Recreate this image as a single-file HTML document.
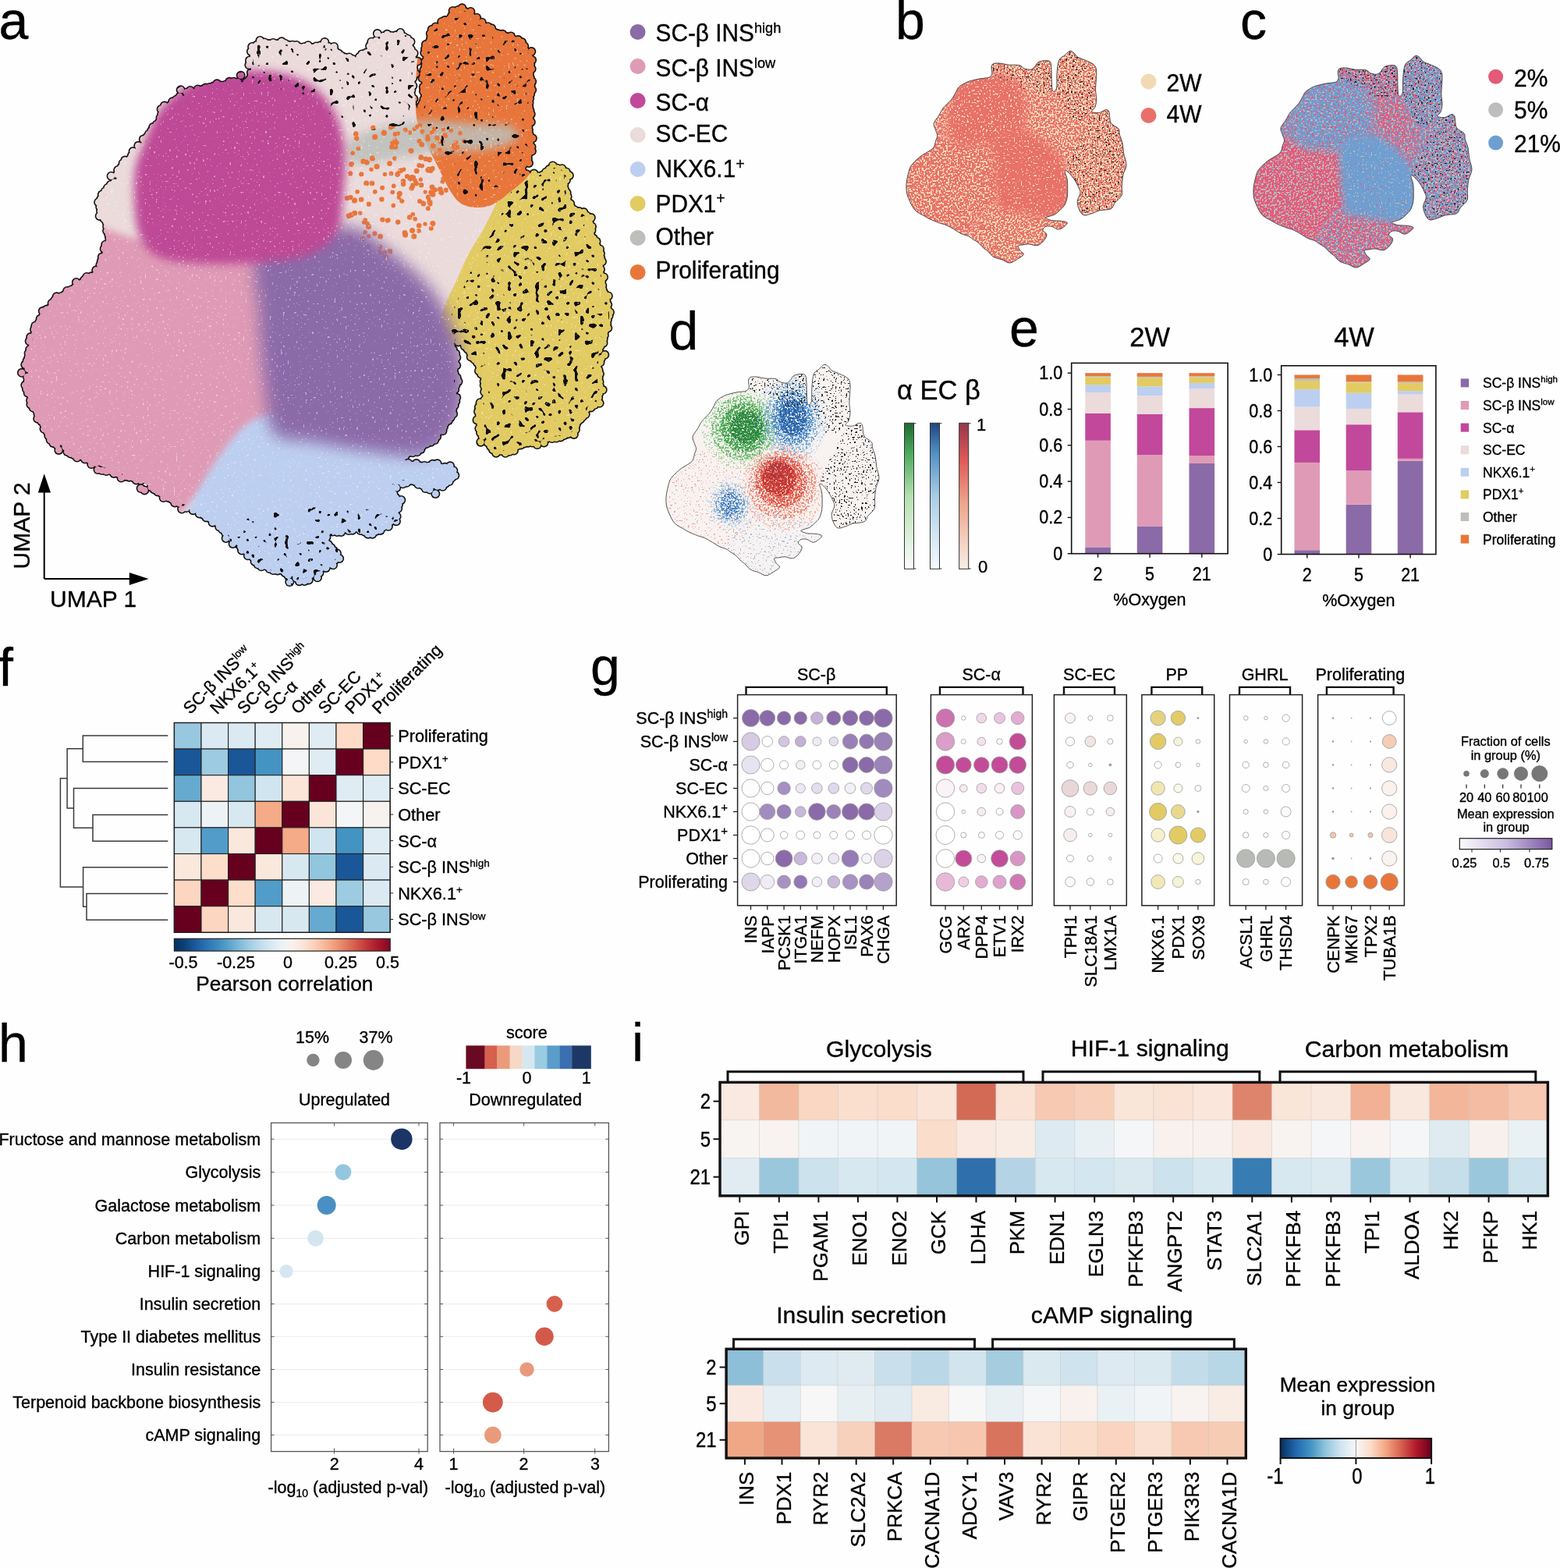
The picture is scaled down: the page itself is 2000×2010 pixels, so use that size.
<!DOCTYPE html>
<html><head><meta charset="utf-8"><title>Figure</title>
<style>html,body{margin:0;padding:0;background:#fff;}svg{display:block;}
text{font-family:"Liberation Sans", Arial, Helvetica, sans-serif;stroke:#000;stroke-width:0.35px;}</style></head>
<body><svg width="2000" height="2010" viewBox="0 0 2000 2010" font-family='"Liberation Sans", Arial, Helvetica, sans-serif'>
<rect width="2000" height="2010" fill="#fefefe"/>
<defs><filter id="spkDark" x="-5%" y="-5%" width="110%" height="110%" color-interpolation-filters="sRGB"><feTurbulence type="fractalNoise" baseFrequency="0.55" numOctaves="1" seed="7" result="n"/><feColorMatrix in="n" type="matrix" values="0 0 0 0 0.102 0 0 0 0 0.102 0 0 0 0 0.102 30 0 0 0 -18.00" result="c"/><feComposite in="c" in2="SourceGraphic" operator="in"/></filter>
<filter id="spkWhite" x="-5%" y="-5%" width="110%" height="110%" color-interpolation-filters="sRGB"><feTurbulence type="fractalNoise" baseFrequency="0.6" numOctaves="1" seed="11" result="n"/><feColorMatrix in="n" type="matrix" values="0 0 0 0 1.000 0 0 0 0 1.000 0 0 0 0 1.000 30 0 0 0 -18.60" result="c"/><feComposite in="c" in2="SourceGraphic" operator="in"/></filter>
<filter id="sqDark" x="-5%" y="-5%" width="110%" height="110%" color-interpolation-filters="sRGB"><feTurbulence type="fractalNoise" baseFrequency="0.14" numOctaves="1" seed="4" result="n"/><feColorMatrix in="n" type="matrix" values="0 0 0 0 0.05 0 0 0 0 0.05 0 0 0 0 0.05 -30 0 0 0 11.25" result="c"/><feComposite in="c" in2="SourceGraphic" operator="in"/></filter>
<filter id="sqDark2" x="-5%" y="-5%" width="110%" height="110%" color-interpolation-filters="sRGB"><feTurbulence type="fractalNoise" baseFrequency="0.14" numOctaves="1" seed="4" result="n"/><feColorMatrix in="n" type="matrix" values="0 0 0 0 0.05 0 0 0 0 0.05 0 0 0 0 0.05 -30 0 0 0 10.20" result="c"/><feComposite in="c" in2="SourceGraphic" operator="in"/></filter>
<filter id="spW" x="-5%" y="-5%" width="110%" height="110%" color-interpolation-filters="sRGB"><feTurbulence type="fractalNoise" baseFrequency="0.35" numOctaves="1" seed="9" result="n"/><feColorMatrix in="n" type="matrix" values="0 0 0 0 1 0 0 0 0 1 0 0 0 0 1 30 0 0 0 -20.4" result="c"/><feComposite in="c" in2="SourceGraphic" operator="in"/></filter>
<filter id="bl6" x="-20%" y="-20%" width="140%" height="140%"><feGaussianBlur stdDeviation="6"/></filter>
<filter id="bl10" x="-20%" y="-20%" width="140%" height="140%"><feGaussianBlur stdDeviation="10"/></filter>
<filter id="bl4" x="-20%" y="-20%" width="140%" height="140%"><feGaussianBlur stdDeviation="4"/></filter></defs>
<defs><mask id="maskA" maskUnits="userSpaceOnUse" x="0" y="0" width="820" height="780"><g fill="#fff"><path d="M326.0,91.0C327.3,85.3 323.3,75.7 324.0,70.0C324.7,64.3 325.3,59.5 330.0,57.0C334.7,54.5 345.7,54.8 352.0,55.0C358.3,55.2 362.3,57.0 368.0,58.0C373.7,59.0 379.5,60.5 386.0,61.0C392.5,61.5 401.0,60.7 407.0,61.0C413.0,61.3 417.3,61.0 422.0,63.0C426.7,65.0 429.3,70.7 435.0,73.0C440.7,75.3 450.2,77.8 456.0,77.0C461.8,76.2 465.7,72.2 470.0,68.0C474.3,63.8 476.5,55.7 482.0,52.0C487.5,48.3 496.3,46.5 503.0,46.0C509.7,45.5 518.0,45.0 522.0,49.0C526.0,53.0 526.0,59.8 527.0,70.0C528.0,80.2 527.5,97.5 528.0,110.0C528.5,122.5 528.7,138.0 530.0,145.0C531.3,152.0 533.5,153.2 536.0,152.0C538.5,150.8 543.3,148.3 545.0,138.0C546.7,127.7 544.7,105.5 546.0,90.0C547.3,74.5 548.7,55.3 553.0,45.0C557.3,34.7 566.0,33.3 572.0,28.0C578.0,22.7 583.8,14.5 589.0,13.0C594.2,11.5 598.7,15.7 603.0,19.0C607.3,22.3 609.2,29.0 615.0,33.0C620.8,37.0 629.8,39.3 638.0,43.0C646.2,46.7 657.5,50.8 664.0,55.0C670.5,59.2 674.3,62.2 677.0,68.0C679.7,73.8 680.0,77.2 680.0,90.0C680.0,102.8 677.0,130.0 677.0,145.0C677.0,160.0 680.3,169.8 680.0,180.0C679.7,190.2 677.7,199.0 675.0,206.0C672.3,213.0 661.5,218.8 664.0,222.0C666.5,225.2 682.2,226.2 690.0,225.0C697.8,223.8 705.7,215.7 711.0,215.0C716.3,214.3 719.7,216.5 722.0,221.0C724.3,225.5 723.7,235.2 725.0,242.0C726.3,248.8 725.0,255.5 730.0,262.0C735.0,268.5 750.3,274.7 755.0,281.0C759.7,287.3 755.8,291.8 758.0,300.0C760.2,308.2 765.7,319.2 768.0,330.0C770.3,340.8 769.8,352.5 772.0,365.0C774.2,377.5 781.3,392.5 781.0,405.0C780.7,417.5 772.5,427.7 770.0,440.0C767.5,452.3 766.8,467.3 766.0,479.0C765.2,490.7 769.0,500.5 765.0,510.0C761.0,519.5 748.0,528.3 742.0,536.0C736.0,543.7 737.7,551.7 729.0,556.0C720.3,560.3 700.8,559.3 690.0,562.0C679.2,564.7 672.7,569.3 664.0,572.0C655.3,574.7 644.8,579.7 638.0,578.0C631.2,576.3 626.8,569.8 623.0,562.0C619.2,554.2 614.7,541.0 615.0,531.0C615.3,521.0 624.2,509.8 625.0,502.0C625.8,494.2 623.0,491.3 620.0,484.0C617.0,476.7 612.0,466.0 607.0,458.0C602.0,450.0 595.2,441.7 590.0,436.0C584.8,430.3 578.7,424.7 576.0,424.0C573.3,423.3 573.2,426.8 574.0,432.0C574.8,437.2 579.7,446.3 581.0,455.0C582.3,463.7 582.0,474.0 582.0,484.0C582.0,494.0 582.5,505.5 581.0,515.0C579.5,524.5 576.5,534.0 573.0,541.0C569.5,548.0 565.7,551.3 560.0,557.0C554.3,562.7 546.3,570.7 539.0,575.0C531.7,579.3 521.2,580.8 516.0,583.0C510.8,585.2 505.8,585.8 508.0,588.0C510.2,590.2 520.3,594.3 529.0,596.0C537.7,597.7 551.3,596.7 560.0,598.0C568.7,599.3 579.7,600.5 581.0,604.0C582.3,607.5 573.2,615.2 568.0,619.0C562.8,622.8 556.5,627.3 550.0,627.0C543.5,626.7 536.0,618.7 529.0,617.0C522.0,615.3 513.2,614.8 508.0,617.0C502.8,619.2 497.5,625.7 498.0,630.0C498.5,634.3 509.8,637.8 511.0,643.0C512.2,648.2 509.0,655.0 505.0,661.0C501.0,667.0 492.5,675.5 487.0,679.0C481.5,682.5 478.0,682.3 472.0,682.0C466.0,681.7 458.0,677.3 451.0,677.0C444.0,676.7 436.2,679.0 430.0,680.0C423.8,681.0 415.3,679.7 414.0,683.0C412.7,686.3 418.8,695.0 422.0,700.0C425.2,705.0 434.7,708.2 433.0,713.0C431.3,717.8 419.8,724.2 412.0,729.0C404.2,733.8 394.7,741.7 386.0,742.0C377.3,742.3 369.2,734.5 360.0,731.0C350.8,727.5 339.3,726.2 331.0,721.0C322.7,715.8 315.2,704.7 310.0,700.0C304.8,695.3 305.2,697.7 300.0,693.0C294.8,688.3 285.7,677.5 279.0,672.0C272.3,666.5 265.5,663.7 260.0,660.0C254.5,656.3 252.5,653.2 246.0,650.0C239.5,646.8 229.0,644.8 221.0,641.0C213.0,637.2 206.3,631.8 198.0,627.0C189.7,622.2 179.7,615.8 171.0,612.0C162.3,608.2 155.3,607.5 146.0,604.0C136.7,600.5 123.7,595.2 115.0,591.0C106.3,586.8 101.7,583.5 94.0,579.0C86.3,574.5 75.7,570.0 69.0,564.0C62.3,558.0 58.2,550.2 54.0,543.0C49.8,535.8 46.8,528.2 44.0,521.0C41.2,513.8 38.3,508.3 37.0,500.0C35.7,491.7 35.5,480.0 36.0,471.0C36.5,462.0 38.0,455.2 40.0,446.0C42.0,436.8 45.0,423.7 48.0,416.0C51.0,408.3 53.8,405.2 58.0,400.0C62.2,394.8 67.7,389.8 73.0,385.0C78.3,380.2 83.5,375.5 90.0,371.0C96.5,366.5 105.5,362.5 112.0,358.0C118.5,353.5 125.2,349.8 129.0,344.0C132.8,338.2 133.0,329.7 135.0,323.0C137.0,316.3 141.0,310.3 141.0,304.0C141.0,297.7 137.0,292.0 135.0,285.0C133.0,278.0 127.2,270.3 129.0,262.0C130.8,253.7 140.8,243.7 146.0,235.0C151.2,226.3 155.8,216.2 160.0,210.0C164.2,203.8 165.8,203.5 171.0,198.0C176.2,192.5 185.5,184.3 191.0,177.0C196.5,169.7 200.2,160.7 204.0,154.0C207.8,147.3 208.2,142.5 214.0,137.0C219.8,131.5 231.3,124.8 239.0,121.0C246.7,117.2 252.0,116.2 260.0,114.0C268.0,111.8 277.7,109.7 287.0,108.0C296.3,106.3 309.5,106.8 316.0,104.0C322.5,101.2 324.7,96.7 326.0,91.0Z"/><circle cx="326.0" cy="87.4" r="4.4"/><circle cx="319.4" cy="83.3" r="4.4"/><circle cx="320.0" cy="77.5" r="4.4"/><circle cx="325.2" cy="71.7" r="4.4"/><circle cx="321.9" cy="66.0" r="4.4"/><circle cx="323.2" cy="60.0" r="4.4"/><circle cx="329.2" cy="57.8" r="4.4"/><circle cx="333.4" cy="52.0" r="4.4"/><circle cx="339.2" cy="54.4" r="4.4"/><circle cx="344.9" cy="56.1" r="4.4"/><circle cx="350.2" cy="54.9" r="4.4"/><circle cx="355.2" cy="56.1" r="4.4"/><circle cx="361.0" cy="53.3" r="4.4"/><circle cx="365.3" cy="55.7" r="4.4"/><circle cx="370.0" cy="57.8" r="4.4"/><circle cx="375.0" cy="57.7" r="4.4"/><circle cx="380.1" cy="58.0" r="4.4"/><circle cx="384.9" cy="60.7" r="4.4"/><circle cx="389.9" cy="60.2" r="4.4"/><circle cx="395.0" cy="58.2" r="4.4"/><circle cx="400.3" cy="61.1" r="4.4"/><circle cx="405.3" cy="59.5" r="4.4"/><circle cx="410.5" cy="58.6" r="4.4"/><circle cx="416.3" cy="53.9" r="4.4"/><circle cx="421.0" cy="59.8" r="4.4"/><circle cx="428.1" cy="59.9" r="4.4"/><circle cx="430.0" cy="66.0" r="4.4"/><circle cx="433.9" cy="68.6" r="4.4"/><circle cx="437.5" cy="71.5" r="4.4"/><circle cx="442.1" cy="73.6" r="4.4"/><circle cx="447.6" cy="73.4" r="4.4"/><circle cx="452.3" cy="76.0" r="4.4"/><circle cx="457.4" cy="77.9" r="4.4"/><circle cx="460.8" cy="73.1" r="4.4"/><circle cx="464.0" cy="69.5" r="4.4"/><circle cx="469.6" cy="67.6" r="4.4"/><circle cx="474.1" cy="65.0" r="4.4"/><circle cx="474.1" cy="59.0" r="4.4"/><circle cx="476.3" cy="53.7" r="4.4"/><circle cx="482.1" cy="52.1" r="4.4"/><circle cx="483.8" cy="43.1" r="4.4"/><circle cx="491.1" cy="46.5" r="4.4"/><circle cx="496.4" cy="43.8" r="4.4"/><circle cx="502.0" cy="46.0" r="4.4"/><circle cx="507.4" cy="45.3" r="4.4"/><circle cx="513.3" cy="42.0" r="4.4"/><circle cx="517.9" cy="47.2" r="4.4"/><circle cx="522.4" cy="49.7" r="4.4"/><circle cx="526.5" cy="53.5" r="4.4"/><circle cx="524.4" cy="58.9" r="4.4"/><circle cx="526.9" cy="63.2" r="4.4"/><circle cx="530.6" cy="68.2" r="4.4"/><circle cx="528.6" cy="74.1" r="4.4"/><circle cx="535.3" cy="78.6" r="4.4"/><circle cx="530.4" cy="83.8" r="4.4"/><circle cx="530.6" cy="89.1" r="4.4"/><circle cx="533.0" cy="94.5" r="4.4"/><circle cx="529.5" cy="99.9" r="4.4"/><circle cx="527.2" cy="105.1" r="4.4"/><circle cx="529.4" cy="109.9" r="4.4"/><circle cx="527.3" cy="115.5" r="4.4"/><circle cx="527.0" cy="121.2" r="4.4"/><circle cx="530.5" cy="126.7" r="4.4"/><circle cx="528.7" cy="132.2" r="4.4"/><circle cx="529.6" cy="137.1" r="4.4"/><circle cx="532.7" cy="141.9" r="4.4"/><circle cx="531.5" cy="146.8" r="4.4"/><circle cx="534.0" cy="150.0" r="4.4"/><circle cx="538.3" cy="150.8" r="4.4"/><circle cx="537.1" cy="144.7" r="4.4"/><circle cx="542.4" cy="142.6" r="4.4"/><circle cx="539.5" cy="136.6" r="4.4"/><circle cx="541.6" cy="132.6" r="4.4"/><circle cx="543.4" cy="127.3" r="4.4"/><circle cx="545.2" cy="122.4" r="4.4"/><circle cx="542.9" cy="117.1" r="4.4"/><circle cx="542.8" cy="111.5" r="4.4"/><circle cx="545.8" cy="105.9" r="4.4"/><circle cx="541.6" cy="100.3" r="4.4"/><circle cx="542.8" cy="94.9" r="4.4"/><circle cx="543.4" cy="89.8" r="4.4"/><circle cx="545.1" cy="84.6" r="4.4"/><circle cx="545.2" cy="79.1" r="4.4"/><circle cx="547.5" cy="73.7" r="4.4"/><circle cx="544.3" cy="67.8" r="4.4"/><circle cx="545.1" cy="62.4" r="4.4"/><circle cx="545.9" cy="57.1" r="4.4"/><circle cx="550.8" cy="53.1" r="4.4"/><circle cx="552.3" cy="48.1" r="4.4"/><circle cx="551.8" cy="42.9" r="4.4"/><circle cx="553.7" cy="37.8" r="4.4"/><circle cx="558.6" cy="34.4" r="4.4"/><circle cx="564.5" cy="34.2" r="4.4"/><circle cx="566.2" cy="27.9" r="4.4"/><circle cx="570.2" cy="26.1" r="4.4"/><circle cx="576.4" cy="24.4" r="4.4"/><circle cx="579.0" cy="20.5" r="4.4"/><circle cx="580.6" cy="13.9" r="4.4"/><circle cx="587.3" cy="12.9" r="4.4"/><circle cx="592.4" cy="10.3" r="4.4"/><circle cx="596.4" cy="15.1" r="4.4"/><circle cx="603.4" cy="14.9" r="4.4"/><circle cx="604.5" cy="21.4" r="4.4"/><circle cx="611.1" cy="22.7" r="4.4"/><circle cx="611.3" cy="28.9" r="4.4"/><circle cx="617.8" cy="28.7" r="4.4"/><circle cx="620.6" cy="33.8" r="4.4"/><circle cx="625.5" cy="34.2" r="4.4"/><circle cx="630.2" cy="36.3" r="4.4"/><circle cx="633.9" cy="41.6" r="4.4"/><circle cx="638.9" cy="43.3" r="4.4"/><circle cx="644.3" cy="43.8" r="4.4"/><circle cx="648.9" cy="46.8" r="4.4"/><circle cx="655.0" cy="46.5" r="4.4"/><circle cx="658.8" cy="51.0" r="4.4"/><circle cx="664.3" cy="51.1" r="4.4"/><circle cx="669.1" cy="54.1" r="4.4"/><circle cx="672.2" cy="59.2" r="4.4"/><circle cx="673.3" cy="64.5" r="4.4"/><circle cx="681.3" cy="66.1" r="4.4"/><circle cx="678.2" cy="72.6" r="4.4"/><circle cx="682.1" cy="77.0" r="4.4"/><circle cx="680.2" cy="82.6" r="4.4"/><circle cx="681.6" cy="88.3" r="4.4"/><circle cx="679.0" cy="93.8" r="4.4"/><circle cx="679.6" cy="99.2" r="4.4"/><circle cx="682.1" cy="104.4" r="4.4"/><circle cx="680.6" cy="109.6" r="4.4"/><circle cx="682.1" cy="115.3" r="4.4"/><circle cx="680.1" cy="120.7" r="4.4"/><circle cx="679.1" cy="126.3" r="4.4"/><circle cx="678.5" cy="131.7" r="4.4"/><circle cx="678.3" cy="136.8" r="4.4"/><circle cx="679.4" cy="141.6" r="4.4"/><circle cx="680.7" cy="146.2" r="4.4"/><circle cx="678.8" cy="151.0" r="4.4"/><circle cx="680.8" cy="156.4" r="4.4"/><circle cx="677.5" cy="162.0" r="4.4"/><circle cx="677.9" cy="166.8" r="4.4"/><circle cx="678.6" cy="172.2" r="4.4"/><circle cx="682.8" cy="177.3" r="4.4"/><circle cx="679.2" cy="182.3" r="4.4"/><circle cx="681.5" cy="188.2" r="4.4"/><circle cx="681.9" cy="193.8" r="4.4"/><circle cx="677.2" cy="198.0" r="4.4"/><circle cx="676.8" cy="202.9" r="4.4"/><circle cx="678.0" cy="209.0" r="4.4"/><circle cx="671.1" cy="210.8" r="4.4"/><circle cx="668.9" cy="215.9" r="4.4"/><circle cx="664.0" cy="218.8" r="4.4"/><circle cx="668.1" cy="216.9" r="4.4"/><circle cx="670.3" cy="220.1" r="4.4"/><circle cx="675.2" cy="223.2" r="4.4"/><circle cx="679.9" cy="226.6" r="4.4"/><circle cx="684.6" cy="222.6" r="4.4"/><circle cx="690.2" cy="225.9" r="4.4"/><circle cx="695.6" cy="224.6" r="4.4"/><circle cx="700.0" cy="220.7" r="4.4"/><circle cx="704.2" cy="217.1" r="4.4"/><circle cx="708.7" cy="212.4" r="4.4"/><circle cx="714.5" cy="215.7" r="4.4"/><circle cx="720.5" cy="216.2" r="4.4"/><circle cx="725.8" cy="220.4" r="4.4"/><circle cx="729.9" cy="225.0" r="4.4"/><circle cx="725.9" cy="231.0" r="4.4"/><circle cx="723.3" cy="236.8" r="4.4"/><circle cx="723.9" cy="242.2" r="4.4"/><circle cx="726.6" cy="247.0" r="4.4"/><circle cx="727.6" cy="251.9" r="4.4"/><circle cx="727.3" cy="257.1" r="4.4"/><circle cx="731.1" cy="261.1" r="4.4"/><circle cx="732.6" cy="265.8" r="4.4"/><circle cx="736.7" cy="269.2" r="4.4"/><circle cx="742.3" cy="271.1" r="4.4"/><circle cx="748.4" cy="272.1" r="4.4"/><circle cx="752.0" cy="276.4" r="4.4"/><circle cx="757.8" cy="279.1" r="4.4"/><circle cx="755.8" cy="286.0" r="4.4"/><circle cx="758.9" cy="290.4" r="4.4"/><circle cx="758.4" cy="295.2" r="4.4"/><circle cx="757.3" cy="301.1" r="4.4"/><circle cx="760.7" cy="305.6" r="4.4"/><circle cx="764.5" cy="309.5" r="4.4"/><circle cx="764.7" cy="315.0" r="4.4"/><circle cx="769.0" cy="319.4" r="4.4"/><circle cx="769.9" cy="325.0" r="4.4"/><circle cx="770.2" cy="330.6" r="4.4"/><circle cx="771.9" cy="335.3" r="4.4"/><circle cx="768.4" cy="340.6" r="4.4"/><circle cx="769.9" cy="345.4" r="4.4"/><circle cx="769.3" cy="350.5" r="4.4"/><circle cx="774.0" cy="355.2" r="4.4"/><circle cx="771.4" cy="360.7" r="4.4"/><circle cx="772.3" cy="365.9" r="4.4"/><circle cx="772.6" cy="370.8" r="4.4"/><circle cx="774.5" cy="375.5" r="4.4"/><circle cx="779.8" cy="379.4" r="4.4"/><circle cx="777.4" cy="385.5" r="4.4"/><circle cx="779.2" cy="390.5" r="4.4"/><circle cx="778.6" cy="395.8" r="4.4"/><circle cx="781.9" cy="400.2" r="4.4"/><circle cx="780.6" cy="405.0" r="4.4"/><circle cx="779.0" cy="409.8" r="4.4"/><circle cx="778.2" cy="414.7" r="4.4"/><circle cx="779.3" cy="420.5" r="4.4"/><circle cx="775.3" cy="424.4" r="4.4"/><circle cx="774.8" cy="429.7" r="4.4"/><circle cx="773.7" cy="434.7" r="4.4"/><circle cx="773.5" cy="439.7" r="4.4"/><circle cx="769.6" cy="443.9" r="4.4"/><circle cx="767.9" cy="448.8" r="4.4"/><circle cx="775.3" cy="454.8" r="4.4"/><circle cx="770.8" cy="459.5" r="4.4"/><circle cx="769.5" cy="464.6" r="4.4"/><circle cx="765.9" cy="469.4" r="4.4"/><circle cx="767.6" cy="474.4" r="4.4"/><circle cx="768.9" cy="479.2" r="4.4"/><circle cx="767.6" cy="484.4" r="4.4"/><circle cx="768.5" cy="489.6" r="4.4"/><circle cx="768.9" cy="494.7" r="4.4"/><circle cx="772.7" cy="499.8" r="4.4"/><circle cx="768.1" cy="504.7" r="4.4"/><circle cx="767.2" cy="509.8" r="4.4"/><circle cx="768.6" cy="516.8" r="4.4"/><circle cx="762.2" cy="519.1" r="4.4"/><circle cx="757.6" cy="522.4" r="4.4"/><circle cx="751.9" cy="524.4" r="4.4"/><circle cx="750.7" cy="531.1" r="4.4"/><circle cx="746.9" cy="534.3" r="4.4"/><circle cx="744.1" cy="537.5" r="4.4"/><circle cx="740.6" cy="540.5" r="4.4"/><circle cx="738.5" cy="545.3" r="4.4"/><circle cx="737.9" cy="550.8" r="4.4"/><circle cx="735.8" cy="556.9" r="4.4"/><circle cx="728.3" cy="556.2" r="4.4"/><circle cx="723.4" cy="558.0" r="4.4"/><circle cx="718.7" cy="560.4" r="4.4"/><circle cx="713.3" cy="561.6" r="4.4"/><circle cx="707.7" cy="562.1" r="4.4"/><circle cx="702.0" cy="561.7" r="4.4"/><circle cx="697.4" cy="567.5" r="4.4"/><circle cx="691.6" cy="561.2" r="4.4"/><circle cx="688.8" cy="570.1" r="4.4"/><circle cx="682.5" cy="567.6" r="4.4"/><circle cx="677.0" cy="567.7" r="4.4"/><circle cx="672.0" cy="568.5" r="4.4"/><circle cx="667.6" cy="570.4" r="4.4"/><circle cx="662.8" cy="571.6" r="4.4"/><circle cx="659.0" cy="577.6" r="4.4"/><circle cx="653.4" cy="578.8" r="4.4"/><circle cx="648.0" cy="580.8" r="4.4"/><circle cx="642.3" cy="578.1" r="4.4"/><circle cx="636.0" cy="580.7" r="4.4"/><circle cx="632.0" cy="576.4" r="4.4"/><circle cx="628.9" cy="572.0" r="4.4"/><circle cx="625.5" cy="567.5" r="4.4"/><circle cx="616.3" cy="566.7" r="4.4"/><circle cx="618.3" cy="559.2" r="4.4"/><circle cx="616.0" cy="554.6" r="4.4"/><circle cx="614.4" cy="549.3" r="4.4"/><circle cx="615.8" cy="543.3" r="4.4"/><circle cx="611.5" cy="538.4" r="4.4"/><circle cx="614.5" cy="532.9" r="4.4"/><circle cx="613.0" cy="527.5" r="4.4"/><circle cx="613.9" cy="521.8" r="4.4"/><circle cx="615.6" cy="516.2" r="4.4"/><circle cx="621.3" cy="512.7" r="4.4"/><circle cx="623.7" cy="508.1" r="4.4"/><circle cx="621.2" cy="502.3" r="4.4"/><circle cx="622.1" cy="497.8" r="4.4"/><circle cx="620.7" cy="494.1" r="4.4"/><circle cx="620.6" cy="489.0" r="4.4"/><circle cx="620.8" cy="482.8" r="4.4"/><circle cx="617.0" cy="479.5" r="4.4"/><circle cx="614.0" cy="475.4" r="4.4"/><circle cx="614.6" cy="469.3" r="4.4"/><circle cx="611.8" cy="464.7" r="4.4"/><circle cx="608.2" cy="460.8" r="4.4"/><circle cx="603.7" cy="457.6" r="4.4"/><circle cx="602.9" cy="451.7" r="4.4"/><circle cx="599.4" cy="447.5" r="4.4"/><circle cx="595.7" cy="443.7" r="4.4"/><circle cx="593.5" cy="439.0" r="4.4"/><circle cx="587.4" cy="438.4" r="4.4"/><circle cx="586.7" cy="432.1" r="4.4"/><circle cx="580.3" cy="431.9" r="4.4"/><circle cx="579.4" cy="425.0" r="4.4"/><circle cx="573.6" cy="423.6" r="4.4"/><circle cx="572.6" cy="428.6" r="4.4"/><circle cx="574.4" cy="434.1" r="4.4"/><circle cx="579.1" cy="437.2" r="4.4"/><circle cx="578.4" cy="442.9" r="4.4"/><circle cx="580.8" cy="448.1" r="4.4"/><circle cx="584.2" cy="453.3" r="4.4"/><circle cx="585.3" cy="458.3" r="4.4"/><circle cx="583.1" cy="463.4" r="4.4"/><circle cx="585.2" cy="468.4" r="4.4"/><circle cx="582.0" cy="473.6" r="4.4"/><circle cx="582.7" cy="478.8" r="4.4"/><circle cx="585.7" cy="484.0" r="4.4"/><circle cx="587.5" cy="488.9" r="4.4"/><circle cx="584.5" cy="494.0" r="4.4"/><circle cx="583.2" cy="499.2" r="4.4"/><circle cx="580.5" cy="504.2" r="4.4"/><circle cx="585.2" cy="509.6" r="4.4"/><circle cx="584.3" cy="514.6" r="4.4"/><circle cx="582.7" cy="519.7" r="4.4"/><circle cx="580.4" cy="524.8" r="4.4"/><circle cx="581.1" cy="530.6" r="4.4"/><circle cx="577.9" cy="534.9" r="4.4"/><circle cx="575.1" cy="539.0" r="4.4"/><circle cx="570.8" cy="542.3" r="4.4"/><circle cx="569.0" cy="547.1" r="4.4"/><circle cx="567.5" cy="552.3" r="4.4"/><circle cx="561.9" cy="554.0" r="4.4"/><circle cx="560.1" cy="559.7" r="4.4"/><circle cx="557.4" cy="564.1" r="4.4"/><circle cx="552.5" cy="566.7" r="4.4"/><circle cx="547.1" cy="568.8" r="4.4"/><circle cx="542.3" cy="571.1" r="4.4"/><circle cx="539.5" cy="575.9" r="4.4"/><circle cx="534.8" cy="579.3" r="4.4"/><circle cx="529.1" cy="580.3" r="4.4"/><circle cx="523.6" cy="580.5" r="4.4"/><circle cx="519.7" cy="584.2" r="4.4"/><circle cx="513.8" cy="582.4" r="4.4"/><circle cx="509.9" cy="587.6" r="4.4"/><circle cx="509.9" cy="589.4" r="4.4"/><circle cx="515.4" cy="588.0" r="4.4"/><circle cx="517.8" cy="594.2" r="4.4"/><circle cx="523.2" cy="593.7" r="4.4"/><circle cx="527.7" cy="596.2" r="4.4"/><circle cx="533.8" cy="594.1" r="4.4"/><circle cx="538.6" cy="597.3" r="4.4"/><circle cx="544.0" cy="596.9" r="4.4"/><circle cx="549.3" cy="597.5" r="4.4"/><circle cx="554.7" cy="594.8" r="4.4"/><circle cx="560.6" cy="594.3" r="4.4"/><circle cx="565.1" cy="599.2" r="4.4"/><circle cx="570.4" cy="598.8" r="4.4"/><circle cx="577.1" cy="597.3" r="4.4"/><circle cx="581.3" cy="603.2" r="4.4"/><circle cx="583.3" cy="609.6" r="4.4"/><circle cx="579.1" cy="612.6" r="4.4"/><circle cx="575.9" cy="617.1" r="4.4"/><circle cx="571.3" cy="619.7" r="4.4"/><circle cx="567.5" cy="623.8" r="4.4"/><circle cx="560.7" cy="623.4" r="4.4"/><circle cx="558.3" cy="633.0" r="4.4"/><circle cx="551.0" cy="627.6" r="4.4"/><circle cx="545.5" cy="626.1" r="4.4"/><circle cx="541.9" cy="622.1" r="4.4"/><circle cx="536.2" cy="620.8" r="4.4"/><circle cx="532.1" cy="617.2" r="4.4"/><circle cx="527.0" cy="616.2" r="4.4"/><circle cx="521.3" cy="618.8" r="4.4"/><circle cx="516.4" cy="620.3" r="4.4"/><circle cx="511.4" cy="616.6" r="4.4"/><circle cx="506.8" cy="617.1" r="4.4"/><circle cx="508.2" cy="625.2" r="4.4"/><circle cx="502.7" cy="625.2" r="4.4"/><circle cx="499.0" cy="628.4" r="4.4"/><circle cx="502.1" cy="630.1" r="4.4"/><circle cx="504.7" cy="633.3" r="4.4"/><circle cx="507.5" cy="638.0" r="4.4"/><circle cx="514.3" cy="641.0" r="4.4"/><circle cx="511.1" cy="646.7" r="4.4"/><circle cx="510.2" cy="651.8" r="4.4"/><circle cx="506.8" cy="655.2" r="4.4"/><circle cx="508.6" cy="661.9" r="4.4"/><circle cx="507.9" cy="668.2" r="4.4"/><circle cx="500.1" cy="668.9" r="4.4"/><circle cx="497.9" cy="674.8" r="4.4"/><circle cx="491.3" cy="675.6" r="4.4"/><circle cx="487.6" cy="680.0" r="4.4"/><circle cx="481.9" cy="680.9" r="4.4"/><circle cx="477.4" cy="684.7" r="4.4"/><circle cx="471.8" cy="684.7" r="4.4"/><circle cx="467.3" cy="681.5" r="4.4"/><circle cx="462.2" cy="680.1" r="4.4"/><circle cx="457.4" cy="677.0" r="4.4"/><circle cx="451.8" cy="679.7" r="4.4"/><circle cx="447.2" cy="680.1" r="4.4"/><circle cx="441.8" cy="678.0" r="4.4"/><circle cx="437.3" cy="682.0" r="4.4"/><circle cx="432.2" cy="682.0" r="4.4"/><circle cx="426.4" cy="681.6" r="4.4"/><circle cx="421.4" cy="681.5" r="4.4"/><circle cx="416.5" cy="682.0" r="4.4"/><circle cx="416.1" cy="684.6" r="4.4"/><circle cx="418.5" cy="688.3" r="4.4"/><circle cx="417.5" cy="694.6" r="4.4"/><circle cx="420.9" cy="698.1" r="4.4"/><circle cx="424.5" cy="702.1" r="4.4"/><circle cx="427.7" cy="705.8" r="4.4"/><circle cx="431.9" cy="709.2" r="4.4"/><circle cx="435.2" cy="716.0" r="4.4"/><circle cx="429.2" cy="718.0" r="4.4"/><circle cx="427.0" cy="724.3" r="4.4"/><circle cx="420.8" cy="723.4" r="4.4"/><circle cx="417.9" cy="727.9" r="4.4"/><circle cx="411.5" cy="728.2" r="4.4"/><circle cx="409.5" cy="734.2" r="4.4"/><circle cx="407.0" cy="740.3" r="4.4"/><circle cx="398.4" cy="736.7" r="4.4"/><circle cx="395.8" cy="743.4" r="4.4"/><circle cx="390.4" cy="745.0" r="4.4"/><circle cx="383.8" cy="745.2" r="4.4"/><circle cx="379.6" cy="740.8" r="4.4"/><circle cx="371.3" cy="746.1" r="4.4"/><circle cx="369.5" cy="738.0" r="4.4"/><circle cx="365.5" cy="734.2" r="4.4"/><circle cx="361.1" cy="731.0" r="4.4"/><circle cx="355.7" cy="731.4" r="4.4"/><circle cx="350.5" cy="731.1" r="4.4"/><circle cx="345.6" cy="729.1" r="4.4"/><circle cx="341.1" cy="725.6" r="4.4"/><circle cx="335.2" cy="726.3" r="4.4"/><circle cx="330.6" cy="723.6" r="4.4"/><circle cx="326.6" cy="719.7" r="4.4"/><circle cx="324.2" cy="714.1" r="4.4"/><circle cx="317.9" cy="712.3" r="4.4"/><circle cx="316.1" cy="706.7" r="4.4"/><circle cx="310.1" cy="705.5" r="4.4"/><circle cx="308.9" cy="701.2" r="4.4"/><circle cx="304.7" cy="697.2" r="4.4"/><circle cx="298.6" cy="697.0" r="4.4"/><circle cx="297.3" cy="689.8" r="4.4"/><circle cx="289.7" cy="690.0" r="4.4"/><circle cx="289.1" cy="683.0" r="4.4"/><circle cx="285.2" cy="678.8" r="4.4"/><circle cx="281.2" cy="675.3" r="4.4"/><circle cx="279.0" cy="670.1" r="4.4"/><circle cx="272.5" cy="669.7" r="4.4"/><circle cx="269.6" cy="664.4" r="4.4"/><circle cx="264.5" cy="663.4" r="4.4"/><circle cx="261.1" cy="659.9" r="4.4"/><circle cx="255.7" cy="658.5" r="4.4"/><circle cx="253.6" cy="653.8" r="4.4"/><circle cx="247.6" cy="654.2" r="4.4"/><circle cx="244.6" cy="648.9" r="4.4"/><circle cx="238.8" cy="651.1" r="4.4"/><circle cx="233.1" cy="652.6" r="4.4"/><circle cx="229.7" cy="645.0" r="4.4"/><circle cx="224.1" cy="644.4" r="4.4"/><circle cx="220.4" cy="640.0" r="4.4"/><circle cx="215.8" cy="637.9" r="4.4"/><circle cx="209.6" cy="638.1" r="4.4"/><circle cx="207.3" cy="632.3" r="4.4"/><circle cx="202.3" cy="630.4" r="4.4"/><circle cx="197.7" cy="627.5" r="4.4"/><circle cx="193.8" cy="624.4" r="4.4"/><circle cx="185.3" cy="628.4" r="4.4"/><circle cx="180.6" cy="626.1" r="4.4"/><circle cx="180.4" cy="615.8" r="4.4"/><circle cx="174.7" cy="615.5" r="4.4"/><circle cx="170.9" cy="612.2" r="4.4"/><circle cx="165.6" cy="611.7" r="4.4"/><circle cx="160.9" cy="610.7" r="4.4"/><circle cx="155.5" cy="612.6" r="4.4"/><circle cx="151.8" cy="607.2" r="4.4"/><circle cx="146.1" cy="606.9" r="4.4"/><circle cx="142.1" cy="603.6" r="4.4"/><circle cx="136.4" cy="604.1" r="4.4"/><circle cx="131.0" cy="603.1" r="4.4"/><circle cx="125.5" cy="602.1" r="4.4"/><circle cx="123.3" cy="593.6" r="4.4"/><circle cx="117.2" cy="595.1" r="4.4"/><circle cx="114.5" cy="589.4" r="4.4"/><circle cx="108.9" cy="588.5" r="4.4"/><circle cx="105.3" cy="585.0" r="4.4"/><circle cx="98.8" cy="586.6" r="4.4"/><circle cx="95.2" cy="583.2" r="4.4"/><circle cx="90.5" cy="581.5" r="4.4"/><circle cx="86.3" cy="579.0" r="4.4"/><circle cx="83.7" cy="572.8" r="4.4"/><circle cx="75.3" cy="576.9" r="4.4"/><circle cx="73.0" cy="570.3" r="4.4"/><circle cx="68.2" cy="567.9" r="4.4"/><circle cx="64.5" cy="563.8" r="4.4"/><circle cx="62.3" cy="558.5" r="4.4"/><circle cx="60.6" cy="553.3" r="4.4"/><circle cx="56.5" cy="549.8" r="4.4"/><circle cx="56.1" cy="544.1" r="4.4"/><circle cx="53.0" cy="540.0" r="4.4"/><circle cx="48.2" cy="536.7" r="4.4"/><circle cx="48.6" cy="530.8" r="4.4"/><circle cx="47.0" cy="526.1" r="4.4"/><circle cx="42.5" cy="522.6" r="4.4"/><circle cx="39.4" cy="518.5" r="4.4"/><circle cx="39.1" cy="513.3" r="4.4"/><circle cx="39.9" cy="507.9" r="4.4"/><circle cx="35.7" cy="503.7" r="4.4"/><circle cx="33.9" cy="498.6" r="4.4"/><circle cx="32.3" cy="493.8" r="4.4"/><circle cx="35.4" cy="488.4" r="4.4"/><circle cx="34.8" cy="483.1" r="4.4"/><circle cx="27.9" cy="477.8" r="4.4"/><circle cx="36.0" cy="472.9" r="4.4"/><circle cx="32.3" cy="467.5" r="4.4"/><circle cx="34.6" cy="462.6" r="4.4"/><circle cx="36.4" cy="457.9" r="4.4"/><circle cx="36.6" cy="452.9" r="4.4"/><circle cx="38.2" cy="447.9" r="4.4"/><circle cx="41.4" cy="443.4" r="4.4"/><circle cx="37.7" cy="437.3" r="4.4"/><circle cx="39.2" cy="432.1" r="4.4"/><circle cx="44.6" cy="427.9" r="4.4"/><circle cx="44.0" cy="422.4" r="4.4"/><circle cx="45.3" cy="417.7" r="4.4"/><circle cx="49.7" cy="413.9" r="4.4"/><circle cx="51.6" cy="408.8" r="4.4"/><circle cx="55.0" cy="405.3" r="4.4"/><circle cx="54.8" cy="398.8" r="4.4"/><circle cx="60.0" cy="396.6" r="4.4"/><circle cx="65.0" cy="394.5" r="4.4"/><circle cx="66.6" cy="388.7" r="4.4"/><circle cx="70.1" cy="384.9" r="4.4"/><circle cx="72.7" cy="380.3" r="4.4"/><circle cx="78.9" cy="379.9" r="4.4"/><circle cx="83.4" cy="377.6" r="4.4"/><circle cx="86.1" cy="372.9" r="4.4"/><circle cx="91.4" cy="371.4" r="4.4"/><circle cx="95.8" cy="369.1" r="4.4"/><circle cx="97.8" cy="362.0" r="4.4"/><circle cx="104.4" cy="363.1" r="4.4"/><circle cx="108.0" cy="359.0" r="4.4"/><circle cx="111.2" cy="354.9" r="4.4"/><circle cx="117.2" cy="354.3" r="4.4"/><circle cx="122.2" cy="352.5" r="4.4"/><circle cx="123.3" cy="346.3" r="4.4"/><circle cx="129.7" cy="345.6" r="4.4"/><circle cx="128.4" cy="339.5" r="4.4"/><circle cx="129.8" cy="334.8" r="4.4"/><circle cx="130.8" cy="329.6" r="4.4"/><circle cx="135.7" cy="325.3" r="4.4"/><circle cx="133.6" cy="318.9" r="4.4"/><circle cx="135.2" cy="313.7" r="4.4"/><circle cx="140.0" cy="309.9" r="4.4"/><circle cx="140.1" cy="305.0" r="4.4"/><circle cx="139.2" cy="300.4" r="4.4"/><circle cx="137.1" cy="296.0" r="4.4"/><circle cx="137.2" cy="290.2" r="4.4"/><circle cx="136.4" cy="284.6" r="4.4"/><circle cx="133.5" cy="280.3" r="4.4"/><circle cx="127.7" cy="276.9" r="4.4"/><circle cx="129.1" cy="270.5" r="4.4"/><circle cx="128.3" cy="265.2" r="4.4"/><circle cx="126.2" cy="259.2" r="4.4"/><circle cx="129.3" cy="255.0" r="4.4"/><circle cx="130.8" cy="249.5" r="4.4"/><circle cx="134.7" cy="245.4" r="4.4"/><circle cx="138.0" cy="240.9" r="4.4"/><circle cx="141.7" cy="237.0" r="4.4"/><circle cx="146.4" cy="234.0" r="4.4"/><circle cx="142.6" cy="225.7" r="4.4"/><circle cx="150.3" cy="223.6" r="4.4"/><circle cx="151.2" cy="218.0" r="4.4"/><circle cx="155.5" cy="214.6" r="4.4"/><circle cx="157.6" cy="209.4" r="4.4"/><circle cx="160.3" cy="205.6" r="4.4"/><circle cx="166.5" cy="204.0" r="4.4"/><circle cx="168.9" cy="199.5" r="4.4"/><circle cx="170.6" cy="194.1" r="4.4"/><circle cx="176.9" cy="193.7" r="4.4"/><circle cx="177.3" cy="186.8" r="4.4"/><circle cx="184.2" cy="186.1" r="4.4"/><circle cx="183.8" cy="178.6" r="4.4"/><circle cx="188.1" cy="176.0" r="4.4"/><circle cx="190.8" cy="171.9" r="4.4"/><circle cx="194.0" cy="167.8" r="4.4"/><circle cx="196.2" cy="163.1" r="4.4"/><circle cx="200.7" cy="159.7" r="4.4"/><circle cx="204.3" cy="156.2" r="4.4"/><circle cx="205.5" cy="150.9" r="4.4"/><circle cx="207.2" cy="146.2" r="4.4"/><circle cx="206.6" cy="140.0" r="4.4"/><circle cx="210.9" cy="135.6" r="4.4"/><circle cx="218.3" cy="135.1" r="4.4"/><circle cx="221.2" cy="130.3" r="4.4"/><circle cx="226.1" cy="127.7" r="4.4"/><circle cx="230.3" cy="124.0" r="4.4"/><circle cx="231.7" cy="115.2" r="4.4"/><circle cx="239.1" cy="118.5" r="4.4"/><circle cx="243.9" cy="115.9" r="4.4"/><circle cx="249.8" cy="118.3" r="4.4"/><circle cx="253.6" cy="114.4" r="4.4"/><circle cx="259.1" cy="114.8" r="4.4"/><circle cx="263.6" cy="112.6" r="4.4"/><circle cx="268.5" cy="111.9" r="4.4"/><circle cx="273.5" cy="110.6" r="4.4"/><circle cx="278.2" cy="107.3" r="4.4"/><circle cx="284.0" cy="109.5" r="4.4"/><circle cx="289.1" cy="108.7" r="4.4"/><circle cx="294.1" cy="104.8" r="4.4"/><circle cx="299.7" cy="104.7" r="4.4"/><circle cx="305.2" cy="105.5" r="4.4"/><circle cx="308.7" cy="96.7" r="4.4"/><circle cx="315.8" cy="105.5" r="4.4"/><circle cx="319.3" cy="102.3" r="4.4"/><circle cx="321.9" cy="97.9" r="4.4"/><circle cx="321.9" cy="93.0" r="4.4"/></g></mask></defs>
<g fill="#111"><path d="M326.0,91.0C327.3,85.3 323.3,75.7 324.0,70.0C324.7,64.3 325.3,59.5 330.0,57.0C334.7,54.5 345.7,54.8 352.0,55.0C358.3,55.2 362.3,57.0 368.0,58.0C373.7,59.0 379.5,60.5 386.0,61.0C392.5,61.5 401.0,60.7 407.0,61.0C413.0,61.3 417.3,61.0 422.0,63.0C426.7,65.0 429.3,70.7 435.0,73.0C440.7,75.3 450.2,77.8 456.0,77.0C461.8,76.2 465.7,72.2 470.0,68.0C474.3,63.8 476.5,55.7 482.0,52.0C487.5,48.3 496.3,46.5 503.0,46.0C509.7,45.5 518.0,45.0 522.0,49.0C526.0,53.0 526.0,59.8 527.0,70.0C528.0,80.2 527.5,97.5 528.0,110.0C528.5,122.5 528.7,138.0 530.0,145.0C531.3,152.0 533.5,153.2 536.0,152.0C538.5,150.8 543.3,148.3 545.0,138.0C546.7,127.7 544.7,105.5 546.0,90.0C547.3,74.5 548.7,55.3 553.0,45.0C557.3,34.7 566.0,33.3 572.0,28.0C578.0,22.7 583.8,14.5 589.0,13.0C594.2,11.5 598.7,15.7 603.0,19.0C607.3,22.3 609.2,29.0 615.0,33.0C620.8,37.0 629.8,39.3 638.0,43.0C646.2,46.7 657.5,50.8 664.0,55.0C670.5,59.2 674.3,62.2 677.0,68.0C679.7,73.8 680.0,77.2 680.0,90.0C680.0,102.8 677.0,130.0 677.0,145.0C677.0,160.0 680.3,169.8 680.0,180.0C679.7,190.2 677.7,199.0 675.0,206.0C672.3,213.0 661.5,218.8 664.0,222.0C666.5,225.2 682.2,226.2 690.0,225.0C697.8,223.8 705.7,215.7 711.0,215.0C716.3,214.3 719.7,216.5 722.0,221.0C724.3,225.5 723.7,235.2 725.0,242.0C726.3,248.8 725.0,255.5 730.0,262.0C735.0,268.5 750.3,274.7 755.0,281.0C759.7,287.3 755.8,291.8 758.0,300.0C760.2,308.2 765.7,319.2 768.0,330.0C770.3,340.8 769.8,352.5 772.0,365.0C774.2,377.5 781.3,392.5 781.0,405.0C780.7,417.5 772.5,427.7 770.0,440.0C767.5,452.3 766.8,467.3 766.0,479.0C765.2,490.7 769.0,500.5 765.0,510.0C761.0,519.5 748.0,528.3 742.0,536.0C736.0,543.7 737.7,551.7 729.0,556.0C720.3,560.3 700.8,559.3 690.0,562.0C679.2,564.7 672.7,569.3 664.0,572.0C655.3,574.7 644.8,579.7 638.0,578.0C631.2,576.3 626.8,569.8 623.0,562.0C619.2,554.2 614.7,541.0 615.0,531.0C615.3,521.0 624.2,509.8 625.0,502.0C625.8,494.2 623.0,491.3 620.0,484.0C617.0,476.7 612.0,466.0 607.0,458.0C602.0,450.0 595.2,441.7 590.0,436.0C584.8,430.3 578.7,424.7 576.0,424.0C573.3,423.3 573.2,426.8 574.0,432.0C574.8,437.2 579.7,446.3 581.0,455.0C582.3,463.7 582.0,474.0 582.0,484.0C582.0,494.0 582.5,505.5 581.0,515.0C579.5,524.5 576.5,534.0 573.0,541.0C569.5,548.0 565.7,551.3 560.0,557.0C554.3,562.7 546.3,570.7 539.0,575.0C531.7,579.3 521.2,580.8 516.0,583.0C510.8,585.2 505.8,585.8 508.0,588.0C510.2,590.2 520.3,594.3 529.0,596.0C537.7,597.7 551.3,596.7 560.0,598.0C568.7,599.3 579.7,600.5 581.0,604.0C582.3,607.5 573.2,615.2 568.0,619.0C562.8,622.8 556.5,627.3 550.0,627.0C543.5,626.7 536.0,618.7 529.0,617.0C522.0,615.3 513.2,614.8 508.0,617.0C502.8,619.2 497.5,625.7 498.0,630.0C498.5,634.3 509.8,637.8 511.0,643.0C512.2,648.2 509.0,655.0 505.0,661.0C501.0,667.0 492.5,675.5 487.0,679.0C481.5,682.5 478.0,682.3 472.0,682.0C466.0,681.7 458.0,677.3 451.0,677.0C444.0,676.7 436.2,679.0 430.0,680.0C423.8,681.0 415.3,679.7 414.0,683.0C412.7,686.3 418.8,695.0 422.0,700.0C425.2,705.0 434.7,708.2 433.0,713.0C431.3,717.8 419.8,724.2 412.0,729.0C404.2,733.8 394.7,741.7 386.0,742.0C377.3,742.3 369.2,734.5 360.0,731.0C350.8,727.5 339.3,726.2 331.0,721.0C322.7,715.8 315.2,704.7 310.0,700.0C304.8,695.3 305.2,697.7 300.0,693.0C294.8,688.3 285.7,677.5 279.0,672.0C272.3,666.5 265.5,663.7 260.0,660.0C254.5,656.3 252.5,653.2 246.0,650.0C239.5,646.8 229.0,644.8 221.0,641.0C213.0,637.2 206.3,631.8 198.0,627.0C189.7,622.2 179.7,615.8 171.0,612.0C162.3,608.2 155.3,607.5 146.0,604.0C136.7,600.5 123.7,595.2 115.0,591.0C106.3,586.8 101.7,583.5 94.0,579.0C86.3,574.5 75.7,570.0 69.0,564.0C62.3,558.0 58.2,550.2 54.0,543.0C49.8,535.8 46.8,528.2 44.0,521.0C41.2,513.8 38.3,508.3 37.0,500.0C35.7,491.7 35.5,480.0 36.0,471.0C36.5,462.0 38.0,455.2 40.0,446.0C42.0,436.8 45.0,423.7 48.0,416.0C51.0,408.3 53.8,405.2 58.0,400.0C62.2,394.8 67.7,389.8 73.0,385.0C78.3,380.2 83.5,375.5 90.0,371.0C96.5,366.5 105.5,362.5 112.0,358.0C118.5,353.5 125.2,349.8 129.0,344.0C132.8,338.2 133.0,329.7 135.0,323.0C137.0,316.3 141.0,310.3 141.0,304.0C141.0,297.7 137.0,292.0 135.0,285.0C133.0,278.0 127.2,270.3 129.0,262.0C130.8,253.7 140.8,243.7 146.0,235.0C151.2,226.3 155.8,216.2 160.0,210.0C164.2,203.8 165.8,203.5 171.0,198.0C176.2,192.5 185.5,184.3 191.0,177.0C196.5,169.7 200.2,160.7 204.0,154.0C207.8,147.3 208.2,142.5 214.0,137.0C219.8,131.5 231.3,124.8 239.0,121.0C246.7,117.2 252.0,116.2 260.0,114.0C268.0,111.8 277.7,109.7 287.0,108.0C296.3,106.3 309.5,106.8 316.0,104.0C322.5,101.2 324.7,96.7 326.0,91.0Z"/><circle cx="326.0" cy="87.4" r="6"/><circle cx="319.4" cy="83.3" r="6"/><circle cx="320.0" cy="77.5" r="6"/><circle cx="325.2" cy="71.7" r="6"/><circle cx="321.9" cy="66.0" r="6"/><circle cx="323.2" cy="60.0" r="6"/><circle cx="329.2" cy="57.8" r="6"/><circle cx="333.4" cy="52.0" r="6"/><circle cx="339.2" cy="54.4" r="6"/><circle cx="344.9" cy="56.1" r="6"/><circle cx="350.2" cy="54.9" r="6"/><circle cx="355.2" cy="56.1" r="6"/><circle cx="361.0" cy="53.3" r="6"/><circle cx="365.3" cy="55.7" r="6"/><circle cx="370.0" cy="57.8" r="6"/><circle cx="375.0" cy="57.7" r="6"/><circle cx="380.1" cy="58.0" r="6"/><circle cx="384.9" cy="60.7" r="6"/><circle cx="389.9" cy="60.2" r="6"/><circle cx="395.0" cy="58.2" r="6"/><circle cx="400.3" cy="61.1" r="6"/><circle cx="405.3" cy="59.5" r="6"/><circle cx="410.5" cy="58.6" r="6"/><circle cx="416.3" cy="53.9" r="6"/><circle cx="421.0" cy="59.8" r="6"/><circle cx="428.1" cy="59.9" r="6"/><circle cx="430.0" cy="66.0" r="6"/><circle cx="433.9" cy="68.6" r="6"/><circle cx="437.5" cy="71.5" r="6"/><circle cx="442.1" cy="73.6" r="6"/><circle cx="447.6" cy="73.4" r="6"/><circle cx="452.3" cy="76.0" r="6"/><circle cx="457.4" cy="77.9" r="6"/><circle cx="460.8" cy="73.1" r="6"/><circle cx="464.0" cy="69.5" r="6"/><circle cx="469.6" cy="67.6" r="6"/><circle cx="474.1" cy="65.0" r="6"/><circle cx="474.1" cy="59.0" r="6"/><circle cx="476.3" cy="53.7" r="6"/><circle cx="482.1" cy="52.1" r="6"/><circle cx="483.8" cy="43.1" r="6"/><circle cx="491.1" cy="46.5" r="6"/><circle cx="496.4" cy="43.8" r="6"/><circle cx="502.0" cy="46.0" r="6"/><circle cx="507.4" cy="45.3" r="6"/><circle cx="513.3" cy="42.0" r="6"/><circle cx="517.9" cy="47.2" r="6"/><circle cx="522.4" cy="49.7" r="6"/><circle cx="526.5" cy="53.5" r="6"/><circle cx="524.4" cy="58.9" r="6"/><circle cx="526.9" cy="63.2" r="6"/><circle cx="530.6" cy="68.2" r="6"/><circle cx="528.6" cy="74.1" r="6"/><circle cx="535.3" cy="78.6" r="6"/><circle cx="530.4" cy="83.8" r="6"/><circle cx="530.6" cy="89.1" r="6"/><circle cx="533.0" cy="94.5" r="6"/><circle cx="529.5" cy="99.9" r="6"/><circle cx="527.2" cy="105.1" r="6"/><circle cx="529.4" cy="109.9" r="6"/><circle cx="527.3" cy="115.5" r="6"/><circle cx="527.0" cy="121.2" r="6"/><circle cx="530.5" cy="126.7" r="6"/><circle cx="528.7" cy="132.2" r="6"/><circle cx="529.6" cy="137.1" r="6"/><circle cx="532.7" cy="141.9" r="6"/><circle cx="531.5" cy="146.8" r="6"/><circle cx="534.0" cy="150.0" r="6"/><circle cx="538.3" cy="150.8" r="6"/><circle cx="537.1" cy="144.7" r="6"/><circle cx="542.4" cy="142.6" r="6"/><circle cx="539.5" cy="136.6" r="6"/><circle cx="541.6" cy="132.6" r="6"/><circle cx="543.4" cy="127.3" r="6"/><circle cx="545.2" cy="122.4" r="6"/><circle cx="542.9" cy="117.1" r="6"/><circle cx="542.8" cy="111.5" r="6"/><circle cx="545.8" cy="105.9" r="6"/><circle cx="541.6" cy="100.3" r="6"/><circle cx="542.8" cy="94.9" r="6"/><circle cx="543.4" cy="89.8" r="6"/><circle cx="545.1" cy="84.6" r="6"/><circle cx="545.2" cy="79.1" r="6"/><circle cx="547.5" cy="73.7" r="6"/><circle cx="544.3" cy="67.8" r="6"/><circle cx="545.1" cy="62.4" r="6"/><circle cx="545.9" cy="57.1" r="6"/><circle cx="550.8" cy="53.1" r="6"/><circle cx="552.3" cy="48.1" r="6"/><circle cx="551.8" cy="42.9" r="6"/><circle cx="553.7" cy="37.8" r="6"/><circle cx="558.6" cy="34.4" r="6"/><circle cx="564.5" cy="34.2" r="6"/><circle cx="566.2" cy="27.9" r="6"/><circle cx="570.2" cy="26.1" r="6"/><circle cx="576.4" cy="24.4" r="6"/><circle cx="579.0" cy="20.5" r="6"/><circle cx="580.6" cy="13.9" r="6"/><circle cx="587.3" cy="12.9" r="6"/><circle cx="592.4" cy="10.3" r="6"/><circle cx="596.4" cy="15.1" r="6"/><circle cx="603.4" cy="14.9" r="6"/><circle cx="604.5" cy="21.4" r="6"/><circle cx="611.1" cy="22.7" r="6"/><circle cx="611.3" cy="28.9" r="6"/><circle cx="617.8" cy="28.7" r="6"/><circle cx="620.6" cy="33.8" r="6"/><circle cx="625.5" cy="34.2" r="6"/><circle cx="630.2" cy="36.3" r="6"/><circle cx="633.9" cy="41.6" r="6"/><circle cx="638.9" cy="43.3" r="6"/><circle cx="644.3" cy="43.8" r="6"/><circle cx="648.9" cy="46.8" r="6"/><circle cx="655.0" cy="46.5" r="6"/><circle cx="658.8" cy="51.0" r="6"/><circle cx="664.3" cy="51.1" r="6"/><circle cx="669.1" cy="54.1" r="6"/><circle cx="672.2" cy="59.2" r="6"/><circle cx="673.3" cy="64.5" r="6"/><circle cx="681.3" cy="66.1" r="6"/><circle cx="678.2" cy="72.6" r="6"/><circle cx="682.1" cy="77.0" r="6"/><circle cx="680.2" cy="82.6" r="6"/><circle cx="681.6" cy="88.3" r="6"/><circle cx="679.0" cy="93.8" r="6"/><circle cx="679.6" cy="99.2" r="6"/><circle cx="682.1" cy="104.4" r="6"/><circle cx="680.6" cy="109.6" r="6"/><circle cx="682.1" cy="115.3" r="6"/><circle cx="680.1" cy="120.7" r="6"/><circle cx="679.1" cy="126.3" r="6"/><circle cx="678.5" cy="131.7" r="6"/><circle cx="678.3" cy="136.8" r="6"/><circle cx="679.4" cy="141.6" r="6"/><circle cx="680.7" cy="146.2" r="6"/><circle cx="678.8" cy="151.0" r="6"/><circle cx="680.8" cy="156.4" r="6"/><circle cx="677.5" cy="162.0" r="6"/><circle cx="677.9" cy="166.8" r="6"/><circle cx="678.6" cy="172.2" r="6"/><circle cx="682.8" cy="177.3" r="6"/><circle cx="679.2" cy="182.3" r="6"/><circle cx="681.5" cy="188.2" r="6"/><circle cx="681.9" cy="193.8" r="6"/><circle cx="677.2" cy="198.0" r="6"/><circle cx="676.8" cy="202.9" r="6"/><circle cx="678.0" cy="209.0" r="6"/><circle cx="671.1" cy="210.8" r="6"/><circle cx="668.9" cy="215.9" r="6"/><circle cx="664.0" cy="218.8" r="6"/><circle cx="668.1" cy="216.9" r="6"/><circle cx="670.3" cy="220.1" r="6"/><circle cx="675.2" cy="223.2" r="6"/><circle cx="679.9" cy="226.6" r="6"/><circle cx="684.6" cy="222.6" r="6"/><circle cx="690.2" cy="225.9" r="6"/><circle cx="695.6" cy="224.6" r="6"/><circle cx="700.0" cy="220.7" r="6"/><circle cx="704.2" cy="217.1" r="6"/><circle cx="708.7" cy="212.4" r="6"/><circle cx="714.5" cy="215.7" r="6"/><circle cx="720.5" cy="216.2" r="6"/><circle cx="725.8" cy="220.4" r="6"/><circle cx="729.9" cy="225.0" r="6"/><circle cx="725.9" cy="231.0" r="6"/><circle cx="723.3" cy="236.8" r="6"/><circle cx="723.9" cy="242.2" r="6"/><circle cx="726.6" cy="247.0" r="6"/><circle cx="727.6" cy="251.9" r="6"/><circle cx="727.3" cy="257.1" r="6"/><circle cx="731.1" cy="261.1" r="6"/><circle cx="732.6" cy="265.8" r="6"/><circle cx="736.7" cy="269.2" r="6"/><circle cx="742.3" cy="271.1" r="6"/><circle cx="748.4" cy="272.1" r="6"/><circle cx="752.0" cy="276.4" r="6"/><circle cx="757.8" cy="279.1" r="6"/><circle cx="755.8" cy="286.0" r="6"/><circle cx="758.9" cy="290.4" r="6"/><circle cx="758.4" cy="295.2" r="6"/><circle cx="757.3" cy="301.1" r="6"/><circle cx="760.7" cy="305.6" r="6"/><circle cx="764.5" cy="309.5" r="6"/><circle cx="764.7" cy="315.0" r="6"/><circle cx="769.0" cy="319.4" r="6"/><circle cx="769.9" cy="325.0" r="6"/><circle cx="770.2" cy="330.6" r="6"/><circle cx="771.9" cy="335.3" r="6"/><circle cx="768.4" cy="340.6" r="6"/><circle cx="769.9" cy="345.4" r="6"/><circle cx="769.3" cy="350.5" r="6"/><circle cx="774.0" cy="355.2" r="6"/><circle cx="771.4" cy="360.7" r="6"/><circle cx="772.3" cy="365.9" r="6"/><circle cx="772.6" cy="370.8" r="6"/><circle cx="774.5" cy="375.5" r="6"/><circle cx="779.8" cy="379.4" r="6"/><circle cx="777.4" cy="385.5" r="6"/><circle cx="779.2" cy="390.5" r="6"/><circle cx="778.6" cy="395.8" r="6"/><circle cx="781.9" cy="400.2" r="6"/><circle cx="780.6" cy="405.0" r="6"/><circle cx="779.0" cy="409.8" r="6"/><circle cx="778.2" cy="414.7" r="6"/><circle cx="779.3" cy="420.5" r="6"/><circle cx="775.3" cy="424.4" r="6"/><circle cx="774.8" cy="429.7" r="6"/><circle cx="773.7" cy="434.7" r="6"/><circle cx="773.5" cy="439.7" r="6"/><circle cx="769.6" cy="443.9" r="6"/><circle cx="767.9" cy="448.8" r="6"/><circle cx="775.3" cy="454.8" r="6"/><circle cx="770.8" cy="459.5" r="6"/><circle cx="769.5" cy="464.6" r="6"/><circle cx="765.9" cy="469.4" r="6"/><circle cx="767.6" cy="474.4" r="6"/><circle cx="768.9" cy="479.2" r="6"/><circle cx="767.6" cy="484.4" r="6"/><circle cx="768.5" cy="489.6" r="6"/><circle cx="768.9" cy="494.7" r="6"/><circle cx="772.7" cy="499.8" r="6"/><circle cx="768.1" cy="504.7" r="6"/><circle cx="767.2" cy="509.8" r="6"/><circle cx="768.6" cy="516.8" r="6"/><circle cx="762.2" cy="519.1" r="6"/><circle cx="757.6" cy="522.4" r="6"/><circle cx="751.9" cy="524.4" r="6"/><circle cx="750.7" cy="531.1" r="6"/><circle cx="746.9" cy="534.3" r="6"/><circle cx="744.1" cy="537.5" r="6"/><circle cx="740.6" cy="540.5" r="6"/><circle cx="738.5" cy="545.3" r="6"/><circle cx="737.9" cy="550.8" r="6"/><circle cx="735.8" cy="556.9" r="6"/><circle cx="728.3" cy="556.2" r="6"/><circle cx="723.4" cy="558.0" r="6"/><circle cx="718.7" cy="560.4" r="6"/><circle cx="713.3" cy="561.6" r="6"/><circle cx="707.7" cy="562.1" r="6"/><circle cx="702.0" cy="561.7" r="6"/><circle cx="697.4" cy="567.5" r="6"/><circle cx="691.6" cy="561.2" r="6"/><circle cx="688.8" cy="570.1" r="6"/><circle cx="682.5" cy="567.6" r="6"/><circle cx="677.0" cy="567.7" r="6"/><circle cx="672.0" cy="568.5" r="6"/><circle cx="667.6" cy="570.4" r="6"/><circle cx="662.8" cy="571.6" r="6"/><circle cx="659.0" cy="577.6" r="6"/><circle cx="653.4" cy="578.8" r="6"/><circle cx="648.0" cy="580.8" r="6"/><circle cx="642.3" cy="578.1" r="6"/><circle cx="636.0" cy="580.7" r="6"/><circle cx="632.0" cy="576.4" r="6"/><circle cx="628.9" cy="572.0" r="6"/><circle cx="625.5" cy="567.5" r="6"/><circle cx="616.3" cy="566.7" r="6"/><circle cx="618.3" cy="559.2" r="6"/><circle cx="616.0" cy="554.6" r="6"/><circle cx="614.4" cy="549.3" r="6"/><circle cx="615.8" cy="543.3" r="6"/><circle cx="611.5" cy="538.4" r="6"/><circle cx="614.5" cy="532.9" r="6"/><circle cx="613.0" cy="527.5" r="6"/><circle cx="613.9" cy="521.8" r="6"/><circle cx="615.6" cy="516.2" r="6"/><circle cx="621.3" cy="512.7" r="6"/><circle cx="623.7" cy="508.1" r="6"/><circle cx="621.2" cy="502.3" r="6"/><circle cx="622.1" cy="497.8" r="6"/><circle cx="620.7" cy="494.1" r="6"/><circle cx="620.6" cy="489.0" r="6"/><circle cx="620.8" cy="482.8" r="6"/><circle cx="617.0" cy="479.5" r="6"/><circle cx="614.0" cy="475.4" r="6"/><circle cx="614.6" cy="469.3" r="6"/><circle cx="611.8" cy="464.7" r="6"/><circle cx="608.2" cy="460.8" r="6"/><circle cx="603.7" cy="457.6" r="6"/><circle cx="602.9" cy="451.7" r="6"/><circle cx="599.4" cy="447.5" r="6"/><circle cx="595.7" cy="443.7" r="6"/><circle cx="593.5" cy="439.0" r="6"/><circle cx="587.4" cy="438.4" r="6"/><circle cx="586.7" cy="432.1" r="6"/><circle cx="580.3" cy="431.9" r="6"/><circle cx="579.4" cy="425.0" r="6"/><circle cx="573.6" cy="423.6" r="6"/><circle cx="572.6" cy="428.6" r="6"/><circle cx="574.4" cy="434.1" r="6"/><circle cx="579.1" cy="437.2" r="6"/><circle cx="578.4" cy="442.9" r="6"/><circle cx="580.8" cy="448.1" r="6"/><circle cx="584.2" cy="453.3" r="6"/><circle cx="585.3" cy="458.3" r="6"/><circle cx="583.1" cy="463.4" r="6"/><circle cx="585.2" cy="468.4" r="6"/><circle cx="582.0" cy="473.6" r="6"/><circle cx="582.7" cy="478.8" r="6"/><circle cx="585.7" cy="484.0" r="6"/><circle cx="587.5" cy="488.9" r="6"/><circle cx="584.5" cy="494.0" r="6"/><circle cx="583.2" cy="499.2" r="6"/><circle cx="580.5" cy="504.2" r="6"/><circle cx="585.2" cy="509.6" r="6"/><circle cx="584.3" cy="514.6" r="6"/><circle cx="582.7" cy="519.7" r="6"/><circle cx="580.4" cy="524.8" r="6"/><circle cx="581.1" cy="530.6" r="6"/><circle cx="577.9" cy="534.9" r="6"/><circle cx="575.1" cy="539.0" r="6"/><circle cx="570.8" cy="542.3" r="6"/><circle cx="569.0" cy="547.1" r="6"/><circle cx="567.5" cy="552.3" r="6"/><circle cx="561.9" cy="554.0" r="6"/><circle cx="560.1" cy="559.7" r="6"/><circle cx="557.4" cy="564.1" r="6"/><circle cx="552.5" cy="566.7" r="6"/><circle cx="547.1" cy="568.8" r="6"/><circle cx="542.3" cy="571.1" r="6"/><circle cx="539.5" cy="575.9" r="6"/><circle cx="534.8" cy="579.3" r="6"/><circle cx="529.1" cy="580.3" r="6"/><circle cx="523.6" cy="580.5" r="6"/><circle cx="519.7" cy="584.2" r="6"/><circle cx="513.8" cy="582.4" r="6"/><circle cx="509.9" cy="587.6" r="6"/><circle cx="509.9" cy="589.4" r="6"/><circle cx="515.4" cy="588.0" r="6"/><circle cx="517.8" cy="594.2" r="6"/><circle cx="523.2" cy="593.7" r="6"/><circle cx="527.7" cy="596.2" r="6"/><circle cx="533.8" cy="594.1" r="6"/><circle cx="538.6" cy="597.3" r="6"/><circle cx="544.0" cy="596.9" r="6"/><circle cx="549.3" cy="597.5" r="6"/><circle cx="554.7" cy="594.8" r="6"/><circle cx="560.6" cy="594.3" r="6"/><circle cx="565.1" cy="599.2" r="6"/><circle cx="570.4" cy="598.8" r="6"/><circle cx="577.1" cy="597.3" r="6"/><circle cx="581.3" cy="603.2" r="6"/><circle cx="583.3" cy="609.6" r="6"/><circle cx="579.1" cy="612.6" r="6"/><circle cx="575.9" cy="617.1" r="6"/><circle cx="571.3" cy="619.7" r="6"/><circle cx="567.5" cy="623.8" r="6"/><circle cx="560.7" cy="623.4" r="6"/><circle cx="558.3" cy="633.0" r="6"/><circle cx="551.0" cy="627.6" r="6"/><circle cx="545.5" cy="626.1" r="6"/><circle cx="541.9" cy="622.1" r="6"/><circle cx="536.2" cy="620.8" r="6"/><circle cx="532.1" cy="617.2" r="6"/><circle cx="527.0" cy="616.2" r="6"/><circle cx="521.3" cy="618.8" r="6"/><circle cx="516.4" cy="620.3" r="6"/><circle cx="511.4" cy="616.6" r="6"/><circle cx="506.8" cy="617.1" r="6"/><circle cx="508.2" cy="625.2" r="6"/><circle cx="502.7" cy="625.2" r="6"/><circle cx="499.0" cy="628.4" r="6"/><circle cx="502.1" cy="630.1" r="6"/><circle cx="504.7" cy="633.3" r="6"/><circle cx="507.5" cy="638.0" r="6"/><circle cx="514.3" cy="641.0" r="6"/><circle cx="511.1" cy="646.7" r="6"/><circle cx="510.2" cy="651.8" r="6"/><circle cx="506.8" cy="655.2" r="6"/><circle cx="508.6" cy="661.9" r="6"/><circle cx="507.9" cy="668.2" r="6"/><circle cx="500.1" cy="668.9" r="6"/><circle cx="497.9" cy="674.8" r="6"/><circle cx="491.3" cy="675.6" r="6"/><circle cx="487.6" cy="680.0" r="6"/><circle cx="481.9" cy="680.9" r="6"/><circle cx="477.4" cy="684.7" r="6"/><circle cx="471.8" cy="684.7" r="6"/><circle cx="467.3" cy="681.5" r="6"/><circle cx="462.2" cy="680.1" r="6"/><circle cx="457.4" cy="677.0" r="6"/><circle cx="451.8" cy="679.7" r="6"/><circle cx="447.2" cy="680.1" r="6"/><circle cx="441.8" cy="678.0" r="6"/><circle cx="437.3" cy="682.0" r="6"/><circle cx="432.2" cy="682.0" r="6"/><circle cx="426.4" cy="681.6" r="6"/><circle cx="421.4" cy="681.5" r="6"/><circle cx="416.5" cy="682.0" r="6"/><circle cx="416.1" cy="684.6" r="6"/><circle cx="418.5" cy="688.3" r="6"/><circle cx="417.5" cy="694.6" r="6"/><circle cx="420.9" cy="698.1" r="6"/><circle cx="424.5" cy="702.1" r="6"/><circle cx="427.7" cy="705.8" r="6"/><circle cx="431.9" cy="709.2" r="6"/><circle cx="435.2" cy="716.0" r="6"/><circle cx="429.2" cy="718.0" r="6"/><circle cx="427.0" cy="724.3" r="6"/><circle cx="420.8" cy="723.4" r="6"/><circle cx="417.9" cy="727.9" r="6"/><circle cx="411.5" cy="728.2" r="6"/><circle cx="409.5" cy="734.2" r="6"/><circle cx="407.0" cy="740.3" r="6"/><circle cx="398.4" cy="736.7" r="6"/><circle cx="395.8" cy="743.4" r="6"/><circle cx="390.4" cy="745.0" r="6"/><circle cx="383.8" cy="745.2" r="6"/><circle cx="379.6" cy="740.8" r="6"/><circle cx="371.3" cy="746.1" r="6"/><circle cx="369.5" cy="738.0" r="6"/><circle cx="365.5" cy="734.2" r="6"/><circle cx="361.1" cy="731.0" r="6"/><circle cx="355.7" cy="731.4" r="6"/><circle cx="350.5" cy="731.1" r="6"/><circle cx="345.6" cy="729.1" r="6"/><circle cx="341.1" cy="725.6" r="6"/><circle cx="335.2" cy="726.3" r="6"/><circle cx="330.6" cy="723.6" r="6"/><circle cx="326.6" cy="719.7" r="6"/><circle cx="324.2" cy="714.1" r="6"/><circle cx="317.9" cy="712.3" r="6"/><circle cx="316.1" cy="706.7" r="6"/><circle cx="310.1" cy="705.5" r="6"/><circle cx="308.9" cy="701.2" r="6"/><circle cx="304.7" cy="697.2" r="6"/><circle cx="298.6" cy="697.0" r="6"/><circle cx="297.3" cy="689.8" r="6"/><circle cx="289.7" cy="690.0" r="6"/><circle cx="289.1" cy="683.0" r="6"/><circle cx="285.2" cy="678.8" r="6"/><circle cx="281.2" cy="675.3" r="6"/><circle cx="279.0" cy="670.1" r="6"/><circle cx="272.5" cy="669.7" r="6"/><circle cx="269.6" cy="664.4" r="6"/><circle cx="264.5" cy="663.4" r="6"/><circle cx="261.1" cy="659.9" r="6"/><circle cx="255.7" cy="658.5" r="6"/><circle cx="253.6" cy="653.8" r="6"/><circle cx="247.6" cy="654.2" r="6"/><circle cx="244.6" cy="648.9" r="6"/><circle cx="238.8" cy="651.1" r="6"/><circle cx="233.1" cy="652.6" r="6"/><circle cx="229.7" cy="645.0" r="6"/><circle cx="224.1" cy="644.4" r="6"/><circle cx="220.4" cy="640.0" r="6"/><circle cx="215.8" cy="637.9" r="6"/><circle cx="209.6" cy="638.1" r="6"/><circle cx="207.3" cy="632.3" r="6"/><circle cx="202.3" cy="630.4" r="6"/><circle cx="197.7" cy="627.5" r="6"/><circle cx="193.8" cy="624.4" r="6"/><circle cx="185.3" cy="628.4" r="6"/><circle cx="180.6" cy="626.1" r="6"/><circle cx="180.4" cy="615.8" r="6"/><circle cx="174.7" cy="615.5" r="6"/><circle cx="170.9" cy="612.2" r="6"/><circle cx="165.6" cy="611.7" r="6"/><circle cx="160.9" cy="610.7" r="6"/><circle cx="155.5" cy="612.6" r="6"/><circle cx="151.8" cy="607.2" r="6"/><circle cx="146.1" cy="606.9" r="6"/><circle cx="142.1" cy="603.6" r="6"/><circle cx="136.4" cy="604.1" r="6"/><circle cx="131.0" cy="603.1" r="6"/><circle cx="125.5" cy="602.1" r="6"/><circle cx="123.3" cy="593.6" r="6"/><circle cx="117.2" cy="595.1" r="6"/><circle cx="114.5" cy="589.4" r="6"/><circle cx="108.9" cy="588.5" r="6"/><circle cx="105.3" cy="585.0" r="6"/><circle cx="98.8" cy="586.6" r="6"/><circle cx="95.2" cy="583.2" r="6"/><circle cx="90.5" cy="581.5" r="6"/><circle cx="86.3" cy="579.0" r="6"/><circle cx="83.7" cy="572.8" r="6"/><circle cx="75.3" cy="576.9" r="6"/><circle cx="73.0" cy="570.3" r="6"/><circle cx="68.2" cy="567.9" r="6"/><circle cx="64.5" cy="563.8" r="6"/><circle cx="62.3" cy="558.5" r="6"/><circle cx="60.6" cy="553.3" r="6"/><circle cx="56.5" cy="549.8" r="6"/><circle cx="56.1" cy="544.1" r="6"/><circle cx="53.0" cy="540.0" r="6"/><circle cx="48.2" cy="536.7" r="6"/><circle cx="48.6" cy="530.8" r="6"/><circle cx="47.0" cy="526.1" r="6"/><circle cx="42.5" cy="522.6" r="6"/><circle cx="39.4" cy="518.5" r="6"/><circle cx="39.1" cy="513.3" r="6"/><circle cx="39.9" cy="507.9" r="6"/><circle cx="35.7" cy="503.7" r="6"/><circle cx="33.9" cy="498.6" r="6"/><circle cx="32.3" cy="493.8" r="6"/><circle cx="35.4" cy="488.4" r="6"/><circle cx="34.8" cy="483.1" r="6"/><circle cx="27.9" cy="477.8" r="6"/><circle cx="36.0" cy="472.9" r="6"/><circle cx="32.3" cy="467.5" r="6"/><circle cx="34.6" cy="462.6" r="6"/><circle cx="36.4" cy="457.9" r="6"/><circle cx="36.6" cy="452.9" r="6"/><circle cx="38.2" cy="447.9" r="6"/><circle cx="41.4" cy="443.4" r="6"/><circle cx="37.7" cy="437.3" r="6"/><circle cx="39.2" cy="432.1" r="6"/><circle cx="44.6" cy="427.9" r="6"/><circle cx="44.0" cy="422.4" r="6"/><circle cx="45.3" cy="417.7" r="6"/><circle cx="49.7" cy="413.9" r="6"/><circle cx="51.6" cy="408.8" r="6"/><circle cx="55.0" cy="405.3" r="6"/><circle cx="54.8" cy="398.8" r="6"/><circle cx="60.0" cy="396.6" r="6"/><circle cx="65.0" cy="394.5" r="6"/><circle cx="66.6" cy="388.7" r="6"/><circle cx="70.1" cy="384.9" r="6"/><circle cx="72.7" cy="380.3" r="6"/><circle cx="78.9" cy="379.9" r="6"/><circle cx="83.4" cy="377.6" r="6"/><circle cx="86.1" cy="372.9" r="6"/><circle cx="91.4" cy="371.4" r="6"/><circle cx="95.8" cy="369.1" r="6"/><circle cx="97.8" cy="362.0" r="6"/><circle cx="104.4" cy="363.1" r="6"/><circle cx="108.0" cy="359.0" r="6"/><circle cx="111.2" cy="354.9" r="6"/><circle cx="117.2" cy="354.3" r="6"/><circle cx="122.2" cy="352.5" r="6"/><circle cx="123.3" cy="346.3" r="6"/><circle cx="129.7" cy="345.6" r="6"/><circle cx="128.4" cy="339.5" r="6"/><circle cx="129.8" cy="334.8" r="6"/><circle cx="130.8" cy="329.6" r="6"/><circle cx="135.7" cy="325.3" r="6"/><circle cx="133.6" cy="318.9" r="6"/><circle cx="135.2" cy="313.7" r="6"/><circle cx="140.0" cy="309.9" r="6"/><circle cx="140.1" cy="305.0" r="6"/><circle cx="139.2" cy="300.4" r="6"/><circle cx="137.1" cy="296.0" r="6"/><circle cx="137.2" cy="290.2" r="6"/><circle cx="136.4" cy="284.6" r="6"/><circle cx="133.5" cy="280.3" r="6"/><circle cx="127.7" cy="276.9" r="6"/><circle cx="129.1" cy="270.5" r="6"/><circle cx="128.3" cy="265.2" r="6"/><circle cx="126.2" cy="259.2" r="6"/><circle cx="129.3" cy="255.0" r="6"/><circle cx="130.8" cy="249.5" r="6"/><circle cx="134.7" cy="245.4" r="6"/><circle cx="138.0" cy="240.9" r="6"/><circle cx="141.7" cy="237.0" r="6"/><circle cx="146.4" cy="234.0" r="6"/><circle cx="142.6" cy="225.7" r="6"/><circle cx="150.3" cy="223.6" r="6"/><circle cx="151.2" cy="218.0" r="6"/><circle cx="155.5" cy="214.6" r="6"/><circle cx="157.6" cy="209.4" r="6"/><circle cx="160.3" cy="205.6" r="6"/><circle cx="166.5" cy="204.0" r="6"/><circle cx="168.9" cy="199.5" r="6"/><circle cx="170.6" cy="194.1" r="6"/><circle cx="176.9" cy="193.7" r="6"/><circle cx="177.3" cy="186.8" r="6"/><circle cx="184.2" cy="186.1" r="6"/><circle cx="183.8" cy="178.6" r="6"/><circle cx="188.1" cy="176.0" r="6"/><circle cx="190.8" cy="171.9" r="6"/><circle cx="194.0" cy="167.8" r="6"/><circle cx="196.2" cy="163.1" r="6"/><circle cx="200.7" cy="159.7" r="6"/><circle cx="204.3" cy="156.2" r="6"/><circle cx="205.5" cy="150.9" r="6"/><circle cx="207.2" cy="146.2" r="6"/><circle cx="206.6" cy="140.0" r="6"/><circle cx="210.9" cy="135.6" r="6"/><circle cx="218.3" cy="135.1" r="6"/><circle cx="221.2" cy="130.3" r="6"/><circle cx="226.1" cy="127.7" r="6"/><circle cx="230.3" cy="124.0" r="6"/><circle cx="231.7" cy="115.2" r="6"/><circle cx="239.1" cy="118.5" r="6"/><circle cx="243.9" cy="115.9" r="6"/><circle cx="249.8" cy="118.3" r="6"/><circle cx="253.6" cy="114.4" r="6"/><circle cx="259.1" cy="114.8" r="6"/><circle cx="263.6" cy="112.6" r="6"/><circle cx="268.5" cy="111.9" r="6"/><circle cx="273.5" cy="110.6" r="6"/><circle cx="278.2" cy="107.3" r="6"/><circle cx="284.0" cy="109.5" r="6"/><circle cx="289.1" cy="108.7" r="6"/><circle cx="294.1" cy="104.8" r="6"/><circle cx="299.7" cy="104.7" r="6"/><circle cx="305.2" cy="105.5" r="6"/><circle cx="308.7" cy="96.7" r="6"/><circle cx="315.8" cy="105.5" r="6"/><circle cx="319.3" cy="102.3" r="6"/><circle cx="321.9" cy="97.9" r="6"/><circle cx="321.9" cy="93.0" r="6"/></g>
<g mask="url(#maskA)">
<path d="M326.0,91.0C327.3,85.3 323.3,75.7 324.0,70.0C324.7,64.3 325.3,59.5 330.0,57.0C334.7,54.5 345.7,54.8 352.0,55.0C358.3,55.2 362.3,57.0 368.0,58.0C373.7,59.0 379.5,60.5 386.0,61.0C392.5,61.5 401.0,60.7 407.0,61.0C413.0,61.3 417.3,61.0 422.0,63.0C426.7,65.0 429.3,70.7 435.0,73.0C440.7,75.3 450.2,77.8 456.0,77.0C461.8,76.2 465.7,72.2 470.0,68.0C474.3,63.8 476.5,55.7 482.0,52.0C487.5,48.3 496.3,46.5 503.0,46.0C509.7,45.5 518.0,45.0 522.0,49.0C526.0,53.0 526.0,59.8 527.0,70.0C528.0,80.2 527.5,97.5 528.0,110.0C528.5,122.5 528.7,138.0 530.0,145.0C531.3,152.0 533.5,153.2 536.0,152.0C538.5,150.8 543.3,148.3 545.0,138.0C546.7,127.7 544.7,105.5 546.0,90.0C547.3,74.5 548.7,55.3 553.0,45.0C557.3,34.7 566.0,33.3 572.0,28.0C578.0,22.7 583.8,14.5 589.0,13.0C594.2,11.5 598.7,15.7 603.0,19.0C607.3,22.3 609.2,29.0 615.0,33.0C620.8,37.0 629.8,39.3 638.0,43.0C646.2,46.7 657.5,50.8 664.0,55.0C670.5,59.2 674.3,62.2 677.0,68.0C679.7,73.8 680.0,77.2 680.0,90.0C680.0,102.8 677.0,130.0 677.0,145.0C677.0,160.0 680.3,169.8 680.0,180.0C679.7,190.2 677.7,199.0 675.0,206.0C672.3,213.0 661.5,218.8 664.0,222.0C666.5,225.2 682.2,226.2 690.0,225.0C697.8,223.8 705.7,215.7 711.0,215.0C716.3,214.3 719.7,216.5 722.0,221.0C724.3,225.5 723.7,235.2 725.0,242.0C726.3,248.8 725.0,255.5 730.0,262.0C735.0,268.5 750.3,274.7 755.0,281.0C759.7,287.3 755.8,291.8 758.0,300.0C760.2,308.2 765.7,319.2 768.0,330.0C770.3,340.8 769.8,352.5 772.0,365.0C774.2,377.5 781.3,392.5 781.0,405.0C780.7,417.5 772.5,427.7 770.0,440.0C767.5,452.3 766.8,467.3 766.0,479.0C765.2,490.7 769.0,500.5 765.0,510.0C761.0,519.5 748.0,528.3 742.0,536.0C736.0,543.7 737.7,551.7 729.0,556.0C720.3,560.3 700.8,559.3 690.0,562.0C679.2,564.7 672.7,569.3 664.0,572.0C655.3,574.7 644.8,579.7 638.0,578.0C631.2,576.3 626.8,569.8 623.0,562.0C619.2,554.2 614.7,541.0 615.0,531.0C615.3,521.0 624.2,509.8 625.0,502.0C625.8,494.2 623.0,491.3 620.0,484.0C617.0,476.7 612.0,466.0 607.0,458.0C602.0,450.0 595.2,441.7 590.0,436.0C584.8,430.3 578.7,424.7 576.0,424.0C573.3,423.3 573.2,426.8 574.0,432.0C574.8,437.2 579.7,446.3 581.0,455.0C582.3,463.7 582.0,474.0 582.0,484.0C582.0,494.0 582.5,505.5 581.0,515.0C579.5,524.5 576.5,534.0 573.0,541.0C569.5,548.0 565.7,551.3 560.0,557.0C554.3,562.7 546.3,570.7 539.0,575.0C531.7,579.3 521.2,580.8 516.0,583.0C510.8,585.2 505.8,585.8 508.0,588.0C510.2,590.2 520.3,594.3 529.0,596.0C537.7,597.7 551.3,596.7 560.0,598.0C568.7,599.3 579.7,600.5 581.0,604.0C582.3,607.5 573.2,615.2 568.0,619.0C562.8,622.8 556.5,627.3 550.0,627.0C543.5,626.7 536.0,618.7 529.0,617.0C522.0,615.3 513.2,614.8 508.0,617.0C502.8,619.2 497.5,625.7 498.0,630.0C498.5,634.3 509.8,637.8 511.0,643.0C512.2,648.2 509.0,655.0 505.0,661.0C501.0,667.0 492.5,675.5 487.0,679.0C481.5,682.5 478.0,682.3 472.0,682.0C466.0,681.7 458.0,677.3 451.0,677.0C444.0,676.7 436.2,679.0 430.0,680.0C423.8,681.0 415.3,679.7 414.0,683.0C412.7,686.3 418.8,695.0 422.0,700.0C425.2,705.0 434.7,708.2 433.0,713.0C431.3,717.8 419.8,724.2 412.0,729.0C404.2,733.8 394.7,741.7 386.0,742.0C377.3,742.3 369.2,734.5 360.0,731.0C350.8,727.5 339.3,726.2 331.0,721.0C322.7,715.8 315.2,704.7 310.0,700.0C304.8,695.3 305.2,697.7 300.0,693.0C294.8,688.3 285.7,677.5 279.0,672.0C272.3,666.5 265.5,663.7 260.0,660.0C254.5,656.3 252.5,653.2 246.0,650.0C239.5,646.8 229.0,644.8 221.0,641.0C213.0,637.2 206.3,631.8 198.0,627.0C189.7,622.2 179.7,615.8 171.0,612.0C162.3,608.2 155.3,607.5 146.0,604.0C136.7,600.5 123.7,595.2 115.0,591.0C106.3,586.8 101.7,583.5 94.0,579.0C86.3,574.5 75.7,570.0 69.0,564.0C62.3,558.0 58.2,550.2 54.0,543.0C49.8,535.8 46.8,528.2 44.0,521.0C41.2,513.8 38.3,508.3 37.0,500.0C35.7,491.7 35.5,480.0 36.0,471.0C36.5,462.0 38.0,455.2 40.0,446.0C42.0,436.8 45.0,423.7 48.0,416.0C51.0,408.3 53.8,405.2 58.0,400.0C62.2,394.8 67.7,389.8 73.0,385.0C78.3,380.2 83.5,375.5 90.0,371.0C96.5,366.5 105.5,362.5 112.0,358.0C118.5,353.5 125.2,349.8 129.0,344.0C132.8,338.2 133.0,329.7 135.0,323.0C137.0,316.3 141.0,310.3 141.0,304.0C141.0,297.7 137.0,292.0 135.0,285.0C133.0,278.0 127.2,270.3 129.0,262.0C130.8,253.7 140.8,243.7 146.0,235.0C151.2,226.3 155.8,216.2 160.0,210.0C164.2,203.8 165.8,203.5 171.0,198.0C176.2,192.5 185.5,184.3 191.0,177.0C196.5,169.7 200.2,160.7 204.0,154.0C207.8,147.3 208.2,142.5 214.0,137.0C219.8,131.5 231.3,124.8 239.0,121.0C246.7,117.2 252.0,116.2 260.0,114.0C268.0,111.8 277.7,109.7 287.0,108.0C296.3,106.3 309.5,106.8 316.0,104.0C322.5,101.2 324.7,96.7 326.0,91.0Z" fill="#ebdbdb" stroke="#ebdbdb" stroke-width="24"/>
<path d="M576.0,420.0C577.3,426.8 584.8,429.7 590.0,436.0C595.2,442.3 602.0,450.0 607.0,458.0C612.0,466.0 617.0,476.7 620.0,484.0C623.0,491.3 625.8,494.2 625.0,502.0C624.2,509.8 615.3,521.0 615.0,531.0C614.7,541.0 619.2,554.2 623.0,562.0C626.8,569.8 631.2,576.3 638.0,578.0C644.8,579.7 655.3,574.7 664.0,572.0C672.7,569.3 679.2,564.7 690.0,562.0C700.8,559.3 720.3,560.3 729.0,556.0C737.7,551.7 736.0,543.7 742.0,536.0C748.0,528.3 761.0,519.5 765.0,510.0C769.0,500.5 765.2,490.7 766.0,479.0C766.8,467.3 767.5,452.3 770.0,440.0C772.5,427.7 780.7,417.5 781.0,405.0C781.3,392.5 774.2,377.5 772.0,365.0C769.8,352.5 770.3,340.8 768.0,330.0C765.7,319.2 760.2,308.2 758.0,300.0C755.8,291.8 759.7,287.3 755.0,281.0C750.3,274.7 735.0,268.5 730.0,262.0C725.0,255.5 726.3,248.8 725.0,242.0C723.7,235.2 724.3,225.5 722.0,221.0C719.7,216.5 716.3,214.3 711.0,215.0C705.7,215.7 697.8,223.8 690.0,225.0C682.2,226.2 669.3,219.5 664.0,222.0C658.7,224.5 661.2,232.0 658.0,240.0C654.8,248.0 649.7,260.0 645.0,270.0C640.3,280.0 635.5,290.0 630.0,300.0C624.5,310.0 617.7,319.2 612.0,330.0C606.3,340.8 601.0,354.2 596.0,365.0C591.0,375.8 585.3,385.8 582.0,395.0C578.7,404.2 574.7,413.2 576.0,420.0Z" fill="#e2cb63" stroke="#e2cb63" stroke-width="24"/>
<path d="M546.0,150.0C543.7,134.3 544.8,107.5 546.0,90.0C547.2,72.5 548.7,55.3 553.0,45.0C557.3,34.7 566.0,33.3 572.0,28.0C578.0,22.7 583.8,14.5 589.0,13.0C594.2,11.5 598.7,15.7 603.0,19.0C607.3,22.3 609.2,29.0 615.0,33.0C620.8,37.0 629.8,39.3 638.0,43.0C646.2,46.7 657.5,50.8 664.0,55.0C670.5,59.2 674.3,62.2 677.0,68.0C679.7,73.8 680.0,77.2 680.0,90.0C680.0,102.8 677.0,130.0 677.0,145.0C677.0,160.0 680.3,169.8 680.0,180.0C679.7,190.2 677.7,199.0 675.0,206.0C672.3,213.0 668.8,216.8 664.0,222.0C659.2,227.2 652.5,232.0 646.0,237.0C639.5,242.0 632.7,249.5 625.0,252.0C617.3,254.5 606.5,254.7 600.0,252.0C593.5,249.3 590.5,243.0 586.0,236.0C581.5,229.0 577.3,218.7 573.0,210.0C568.7,201.3 564.5,194.0 560.0,184.0C555.5,174.0 548.3,165.7 546.0,150.0Z" fill="#e8763b" stroke="#e8763b" stroke-width="24"/>
<path d="M445.0,185.0C449.2,177.5 464.2,170.0 480.0,165.0C495.8,160.0 520.0,156.2 540.0,155.0C560.0,153.8 580.8,156.8 600.0,158.0C619.2,159.2 645.0,158.3 655.0,162.0C665.0,165.7 665.8,175.0 660.0,180.0C654.2,185.0 636.7,189.5 620.0,192.0C603.3,194.5 580.0,192.8 560.0,195.0C540.0,197.2 517.5,202.5 500.0,205.0C482.5,207.5 464.2,213.3 455.0,210.0C445.8,206.7 440.8,192.5 445.0,185.0Z" fill="#bcbfba" filter="url(#bl6)" opacity="0.85"/>
<circle cx="449.5" cy="253.1" r="3.2" fill="#e8763b"/>
<circle cx="584.6" cy="182.6" r="2.8" fill="#e8763b"/>
<circle cx="529.3" cy="274.8" r="2.8" fill="#e8763b"/>
<circle cx="563.7" cy="191.9" r="2.7" fill="#e8763b"/>
<circle cx="540.7" cy="185.3" r="3.5" fill="#e8763b"/>
<circle cx="477.5" cy="203.1" r="3.5" fill="#e8763b"/>
<circle cx="528.6" cy="295.6" r="3.5" fill="#e8763b"/>
<circle cx="583.5" cy="219.8" r="2.8" fill="#e8763b"/>
<circle cx="538.5" cy="160.7" r="2.9" fill="#e8763b"/>
<circle cx="493.0" cy="323.7" r="2.9" fill="#e8763b"/>
<circle cx="519.6" cy="300.9" r="3.6" fill="#e8763b"/>
<circle cx="448.5" cy="310.0" r="2.6" fill="#e8763b"/>
<circle cx="567.1" cy="233.2" r="2.6" fill="#e8763b"/>
<circle cx="452.2" cy="196.2" r="2.8" fill="#e8763b"/>
<circle cx="591.0" cy="228.9" r="3.1" fill="#e8763b"/>
<circle cx="565.2" cy="181.6" r="3.4" fill="#e8763b"/>
<circle cx="578.3" cy="167.3" r="2.7" fill="#e8763b"/>
<circle cx="497.8" cy="282.2" r="2.9" fill="#e8763b"/>
<circle cx="493.4" cy="223.4" r="2.7" fill="#e8763b"/>
<circle cx="468.1" cy="297.8" r="2.8" fill="#e8763b"/>
<circle cx="527.7" cy="241.2" r="3.2" fill="#e8763b"/>
<circle cx="510.4" cy="171.1" r="2.6" fill="#e8763b"/>
<circle cx="465.2" cy="306.3" r="3.2" fill="#e8763b"/>
<circle cx="567.1" cy="181.3" r="2.7" fill="#e8763b"/>
<circle cx="575.9" cy="219.0" r="3.6" fill="#e8763b"/>
<circle cx="515.3" cy="257.6" r="3.1" fill="#e8763b"/>
<circle cx="490.1" cy="240.8" r="3.0" fill="#e8763b"/>
<circle cx="542.2" cy="259.9" r="2.7" fill="#e8763b"/>
<circle cx="487.2" cy="316.4" r="3.0" fill="#e8763b"/>
<circle cx="552.7" cy="292.8" r="3.0" fill="#e8763b"/>
<circle cx="554.2" cy="216.2" r="3.4" fill="#e8763b"/>
<circle cx="552.1" cy="218.8" r="3.2" fill="#e8763b"/>
<circle cx="535.0" cy="162.3" r="2.9" fill="#e8763b"/>
<circle cx="549.1" cy="252.6" r="3.2" fill="#e8763b"/>
<circle cx="568.6" cy="229.6" r="3.3" fill="#e8763b"/>
<circle cx="573.4" cy="230.0" r="3.5" fill="#e8763b"/>
<circle cx="527.0" cy="193.2" r="3.5" fill="#e8763b"/>
<circle cx="519.0" cy="298.3" r="3.3" fill="#e8763b"/>
<circle cx="471.6" cy="316.1" r="3.3" fill="#e8763b"/>
<circle cx="510.2" cy="284.7" r="3.2" fill="#e8763b"/>
<circle cx="556.7" cy="165.5" r="3.0" fill="#e8763b"/>
<circle cx="545.8" cy="203.8" r="3.2" fill="#e8763b"/>
<circle cx="517.1" cy="236.1" r="3.2" fill="#e8763b"/>
<circle cx="508.6" cy="183.0" r="3.0" fill="#e8763b"/>
<circle cx="529.5" cy="227.9" r="3.6" fill="#e8763b"/>
<circle cx="571.9" cy="243.8" r="3.2" fill="#e8763b"/>
<circle cx="502.3" cy="188.4" r="3.2" fill="#e8763b"/>
<circle cx="539.3" cy="230.2" r="2.6" fill="#e8763b"/>
<circle cx="461.7" cy="273.2" r="2.7" fill="#e8763b"/>
<circle cx="503.3" cy="246.3" r="2.9" fill="#e8763b"/>
<circle cx="595.7" cy="236.0" r="3.5" fill="#e8763b"/>
<circle cx="537.4" cy="212.0" r="3.1" fill="#e8763b"/>
<circle cx="509.4" cy="223.8" r="3.1" fill="#e8763b"/>
<circle cx="489.4" cy="255.4" r="3.2" fill="#e8763b"/>
<circle cx="513.7" cy="218.6" r="3.4" fill="#e8763b"/>
<circle cx="483.1" cy="213.5" r="3.6" fill="#e8763b"/>
<circle cx="490.4" cy="281.6" r="3.2" fill="#e8763b"/>
<circle cx="527.7" cy="227.2" r="3.1" fill="#e8763b"/>
<circle cx="517.0" cy="232.2" r="3.2" fill="#e8763b"/>
<circle cx="450.6" cy="210.5" r="3.5" fill="#e8763b"/>
<circle cx="447.3" cy="315.7" r="3.2" fill="#e8763b"/>
<circle cx="554.8" cy="286.4" r="3.5" fill="#e8763b"/>
<circle cx="504.7" cy="238.4" r="2.8" fill="#e8763b"/>
<circle cx="490.9" cy="326.0" r="3.4" fill="#e8763b"/>
<circle cx="552.7" cy="246.6" r="3.4" fill="#e8763b"/>
<circle cx="586.2" cy="188.5" r="3.1" fill="#e8763b"/>
<circle cx="522.1" cy="226.1" r="3.2" fill="#e8763b"/>
<circle cx="570.8" cy="173.7" r="3.4" fill="#e8763b"/>
<circle cx="449.0" cy="304.5" r="3.6" fill="#e8763b"/>
<circle cx="553.7" cy="169.8" r="2.8" fill="#e8763b"/>
<circle cx="555.4" cy="186.9" r="3.5" fill="#e8763b"/>
<circle cx="468.2" cy="282.1" r="2.8" fill="#e8763b"/>
<circle cx="541.5" cy="168.7" r="3.0" fill="#e8763b"/>
<circle cx="456.2" cy="171.5" r="3.3" fill="#e8763b"/>
<circle cx="581.2" cy="186.9" r="2.9" fill="#e8763b"/>
<circle cx="538.0" cy="257.9" r="3.0" fill="#e8763b"/>
<circle cx="542.9" cy="261.2" r="3.2" fill="#e8763b"/>
<circle cx="541.2" cy="212.6" r="2.9" fill="#e8763b"/>
<circle cx="465.7" cy="206.9" r="3.3" fill="#e8763b"/>
<circle cx="472.8" cy="302.7" r="2.7" fill="#e8763b"/>
<circle cx="548.5" cy="178.2" r="3.2" fill="#e8763b"/>
<circle cx="482.0" cy="335.4" r="2.9" fill="#e8763b"/>
<circle cx="568.5" cy="165.9" r="2.7" fill="#e8763b"/>
<circle cx="550.6" cy="204.6" r="3.6" fill="#e8763b"/>
<circle cx="466.7" cy="285.0" r="2.8" fill="#e8763b"/>
<circle cx="496.7" cy="282.8" r="3.0" fill="#e8763b"/>
<circle cx="466.1" cy="326.2" r="3.4" fill="#e8763b"/>
<circle cx="525.2" cy="278.5" r="3.3" fill="#e8763b"/>
<circle cx="506.3" cy="179.4" r="2.8" fill="#e8763b"/>
<circle cx="451.1" cy="337.9" r="3.4" fill="#e8763b"/>
<circle cx="445.1" cy="254.0" r="3.2" fill="#e8763b"/>
<circle cx="511.4" cy="253.1" r="2.8" fill="#e8763b"/>
<circle cx="469.7" cy="234.9" r="3.5" fill="#e8763b"/>
<circle cx="519.7" cy="166.4" r="3.0" fill="#e8763b"/>
<circle cx="549.4" cy="254.3" r="2.7" fill="#e8763b"/>
<circle cx="548.6" cy="218.2" r="3.3" fill="#e8763b"/>
<circle cx="480.7" cy="175.6" r="3.6" fill="#e8763b"/>
<circle cx="501.5" cy="222.4" r="2.9" fill="#e8763b"/>
<circle cx="470.3" cy="208.1" r="3.5" fill="#e8763b"/>
<circle cx="545.1" cy="246.1" r="2.6" fill="#e8763b"/>
<circle cx="454.4" cy="315.9" r="2.6" fill="#e8763b"/>
<circle cx="525.4" cy="230.0" r="2.7" fill="#e8763b"/>
<circle cx="590.0" cy="170.8" r="2.7" fill="#e8763b"/>
<circle cx="506.6" cy="172.0" r="3.0" fill="#e8763b"/>
<circle cx="492.4" cy="170.3" r="3.6" fill="#e8763b"/>
<circle cx="472.8" cy="261.7" r="3.1" fill="#e8763b"/>
<circle cx="478.2" cy="163.5" r="3.1" fill="#e8763b"/>
<circle cx="533.6" cy="235.3" r="3.3" fill="#e8763b"/>
<circle cx="586.5" cy="221.5" r="3.4" fill="#e8763b"/>
<circle cx="458.6" cy="314.5" r="2.9" fill="#e8763b"/>
<circle cx="458.1" cy="245.7" r="2.8" fill="#e8763b"/>
<circle cx="476.0" cy="217.2" r="2.7" fill="#e8763b"/>
<circle cx="510.2" cy="222.8" r="3.2" fill="#e8763b"/>
<circle cx="486.5" cy="322.4" r="2.7" fill="#e8763b"/>
<circle cx="549.8" cy="217.1" r="3.4" fill="#e8763b"/>
<circle cx="531.4" cy="165.5" r="2.7" fill="#e8763b"/>
<circle cx="480.8" cy="245.8" r="2.9" fill="#e8763b"/>
<circle cx="446.9" cy="276.9" r="3.3" fill="#e8763b"/>
<circle cx="555.0" cy="249.2" r="3.4" fill="#e8763b"/>
<circle cx="463.3" cy="223.4" r="3.1" fill="#e8763b"/>
<circle cx="512.3" cy="248.3" r="3.5" fill="#e8763b"/>
<circle cx="537.4" cy="180.7" r="3.0" fill="#e8763b"/>
<circle cx="450.1" cy="275.4" r="3.5" fill="#e8763b"/>
<circle cx="505.9" cy="203.1" r="2.8" fill="#e8763b"/>
<circle cx="532.2" cy="231.4" r="2.8" fill="#e8763b"/>
<circle cx="499.5" cy="209.6" r="3.4" fill="#e8763b"/>
<circle cx="507.1" cy="188.6" r="3.1" fill="#e8763b"/>
<circle cx="503.3" cy="162.0" r="3.2" fill="#e8763b"/>
<circle cx="449.2" cy="222.4" r="3.1" fill="#e8763b"/>
<circle cx="554.0" cy="239.8" r="3.4" fill="#e8763b"/>
<circle cx="548.9" cy="267.3" r="3.0" fill="#e8763b"/>
<circle cx="537.0" cy="295.9" r="2.9" fill="#e8763b"/>
<circle cx="457.1" cy="177.5" r="3.2" fill="#e8763b"/>
<circle cx="487.6" cy="303.2" r="3.4" fill="#e8763b"/>
<circle cx="539.7" cy="201.7" r="3.5" fill="#e8763b"/>
<circle cx="529.3" cy="238.7" r="3.0" fill="#e8763b"/>
<circle cx="472.6" cy="290.6" r="3.5" fill="#e8763b"/>
<circle cx="540.1" cy="237.3" r="3.3" fill="#e8763b"/>
<circle cx="530.8" cy="303.1" r="3.5" fill="#e8763b"/>
<circle cx="471.0" cy="286.6" r="2.8" fill="#e8763b"/>
<circle cx="454.7" cy="273.2" r="3.5" fill="#e8763b"/>
<circle cx="557.8" cy="243.4" r="3.1" fill="#e8763b"/>
<circle cx="585.2" cy="220.5" r="3.2" fill="#e8763b"/>
<circle cx="594.8" cy="197.4" r="2.7" fill="#e8763b"/>
<circle cx="532.2" cy="280.7" r="2.8" fill="#e8763b"/>
<circle cx="537.2" cy="289.3" r="3.3" fill="#e8763b"/>
<circle cx="454.5" cy="256.9" r="3.6" fill="#e8763b"/>
<circle cx="494.4" cy="330.1" r="3.5" fill="#e8763b"/>
<circle cx="480.5" cy="299.4" r="3.1" fill="#e8763b"/>
<circle cx="459.4" cy="190.4" r="2.7" fill="#e8763b"/>
<circle cx="594.6" cy="180.7" r="2.7" fill="#e8763b"/>
<circle cx="477.0" cy="234.9" r="3.3" fill="#e8763b"/>
<circle cx="560.2" cy="176.8" r="3.1" fill="#e8763b"/>
<circle cx="503.2" cy="183.5" r="3.0" fill="#e8763b"/>
<circle cx="551.0" cy="259.1" r="3.5" fill="#e8763b"/>
<circle cx="456.2" cy="312.0" r="2.9" fill="#e8763b"/>
<circle cx="463.1" cy="255.8" r="3.3" fill="#e8763b"/>
<circle cx="587.4" cy="236.4" r="3.1" fill="#e8763b"/>
<circle cx="534.2" cy="219.2" r="3.4" fill="#e8763b"/>
<circle cx="525.5" cy="170.1" r="2.8" fill="#e8763b"/>
<circle cx="548.3" cy="174.7" r="2.7" fill="#e8763b"/>
<circle cx="528.9" cy="237.3" r="2.7" fill="#e8763b"/>
<circle cx="500.1" cy="322.2" r="3.4" fill="#e8763b"/>
<circle cx="501.0" cy="163.3" r="3.1" fill="#e8763b"/>
<circle cx="504.3" cy="263.4" r="2.8" fill="#e8763b"/>
<circle cx="596.0" cy="248.5" r="2.7" fill="#e8763b"/>
<circle cx="551.5" cy="261.6" r="3.0" fill="#e8763b"/>
<circle cx="565.7" cy="246.9" r="3.5" fill="#e8763b"/>
<circle cx="545.0" cy="287.2" r="2.6" fill="#e8763b"/>
<circle cx="564.3" cy="242.7" r="3.4" fill="#e8763b"/>
<circle cx="586.9" cy="235.7" r="3.4" fill="#e8763b"/>
<circle cx="583.2" cy="189.6" r="3.0" fill="#e8763b"/>
<circle cx="517.8" cy="217.3" r="2.7" fill="#e8763b"/>
<path d="M20.0,300.0C53.3,235.0 143.3,309.7 200.0,310.0C256.7,310.3 329.2,283.7 360.0,302.0C390.8,320.3 380.8,383.7 385.0,420.0C389.2,456.3 390.8,495.0 385.0,520.0C379.2,545.0 373.3,549.2 350.0,570.0C326.7,590.8 270.0,623.3 245.0,645.0C220.0,666.7 240.8,690.8 200.0,700.0C159.2,709.2 30.0,766.7 0.0,700.0C-30.0,633.3 -13.3,365.0 20.0,300.0Z" fill="#df9bb5" filter="url(#bl4)"/>
<path d="M245.0,645.0C256.7,621.7 282.5,579.2 300.0,560.0C317.5,540.8 325.0,535.0 350.0,530.0C375.0,525.0 415.0,525.0 450.0,530.0C485.0,535.0 535.0,546.7 560.0,560.0C585.0,573.3 600.0,586.7 600.0,610.0C600.0,633.3 593.3,675.0 560.0,700.0C526.7,725.0 455.0,760.0 400.0,760.0C345.0,760.0 255.8,719.2 230.0,700.0C204.2,680.8 233.3,668.3 245.0,645.0Z" fill="#bdcff0" filter="url(#bl4)"/>
<path d="M335.0,318.0C353.0,299.7 412.5,289.3 440.0,290.0C467.5,290.7 480.0,307.0 500.0,322.0C520.0,337.0 544.7,357.0 560.0,380.0C575.3,403.0 587.3,433.3 592.0,460.0C596.7,486.7 595.8,519.7 588.0,540.0C580.2,560.3 564.7,575.7 545.0,582.0C525.3,588.3 494.2,580.7 470.0,578.0C445.8,575.3 419.7,569.7 400.0,566.0C380.3,562.3 362.0,567.0 352.0,556.0C342.0,545.0 343.3,526.0 340.0,500.0C336.7,474.0 332.8,430.3 332.0,400.0C331.2,369.7 317.0,336.3 335.0,318.0Z" fill="#8b6aa8" filter="url(#bl10)"/>
<path d="M172.0,232.0C172.7,213.7 175.7,206.2 182.0,190.0C188.3,173.8 197.0,150.0 210.0,135.0C223.0,120.0 240.0,107.5 260.0,100.0C280.0,92.5 308.0,89.2 330.0,90.0C352.0,90.8 375.7,96.3 392.0,105.0C408.3,113.7 419.7,127.5 428.0,142.0C436.3,156.5 440.0,174.0 442.0,192.0C444.0,210.0 441.7,232.3 440.0,250.0C438.3,267.7 439.0,285.3 432.0,298.0C425.0,310.7 413.3,319.7 398.0,326.0C382.7,332.3 362.7,334.0 340.0,336.0C317.3,338.0 284.5,339.0 262.0,338.0C239.5,337.0 219.0,336.3 205.0,330.0C191.0,323.7 183.5,316.3 178.0,300.0C172.5,283.7 171.3,250.3 172.0,232.0Z" fill="#be4a96" filter="url(#bl6)"/>
<path d="M576.0,420.0C577.3,426.8 584.8,429.7 590.0,436.0C595.2,442.3 602.0,450.0 607.0,458.0C612.0,466.0 617.0,476.7 620.0,484.0C623.0,491.3 625.8,494.2 625.0,502.0C624.2,509.8 615.3,521.0 615.0,531.0C614.7,541.0 619.2,554.2 623.0,562.0C626.8,569.8 631.2,576.3 638.0,578.0C644.8,579.7 655.3,574.7 664.0,572.0C672.7,569.3 679.2,564.7 690.0,562.0C700.8,559.3 720.3,560.3 729.0,556.0C737.7,551.7 736.0,543.7 742.0,536.0C748.0,528.3 761.0,519.5 765.0,510.0C769.0,500.5 765.2,490.7 766.0,479.0C766.8,467.3 767.5,452.3 770.0,440.0C772.5,427.7 780.7,417.5 781.0,405.0C781.3,392.5 774.2,377.5 772.0,365.0C769.8,352.5 770.3,340.8 768.0,330.0C765.7,319.2 760.2,308.2 758.0,300.0C755.8,291.8 759.7,287.3 755.0,281.0C750.3,274.7 735.0,268.5 730.0,262.0C725.0,255.5 726.3,248.8 725.0,242.0C723.7,235.2 724.3,225.5 722.0,221.0C719.7,216.5 716.3,214.3 711.0,215.0C705.7,215.7 697.8,223.8 690.0,225.0C682.2,226.2 669.3,219.5 664.0,222.0C658.7,224.5 661.2,232.0 658.0,240.0C654.8,248.0 649.7,260.0 645.0,270.0C640.3,280.0 635.5,290.0 630.0,300.0C624.5,310.0 617.7,319.2 612.0,330.0C606.3,340.8 601.0,354.2 596.0,365.0C591.0,375.8 585.3,385.8 582.0,395.0C578.7,404.2 574.7,413.2 576.0,420.0Z" fill="#000" filter="url(#sqDark)"/>
<path d="M546.0,150.0C543.7,134.3 544.8,107.5 546.0,90.0C547.2,72.5 548.7,55.3 553.0,45.0C557.3,34.7 566.0,33.3 572.0,28.0C578.0,22.7 583.8,14.5 589.0,13.0C594.2,11.5 598.7,15.7 603.0,19.0C607.3,22.3 609.2,29.0 615.0,33.0C620.8,37.0 629.8,39.3 638.0,43.0C646.2,46.7 657.5,50.8 664.0,55.0C670.5,59.2 674.3,62.2 677.0,68.0C679.7,73.8 680.0,77.2 680.0,90.0C680.0,102.8 677.0,130.0 677.0,145.0C677.0,160.0 680.3,169.8 680.0,180.0C679.7,190.2 677.7,199.0 675.0,206.0C672.3,213.0 668.8,216.8 664.0,222.0C659.2,227.2 652.5,232.0 646.0,237.0C639.5,242.0 632.7,249.5 625.0,252.0C617.3,254.5 606.5,254.7 600.0,252.0C593.5,249.3 590.5,243.0 586.0,236.0C581.5,229.0 577.3,218.7 573.0,210.0C568.7,201.3 564.5,194.0 560.0,184.0C555.5,174.0 548.3,165.7 546.0,150.0Z" fill="#000" filter="url(#sqDark2)"/>
<path d="M320.0,100.0C317.3,91.7 318.7,67.5 324.0,60.0C329.3,52.5 341.7,54.8 352.0,55.0C362.3,55.2 374.3,59.7 386.0,61.0C397.7,62.3 410.3,60.3 422.0,63.0C433.7,65.7 446.0,78.8 456.0,77.0C466.0,75.2 474.2,57.2 482.0,52.0C489.8,46.8 496.3,46.5 503.0,46.0C509.7,45.5 517.5,33.3 522.0,49.0C526.5,64.7 533.7,120.7 530.0,140.0C526.3,159.3 515.0,161.7 500.0,165.0C485.0,168.3 456.7,166.7 440.0,160.0C423.3,153.3 416.7,133.3 400.0,125.0C383.3,116.7 353.3,114.2 340.0,110.0C326.7,105.8 322.7,108.3 320.0,100.0Z" fill="#000" filter="url(#sqDark2)"/>
<ellipse cx="420" cy="705" rx="150" ry="55" fill="#000" filter="url(#sqDark2)"/>
<path d="M326.0,91.0C327.3,85.3 323.3,75.7 324.0,70.0C324.7,64.3 325.3,59.5 330.0,57.0C334.7,54.5 345.7,54.8 352.0,55.0C358.3,55.2 362.3,57.0 368.0,58.0C373.7,59.0 379.5,60.5 386.0,61.0C392.5,61.5 401.0,60.7 407.0,61.0C413.0,61.3 417.3,61.0 422.0,63.0C426.7,65.0 429.3,70.7 435.0,73.0C440.7,75.3 450.2,77.8 456.0,77.0C461.8,76.2 465.7,72.2 470.0,68.0C474.3,63.8 476.5,55.7 482.0,52.0C487.5,48.3 496.3,46.5 503.0,46.0C509.7,45.5 518.0,45.0 522.0,49.0C526.0,53.0 526.0,59.8 527.0,70.0C528.0,80.2 527.5,97.5 528.0,110.0C528.5,122.5 528.7,138.0 530.0,145.0C531.3,152.0 533.5,153.2 536.0,152.0C538.5,150.8 543.3,148.3 545.0,138.0C546.7,127.7 544.7,105.5 546.0,90.0C547.3,74.5 548.7,55.3 553.0,45.0C557.3,34.7 566.0,33.3 572.0,28.0C578.0,22.7 583.8,14.5 589.0,13.0C594.2,11.5 598.7,15.7 603.0,19.0C607.3,22.3 609.2,29.0 615.0,33.0C620.8,37.0 629.8,39.3 638.0,43.0C646.2,46.7 657.5,50.8 664.0,55.0C670.5,59.2 674.3,62.2 677.0,68.0C679.7,73.8 680.0,77.2 680.0,90.0C680.0,102.8 677.0,130.0 677.0,145.0C677.0,160.0 680.3,169.8 680.0,180.0C679.7,190.2 677.7,199.0 675.0,206.0C672.3,213.0 661.5,218.8 664.0,222.0C666.5,225.2 682.2,226.2 690.0,225.0C697.8,223.8 705.7,215.7 711.0,215.0C716.3,214.3 719.7,216.5 722.0,221.0C724.3,225.5 723.7,235.2 725.0,242.0C726.3,248.8 725.0,255.5 730.0,262.0C735.0,268.5 750.3,274.7 755.0,281.0C759.7,287.3 755.8,291.8 758.0,300.0C760.2,308.2 765.7,319.2 768.0,330.0C770.3,340.8 769.8,352.5 772.0,365.0C774.2,377.5 781.3,392.5 781.0,405.0C780.7,417.5 772.5,427.7 770.0,440.0C767.5,452.3 766.8,467.3 766.0,479.0C765.2,490.7 769.0,500.5 765.0,510.0C761.0,519.5 748.0,528.3 742.0,536.0C736.0,543.7 737.7,551.7 729.0,556.0C720.3,560.3 700.8,559.3 690.0,562.0C679.2,564.7 672.7,569.3 664.0,572.0C655.3,574.7 644.8,579.7 638.0,578.0C631.2,576.3 626.8,569.8 623.0,562.0C619.2,554.2 614.7,541.0 615.0,531.0C615.3,521.0 624.2,509.8 625.0,502.0C625.8,494.2 623.0,491.3 620.0,484.0C617.0,476.7 612.0,466.0 607.0,458.0C602.0,450.0 595.2,441.7 590.0,436.0C584.8,430.3 578.7,424.7 576.0,424.0C573.3,423.3 573.2,426.8 574.0,432.0C574.8,437.2 579.7,446.3 581.0,455.0C582.3,463.7 582.0,474.0 582.0,484.0C582.0,494.0 582.5,505.5 581.0,515.0C579.5,524.5 576.5,534.0 573.0,541.0C569.5,548.0 565.7,551.3 560.0,557.0C554.3,562.7 546.3,570.7 539.0,575.0C531.7,579.3 521.2,580.8 516.0,583.0C510.8,585.2 505.8,585.8 508.0,588.0C510.2,590.2 520.3,594.3 529.0,596.0C537.7,597.7 551.3,596.7 560.0,598.0C568.7,599.3 579.7,600.5 581.0,604.0C582.3,607.5 573.2,615.2 568.0,619.0C562.8,622.8 556.5,627.3 550.0,627.0C543.5,626.7 536.0,618.7 529.0,617.0C522.0,615.3 513.2,614.8 508.0,617.0C502.8,619.2 497.5,625.7 498.0,630.0C498.5,634.3 509.8,637.8 511.0,643.0C512.2,648.2 509.0,655.0 505.0,661.0C501.0,667.0 492.5,675.5 487.0,679.0C481.5,682.5 478.0,682.3 472.0,682.0C466.0,681.7 458.0,677.3 451.0,677.0C444.0,676.7 436.2,679.0 430.0,680.0C423.8,681.0 415.3,679.7 414.0,683.0C412.7,686.3 418.8,695.0 422.0,700.0C425.2,705.0 434.7,708.2 433.0,713.0C431.3,717.8 419.8,724.2 412.0,729.0C404.2,733.8 394.7,741.7 386.0,742.0C377.3,742.3 369.2,734.5 360.0,731.0C350.8,727.5 339.3,726.2 331.0,721.0C322.7,715.8 315.2,704.7 310.0,700.0C304.8,695.3 305.2,697.7 300.0,693.0C294.8,688.3 285.7,677.5 279.0,672.0C272.3,666.5 265.5,663.7 260.0,660.0C254.5,656.3 252.5,653.2 246.0,650.0C239.5,646.8 229.0,644.8 221.0,641.0C213.0,637.2 206.3,631.8 198.0,627.0C189.7,622.2 179.7,615.8 171.0,612.0C162.3,608.2 155.3,607.5 146.0,604.0C136.7,600.5 123.7,595.2 115.0,591.0C106.3,586.8 101.7,583.5 94.0,579.0C86.3,574.5 75.7,570.0 69.0,564.0C62.3,558.0 58.2,550.2 54.0,543.0C49.8,535.8 46.8,528.2 44.0,521.0C41.2,513.8 38.3,508.3 37.0,500.0C35.7,491.7 35.5,480.0 36.0,471.0C36.5,462.0 38.0,455.2 40.0,446.0C42.0,436.8 45.0,423.7 48.0,416.0C51.0,408.3 53.8,405.2 58.0,400.0C62.2,394.8 67.7,389.8 73.0,385.0C78.3,380.2 83.5,375.5 90.0,371.0C96.5,366.5 105.5,362.5 112.0,358.0C118.5,353.5 125.2,349.8 129.0,344.0C132.8,338.2 133.0,329.7 135.0,323.0C137.0,316.3 141.0,310.3 141.0,304.0C141.0,297.7 137.0,292.0 135.0,285.0C133.0,278.0 127.2,270.3 129.0,262.0C130.8,253.7 140.8,243.7 146.0,235.0C151.2,226.3 155.8,216.2 160.0,210.0C164.2,203.8 165.8,203.5 171.0,198.0C176.2,192.5 185.5,184.3 191.0,177.0C196.5,169.7 200.2,160.7 204.0,154.0C207.8,147.3 208.2,142.5 214.0,137.0C219.8,131.5 231.3,124.8 239.0,121.0C246.7,117.2 252.0,116.2 260.0,114.0C268.0,111.8 277.7,109.7 287.0,108.0C296.3,106.3 309.5,106.8 316.0,104.0C322.5,101.2 324.7,96.7 326.0,91.0Z" fill="#fff" filter="url(#spW)" opacity="0.45"/>
</g>
<circle cx="817.6" cy="41.0" r="10" fill="#8b6aa8"/>
<text transform="translate(840.5,53.0) scale(1,1.03)" font-size="29.8">SC-β INS<tspan font-size="18.2" dy="-10.3">high</tspan></text>
<circle cx="817.6" cy="85.0" r="10" fill="#df9bb5"/>
<text transform="translate(840.5,97.9) scale(1,1.03)" font-size="29.8">SC-β INS<tspan font-size="18.2" dy="-10.3">low</tspan></text>
<circle cx="817.6" cy="129.0" r="10" fill="#c1489b"/>
<text transform="translate(840.5,142.4) scale(1,1.03)" font-size="29.8">SC-α</text>
<circle cx="817.6" cy="173.0" r="10" fill="#ebdbdb"/>
<text transform="translate(840.5,182.0) scale(1,1.03)" font-size="29.8">SC-EC</text>
<circle cx="817.6" cy="217.0" r="10" fill="#bdcff0"/>
<text transform="translate(840.5,227.3) scale(1,1.03)" font-size="29.8">NKX6.1<tspan font-size="19.5" dy="-10.3">+</tspan></text>
<circle cx="817.6" cy="261.0" r="10" fill="#e2cb63"/>
<text transform="translate(840.5,271.5) scale(1,1.03)" font-size="29.8">PDX1<tspan font-size="19.5" dy="-10.3">+</tspan></text>
<circle cx="817.6" cy="305.0" r="10" fill="#bcbfba"/>
<text transform="translate(840.5,314.0) scale(1,1.03)" font-size="29.8">Other</text>
<circle cx="817.6" cy="349.0" r="10" fill="#e8763b"/>
<text transform="translate(840.5,356.8) scale(1,1.03)" font-size="29.8">Proliferating</text>
<path d="M56.7,742 V628 M56.7,742 H168" stroke="#000" stroke-width="2" fill="none"/>
<path d="M48.8,631.4 L56.7,607.3 L65,631.4 Z M165.8,734 L190.6,742 L165.8,750 Z" fill="#000"/>
<text transform="translate(38.0,729.5) rotate(-90)" font-size="30">UMAP 2</text>
<text transform="translate(64.0,777.7)" font-size="30">UMAP 1</text>
<text transform="translate(-1.5,50.0)" font-size="68">a</text>
<defs><filter id="sp0" x="-5%" y="-5%" width="110%" height="110%" color-interpolation-filters="sRGB"><feTurbulence type="fractalNoise" baseFrequency="0.45" numOctaves="1" seed="57" result="n"/><feColorMatrix in="n" type="matrix" values="0 0 0 0 0.965 0 0 0 0 0.875 0 0 0 0 0.722 30 0 0 0 -15.30" result="c"/><feComposite in="c" in2="SourceGraphic" operator="in"/></filter><filter id="sp1" x="-5%" y="-5%" width="110%" height="110%" color-interpolation-filters="sRGB"><feTurbulence type="fractalNoise" baseFrequency="0.45" numOctaves="1" seed="92" result="n"/><feColorMatrix in="n" type="matrix" values="0 0 0 0 0.965 0 0 0 0 0.875 0 0 0 0 0.722 30 0 0 0 -14.70" result="c"/><feComposite in="c" in2="SourceGraphic" operator="in"/></filter><filter id="sp2" x="-5%" y="-5%" width="110%" height="110%" color-interpolation-filters="sRGB"><feTurbulence type="fractalNoise" baseFrequency="0.45" numOctaves="1" seed="99" result="n"/><feColorMatrix in="n" type="matrix" values="0 0 0 0 0.965 0 0 0 0 0.875 0 0 0 0 0.722 30 0 0 0 -14.70" result="c"/><feComposite in="c" in2="SourceGraphic" operator="in"/></filter><filter id="sp3" x="-5%" y="-5%" width="110%" height="110%" color-interpolation-filters="sRGB"><feTurbulence type="fractalNoise" baseFrequency="0.45" numOctaves="1" seed="106" result="n"/><feColorMatrix in="n" type="matrix" values="0 0 0 0 0.965 0 0 0 0 0.875 0 0 0 0 0.722 30 0 0 0 -14.70" result="c"/><feComposite in="c" in2="SourceGraphic" operator="in"/></filter><filter id="sp4" x="-5%" y="-5%" width="110%" height="110%" color-interpolation-filters="sRGB"><feTurbulence type="fractalNoise" baseFrequency="0.45" numOctaves="1" seed="64" result="n"/><feColorMatrix in="n" type="matrix" values="0 0 0 0 0.965 0 0 0 0 0.875 0 0 0 0 0.722 30 0 0 0 -16.11" result="c"/><feComposite in="c" in2="SourceGraphic" operator="in"/></filter><filter id="sp5" x="-5%" y="-5%" width="110%" height="110%" color-interpolation-filters="sRGB"><feTurbulence type="fractalNoise" baseFrequency="0.45" numOctaves="1" seed="71" result="n"/><feColorMatrix in="n" type="matrix" values="0 0 0 0 0.965 0 0 0 0 0.875 0 0 0 0 0.722 30 0 0 0 -15.63" result="c"/><feComposite in="c" in2="SourceGraphic" operator="in"/></filter><filter id="sp6" x="-5%" y="-5%" width="110%" height="110%" color-interpolation-filters="sRGB"><feTurbulence type="fractalNoise" baseFrequency="0.45" numOctaves="1" seed="78" result="n"/><feColorMatrix in="n" type="matrix" values="0 0 0 0 0.965 0 0 0 0 0.875 0 0 0 0 0.722 30 0 0 0 -18.39" result="c"/><feComposite in="c" in2="SourceGraphic" operator="in"/></filter><filter id="sp7" x="-5%" y="-5%" width="110%" height="110%" color-interpolation-filters="sRGB"><feTurbulence type="fractalNoise" baseFrequency="0.45" numOctaves="1" seed="85" result="n"/><feColorMatrix in="n" type="matrix" values="0 0 0 0 0.965 0 0 0 0 0.875 0 0 0 0 0.722 30 0 0 0 -19.17" result="c"/><feComposite in="c" in2="SourceGraphic" operator="in"/></filter><filter id="sp8" x="-5%" y="-5%" width="110%" height="110%" color-interpolation-filters="sRGB"><feTurbulence type="fractalNoise" baseFrequency="0.45" numOctaves="1" seed="11" result="n"/><feColorMatrix in="n" type="matrix" values="0 0 0 0 0.118 0 0 0 0 0.118 0 0 0 0 0.118 30 0 0 0 -19.35" result="c"/><feComposite in="c" in2="SourceGraphic" operator="in"/></filter><filter id="sp9" x="-5%" y="-5%" width="110%" height="110%" color-interpolation-filters="sRGB"><feTurbulence type="fractalNoise" baseFrequency="0.45" numOctaves="1" seed="12" result="n"/><feColorMatrix in="n" type="matrix" values="0 0 0 0 0.118 0 0 0 0 0.118 0 0 0 0 0.118 30 0 0 0 -19.35" result="c"/><feComposite in="c" in2="SourceGraphic" operator="in"/></filter><filter id="sp10" x="-5%" y="-5%" width="110%" height="110%" color-interpolation-filters="sRGB"><feTurbulence type="fractalNoise" baseFrequency="0.45" numOctaves="1" seed="13" result="n"/><feColorMatrix in="n" type="matrix" values="0 0 0 0 0.118 0 0 0 0 0.118 0 0 0 0 0.118 30 0 0 0 -19.35" result="c"/><feComposite in="c" in2="SourceGraphic" operator="in"/></filter><filter id="sp11" x="-5%" y="-5%" width="110%" height="110%" color-interpolation-filters="sRGB"><feTurbulence type="fractalNoise" baseFrequency="0.45" numOctaves="1" seed="127" result="n"/><feColorMatrix in="n" type="matrix" values="0 0 0 0 0.894 0 0 0 0 0.353 0 0 0 0 0.475 30 0 0 0 -15.69" result="c"/><feComposite in="c" in2="SourceGraphic" operator="in"/></filter><filter id="sp12" x="-5%" y="-5%" width="110%" height="110%" color-interpolation-filters="sRGB"><feTurbulence type="fractalNoise" baseFrequency="0.45" numOctaves="1" seed="128" result="n"/><feColorMatrix in="n" type="matrix" values="0 0 0 0 0.741 0 0 0 0 0.741 0 0 0 0 0.741 30 0 0 0 -17.16" result="c"/><feComposite in="c" in2="SourceGraphic" operator="in"/></filter><filter id="sp13" x="-5%" y="-5%" width="110%" height="110%" color-interpolation-filters="sRGB"><feTurbulence type="fractalNoise" baseFrequency="0.45" numOctaves="1" seed="134" result="n"/><feColorMatrix in="n" type="matrix" values="0 0 0 0 0.431 0 0 0 0 0.624 0 0 0 0 0.824 30 0 0 0 -15.69" result="c"/><feComposite in="c" in2="SourceGraphic" operator="in"/></filter><filter id="sp14" x="-5%" y="-5%" width="110%" height="110%" color-interpolation-filters="sRGB"><feTurbulence type="fractalNoise" baseFrequency="0.45" numOctaves="1" seed="135" result="n"/><feColorMatrix in="n" type="matrix" values="0 0 0 0 0.741 0 0 0 0 0.741 0 0 0 0 0.741 30 0 0 0 -17.16" result="c"/><feComposite in="c" in2="SourceGraphic" operator="in"/></filter><filter id="sp15" x="-5%" y="-5%" width="110%" height="110%" color-interpolation-filters="sRGB"><feTurbulence type="fractalNoise" baseFrequency="0.45" numOctaves="1" seed="169" result="n"/><feColorMatrix in="n" type="matrix" values="0 0 0 0 0.894 0 0 0 0 0.353 0 0 0 0 0.475 30 0 0 0 -15.63" result="c"/><feComposite in="c" in2="SourceGraphic" operator="in"/></filter><filter id="sp16" x="-5%" y="-5%" width="110%" height="110%" color-interpolation-filters="sRGB"><feTurbulence type="fractalNoise" baseFrequency="0.45" numOctaves="1" seed="170" result="n"/><feColorMatrix in="n" type="matrix" values="0 0 0 0 0.741 0 0 0 0 0.741 0 0 0 0 0.741 30 0 0 0 -16.59" result="c"/><feComposite in="c" in2="SourceGraphic" operator="in"/></filter><filter id="sp17" x="-5%" y="-5%" width="110%" height="110%" color-interpolation-filters="sRGB"><feTurbulence type="fractalNoise" baseFrequency="0.45" numOctaves="1" seed="176" result="n"/><feColorMatrix in="n" type="matrix" values="0 0 0 0 0.894 0 0 0 0 0.353 0 0 0 0 0.475 30 0 0 0 -16.11" result="c"/><feComposite in="c" in2="SourceGraphic" operator="in"/></filter><filter id="sp18" x="-5%" y="-5%" width="110%" height="110%" color-interpolation-filters="sRGB"><feTurbulence type="fractalNoise" baseFrequency="0.45" numOctaves="1" seed="177" result="n"/><feColorMatrix in="n" type="matrix" values="0 0 0 0 0.741 0 0 0 0 0.741 0 0 0 0 0.741 30 0 0 0 -17.16" result="c"/><feComposite in="c" in2="SourceGraphic" operator="in"/></filter><filter id="sp19" x="-5%" y="-5%" width="110%" height="110%" color-interpolation-filters="sRGB"><feTurbulence type="fractalNoise" baseFrequency="0.45" numOctaves="1" seed="183" result="n"/><feColorMatrix in="n" type="matrix" values="0 0 0 0 0.431 0 0 0 0 0.624 0 0 0 0 0.824 30 0 0 0 -15.30" result="c"/><feComposite in="c" in2="SourceGraphic" operator="in"/></filter><filter id="sp20" x="-5%" y="-5%" width="110%" height="110%" color-interpolation-filters="sRGB"><feTurbulence type="fractalNoise" baseFrequency="0.45" numOctaves="1" seed="184" result="n"/><feColorMatrix in="n" type="matrix" values="0 0 0 0 0.741 0 0 0 0 0.741 0 0 0 0 0.741 30 0 0 0 -17.16" result="c"/><feComposite in="c" in2="SourceGraphic" operator="in"/></filter><filter id="sp21" x="-5%" y="-5%" width="110%" height="110%" color-interpolation-filters="sRGB"><feTurbulence type="fractalNoise" baseFrequency="0.45" numOctaves="1" seed="141" result="n"/><feColorMatrix in="n" type="matrix" values="0 0 0 0 0.741 0 0 0 0 0.741 0 0 0 0 0.741 30 0 0 0 -16.11" result="c"/><feComposite in="c" in2="SourceGraphic" operator="in"/></filter><filter id="sp22" x="-5%" y="-5%" width="110%" height="110%" color-interpolation-filters="sRGB"><feTurbulence type="fractalNoise" baseFrequency="0.45" numOctaves="1" seed="142" result="n"/><feColorMatrix in="n" type="matrix" values="0 0 0 0 0.431 0 0 0 0 0.624 0 0 0 0 0.824 30 0 0 0 -20.61" result="c"/><feComposite in="c" in2="SourceGraphic" operator="in"/></filter><filter id="sp23" x="-5%" y="-5%" width="110%" height="110%" color-interpolation-filters="sRGB"><feTurbulence type="fractalNoise" baseFrequency="0.45" numOctaves="1" seed="148" result="n"/><feColorMatrix in="n" type="matrix" values="0 0 0 0 0.741 0 0 0 0 0.741 0 0 0 0 0.741 30 0 0 0 -15.93" result="c"/><feComposite in="c" in2="SourceGraphic" operator="in"/></filter><filter id="sp24" x="-5%" y="-5%" width="110%" height="110%" color-interpolation-filters="sRGB"><feTurbulence type="fractalNoise" baseFrequency="0.45" numOctaves="1" seed="149" result="n"/><feColorMatrix in="n" type="matrix" values="0 0 0 0 0.431 0 0 0 0 0.624 0 0 0 0 0.824 30 0 0 0 -16.89" result="c"/><feComposite in="c" in2="SourceGraphic" operator="in"/></filter><filter id="sp25" x="-5%" y="-5%" width="110%" height="110%" color-interpolation-filters="sRGB"><feTurbulence type="fractalNoise" baseFrequency="0.45" numOctaves="1" seed="155" result="n"/><feColorMatrix in="n" type="matrix" values="0 0 0 0 0.894 0 0 0 0 0.353 0 0 0 0 0.475 30 0 0 0 -17.43" result="c"/><feComposite in="c" in2="SourceGraphic" operator="in"/></filter><filter id="sp26" x="-5%" y="-5%" width="110%" height="110%" color-interpolation-filters="sRGB"><feTurbulence type="fractalNoise" baseFrequency="0.45" numOctaves="1" seed="156" result="n"/><feColorMatrix in="n" type="matrix" values="0 0 0 0 0.741 0 0 0 0 0.741 0 0 0 0 0.741 30 0 0 0 -18.39" result="c"/><feComposite in="c" in2="SourceGraphic" operator="in"/></filter><filter id="sp27" x="-5%" y="-5%" width="110%" height="110%" color-interpolation-filters="sRGB"><feTurbulence type="fractalNoise" baseFrequency="0.45" numOctaves="1" seed="162" result="n"/><feColorMatrix in="n" type="matrix" values="0 0 0 0 0.741 0 0 0 0 0.741 0 0 0 0 0.741 30 0 0 0 -19.65" result="c"/><feComposite in="c" in2="SourceGraphic" operator="in"/></filter><filter id="sp28" x="-5%" y="-5%" width="110%" height="110%" color-interpolation-filters="sRGB"><feTurbulence type="fractalNoise" baseFrequency="0.45" numOctaves="1" seed="163" result="n"/><feColorMatrix in="n" type="matrix" values="0 0 0 0 0.894 0 0 0 0 0.353 0 0 0 0 0.475 30 0 0 0 -21.06" result="c"/><feComposite in="c" in2="SourceGraphic" operator="in"/></filter><filter id="sp29" x="-5%" y="-5%" width="110%" height="110%" color-interpolation-filters="sRGB"><feTurbulence type="fractalNoise" baseFrequency="0.45" numOctaves="1" seed="21" result="n"/><feColorMatrix in="n" type="matrix" values="0 0 0 0 0.118 0 0 0 0 0.118 0 0 0 0 0.118 30 0 0 0 -19.35" result="c"/><feComposite in="c" in2="SourceGraphic" operator="in"/></filter><filter id="sp30" x="-5%" y="-5%" width="110%" height="110%" color-interpolation-filters="sRGB"><feTurbulence type="fractalNoise" baseFrequency="0.45" numOctaves="1" seed="22" result="n"/><feColorMatrix in="n" type="matrix" values="0 0 0 0 0.118 0 0 0 0 0.118 0 0 0 0 0.118 30 0 0 0 -19.35" result="c"/><feComposite in="c" in2="SourceGraphic" operator="in"/></filter><filter id="sp31" x="-5%" y="-5%" width="110%" height="110%" color-interpolation-filters="sRGB"><feTurbulence type="fractalNoise" baseFrequency="0.45" numOctaves="1" seed="23" result="n"/><feColorMatrix in="n" type="matrix" values="0 0 0 0 0.118 0 0 0 0 0.118 0 0 0 0 0.118 30 0 0 0 -19.35" result="c"/><feComposite in="c" in2="SourceGraphic" operator="in"/></filter><filter id="sp32" x="-5%" y="-5%" width="110%" height="110%" color-interpolation-filters="sRGB"><feTurbulence type="fractalNoise" baseFrequency="0.45" numOctaves="1" seed="71" result="n"/><feColorMatrix in="n" type="matrix" values="0 0 0 0 0.906 0 0 0 0 0.643 0 0 0 0 0.604 30 0 0 0 -19.65" result="c"/><feComposite in="c" in2="SourceGraphic" operator="in"/></filter><filter id="sp33" x="-5%" y="-5%" width="110%" height="110%" color-interpolation-filters="sRGB"><feTurbulence type="fractalNoise" baseFrequency="0.45" numOctaves="1" seed="72" result="n"/><feColorMatrix in="n" type="matrix" values="0 0 0 0 0.612 0 0 0 0 0.761 0 0 0 0 0.886 30 0 0 0 -19.17" result="c"/><feComposite in="c" in2="SourceGraphic" operator="in"/></filter><filter id="sp34" x="-5%" y="-5%" width="110%" height="110%" color-interpolation-filters="sRGB"><feTurbulence type="fractalNoise" baseFrequency="0.45" numOctaves="1" seed="80" result="n"/><feColorMatrix in="n" type="matrix" values="0 0 0 0 0.651 0 0 0 0 0.851 0 0 0 0 0.635 30 0 0 0 -17.43" result="c"/><feComposite in="c" in2="SourceGraphic" operator="in"/></filter><filter id="sp35" x="-5%" y="-5%" width="110%" height="110%" color-interpolation-filters="sRGB"><feTurbulence type="fractalNoise" baseFrequency="0.45" numOctaves="1" seed="81" result="n"/><feColorMatrix in="n" type="matrix" values="0 0 0 0 0.427 0 0 0 0 0.733 0 0 0 0 0.439 30 0 0 0 -15.69" result="c"/><feComposite in="c" in2="SourceGraphic" operator="in"/></filter><filter id="sp36" x="-5%" y="-5%" width="110%" height="110%" color-interpolation-filters="sRGB"><feTurbulence type="fractalNoise" baseFrequency="0.45" numOctaves="1" seed="82" result="n"/><feColorMatrix in="n" type="matrix" values="0 0 0 0 0.263 0 0 0 0 0.627 0 0 0 0 0.310 30 0 0 0 -14.55" result="c"/><feComposite in="c" in2="SourceGraphic" operator="in"/></filter><filter id="sp37" x="-5%" y="-5%" width="110%" height="110%" color-interpolation-filters="sRGB"><feTurbulence type="fractalNoise" baseFrequency="0.45" numOctaves="1" seed="83" result="n"/><feColorMatrix in="n" type="matrix" values="0 0 0 0 0.173 0 0 0 0 0.522 0 0 0 0 0.251 30 0 0 0 -13.77" result="c"/><feComposite in="c" in2="SourceGraphic" operator="in"/></filter><filter id="sp38" x="-5%" y="-5%" width="110%" height="110%" color-interpolation-filters="sRGB"><feTurbulence type="fractalNoise" baseFrequency="0.45" numOctaves="1" seed="90" result="n"/><feColorMatrix in="n" type="matrix" values="0 0 0 0 0.698 0 0 0 0 0.824 0 0 0 0 0.918 30 0 0 0 -17.43" result="c"/><feComposite in="c" in2="SourceGraphic" operator="in"/></filter><filter id="sp39" x="-5%" y="-5%" width="110%" height="110%" color-interpolation-filters="sRGB"><feTurbulence type="fractalNoise" baseFrequency="0.45" numOctaves="1" seed="91" result="n"/><feColorMatrix in="n" type="matrix" values="0 0 0 0 0.471 0 0 0 0 0.667 0 0 0 0 0.847 30 0 0 0 -15.93" result="c"/><feComposite in="c" in2="SourceGraphic" operator="in"/></filter><filter id="sp40" x="-5%" y="-5%" width="110%" height="110%" color-interpolation-filters="sRGB"><feTurbulence type="fractalNoise" baseFrequency="0.45" numOctaves="1" seed="92" result="n"/><feColorMatrix in="n" type="matrix" values="0 0 0 0 0.290 0 0 0 0 0.525 0 0 0 0 0.769 30 0 0 0 -14.94" result="c"/><feComposite in="c" in2="SourceGraphic" operator="in"/></filter><filter id="sp41" x="-5%" y="-5%" width="110%" height="110%" color-interpolation-filters="sRGB"><feTurbulence type="fractalNoise" baseFrequency="0.45" numOctaves="1" seed="93" result="n"/><feColorMatrix in="n" type="matrix" values="0 0 0 0 0.165 0 0 0 0 0.384 0 0 0 0 0.659 30 0 0 0 -14.16" result="c"/><feComposite in="c" in2="SourceGraphic" operator="in"/></filter><filter id="sp42" x="-5%" y="-5%" width="110%" height="110%" color-interpolation-filters="sRGB"><feTurbulence type="fractalNoise" baseFrequency="0.45" numOctaves="1" seed="100" result="n"/><feColorMatrix in="n" type="matrix" values="0 0 0 0 0.769 0 0 0 0 0.863 0 0 0 0 0.937 30 0 0 0 -18.39" result="c"/><feComposite in="c" in2="SourceGraphic" operator="in"/></filter><filter id="sp43" x="-5%" y="-5%" width="110%" height="110%" color-interpolation-filters="sRGB"><feTurbulence type="fractalNoise" baseFrequency="0.45" numOctaves="1" seed="101" result="n"/><feColorMatrix in="n" type="matrix" values="0 0 0 0 0.576 0 0 0 0 0.741 0 0 0 0 0.886 30 0 0 0 -17.16" result="c"/><feComposite in="c" in2="SourceGraphic" operator="in"/></filter><filter id="sp44" x="-5%" y="-5%" width="110%" height="110%" color-interpolation-filters="sRGB"><feTurbulence type="fractalNoise" baseFrequency="0.45" numOctaves="1" seed="102" result="n"/><feColorMatrix in="n" type="matrix" values="0 0 0 0 0.373 0 0 0 0 0.584 0 0 0 0 0.800 30 0 0 0 -16.11" result="c"/><feComposite in="c" in2="SourceGraphic" operator="in"/></filter><filter id="sp45" x="-5%" y="-5%" width="110%" height="110%" color-interpolation-filters="sRGB"><feTurbulence type="fractalNoise" baseFrequency="0.45" numOctaves="1" seed="103" result="n"/><feColorMatrix in="n" type="matrix" values="0 0 0 0 0.247 0 0 0 0 0.482 0 0 0 0 0.741 30 0 0 0 -15.69" result="c"/><feComposite in="c" in2="SourceGraphic" operator="in"/></filter><filter id="sp46" x="-5%" y="-5%" width="110%" height="110%" color-interpolation-filters="sRGB"><feTurbulence type="fractalNoise" baseFrequency="0.45" numOctaves="1" seed="110" result="n"/><feColorMatrix in="n" type="matrix" values="0 0 0 0 0.957 0 0 0 0 0.722 0 0 0 0 0.659 30 0 0 0 -17.43" result="c"/><feComposite in="c" in2="SourceGraphic" operator="in"/></filter><filter id="sp47" x="-5%" y="-5%" width="110%" height="110%" color-interpolation-filters="sRGB"><feTurbulence type="fractalNoise" baseFrequency="0.45" numOctaves="1" seed="111" result="n"/><feColorMatrix in="n" type="matrix" values="0 0 0 0 0.925 0 0 0 0 0.541 0 0 0 0 0.471 30 0 0 0 -15.69" result="c"/><feComposite in="c" in2="SourceGraphic" operator="in"/></filter><filter id="sp48" x="-5%" y="-5%" width="110%" height="110%" color-interpolation-filters="sRGB"><feTurbulence type="fractalNoise" baseFrequency="0.45" numOctaves="1" seed="112" result="n"/><feColorMatrix in="n" type="matrix" values="0 0 0 0 0.878 0 0 0 0 0.353 0 0 0 0 0.298 30 0 0 0 -14.40" result="c"/><feComposite in="c" in2="SourceGraphic" operator="in"/></filter><filter id="sp49" x="-5%" y="-5%" width="110%" height="110%" color-interpolation-filters="sRGB"><feTurbulence type="fractalNoise" baseFrequency="0.45" numOctaves="1" seed="113" result="n"/><feColorMatrix in="n" type="matrix" values="0 0 0 0 0.780 0 0 0 0 0.227 0 0 0 0 0.212 30 0 0 0 -13.38" result="c"/><feComposite in="c" in2="SourceGraphic" operator="in"/></filter><filter id="sp50" x="-5%" y="-5%" width="110%" height="110%" color-interpolation-filters="sRGB"><feTurbulence type="fractalNoise" baseFrequency="0.45" numOctaves="1" seed="31" result="n"/><feColorMatrix in="n" type="matrix" values="0 0 0 0 0.118 0 0 0 0 0.118 0 0 0 0 0.118 30 0 0 0 -18.78" result="c"/><feComposite in="c" in2="SourceGraphic" operator="in"/></filter><filter id="sp51" x="-5%" y="-5%" width="110%" height="110%" color-interpolation-filters="sRGB"><feTurbulence type="fractalNoise" baseFrequency="0.45" numOctaves="1" seed="32" result="n"/><feColorMatrix in="n" type="matrix" values="0 0 0 0 0.118 0 0 0 0 0.118 0 0 0 0 0.118 30 0 0 0 -18.78" result="c"/><feComposite in="c" in2="SourceGraphic" operator="in"/></filter><filter id="sp52" x="-5%" y="-5%" width="110%" height="110%" color-interpolation-filters="sRGB"><feTurbulence type="fractalNoise" baseFrequency="0.45" numOctaves="1" seed="33" result="n"/><feColorMatrix in="n" type="matrix" values="0 0 0 0 0.118 0 0 0 0 0.118 0 0 0 0 0.118 30 0 0 0 -18.78" result="c"/><feComposite in="c" in2="SourceGraphic" operator="in"/></filter></defs>
<defs><clipPath id="clipB"><path d="M1271.8,94.4C1272.3,92.3 1270.8,88.7 1271.0,86.6C1271.3,84.5 1271.5,82.7 1273.3,81.8C1275.0,80.8 1279.2,81.0 1281.6,81.0C1284.0,81.1 1285.5,81.8 1287.7,82.1C1289.8,82.5 1292.0,83.1 1294.5,83.3C1296.9,83.4 1300.2,83.1 1302.4,83.3C1304.7,83.4 1306.3,83.3 1308.1,84.0C1309.9,84.7 1310.9,86.9 1313.0,87.7C1315.2,88.6 1318.8,89.5 1321.0,89.2C1323.2,88.9 1324.6,87.4 1326.3,85.9C1327.9,84.3 1328.7,81.3 1330.8,79.9C1332.9,78.5 1336.2,77.9 1338.8,77.7C1341.3,77.5 1344.4,77.3 1346.0,78.8C1347.5,80.3 1347.5,82.8 1347.8,86.6C1348.2,90.4 1348.0,96.9 1348.2,101.5C1348.4,106.2 1348.5,111.9 1349.0,114.6C1349.5,117.2 1350.3,117.6 1351.2,117.2C1352.2,116.7 1354.0,115.8 1354.7,111.9C1355.3,108.1 1354.5,99.8 1355.0,94.1C1355.5,88.3 1356.0,81.1 1357.7,77.3C1359.3,73.4 1362.6,72.9 1364.9,71.0C1367.1,69.0 1369.4,65.9 1371.3,65.4C1373.3,64.8 1375.0,66.4 1376.6,67.6C1378.2,68.9 1378.9,71.3 1381.2,72.8C1383.4,74.3 1386.8,75.2 1389.9,76.6C1392.9,77.9 1397.2,79.5 1399.7,81.0C1402.2,82.6 1403.6,83.7 1404.6,85.9C1405.6,88.0 1405.8,89.3 1405.8,94.1C1405.8,98.8 1404.6,109.0 1404.6,114.6C1404.6,120.1 1405.9,123.8 1405.8,127.6C1405.6,131.4 1404.9,134.7 1403.9,137.3C1402.9,139.9 1398.8,142.1 1399.7,143.2C1400.6,144.4 1406.6,144.8 1409.5,144.4C1412.5,143.9 1415.5,140.9 1417.5,140.6C1419.5,140.4 1420.8,141.2 1421.7,142.9C1422.5,144.6 1422.3,148.2 1422.8,150.7C1423.3,153.2 1422.8,155.7 1424.7,158.2C1426.6,160.6 1432.4,162.9 1434.1,165.2C1435.9,167.6 1434.5,169.3 1435.3,172.3C1436.1,175.4 1438.2,179.5 1439.1,183.5C1439.9,187.5 1439.8,191.9 1440.6,196.5C1441.4,201.2 1444.1,206.8 1444.0,211.4C1443.9,216.1 1440.8,219.9 1439.8,224.5C1438.9,229.1 1438.6,234.7 1438.3,239.0C1438.0,243.4 1439.4,247.0 1437.9,250.6C1436.4,254.1 1431.5,257.4 1429.2,260.2C1427.0,263.1 1427.6,266.1 1424.3,267.7C1421.0,269.3 1413.6,268.9 1409.5,269.9C1405.4,270.9 1403.0,272.7 1399.7,273.7C1396.4,274.6 1392.4,276.5 1389.9,275.9C1387.3,275.3 1385.6,272.8 1384.2,269.9C1382.7,267.0 1381.0,262.1 1381.2,258.4C1381.3,254.7 1384.6,250.5 1384.9,247.6C1385.3,244.7 1384.2,243.6 1383.0,240.9C1381.9,238.1 1380.0,234.2 1378.1,231.2C1376.2,228.2 1373.6,225.1 1371.7,223.0C1369.7,220.9 1367.4,218.8 1366.4,218.5C1365.4,218.3 1365.3,219.6 1365.6,221.5C1365.9,223.4 1367.8,226.8 1368.3,230.1C1368.8,233.3 1368.7,237.1 1368.7,240.9C1368.7,244.6 1368.9,248.9 1368.3,252.4C1367.7,256.0 1366.6,259.5 1365.3,262.1C1363.9,264.7 1362.5,266.0 1360.3,268.1C1358.2,270.2 1355.2,273.2 1352.4,274.8C1349.6,276.4 1345.6,276.9 1343.7,277.8C1341.7,278.6 1339.8,278.8 1340.7,279.6C1341.5,280.4 1345.3,282.0 1348.6,282.6C1351.9,283.2 1357.1,282.8 1360.3,283.3C1363.6,283.8 1367.8,284.3 1368.3,285.6C1368.8,286.9 1365.3,289.7 1363.4,291.2C1361.4,292.6 1359.0,294.3 1356.5,294.1C1354.1,294.0 1351.2,291.0 1348.6,290.4C1346.0,289.8 1342.6,289.6 1340.7,290.4C1338.7,291.2 1336.7,293.7 1336.9,295.3C1337.1,296.9 1341.3,298.2 1341.8,300.1C1342.2,302.0 1341.0,304.6 1339.5,306.8C1338.0,309.1 1334.8,312.2 1332.7,313.5C1330.6,314.8 1329.3,314.8 1327.0,314.6C1324.8,314.5 1321.7,312.9 1319.1,312.8C1316.4,312.7 1313.5,313.5 1311.1,313.9C1308.8,314.3 1305.6,313.8 1305.1,315.0C1304.6,316.3 1306.9,319.5 1308.1,321.3C1309.3,323.2 1312.9,324.4 1312.3,326.2C1311.6,328.0 1307.3,330.4 1304.3,332.2C1301.4,334.0 1297.8,336.9 1294.5,337.0C1291.2,337.1 1288.1,334.2 1284.6,332.9C1281.2,331.6 1276.8,331.1 1273.7,329.2C1270.5,327.2 1267.7,323.1 1265.7,321.3C1263.8,319.6 1263.9,320.5 1261.9,318.7C1260.0,317.0 1256.5,313.0 1254.0,310.9C1251.5,308.9 1248.9,307.8 1246.8,306.4C1244.7,305.1 1243.9,303.9 1241.5,302.7C1239.0,301.5 1235.1,300.8 1232.0,299.4C1229.0,297.9 1226.5,295.9 1223.3,294.1C1220.2,292.3 1216.4,290.0 1213.1,288.6C1209.8,287.1 1207.2,286.9 1203.6,285.6C1200.1,284.3 1195.2,282.3 1191.9,280.7C1188.6,279.2 1186.9,277.9 1184.0,276.3C1181.1,274.6 1177.0,272.9 1174.5,270.7C1172.0,268.4 1170.4,265.5 1168.8,262.9C1167.2,260.2 1166.1,257.3 1165.0,254.7C1164.0,252.0 1162.9,249.9 1162.4,246.8C1161.9,243.7 1161.8,239.4 1162.0,236.0C1162.2,232.7 1162.8,230.1 1163.5,226.7C1164.3,223.3 1165.4,218.4 1166.5,215.5C1167.7,212.7 1168.7,211.5 1170.3,209.6C1171.9,207.6 1174.0,205.8 1176.0,204.0C1178.0,202.2 1180.0,200.4 1182.4,198.8C1184.9,197.1 1188.3,195.6 1190.8,193.9C1193.2,192.2 1195.7,190.9 1197.2,188.7C1198.7,186.5 1198.7,183.4 1199.5,180.9C1200.2,178.4 1201.7,176.2 1201.7,173.8C1201.7,171.4 1200.2,169.3 1199.5,166.7C1198.7,164.1 1196.5,161.3 1197.2,158.2C1197.9,155.0 1201.7,151.3 1203.6,148.1C1205.6,144.9 1207.4,141.1 1208.9,138.8C1210.5,136.5 1211.1,136.4 1213.1,134.3C1215.1,132.3 1218.6,129.2 1220.7,126.5C1222.7,123.7 1224.1,120.4 1225.6,117.9C1227.0,115.4 1227.2,113.6 1229.4,111.6C1231.6,109.5 1235.9,107.0 1238.8,105.6C1241.7,104.2 1243.8,103.8 1246.8,103.0C1249.8,102.2 1253.5,101.4 1257.0,100.8C1260.5,100.1 1265.5,100.3 1268.0,99.3C1270.4,98.2 1271.3,96.5 1271.8,94.4Z"/></clipPath></defs>
<g clip-path="url(#clipB)">
<path d="M1271.8,94.4C1272.3,92.3 1270.8,88.7 1271.0,86.6C1271.3,84.5 1271.5,82.7 1273.3,81.8C1275.0,80.8 1279.2,81.0 1281.6,81.0C1284.0,81.1 1285.5,81.8 1287.7,82.1C1289.8,82.5 1292.0,83.1 1294.5,83.3C1296.9,83.4 1300.2,83.1 1302.4,83.3C1304.7,83.4 1306.3,83.3 1308.1,84.0C1309.9,84.7 1310.9,86.9 1313.0,87.7C1315.2,88.6 1318.8,89.5 1321.0,89.2C1323.2,88.9 1324.6,87.4 1326.3,85.9C1327.9,84.3 1328.7,81.3 1330.8,79.9C1332.9,78.5 1336.2,77.9 1338.8,77.7C1341.3,77.5 1344.4,77.3 1346.0,78.8C1347.5,80.3 1347.5,82.8 1347.8,86.6C1348.2,90.4 1348.0,96.9 1348.2,101.5C1348.4,106.2 1348.5,111.9 1349.0,114.6C1349.5,117.2 1350.3,117.6 1351.2,117.2C1352.2,116.7 1354.0,115.8 1354.7,111.9C1355.3,108.1 1354.5,99.8 1355.0,94.1C1355.5,88.3 1356.0,81.1 1357.7,77.3C1359.3,73.4 1362.6,72.9 1364.9,71.0C1367.1,69.0 1369.4,65.9 1371.3,65.4C1373.3,64.8 1375.0,66.4 1376.6,67.6C1378.2,68.9 1378.9,71.3 1381.2,72.8C1383.4,74.3 1386.8,75.2 1389.9,76.6C1392.9,77.9 1397.2,79.5 1399.7,81.0C1402.2,82.6 1403.6,83.7 1404.6,85.9C1405.6,88.0 1405.8,89.3 1405.8,94.1C1405.8,98.8 1404.6,109.0 1404.6,114.6C1404.6,120.1 1405.9,123.8 1405.8,127.6C1405.6,131.4 1404.9,134.7 1403.9,137.3C1402.9,139.9 1398.8,142.1 1399.7,143.2C1400.6,144.4 1406.6,144.8 1409.5,144.4C1412.5,143.9 1415.5,140.9 1417.5,140.6C1419.5,140.4 1420.8,141.2 1421.7,142.9C1422.5,144.6 1422.3,148.2 1422.8,150.7C1423.3,153.2 1422.8,155.7 1424.7,158.2C1426.6,160.6 1432.4,162.9 1434.1,165.2C1435.9,167.6 1434.5,169.3 1435.3,172.3C1436.1,175.4 1438.2,179.5 1439.1,183.5C1439.9,187.5 1439.8,191.9 1440.6,196.5C1441.4,201.2 1444.1,206.8 1444.0,211.4C1443.9,216.1 1440.8,219.9 1439.8,224.5C1438.9,229.1 1438.6,234.7 1438.3,239.0C1438.0,243.4 1439.4,247.0 1437.9,250.6C1436.4,254.1 1431.5,257.4 1429.2,260.2C1427.0,263.1 1427.6,266.1 1424.3,267.7C1421.0,269.3 1413.6,268.9 1409.5,269.9C1405.4,270.9 1403.0,272.7 1399.7,273.7C1396.4,274.6 1392.4,276.5 1389.9,275.9C1387.3,275.3 1385.6,272.8 1384.2,269.9C1382.7,267.0 1381.0,262.1 1381.2,258.4C1381.3,254.7 1384.6,250.5 1384.9,247.6C1385.3,244.7 1384.2,243.6 1383.0,240.9C1381.9,238.1 1380.0,234.2 1378.1,231.2C1376.2,228.2 1373.6,225.1 1371.7,223.0C1369.7,220.9 1367.4,218.8 1366.4,218.5C1365.4,218.3 1365.3,219.6 1365.6,221.5C1365.9,223.4 1367.8,226.8 1368.3,230.1C1368.8,233.3 1368.7,237.1 1368.7,240.9C1368.7,244.6 1368.9,248.9 1368.3,252.4C1367.7,256.0 1366.6,259.5 1365.3,262.1C1363.9,264.7 1362.5,266.0 1360.3,268.1C1358.2,270.2 1355.2,273.2 1352.4,274.8C1349.6,276.4 1345.6,276.9 1343.7,277.8C1341.7,278.6 1339.8,278.8 1340.7,279.6C1341.5,280.4 1345.3,282.0 1348.6,282.6C1351.9,283.2 1357.1,282.8 1360.3,283.3C1363.6,283.8 1367.8,284.3 1368.3,285.6C1368.8,286.9 1365.3,289.7 1363.4,291.2C1361.4,292.6 1359.0,294.3 1356.5,294.1C1354.1,294.0 1351.2,291.0 1348.6,290.4C1346.0,289.8 1342.6,289.6 1340.7,290.4C1338.7,291.2 1336.7,293.7 1336.9,295.3C1337.1,296.9 1341.3,298.2 1341.8,300.1C1342.2,302.0 1341.0,304.6 1339.5,306.8C1338.0,309.1 1334.8,312.2 1332.7,313.5C1330.6,314.8 1329.3,314.8 1327.0,314.6C1324.8,314.5 1321.7,312.9 1319.1,312.8C1316.4,312.7 1313.5,313.5 1311.1,313.9C1308.8,314.3 1305.6,313.8 1305.1,315.0C1304.6,316.3 1306.9,319.5 1308.1,321.3C1309.3,323.2 1312.9,324.4 1312.3,326.2C1311.6,328.0 1307.3,330.4 1304.3,332.2C1301.4,334.0 1297.8,336.9 1294.5,337.0C1291.2,337.1 1288.1,334.2 1284.6,332.9C1281.2,331.6 1276.8,331.1 1273.7,329.2C1270.5,327.2 1267.7,323.1 1265.7,321.3C1263.8,319.6 1263.9,320.5 1261.9,318.7C1260.0,317.0 1256.5,313.0 1254.0,310.9C1251.5,308.9 1248.9,307.8 1246.8,306.4C1244.7,305.1 1243.9,303.9 1241.5,302.7C1239.0,301.5 1235.1,300.8 1232.0,299.4C1229.0,297.9 1226.5,295.9 1223.3,294.1C1220.2,292.3 1216.4,290.0 1213.1,288.6C1209.8,287.1 1207.2,286.9 1203.6,285.6C1200.1,284.3 1195.2,282.3 1191.9,280.7C1188.6,279.2 1186.9,277.9 1184.0,276.3C1181.1,274.6 1177.0,272.9 1174.5,270.7C1172.0,268.4 1170.4,265.5 1168.8,262.9C1167.2,260.2 1166.1,257.3 1165.0,254.7C1164.0,252.0 1162.9,249.9 1162.4,246.8C1161.9,243.7 1161.8,239.4 1162.0,236.0C1162.2,232.7 1162.8,230.1 1163.5,226.7C1164.3,223.3 1165.4,218.4 1166.5,215.5C1167.7,212.7 1168.7,211.5 1170.3,209.6C1171.9,207.6 1174.0,205.8 1176.0,204.0C1178.0,202.2 1180.0,200.4 1182.4,198.8C1184.9,197.1 1188.3,195.6 1190.8,193.9C1193.2,192.2 1195.7,190.9 1197.2,188.7C1198.7,186.5 1198.7,183.4 1199.5,180.9C1200.2,178.4 1201.7,176.2 1201.7,173.8C1201.7,171.4 1200.2,169.3 1199.5,166.7C1198.7,164.1 1196.5,161.3 1197.2,158.2C1197.9,155.0 1201.7,151.3 1203.6,148.1C1205.6,144.9 1207.4,141.1 1208.9,138.8C1210.5,136.5 1211.1,136.4 1213.1,134.3C1215.1,132.3 1218.6,129.2 1220.7,126.5C1222.7,123.7 1224.1,120.4 1225.6,117.9C1227.0,115.4 1227.2,113.6 1229.4,111.6C1231.6,109.5 1235.9,107.0 1238.8,105.6C1241.7,104.2 1243.8,103.8 1246.8,103.0C1249.8,102.2 1253.5,101.4 1257.0,100.8C1260.5,100.1 1265.5,100.3 1268.0,99.3C1270.4,98.2 1271.3,96.5 1271.8,94.4Z" fill="#e8716b"/>
<path d="M1271.8,94.4C1272.3,92.3 1270.8,88.7 1271.0,86.6C1271.3,84.5 1271.5,82.7 1273.3,81.8C1275.0,80.8 1279.2,81.0 1281.6,81.0C1284.0,81.1 1285.5,81.8 1287.7,82.1C1289.8,82.5 1292.0,83.1 1294.5,83.3C1296.9,83.4 1300.2,83.1 1302.4,83.3C1304.7,83.4 1306.3,83.3 1308.1,84.0C1309.9,84.7 1310.9,86.9 1313.0,87.7C1315.2,88.6 1318.8,89.5 1321.0,89.2C1323.2,88.9 1324.6,87.4 1326.3,85.9C1327.9,84.3 1328.7,81.3 1330.8,79.9C1332.9,78.5 1336.2,77.9 1338.8,77.7C1341.3,77.5 1344.4,77.3 1346.0,78.8C1347.5,80.3 1347.5,82.8 1347.8,86.6C1348.2,90.4 1348.0,96.9 1348.2,101.5C1348.4,106.2 1348.5,111.9 1349.0,114.6C1349.5,117.2 1350.3,117.6 1351.2,117.2C1352.2,116.7 1354.0,115.8 1354.7,111.9C1355.3,108.1 1354.5,99.8 1355.0,94.1C1355.5,88.3 1356.0,81.1 1357.7,77.3C1359.3,73.4 1362.6,72.9 1364.9,71.0C1367.1,69.0 1369.4,65.9 1371.3,65.4C1373.3,64.8 1375.0,66.4 1376.6,67.6C1378.2,68.9 1378.9,71.3 1381.2,72.8C1383.4,74.3 1386.8,75.2 1389.9,76.6C1392.9,77.9 1397.2,79.5 1399.7,81.0C1402.2,82.6 1403.6,83.7 1404.6,85.9C1405.6,88.0 1405.8,89.3 1405.8,94.1C1405.8,98.8 1404.6,109.0 1404.6,114.6C1404.6,120.1 1405.9,123.8 1405.8,127.6C1405.6,131.4 1404.9,134.7 1403.9,137.3C1402.9,139.9 1398.8,142.1 1399.7,143.2C1400.6,144.4 1406.6,144.8 1409.5,144.4C1412.5,143.9 1415.5,140.9 1417.5,140.6C1419.5,140.4 1420.8,141.2 1421.7,142.9C1422.5,144.6 1422.3,148.2 1422.8,150.7C1423.3,153.2 1422.8,155.7 1424.7,158.2C1426.6,160.6 1432.4,162.9 1434.1,165.2C1435.9,167.6 1434.5,169.3 1435.3,172.3C1436.1,175.4 1438.2,179.5 1439.1,183.5C1439.9,187.5 1439.8,191.9 1440.6,196.5C1441.4,201.2 1444.1,206.8 1444.0,211.4C1443.9,216.1 1440.8,219.9 1439.8,224.5C1438.9,229.1 1438.6,234.7 1438.3,239.0C1438.0,243.4 1439.4,247.0 1437.9,250.6C1436.4,254.1 1431.5,257.4 1429.2,260.2C1427.0,263.1 1427.6,266.1 1424.3,267.7C1421.0,269.3 1413.6,268.9 1409.5,269.9C1405.4,270.9 1403.0,272.7 1399.7,273.7C1396.4,274.6 1392.4,276.5 1389.9,275.9C1387.3,275.3 1385.6,272.8 1384.2,269.9C1382.7,267.0 1381.0,262.1 1381.2,258.4C1381.3,254.7 1384.6,250.5 1384.9,247.6C1385.3,244.7 1384.2,243.6 1383.0,240.9C1381.9,238.1 1380.0,234.2 1378.1,231.2C1376.2,228.2 1373.6,225.1 1371.7,223.0C1369.7,220.9 1367.4,218.8 1366.4,218.5C1365.4,218.3 1365.3,219.6 1365.6,221.5C1365.9,223.4 1367.8,226.8 1368.3,230.1C1368.8,233.3 1368.7,237.1 1368.7,240.9C1368.7,244.6 1368.9,248.9 1368.3,252.4C1367.7,256.0 1366.6,259.5 1365.3,262.1C1363.9,264.7 1362.5,266.0 1360.3,268.1C1358.2,270.2 1355.2,273.2 1352.4,274.8C1349.6,276.4 1345.6,276.9 1343.7,277.8C1341.7,278.6 1339.8,278.8 1340.7,279.6C1341.5,280.4 1345.3,282.0 1348.6,282.6C1351.9,283.2 1357.1,282.8 1360.3,283.3C1363.6,283.8 1367.8,284.3 1368.3,285.6C1368.8,286.9 1365.3,289.7 1363.4,291.2C1361.4,292.6 1359.0,294.3 1356.5,294.1C1354.1,294.0 1351.2,291.0 1348.6,290.4C1346.0,289.8 1342.6,289.6 1340.7,290.4C1338.7,291.2 1336.7,293.7 1336.9,295.3C1337.1,296.9 1341.3,298.2 1341.8,300.1C1342.2,302.0 1341.0,304.6 1339.5,306.8C1338.0,309.1 1334.8,312.2 1332.7,313.5C1330.6,314.8 1329.3,314.8 1327.0,314.6C1324.8,314.5 1321.7,312.9 1319.1,312.8C1316.4,312.7 1313.5,313.5 1311.1,313.9C1308.8,314.3 1305.6,313.8 1305.1,315.0C1304.6,316.3 1306.9,319.5 1308.1,321.3C1309.3,323.2 1312.9,324.4 1312.3,326.2C1311.6,328.0 1307.3,330.4 1304.3,332.2C1301.4,334.0 1297.8,336.9 1294.5,337.0C1291.2,337.1 1288.1,334.2 1284.6,332.9C1281.2,331.6 1276.8,331.1 1273.7,329.2C1270.5,327.2 1267.7,323.1 1265.7,321.3C1263.8,319.6 1263.9,320.5 1261.9,318.7C1260.0,317.0 1256.5,313.0 1254.0,310.9C1251.5,308.9 1248.9,307.8 1246.8,306.4C1244.7,305.1 1243.9,303.9 1241.5,302.7C1239.0,301.5 1235.1,300.8 1232.0,299.4C1229.0,297.9 1226.5,295.9 1223.3,294.1C1220.2,292.3 1216.4,290.0 1213.1,288.6C1209.8,287.1 1207.2,286.9 1203.6,285.6C1200.1,284.3 1195.2,282.3 1191.9,280.7C1188.6,279.2 1186.9,277.9 1184.0,276.3C1181.1,274.6 1177.0,272.9 1174.5,270.7C1172.0,268.4 1170.4,265.5 1168.8,262.9C1167.2,260.2 1166.1,257.3 1165.0,254.7C1164.0,252.0 1162.9,249.9 1162.4,246.8C1161.9,243.7 1161.8,239.4 1162.0,236.0C1162.2,232.7 1162.8,230.1 1163.5,226.7C1164.3,223.3 1165.4,218.4 1166.5,215.5C1167.7,212.7 1168.7,211.5 1170.3,209.6C1171.9,207.6 1174.0,205.8 1176.0,204.0C1178.0,202.2 1180.0,200.4 1182.4,198.8C1184.9,197.1 1188.3,195.6 1190.8,193.9C1193.2,192.2 1195.7,190.9 1197.2,188.7C1198.7,186.5 1198.7,183.4 1199.5,180.9C1200.2,178.4 1201.7,176.2 1201.7,173.8C1201.7,171.4 1200.2,169.3 1199.5,166.7C1198.7,164.1 1196.5,161.3 1197.2,158.2C1197.9,155.0 1201.7,151.3 1203.6,148.1C1205.6,144.9 1207.4,141.1 1208.9,138.8C1210.5,136.5 1211.1,136.4 1213.1,134.3C1215.1,132.3 1218.6,129.2 1220.7,126.5C1222.7,123.7 1224.1,120.4 1225.6,117.9C1227.0,115.4 1227.2,113.6 1229.4,111.6C1231.6,109.5 1235.9,107.0 1238.8,105.6C1241.7,104.2 1243.8,103.8 1246.8,103.0C1249.8,102.2 1253.5,101.4 1257.0,100.8C1260.5,100.1 1265.5,100.3 1268.0,99.3C1270.4,98.2 1271.3,96.5 1271.8,94.4Z" fill="#fff" filter="url(#sp0)"/>
<path d="M1366.4,217.0C1366.9,219.6 1369.7,220.6 1371.7,223.0C1373.6,225.3 1376.2,228.2 1378.1,231.2C1380.0,234.2 1381.9,238.1 1383.0,240.9C1384.2,243.6 1385.3,244.7 1384.9,247.6C1384.6,250.5 1381.3,254.7 1381.2,258.4C1381.0,262.1 1382.7,267.0 1384.2,269.9C1385.6,272.8 1387.3,275.3 1389.9,275.9C1392.4,276.5 1396.4,274.6 1399.7,273.7C1403.0,272.7 1405.4,270.9 1409.5,269.9C1413.6,268.9 1421.0,269.3 1424.3,267.7C1427.6,266.1 1427.0,263.1 1429.2,260.2C1431.5,257.4 1436.4,254.1 1437.9,250.6C1439.4,247.0 1438.0,243.4 1438.3,239.0C1438.6,234.7 1438.9,229.1 1439.8,224.5C1440.8,219.9 1443.9,216.1 1444.0,211.4C1444.1,206.8 1441.4,201.2 1440.6,196.5C1439.8,191.9 1439.9,187.5 1439.1,183.5C1438.2,179.5 1436.1,175.4 1435.3,172.3C1434.5,169.3 1435.9,167.6 1434.1,165.2C1432.4,162.9 1426.6,160.6 1424.7,158.2C1422.8,155.7 1423.3,153.2 1422.8,150.7C1422.3,148.2 1422.5,144.6 1421.7,142.9C1420.8,141.2 1419.5,140.4 1417.5,140.6C1415.5,140.9 1412.5,143.9 1409.5,144.4C1406.6,144.8 1401.7,142.3 1399.7,143.2C1397.7,144.2 1398.6,147.0 1397.4,150.0C1396.2,152.9 1394.3,157.4 1392.5,161.1C1390.7,164.9 1388.9,168.6 1386.8,172.3C1384.7,176.0 1382.2,179.5 1380.0,183.5C1377.9,187.5 1375.9,192.5 1374.0,196.5C1372.1,200.6 1369.9,204.3 1368.7,207.7C1367.4,211.1 1365.9,214.5 1366.4,217.0Z" fill="#e8716b"/>
<path d="M1366.4,217.0C1366.9,219.6 1369.7,220.6 1371.7,223.0C1373.6,225.3 1376.2,228.2 1378.1,231.2C1380.0,234.2 1381.9,238.1 1383.0,240.9C1384.2,243.6 1385.3,244.7 1384.9,247.6C1384.6,250.5 1381.3,254.7 1381.2,258.4C1381.0,262.1 1382.7,267.0 1384.2,269.9C1385.6,272.8 1387.3,275.3 1389.9,275.9C1392.4,276.5 1396.4,274.6 1399.7,273.7C1403.0,272.7 1405.4,270.9 1409.5,269.9C1413.6,268.9 1421.0,269.3 1424.3,267.7C1427.6,266.1 1427.0,263.1 1429.2,260.2C1431.5,257.4 1436.4,254.1 1437.9,250.6C1439.4,247.0 1438.0,243.4 1438.3,239.0C1438.6,234.7 1438.9,229.1 1439.8,224.5C1440.8,219.9 1443.9,216.1 1444.0,211.4C1444.1,206.8 1441.4,201.2 1440.6,196.5C1439.8,191.9 1439.9,187.5 1439.1,183.5C1438.2,179.5 1436.1,175.4 1435.3,172.3C1434.5,169.3 1435.9,167.6 1434.1,165.2C1432.4,162.9 1426.6,160.6 1424.7,158.2C1422.8,155.7 1423.3,153.2 1422.8,150.7C1422.3,148.2 1422.5,144.6 1421.7,142.9C1420.8,141.2 1419.5,140.4 1417.5,140.6C1415.5,140.9 1412.5,143.9 1409.5,144.4C1406.6,144.8 1401.7,142.3 1399.7,143.2C1397.7,144.2 1398.6,147.0 1397.4,150.0C1396.2,152.9 1394.3,157.4 1392.5,161.1C1390.7,164.9 1388.9,168.6 1386.8,172.3C1384.7,176.0 1382.2,179.5 1380.0,183.5C1377.9,187.5 1375.9,192.5 1374.0,196.5C1372.1,200.6 1369.9,204.3 1368.7,207.7C1367.4,211.1 1365.9,214.5 1366.4,217.0Z" fill="#fff" filter="url(#sp1)"/>
<path d="M1355.0,116.4C1354.2,110.6 1354.6,100.6 1355.0,94.1C1355.5,87.5 1356.0,81.1 1357.7,77.3C1359.3,73.4 1362.6,72.9 1364.9,71.0C1367.1,69.0 1369.4,65.9 1371.3,65.4C1373.3,64.8 1375.0,66.4 1376.6,67.6C1378.2,68.9 1378.9,71.3 1381.2,72.8C1383.4,74.3 1386.8,75.2 1389.9,76.6C1392.9,77.9 1397.2,79.5 1399.7,81.0C1402.2,82.6 1403.6,83.7 1404.6,85.9C1405.6,88.0 1405.8,89.3 1405.8,94.1C1405.8,98.8 1404.6,109.0 1404.6,114.6C1404.6,120.1 1405.9,123.8 1405.8,127.6C1405.6,131.4 1404.9,134.7 1403.9,137.3C1402.9,139.9 1401.5,141.3 1399.7,143.2C1397.9,145.2 1395.3,147.0 1392.9,148.8C1390.4,150.7 1387.8,153.5 1384.9,154.4C1382.0,155.4 1377.9,155.4 1375.5,154.4C1373.0,153.4 1371.9,151.1 1370.2,148.5C1368.5,145.9 1366.9,142.0 1365.3,138.8C1363.6,135.5 1362.0,132.8 1360.3,129.1C1358.6,125.4 1355.9,122.3 1355.0,116.4Z" fill="#e8716b"/>
<path d="M1355.0,116.4C1354.2,110.6 1354.6,100.6 1355.0,94.1C1355.5,87.5 1356.0,81.1 1357.7,77.3C1359.3,73.4 1362.6,72.9 1364.9,71.0C1367.1,69.0 1369.4,65.9 1371.3,65.4C1373.3,64.8 1375.0,66.4 1376.6,67.6C1378.2,68.9 1378.9,71.3 1381.2,72.8C1383.4,74.3 1386.8,75.2 1389.9,76.6C1392.9,77.9 1397.2,79.5 1399.7,81.0C1402.2,82.6 1403.6,83.7 1404.6,85.9C1405.6,88.0 1405.8,89.3 1405.8,94.1C1405.8,98.8 1404.6,109.0 1404.6,114.6C1404.6,120.1 1405.9,123.8 1405.8,127.6C1405.6,131.4 1404.9,134.7 1403.9,137.3C1402.9,139.9 1401.5,141.3 1399.7,143.2C1397.9,145.2 1395.3,147.0 1392.9,148.8C1390.4,150.7 1387.8,153.5 1384.9,154.4C1382.0,155.4 1377.9,155.4 1375.5,154.4C1373.0,153.4 1371.9,151.1 1370.2,148.5C1368.5,145.9 1366.9,142.0 1365.3,138.8C1363.6,135.5 1362.0,132.8 1360.3,129.1C1358.6,125.4 1355.9,122.3 1355.0,116.4Z" fill="#fff" filter="url(#sp2)"/>
<path d="M1269.5,97.8C1268.5,94.8 1269.0,85.7 1271.0,82.9C1273.0,80.1 1277.7,81.0 1281.6,81.0C1285.5,81.1 1290.1,82.8 1294.5,83.3C1298.9,83.8 1303.7,83.0 1308.1,84.0C1312.5,85.0 1317.2,89.9 1321.0,89.2C1324.8,88.5 1327.8,81.8 1330.8,79.9C1333.8,78.0 1336.2,77.9 1338.8,77.7C1341.3,77.5 1344.2,72.9 1346.0,78.8C1347.7,84.6 1350.4,105.8 1349.0,112.7C1347.6,119.6 1343.3,119.5 1337.6,120.1C1331.9,120.8 1321.2,118.9 1314.9,116.4C1308.6,113.9 1306.1,107.8 1299.8,105.2C1293.5,102.6 1282.1,102.0 1277.1,100.8C1272.0,99.5 1270.5,100.8 1269.5,97.8Z" fill="#e8716b"/>
<path d="M1269.5,97.8C1268.5,94.8 1269.0,85.7 1271.0,82.9C1273.0,80.1 1277.7,81.0 1281.6,81.0C1285.5,81.1 1290.1,82.8 1294.5,83.3C1298.9,83.8 1303.7,83.0 1308.1,84.0C1312.5,85.0 1317.2,89.9 1321.0,89.2C1324.8,88.5 1327.8,81.8 1330.8,79.9C1333.8,78.0 1336.2,77.9 1338.8,77.7C1341.3,77.5 1344.2,72.9 1346.0,78.8C1347.7,84.6 1350.4,105.8 1349.0,112.7C1347.6,119.6 1343.3,119.5 1337.6,120.1C1331.9,120.8 1321.2,118.9 1314.9,116.4C1308.6,113.9 1306.1,107.8 1299.8,105.2C1293.5,102.6 1282.1,102.0 1277.1,100.8C1272.0,99.5 1270.5,100.8 1269.5,97.8Z" fill="#fff" filter="url(#sp3)"/>
<path d="M1155.9,172.3C1168.6,148.1 1202.6,175.9 1224.1,176.0C1245.5,176.2 1273.0,166.2 1284.6,173.1C1296.3,179.9 1292.5,203.5 1294.1,217.0C1295.7,230.6 1296.3,245.0 1294.1,254.3C1291.9,263.6 1289.7,265.1 1280.8,272.9C1272.0,280.7 1250.6,292.8 1241.1,300.9C1231.6,308.9 1239.5,317.9 1224.1,321.3C1208.6,324.8 1159.7,346.2 1148.4,321.3C1137.0,296.5 1143.3,196.5 1155.9,172.3Z" fill="#e8716b" filter="url(#bl4)"/>
<path d="M1155.9,172.3C1168.6,148.1 1202.6,175.9 1224.1,176.0C1245.5,176.2 1273.0,166.2 1284.6,173.1C1296.3,179.9 1292.5,203.5 1294.1,217.0C1295.7,230.6 1296.3,245.0 1294.1,254.3C1291.9,263.6 1289.7,265.1 1280.8,272.9C1272.0,280.7 1250.6,292.8 1241.1,300.9C1231.6,308.9 1239.5,317.9 1224.1,321.3C1208.6,324.8 1159.7,346.2 1148.4,321.3C1137.0,296.5 1143.3,196.5 1155.9,172.3Z" fill="#fff" filter="url(#sp4)"/>
<path d="M1241.1,300.9C1245.5,292.2 1255.3,276.3 1261.9,269.2C1268.5,262.0 1271.4,259.9 1280.8,258.0C1290.3,256.1 1305.5,256.1 1318.7,258.0C1331.9,259.9 1350.9,264.2 1360.3,269.2C1369.8,274.2 1375.5,279.1 1375.5,287.8C1375.5,296.5 1373.0,312.0 1360.3,321.3C1347.7,330.7 1320.6,343.7 1299.8,343.7C1279.0,343.7 1245.2,328.5 1235.4,321.3C1225.7,314.2 1236.7,309.5 1241.1,300.9Z" fill="#e8716b" filter="url(#bl4)"/>
<path d="M1241.1,300.9C1245.5,292.2 1255.3,276.3 1261.9,269.2C1268.5,262.0 1271.4,259.9 1280.8,258.0C1290.3,256.1 1305.5,256.1 1318.7,258.0C1331.9,259.9 1350.9,264.2 1360.3,269.2C1369.8,274.2 1375.5,279.1 1375.5,287.8C1375.5,296.5 1373.0,312.0 1360.3,321.3C1347.7,330.7 1320.6,343.7 1299.8,343.7C1279.0,343.7 1245.2,328.5 1235.4,321.3C1225.7,314.2 1236.7,309.5 1241.1,300.9Z" fill="#fff" filter="url(#sp5)"/>
<path d="M1213.5,147.0C1213.7,140.1 1214.9,137.3 1217.3,131.3C1219.7,125.3 1222.9,116.4 1227.9,110.8C1232.8,105.2 1239.2,100.6 1246.8,97.8C1254.4,95.0 1265.0,93.8 1273.3,94.1C1281.6,94.4 1290.6,96.4 1296.7,99.7C1302.9,102.9 1307.2,108.0 1310.4,113.4C1313.5,118.8 1314.9,125.4 1315.7,132.1C1316.4,138.8 1315.5,147.1 1314.9,153.7C1314.3,160.3 1314.5,166.8 1311.9,171.6C1309.2,176.3 1304.8,179.6 1299.0,182.0C1293.2,184.4 1285.6,185.0 1277.1,185.7C1268.5,186.5 1256.1,186.8 1247.5,186.5C1239.0,186.1 1231.3,185.8 1226.0,183.5C1220.7,181.1 1217.8,178.4 1215.7,172.3C1213.7,166.2 1213.2,153.8 1213.5,147.0Z" fill="#e8716b" filter="url(#bl4)"/>
<path d="M1213.5,147.0C1213.7,140.1 1214.9,137.3 1217.3,131.3C1219.7,125.3 1222.9,116.4 1227.9,110.8C1232.8,105.2 1239.2,100.6 1246.8,97.8C1254.4,95.0 1265.0,93.8 1273.3,94.1C1281.6,94.4 1290.6,96.4 1296.7,99.7C1302.9,102.9 1307.2,108.0 1310.4,113.4C1313.5,118.8 1314.9,125.4 1315.7,132.1C1316.4,138.8 1315.5,147.1 1314.9,153.7C1314.3,160.3 1314.5,166.8 1311.9,171.6C1309.2,176.3 1304.8,179.6 1299.0,182.0C1293.2,184.4 1285.6,185.0 1277.1,185.7C1268.5,186.5 1256.1,186.8 1247.5,186.5C1239.0,186.1 1231.3,185.8 1226.0,183.5C1220.7,181.1 1217.8,178.4 1215.7,172.3C1213.7,166.2 1213.2,153.8 1213.5,147.0Z" fill="#fff" filter="url(#sp6)"/>
<path d="M1275.2,179.0C1282.0,172.2 1304.5,168.3 1314.9,168.6C1325.3,168.8 1330.1,174.9 1337.6,180.5C1345.2,186.1 1354.5,193.5 1360.3,202.1C1366.1,210.7 1370.7,222.0 1372.4,231.9C1374.2,241.9 1373.9,254.2 1370.9,261.7C1368.0,269.3 1362.1,275.0 1354.7,277.4C1347.2,279.7 1335.4,276.9 1326.3,275.9C1317.1,274.9 1307.2,272.8 1299.8,271.4C1292.3,270.1 1285.4,271.8 1281.6,267.7C1277.8,263.6 1278.3,256.5 1277.1,246.8C1275.8,237.1 1274.4,220.9 1274.0,209.6C1273.7,198.3 1268.4,185.8 1275.2,179.0Z" fill="#e8716b" filter="url(#bl4)"/>
<path d="M1275.2,179.0C1282.0,172.2 1304.5,168.3 1314.9,168.6C1325.3,168.8 1330.1,174.9 1337.6,180.5C1345.2,186.1 1354.5,193.5 1360.3,202.1C1366.1,210.7 1370.7,222.0 1372.4,231.9C1374.2,241.9 1373.9,254.2 1370.9,261.7C1368.0,269.3 1362.1,275.0 1354.7,277.4C1347.2,279.7 1335.4,276.9 1326.3,275.9C1317.1,274.9 1307.2,272.8 1299.8,271.4C1292.3,270.1 1285.4,271.8 1281.6,267.7C1277.8,263.6 1278.3,256.5 1277.1,246.8C1275.8,237.1 1274.4,220.9 1274.0,209.6C1273.7,198.3 1268.4,185.8 1275.2,179.0Z" fill="#fff" filter="url(#sp7)"/>
<path d="M1366.4,217.0C1366.9,219.6 1369.7,220.6 1371.7,223.0C1373.6,225.3 1376.2,228.2 1378.1,231.2C1380.0,234.2 1381.9,238.1 1383.0,240.9C1384.2,243.6 1385.3,244.7 1384.9,247.6C1384.6,250.5 1381.3,254.7 1381.2,258.4C1381.0,262.1 1382.7,267.0 1384.2,269.9C1385.6,272.8 1387.3,275.3 1389.9,275.9C1392.4,276.5 1396.4,274.6 1399.7,273.7C1403.0,272.7 1405.4,270.9 1409.5,269.9C1413.6,268.9 1421.0,269.3 1424.3,267.7C1427.6,266.1 1427.0,263.1 1429.2,260.2C1431.5,257.4 1436.4,254.1 1437.9,250.6C1439.4,247.0 1438.0,243.4 1438.3,239.0C1438.6,234.7 1438.9,229.1 1439.8,224.5C1440.8,219.9 1443.9,216.1 1444.0,211.4C1444.1,206.8 1441.4,201.2 1440.6,196.5C1439.8,191.9 1439.9,187.5 1439.1,183.5C1438.2,179.5 1436.1,175.4 1435.3,172.3C1434.5,169.3 1435.9,167.6 1434.1,165.2C1432.4,162.9 1426.6,160.6 1424.7,158.2C1422.8,155.7 1423.3,153.2 1422.8,150.7C1422.3,148.2 1422.5,144.6 1421.7,142.9C1420.8,141.2 1419.5,140.4 1417.5,140.6C1415.5,140.9 1412.5,143.9 1409.5,144.4C1406.6,144.8 1401.7,142.3 1399.7,143.2C1397.7,144.2 1398.6,147.0 1397.4,150.0C1396.2,152.9 1394.3,157.4 1392.5,161.1C1390.7,164.9 1388.9,168.6 1386.8,172.3C1384.7,176.0 1382.2,179.5 1380.0,183.5C1377.9,187.5 1375.9,192.5 1374.0,196.5C1372.1,200.6 1369.9,204.3 1368.7,207.7C1367.4,211.1 1365.9,214.5 1366.4,217.0Z" fill="#fff" filter="url(#sp8)"/>
<path d="M1355.0,116.4C1354.2,110.6 1354.6,100.6 1355.0,94.1C1355.5,87.5 1356.0,81.1 1357.7,77.3C1359.3,73.4 1362.6,72.9 1364.9,71.0C1367.1,69.0 1369.4,65.9 1371.3,65.4C1373.3,64.8 1375.0,66.4 1376.6,67.6C1378.2,68.9 1378.9,71.3 1381.2,72.8C1383.4,74.3 1386.8,75.2 1389.9,76.6C1392.9,77.9 1397.2,79.5 1399.7,81.0C1402.2,82.6 1403.6,83.7 1404.6,85.9C1405.6,88.0 1405.8,89.3 1405.8,94.1C1405.8,98.8 1404.6,109.0 1404.6,114.6C1404.6,120.1 1405.9,123.8 1405.8,127.6C1405.6,131.4 1404.9,134.7 1403.9,137.3C1402.9,139.9 1401.5,141.3 1399.7,143.2C1397.9,145.2 1395.3,147.0 1392.9,148.8C1390.4,150.7 1387.8,153.5 1384.9,154.4C1382.0,155.4 1377.9,155.4 1375.5,154.4C1373.0,153.4 1371.9,151.1 1370.2,148.5C1368.5,145.9 1366.9,142.0 1365.3,138.8C1363.6,135.5 1362.0,132.8 1360.3,129.1C1358.6,125.4 1355.9,122.3 1355.0,116.4Z" fill="#fff" filter="url(#sp9)"/>
<path d="M1269.5,97.8C1268.5,94.8 1269.0,85.7 1271.0,82.9C1273.0,80.1 1277.7,81.0 1281.6,81.0C1285.5,81.1 1290.1,82.8 1294.5,83.3C1298.9,83.8 1303.7,83.0 1308.1,84.0C1312.5,85.0 1317.2,89.9 1321.0,89.2C1324.8,88.5 1327.8,81.8 1330.8,79.9C1333.8,78.0 1336.2,77.9 1338.8,77.7C1341.3,77.5 1344.2,72.9 1346.0,78.8C1347.7,84.6 1350.4,105.8 1349.0,112.7C1347.6,119.6 1343.3,119.5 1337.6,120.1C1331.9,120.8 1321.2,118.9 1314.9,116.4C1308.6,113.9 1306.1,107.8 1299.8,105.2C1293.5,102.6 1282.1,102.0 1277.1,100.8C1272.0,99.5 1270.5,100.8 1269.5,97.8Z" fill="#fff" filter="url(#sp10)"/>
</g>
<path d="M1271.8,94.4C1272.3,92.3 1270.8,88.7 1271.0,86.6C1271.3,84.5 1271.5,82.7 1273.3,81.8C1275.0,80.8 1279.2,81.0 1281.6,81.0C1284.0,81.1 1285.5,81.8 1287.7,82.1C1289.8,82.5 1292.0,83.1 1294.5,83.3C1296.9,83.4 1300.2,83.1 1302.4,83.3C1304.7,83.4 1306.3,83.3 1308.1,84.0C1309.9,84.7 1310.9,86.9 1313.0,87.7C1315.2,88.6 1318.8,89.5 1321.0,89.2C1323.2,88.9 1324.6,87.4 1326.3,85.9C1327.9,84.3 1328.7,81.3 1330.8,79.9C1332.9,78.5 1336.2,77.9 1338.8,77.7C1341.3,77.5 1344.4,77.3 1346.0,78.8C1347.5,80.3 1347.5,82.8 1347.8,86.6C1348.2,90.4 1348.0,96.9 1348.2,101.5C1348.4,106.2 1348.5,111.9 1349.0,114.6C1349.5,117.2 1350.3,117.6 1351.2,117.2C1352.2,116.7 1354.0,115.8 1354.7,111.9C1355.3,108.1 1354.5,99.8 1355.0,94.1C1355.5,88.3 1356.0,81.1 1357.7,77.3C1359.3,73.4 1362.6,72.9 1364.9,71.0C1367.1,69.0 1369.4,65.9 1371.3,65.4C1373.3,64.8 1375.0,66.4 1376.6,67.6C1378.2,68.9 1378.9,71.3 1381.2,72.8C1383.4,74.3 1386.8,75.2 1389.9,76.6C1392.9,77.9 1397.2,79.5 1399.7,81.0C1402.2,82.6 1403.6,83.7 1404.6,85.9C1405.6,88.0 1405.8,89.3 1405.8,94.1C1405.8,98.8 1404.6,109.0 1404.6,114.6C1404.6,120.1 1405.9,123.8 1405.8,127.6C1405.6,131.4 1404.9,134.7 1403.9,137.3C1402.9,139.9 1398.8,142.1 1399.7,143.2C1400.6,144.4 1406.6,144.8 1409.5,144.4C1412.5,143.9 1415.5,140.9 1417.5,140.6C1419.5,140.4 1420.8,141.2 1421.7,142.9C1422.5,144.6 1422.3,148.2 1422.8,150.7C1423.3,153.2 1422.8,155.7 1424.7,158.2C1426.6,160.6 1432.4,162.9 1434.1,165.2C1435.9,167.6 1434.5,169.3 1435.3,172.3C1436.1,175.4 1438.2,179.5 1439.1,183.5C1439.9,187.5 1439.8,191.9 1440.6,196.5C1441.4,201.2 1444.1,206.8 1444.0,211.4C1443.9,216.1 1440.8,219.9 1439.8,224.5C1438.9,229.1 1438.6,234.7 1438.3,239.0C1438.0,243.4 1439.4,247.0 1437.9,250.6C1436.4,254.1 1431.5,257.4 1429.2,260.2C1427.0,263.1 1427.6,266.1 1424.3,267.7C1421.0,269.3 1413.6,268.9 1409.5,269.9C1405.4,270.9 1403.0,272.7 1399.7,273.7C1396.4,274.6 1392.4,276.5 1389.9,275.9C1387.3,275.3 1385.6,272.8 1384.2,269.9C1382.7,267.0 1381.0,262.1 1381.2,258.4C1381.3,254.7 1384.6,250.5 1384.9,247.6C1385.3,244.7 1384.2,243.6 1383.0,240.9C1381.9,238.1 1380.0,234.2 1378.1,231.2C1376.2,228.2 1373.6,225.1 1371.7,223.0C1369.7,220.9 1367.4,218.8 1366.4,218.5C1365.4,218.3 1365.3,219.6 1365.6,221.5C1365.9,223.4 1367.8,226.8 1368.3,230.1C1368.8,233.3 1368.7,237.1 1368.7,240.9C1368.7,244.6 1368.9,248.9 1368.3,252.4C1367.7,256.0 1366.6,259.5 1365.3,262.1C1363.9,264.7 1362.5,266.0 1360.3,268.1C1358.2,270.2 1355.2,273.2 1352.4,274.8C1349.6,276.4 1345.6,276.9 1343.7,277.8C1341.7,278.6 1339.8,278.8 1340.7,279.6C1341.5,280.4 1345.3,282.0 1348.6,282.6C1351.9,283.2 1357.1,282.8 1360.3,283.3C1363.6,283.8 1367.8,284.3 1368.3,285.6C1368.8,286.9 1365.3,289.7 1363.4,291.2C1361.4,292.6 1359.0,294.3 1356.5,294.1C1354.1,294.0 1351.2,291.0 1348.6,290.4C1346.0,289.8 1342.6,289.6 1340.7,290.4C1338.7,291.2 1336.7,293.7 1336.9,295.3C1337.1,296.9 1341.3,298.2 1341.8,300.1C1342.2,302.0 1341.0,304.6 1339.5,306.8C1338.0,309.1 1334.8,312.2 1332.7,313.5C1330.6,314.8 1329.3,314.8 1327.0,314.6C1324.8,314.5 1321.7,312.9 1319.1,312.8C1316.4,312.7 1313.5,313.5 1311.1,313.9C1308.8,314.3 1305.6,313.8 1305.1,315.0C1304.6,316.3 1306.9,319.5 1308.1,321.3C1309.3,323.2 1312.9,324.4 1312.3,326.2C1311.6,328.0 1307.3,330.4 1304.3,332.2C1301.4,334.0 1297.8,336.9 1294.5,337.0C1291.2,337.1 1288.1,334.2 1284.6,332.9C1281.2,331.6 1276.8,331.1 1273.7,329.2C1270.5,327.2 1267.7,323.1 1265.7,321.3C1263.8,319.6 1263.9,320.5 1261.9,318.7C1260.0,317.0 1256.5,313.0 1254.0,310.9C1251.5,308.9 1248.9,307.8 1246.8,306.4C1244.7,305.1 1243.9,303.9 1241.5,302.7C1239.0,301.5 1235.1,300.8 1232.0,299.4C1229.0,297.9 1226.5,295.9 1223.3,294.1C1220.2,292.3 1216.4,290.0 1213.1,288.6C1209.8,287.1 1207.2,286.9 1203.6,285.6C1200.1,284.3 1195.2,282.3 1191.9,280.7C1188.6,279.2 1186.9,277.9 1184.0,276.3C1181.1,274.6 1177.0,272.9 1174.5,270.7C1172.0,268.4 1170.4,265.5 1168.8,262.9C1167.2,260.2 1166.1,257.3 1165.0,254.7C1164.0,252.0 1162.9,249.9 1162.4,246.8C1161.9,243.7 1161.8,239.4 1162.0,236.0C1162.2,232.7 1162.8,230.1 1163.5,226.7C1164.3,223.3 1165.4,218.4 1166.5,215.5C1167.7,212.7 1168.7,211.5 1170.3,209.6C1171.9,207.6 1174.0,205.8 1176.0,204.0C1178.0,202.2 1180.0,200.4 1182.4,198.8C1184.9,197.1 1188.3,195.6 1190.8,193.9C1193.2,192.2 1195.7,190.9 1197.2,188.7C1198.7,186.5 1198.7,183.4 1199.5,180.9C1200.2,178.4 1201.7,176.2 1201.7,173.8C1201.7,171.4 1200.2,169.3 1199.5,166.7C1198.7,164.1 1196.5,161.3 1197.2,158.2C1197.9,155.0 1201.7,151.3 1203.6,148.1C1205.6,144.9 1207.4,141.1 1208.9,138.8C1210.5,136.5 1211.1,136.4 1213.1,134.3C1215.1,132.3 1218.6,129.2 1220.7,126.5C1222.7,123.7 1224.1,120.4 1225.6,117.9C1227.0,115.4 1227.2,113.6 1229.4,111.6C1231.6,109.5 1235.9,107.0 1238.8,105.6C1241.7,104.2 1243.8,103.8 1246.8,103.0C1249.8,102.2 1253.5,101.4 1257.0,100.8C1260.5,100.1 1265.5,100.3 1268.0,99.3C1270.4,98.2 1271.3,96.5 1271.8,94.4Z" fill="none" stroke="#4a4a4a" stroke-width="1"/>
<circle cx="1472.5" cy="104.5" r="10" fill="#f3d9b3"/>
<circle cx="1472.5" cy="148" r="10" fill="#e8706b"/>
<text transform="translate(1495.5,117.2) scale(1,1.06)" font-size="30">2W</text>
<text transform="translate(1495.5,156.7) scale(1,1.06)" font-size="30">4W</text>
<text transform="translate(1148.0,50.0)" font-size="68">b</text>
<defs><clipPath id="clipC"><path d="M1716.0,100.4C1716.5,98.3 1715.0,94.7 1715.2,92.6C1715.5,90.5 1715.7,88.7 1717.5,87.8C1719.2,86.8 1723.4,87.0 1725.8,87.0C1728.1,87.1 1729.6,87.8 1731.8,88.1C1733.9,88.5 1736.1,89.1 1738.5,89.3C1741.0,89.4 1744.2,89.1 1746.4,89.3C1748.7,89.4 1750.3,89.3 1752.1,90.0C1753.8,90.7 1754.8,92.9 1756.9,93.7C1759.1,94.6 1762.6,95.5 1764.8,95.2C1767.0,94.9 1768.5,93.4 1770.1,91.9C1771.7,90.3 1772.5,87.3 1774.6,85.9C1776.7,84.5 1780.0,83.9 1782.5,83.7C1785.0,83.5 1788.1,83.3 1789.6,84.8C1791.1,86.3 1791.1,88.8 1791.5,92.6C1791.9,96.4 1791.7,102.9 1791.9,107.5C1792.1,112.2 1792.1,117.9 1792.6,120.6C1793.1,123.2 1794.0,123.6 1794.9,123.2C1795.8,122.7 1797.7,121.8 1798.3,117.9C1798.9,114.1 1798.2,105.8 1798.7,100.1C1799.2,94.3 1799.7,87.1 1801.3,83.3C1802.9,79.4 1806.2,78.9 1808.4,77.0C1810.7,75.0 1812.9,71.9 1814.8,71.4C1816.8,70.8 1818.5,72.4 1820.1,73.6C1821.7,74.9 1822.4,77.3 1824.6,78.8C1826.8,80.3 1830.2,81.2 1833.2,82.6C1836.3,83.9 1840.6,85.5 1843.0,87.0C1845.4,88.6 1846.9,89.7 1847.9,91.9C1848.9,94.0 1849.0,95.3 1849.0,100.1C1849.0,104.8 1847.9,115.0 1847.9,120.6C1847.9,126.1 1849.1,129.8 1849.0,133.6C1848.9,137.4 1848.1,140.7 1847.1,143.3C1846.1,145.9 1842.1,148.1 1843.0,149.2C1843.9,150.4 1849.8,150.8 1852.8,150.4C1855.7,149.9 1858.7,146.9 1860.7,146.6C1862.7,146.4 1863.9,147.2 1864.8,148.9C1865.7,150.6 1865.4,154.2 1865.9,156.7C1866.4,159.2 1865.9,161.7 1867.8,164.2C1869.7,166.6 1875.4,168.9 1877.2,171.2C1879.0,173.6 1877.5,175.3 1878.3,178.3C1879.1,181.4 1881.2,185.5 1882.1,189.5C1883.0,193.5 1882.8,197.9 1883.6,202.5C1884.4,207.2 1887.1,212.8 1887.0,217.4C1886.8,222.1 1883.8,225.9 1882.8,230.5C1881.9,235.1 1881.6,240.7 1881.3,245.0C1881.0,249.4 1882.5,253.0 1881.0,256.6C1879.5,260.1 1874.6,263.4 1872.3,266.2C1870.1,269.1 1870.7,272.1 1867.4,273.7C1864.2,275.3 1856.8,274.9 1852.8,275.9C1848.7,276.9 1846.3,278.7 1843.0,279.7C1839.7,280.6 1835.8,282.5 1833.2,281.9C1830.7,281.3 1829.0,278.8 1827.6,275.9C1826.2,273.0 1824.5,268.1 1824.6,264.4C1824.7,260.7 1828.0,256.5 1828.3,253.6C1828.7,250.7 1827.6,249.6 1826.5,246.9C1825.3,244.1 1823.5,240.2 1821.6,237.2C1819.7,234.2 1817.1,231.1 1815.2,229.0C1813.3,226.9 1810.9,224.8 1809.9,224.5C1808.9,224.3 1808.9,225.6 1809.2,227.5C1809.5,229.4 1811.3,232.8 1811.8,236.1C1812.3,239.3 1812.2,243.1 1812.2,246.9C1812.2,250.6 1812.4,254.9 1811.8,258.4C1811.2,262.0 1810.1,265.5 1808.8,268.1C1807.5,270.7 1806.0,272.0 1803.9,274.1C1801.8,276.2 1798.8,279.2 1796.0,280.8C1793.3,282.4 1789.3,282.9 1787.4,283.8C1785.4,284.6 1783.6,284.8 1784.4,285.6C1785.2,286.4 1789.0,288.0 1792.3,288.6C1795.5,289.2 1800.7,288.8 1803.9,289.3C1807.2,289.8 1811.3,290.3 1811.8,291.6C1812.3,292.9 1808.9,295.7 1806.9,297.2C1805.0,298.6 1802.6,300.3 1800.2,300.1C1797.7,300.0 1794.9,297.0 1792.3,296.4C1789.6,295.8 1786.3,295.6 1784.4,296.4C1782.4,297.2 1780.4,299.7 1780.6,301.3C1780.8,302.9 1785.1,304.2 1785.5,306.1C1785.9,308.0 1784.8,310.6 1783.3,312.8C1781.7,315.1 1778.6,318.2 1776.5,319.5C1774.4,320.8 1773.1,320.8 1770.8,320.6C1768.6,320.5 1765.6,318.9 1763.0,318.8C1760.3,318.7 1757.4,319.5 1755.1,319.9C1752.7,320.3 1749.6,319.8 1749.1,321.0C1748.6,322.3 1750.9,325.5 1752.1,327.3C1753.2,329.2 1756.8,330.4 1756.2,332.2C1755.6,334.0 1751.2,336.4 1748.3,338.2C1745.4,340.0 1741.8,342.9 1738.5,343.0C1735.3,343.1 1732.2,340.2 1728.8,338.9C1725.3,337.6 1721.0,337.1 1717.9,335.2C1714.7,333.2 1711.9,329.1 1710.0,327.3C1708.0,325.6 1708.2,326.5 1706.2,324.7C1704.3,323.0 1700.8,319.0 1698.3,316.9C1695.8,314.9 1693.2,313.8 1691.2,312.4C1689.1,311.1 1688.4,309.9 1685.9,308.7C1683.5,307.5 1679.5,306.8 1676.5,305.4C1673.5,303.9 1671.0,301.9 1667.9,300.1C1664.7,298.3 1661.0,296.0 1657.7,294.6C1654.5,293.1 1651.8,292.9 1648.3,291.6C1644.8,290.3 1639.9,288.3 1636.7,286.7C1633.4,285.2 1631.7,283.9 1628.8,282.3C1625.9,280.6 1621.9,278.9 1619.4,276.7C1616.9,274.4 1615.3,271.5 1613.8,268.9C1612.2,266.2 1611.1,263.3 1610.0,260.7C1608.9,258.0 1607.9,255.9 1607.4,252.8C1606.9,249.7 1606.8,245.4 1607.0,242.0C1607.2,238.7 1607.8,236.1 1608.5,232.7C1609.3,229.3 1610.4,224.4 1611.5,221.5C1612.6,218.7 1613.7,217.5 1615.3,215.6C1616.8,213.6 1618.9,211.8 1620.9,210.0C1622.9,208.2 1624.9,206.4 1627.3,204.8C1629.7,203.1 1633.1,201.6 1635.6,199.9C1638.0,198.2 1640.5,196.9 1641.9,194.7C1643.4,192.5 1643.5,189.4 1644.2,186.9C1645.0,184.4 1646.5,182.2 1646.5,179.8C1646.5,177.4 1645.0,175.3 1644.2,172.7C1643.5,170.1 1641.3,167.3 1641.9,164.2C1642.6,161.0 1646.4,157.3 1648.3,154.1C1650.3,150.9 1652.0,147.1 1653.6,144.8C1655.2,142.5 1655.8,142.4 1657.7,140.3C1659.7,138.3 1663.2,135.2 1665.2,132.5C1667.3,129.7 1668.7,126.4 1670.1,123.9C1671.6,121.4 1671.7,119.6 1673.9,117.6C1676.1,115.5 1680.4,113.0 1683.3,111.6C1686.2,110.2 1688.2,109.8 1691.2,109.0C1694.2,108.2 1697.8,107.4 1701.3,106.8C1704.8,106.1 1709.8,106.3 1712.2,105.3C1714.7,104.2 1715.5,102.5 1716.0,100.4Z"/></clipPath></defs>
<g clip-path="url(#clipC)">
<path d="M1716.0,100.4C1716.5,98.3 1715.0,94.7 1715.2,92.6C1715.5,90.5 1715.7,88.7 1717.5,87.8C1719.2,86.8 1723.4,87.0 1725.8,87.0C1728.1,87.1 1729.6,87.8 1731.8,88.1C1733.9,88.5 1736.1,89.1 1738.5,89.3C1741.0,89.4 1744.2,89.1 1746.4,89.3C1748.7,89.4 1750.3,89.3 1752.1,90.0C1753.8,90.7 1754.8,92.9 1756.9,93.7C1759.1,94.6 1762.6,95.5 1764.8,95.2C1767.0,94.9 1768.5,93.4 1770.1,91.9C1771.7,90.3 1772.5,87.3 1774.6,85.9C1776.7,84.5 1780.0,83.9 1782.5,83.7C1785.0,83.5 1788.1,83.3 1789.6,84.8C1791.1,86.3 1791.1,88.8 1791.5,92.6C1791.9,96.4 1791.7,102.9 1791.9,107.5C1792.1,112.2 1792.1,117.9 1792.6,120.6C1793.1,123.2 1794.0,123.6 1794.9,123.2C1795.8,122.7 1797.7,121.8 1798.3,117.9C1798.9,114.1 1798.2,105.8 1798.7,100.1C1799.2,94.3 1799.7,87.1 1801.3,83.3C1802.9,79.4 1806.2,78.9 1808.4,77.0C1810.7,75.0 1812.9,71.9 1814.8,71.4C1816.8,70.8 1818.5,72.4 1820.1,73.6C1821.7,74.9 1822.4,77.3 1824.6,78.8C1826.8,80.3 1830.2,81.2 1833.2,82.6C1836.3,83.9 1840.6,85.5 1843.0,87.0C1845.4,88.6 1846.9,89.7 1847.9,91.9C1848.9,94.0 1849.0,95.3 1849.0,100.1C1849.0,104.8 1847.9,115.0 1847.9,120.6C1847.9,126.1 1849.1,129.8 1849.0,133.6C1848.9,137.4 1848.1,140.7 1847.1,143.3C1846.1,145.9 1842.1,148.1 1843.0,149.2C1843.9,150.4 1849.8,150.8 1852.8,150.4C1855.7,149.9 1858.7,146.9 1860.7,146.6C1862.7,146.4 1863.9,147.2 1864.8,148.9C1865.7,150.6 1865.4,154.2 1865.9,156.7C1866.4,159.2 1865.9,161.7 1867.8,164.2C1869.7,166.6 1875.4,168.9 1877.2,171.2C1879.0,173.6 1877.5,175.3 1878.3,178.3C1879.1,181.4 1881.2,185.5 1882.1,189.5C1883.0,193.5 1882.8,197.9 1883.6,202.5C1884.4,207.2 1887.1,212.8 1887.0,217.4C1886.8,222.1 1883.8,225.9 1882.8,230.5C1881.9,235.1 1881.6,240.7 1881.3,245.0C1881.0,249.4 1882.5,253.0 1881.0,256.6C1879.5,260.1 1874.6,263.4 1872.3,266.2C1870.1,269.1 1870.7,272.1 1867.4,273.7C1864.2,275.3 1856.8,274.9 1852.8,275.9C1848.7,276.9 1846.3,278.7 1843.0,279.7C1839.7,280.6 1835.8,282.5 1833.2,281.9C1830.7,281.3 1829.0,278.8 1827.6,275.9C1826.2,273.0 1824.5,268.1 1824.6,264.4C1824.7,260.7 1828.0,256.5 1828.3,253.6C1828.7,250.7 1827.6,249.6 1826.5,246.9C1825.3,244.1 1823.5,240.2 1821.6,237.2C1819.7,234.2 1817.1,231.1 1815.2,229.0C1813.3,226.9 1810.9,224.8 1809.9,224.5C1808.9,224.3 1808.9,225.6 1809.2,227.5C1809.5,229.4 1811.3,232.8 1811.8,236.1C1812.3,239.3 1812.2,243.1 1812.2,246.9C1812.2,250.6 1812.4,254.9 1811.8,258.4C1811.2,262.0 1810.1,265.5 1808.8,268.1C1807.5,270.7 1806.0,272.0 1803.9,274.1C1801.8,276.2 1798.8,279.2 1796.0,280.8C1793.3,282.4 1789.3,282.9 1787.4,283.8C1785.4,284.6 1783.6,284.8 1784.4,285.6C1785.2,286.4 1789.0,288.0 1792.3,288.6C1795.5,289.2 1800.7,288.8 1803.9,289.3C1807.2,289.8 1811.3,290.3 1811.8,291.6C1812.3,292.9 1808.9,295.7 1806.9,297.2C1805.0,298.6 1802.6,300.3 1800.2,300.1C1797.7,300.0 1794.9,297.0 1792.3,296.4C1789.6,295.8 1786.3,295.6 1784.4,296.4C1782.4,297.2 1780.4,299.7 1780.6,301.3C1780.8,302.9 1785.1,304.2 1785.5,306.1C1785.9,308.0 1784.8,310.6 1783.3,312.8C1781.7,315.1 1778.6,318.2 1776.5,319.5C1774.4,320.8 1773.1,320.8 1770.8,320.6C1768.6,320.5 1765.6,318.9 1763.0,318.8C1760.3,318.7 1757.4,319.5 1755.1,319.9C1752.7,320.3 1749.6,319.8 1749.1,321.0C1748.6,322.3 1750.9,325.5 1752.1,327.3C1753.2,329.2 1756.8,330.4 1756.2,332.2C1755.6,334.0 1751.2,336.4 1748.3,338.2C1745.4,340.0 1741.8,342.9 1738.5,343.0C1735.3,343.1 1732.2,340.2 1728.8,338.9C1725.3,337.6 1721.0,337.1 1717.9,335.2C1714.7,333.2 1711.9,329.1 1710.0,327.3C1708.0,325.6 1708.2,326.5 1706.2,324.7C1704.3,323.0 1700.8,319.0 1698.3,316.9C1695.8,314.9 1693.2,313.8 1691.2,312.4C1689.1,311.1 1688.4,309.9 1685.9,308.7C1683.5,307.5 1679.5,306.8 1676.5,305.4C1673.5,303.9 1671.0,301.9 1667.9,300.1C1664.7,298.3 1661.0,296.0 1657.7,294.6C1654.5,293.1 1651.8,292.9 1648.3,291.6C1644.8,290.3 1639.9,288.3 1636.7,286.7C1633.4,285.2 1631.7,283.9 1628.8,282.3C1625.9,280.6 1621.9,278.9 1619.4,276.7C1616.9,274.4 1615.3,271.5 1613.8,268.9C1612.2,266.2 1611.1,263.3 1610.0,260.7C1608.9,258.0 1607.9,255.9 1607.4,252.8C1606.9,249.7 1606.8,245.4 1607.0,242.0C1607.2,238.7 1607.8,236.1 1608.5,232.7C1609.3,229.3 1610.4,224.4 1611.5,221.5C1612.6,218.7 1613.7,217.5 1615.3,215.6C1616.8,213.6 1618.9,211.8 1620.9,210.0C1622.9,208.2 1624.9,206.4 1627.3,204.8C1629.7,203.1 1633.1,201.6 1635.6,199.9C1638.0,198.2 1640.5,196.9 1641.9,194.7C1643.4,192.5 1643.5,189.4 1644.2,186.9C1645.0,184.4 1646.5,182.2 1646.5,179.8C1646.5,177.4 1645.0,175.3 1644.2,172.7C1643.5,170.1 1641.3,167.3 1641.9,164.2C1642.6,161.0 1646.4,157.3 1648.3,154.1C1650.3,150.9 1652.0,147.1 1653.6,144.8C1655.2,142.5 1655.8,142.4 1657.7,140.3C1659.7,138.3 1663.2,135.2 1665.2,132.5C1667.3,129.7 1668.7,126.4 1670.1,123.9C1671.6,121.4 1671.7,119.6 1673.9,117.6C1676.1,115.5 1680.4,113.0 1683.3,111.6C1686.2,110.2 1688.2,109.8 1691.2,109.0C1694.2,108.2 1697.8,107.4 1701.3,106.8C1704.8,106.1 1709.8,106.3 1712.2,105.3C1714.7,104.2 1715.5,102.5 1716.0,100.4Z" fill="#6e9fd2"/>
<path d="M1716.0,100.4C1716.5,98.3 1715.0,94.7 1715.2,92.6C1715.5,90.5 1715.7,88.7 1717.5,87.8C1719.2,86.8 1723.4,87.0 1725.8,87.0C1728.1,87.1 1729.6,87.8 1731.8,88.1C1733.9,88.5 1736.1,89.1 1738.5,89.3C1741.0,89.4 1744.2,89.1 1746.4,89.3C1748.7,89.4 1750.3,89.3 1752.1,90.0C1753.8,90.7 1754.8,92.9 1756.9,93.7C1759.1,94.6 1762.6,95.5 1764.8,95.2C1767.0,94.9 1768.5,93.4 1770.1,91.9C1771.7,90.3 1772.5,87.3 1774.6,85.9C1776.7,84.5 1780.0,83.9 1782.5,83.7C1785.0,83.5 1788.1,83.3 1789.6,84.8C1791.1,86.3 1791.1,88.8 1791.5,92.6C1791.9,96.4 1791.7,102.9 1791.9,107.5C1792.1,112.2 1792.1,117.9 1792.6,120.6C1793.1,123.2 1794.0,123.6 1794.9,123.2C1795.8,122.7 1797.7,121.8 1798.3,117.9C1798.9,114.1 1798.2,105.8 1798.7,100.1C1799.2,94.3 1799.7,87.1 1801.3,83.3C1802.9,79.4 1806.2,78.9 1808.4,77.0C1810.7,75.0 1812.9,71.9 1814.8,71.4C1816.8,70.8 1818.5,72.4 1820.1,73.6C1821.7,74.9 1822.4,77.3 1824.6,78.8C1826.8,80.3 1830.2,81.2 1833.2,82.6C1836.3,83.9 1840.6,85.5 1843.0,87.0C1845.4,88.6 1846.9,89.7 1847.9,91.9C1848.9,94.0 1849.0,95.3 1849.0,100.1C1849.0,104.8 1847.9,115.0 1847.9,120.6C1847.9,126.1 1849.1,129.8 1849.0,133.6C1848.9,137.4 1848.1,140.7 1847.1,143.3C1846.1,145.9 1842.1,148.1 1843.0,149.2C1843.9,150.4 1849.8,150.8 1852.8,150.4C1855.7,149.9 1858.7,146.9 1860.7,146.6C1862.7,146.4 1863.9,147.2 1864.8,148.9C1865.7,150.6 1865.4,154.2 1865.9,156.7C1866.4,159.2 1865.9,161.7 1867.8,164.2C1869.7,166.6 1875.4,168.9 1877.2,171.2C1879.0,173.6 1877.5,175.3 1878.3,178.3C1879.1,181.4 1881.2,185.5 1882.1,189.5C1883.0,193.5 1882.8,197.9 1883.6,202.5C1884.4,207.2 1887.1,212.8 1887.0,217.4C1886.8,222.1 1883.8,225.9 1882.8,230.5C1881.9,235.1 1881.6,240.7 1881.3,245.0C1881.0,249.4 1882.5,253.0 1881.0,256.6C1879.5,260.1 1874.6,263.4 1872.3,266.2C1870.1,269.1 1870.7,272.1 1867.4,273.7C1864.2,275.3 1856.8,274.9 1852.8,275.9C1848.7,276.9 1846.3,278.7 1843.0,279.7C1839.7,280.6 1835.8,282.5 1833.2,281.9C1830.7,281.3 1829.0,278.8 1827.6,275.9C1826.2,273.0 1824.5,268.1 1824.6,264.4C1824.7,260.7 1828.0,256.5 1828.3,253.6C1828.7,250.7 1827.6,249.6 1826.5,246.9C1825.3,244.1 1823.5,240.2 1821.6,237.2C1819.7,234.2 1817.1,231.1 1815.2,229.0C1813.3,226.9 1810.9,224.8 1809.9,224.5C1808.9,224.3 1808.9,225.6 1809.2,227.5C1809.5,229.4 1811.3,232.8 1811.8,236.1C1812.3,239.3 1812.2,243.1 1812.2,246.9C1812.2,250.6 1812.4,254.9 1811.8,258.4C1811.2,262.0 1810.1,265.5 1808.8,268.1C1807.5,270.7 1806.0,272.0 1803.9,274.1C1801.8,276.2 1798.8,279.2 1796.0,280.8C1793.3,282.4 1789.3,282.9 1787.4,283.8C1785.4,284.6 1783.6,284.8 1784.4,285.6C1785.2,286.4 1789.0,288.0 1792.3,288.6C1795.5,289.2 1800.7,288.8 1803.9,289.3C1807.2,289.8 1811.3,290.3 1811.8,291.6C1812.3,292.9 1808.9,295.7 1806.9,297.2C1805.0,298.6 1802.6,300.3 1800.2,300.1C1797.7,300.0 1794.9,297.0 1792.3,296.4C1789.6,295.8 1786.3,295.6 1784.4,296.4C1782.4,297.2 1780.4,299.7 1780.6,301.3C1780.8,302.9 1785.1,304.2 1785.5,306.1C1785.9,308.0 1784.8,310.6 1783.3,312.8C1781.7,315.1 1778.6,318.2 1776.5,319.5C1774.4,320.8 1773.1,320.8 1770.8,320.6C1768.6,320.5 1765.6,318.9 1763.0,318.8C1760.3,318.7 1757.4,319.5 1755.1,319.9C1752.7,320.3 1749.6,319.8 1749.1,321.0C1748.6,322.3 1750.9,325.5 1752.1,327.3C1753.2,329.2 1756.8,330.4 1756.2,332.2C1755.6,334.0 1751.2,336.4 1748.3,338.2C1745.4,340.0 1741.8,342.9 1738.5,343.0C1735.3,343.1 1732.2,340.2 1728.8,338.9C1725.3,337.6 1721.0,337.1 1717.9,335.2C1714.7,333.2 1711.9,329.1 1710.0,327.3C1708.0,325.6 1708.2,326.5 1706.2,324.7C1704.3,323.0 1700.8,319.0 1698.3,316.9C1695.8,314.9 1693.2,313.8 1691.2,312.4C1689.1,311.1 1688.4,309.9 1685.9,308.7C1683.5,307.5 1679.5,306.8 1676.5,305.4C1673.5,303.9 1671.0,301.9 1667.9,300.1C1664.7,298.3 1661.0,296.0 1657.7,294.6C1654.5,293.1 1651.8,292.9 1648.3,291.6C1644.8,290.3 1639.9,288.3 1636.7,286.7C1633.4,285.2 1631.7,283.9 1628.8,282.3C1625.9,280.6 1621.9,278.9 1619.4,276.7C1616.9,274.4 1615.3,271.5 1613.8,268.9C1612.2,266.2 1611.1,263.3 1610.0,260.7C1608.9,258.0 1607.9,255.9 1607.4,252.8C1606.9,249.7 1606.8,245.4 1607.0,242.0C1607.2,238.7 1607.8,236.1 1608.5,232.7C1609.3,229.3 1610.4,224.4 1611.5,221.5C1612.6,218.7 1613.7,217.5 1615.3,215.6C1616.8,213.6 1618.9,211.8 1620.9,210.0C1622.9,208.2 1624.9,206.4 1627.3,204.8C1629.7,203.1 1633.1,201.6 1635.6,199.9C1638.0,198.2 1640.5,196.9 1641.9,194.7C1643.4,192.5 1643.5,189.4 1644.2,186.9C1645.0,184.4 1646.5,182.2 1646.5,179.8C1646.5,177.4 1645.0,175.3 1644.2,172.7C1643.5,170.1 1641.3,167.3 1641.9,164.2C1642.6,161.0 1646.4,157.3 1648.3,154.1C1650.3,150.9 1652.0,147.1 1653.6,144.8C1655.2,142.5 1655.8,142.4 1657.7,140.3C1659.7,138.3 1663.2,135.2 1665.2,132.5C1667.3,129.7 1668.7,126.4 1670.1,123.9C1671.6,121.4 1671.7,119.6 1673.9,117.6C1676.1,115.5 1680.4,113.0 1683.3,111.6C1686.2,110.2 1688.2,109.8 1691.2,109.0C1694.2,108.2 1697.8,107.4 1701.3,106.8C1704.8,106.1 1709.8,106.3 1712.2,105.3C1714.7,104.2 1715.5,102.5 1716.0,100.4Z" fill="#fff" filter="url(#sp11)"/>
<path d="M1716.0,100.4C1716.5,98.3 1715.0,94.7 1715.2,92.6C1715.5,90.5 1715.7,88.7 1717.5,87.8C1719.2,86.8 1723.4,87.0 1725.8,87.0C1728.1,87.1 1729.6,87.8 1731.8,88.1C1733.9,88.5 1736.1,89.1 1738.5,89.3C1741.0,89.4 1744.2,89.1 1746.4,89.3C1748.7,89.4 1750.3,89.3 1752.1,90.0C1753.8,90.7 1754.8,92.9 1756.9,93.7C1759.1,94.6 1762.6,95.5 1764.8,95.2C1767.0,94.9 1768.5,93.4 1770.1,91.9C1771.7,90.3 1772.5,87.3 1774.6,85.9C1776.7,84.5 1780.0,83.9 1782.5,83.7C1785.0,83.5 1788.1,83.3 1789.6,84.8C1791.1,86.3 1791.1,88.8 1791.5,92.6C1791.9,96.4 1791.7,102.9 1791.9,107.5C1792.1,112.2 1792.1,117.9 1792.6,120.6C1793.1,123.2 1794.0,123.6 1794.9,123.2C1795.8,122.7 1797.7,121.8 1798.3,117.9C1798.9,114.1 1798.2,105.8 1798.7,100.1C1799.2,94.3 1799.7,87.1 1801.3,83.3C1802.9,79.4 1806.2,78.9 1808.4,77.0C1810.7,75.0 1812.9,71.9 1814.8,71.4C1816.8,70.8 1818.5,72.4 1820.1,73.6C1821.7,74.9 1822.4,77.3 1824.6,78.8C1826.8,80.3 1830.2,81.2 1833.2,82.6C1836.3,83.9 1840.6,85.5 1843.0,87.0C1845.4,88.6 1846.9,89.7 1847.9,91.9C1848.9,94.0 1849.0,95.3 1849.0,100.1C1849.0,104.8 1847.9,115.0 1847.9,120.6C1847.9,126.1 1849.1,129.8 1849.0,133.6C1848.9,137.4 1848.1,140.7 1847.1,143.3C1846.1,145.9 1842.1,148.1 1843.0,149.2C1843.9,150.4 1849.8,150.8 1852.8,150.4C1855.7,149.9 1858.7,146.9 1860.7,146.6C1862.7,146.4 1863.9,147.2 1864.8,148.9C1865.7,150.6 1865.4,154.2 1865.9,156.7C1866.4,159.2 1865.9,161.7 1867.8,164.2C1869.7,166.6 1875.4,168.9 1877.2,171.2C1879.0,173.6 1877.5,175.3 1878.3,178.3C1879.1,181.4 1881.2,185.5 1882.1,189.5C1883.0,193.5 1882.8,197.9 1883.6,202.5C1884.4,207.2 1887.1,212.8 1887.0,217.4C1886.8,222.1 1883.8,225.9 1882.8,230.5C1881.9,235.1 1881.6,240.7 1881.3,245.0C1881.0,249.4 1882.5,253.0 1881.0,256.6C1879.5,260.1 1874.6,263.4 1872.3,266.2C1870.1,269.1 1870.7,272.1 1867.4,273.7C1864.2,275.3 1856.8,274.9 1852.8,275.9C1848.7,276.9 1846.3,278.7 1843.0,279.7C1839.7,280.6 1835.8,282.5 1833.2,281.9C1830.7,281.3 1829.0,278.8 1827.6,275.9C1826.2,273.0 1824.5,268.1 1824.6,264.4C1824.7,260.7 1828.0,256.5 1828.3,253.6C1828.7,250.7 1827.6,249.6 1826.5,246.9C1825.3,244.1 1823.5,240.2 1821.6,237.2C1819.7,234.2 1817.1,231.1 1815.2,229.0C1813.3,226.9 1810.9,224.8 1809.9,224.5C1808.9,224.3 1808.9,225.6 1809.2,227.5C1809.5,229.4 1811.3,232.8 1811.8,236.1C1812.3,239.3 1812.2,243.1 1812.2,246.9C1812.2,250.6 1812.4,254.9 1811.8,258.4C1811.2,262.0 1810.1,265.5 1808.8,268.1C1807.5,270.7 1806.0,272.0 1803.9,274.1C1801.8,276.2 1798.8,279.2 1796.0,280.8C1793.3,282.4 1789.3,282.9 1787.4,283.8C1785.4,284.6 1783.6,284.8 1784.4,285.6C1785.2,286.4 1789.0,288.0 1792.3,288.6C1795.5,289.2 1800.7,288.8 1803.9,289.3C1807.2,289.8 1811.3,290.3 1811.8,291.6C1812.3,292.9 1808.9,295.7 1806.9,297.2C1805.0,298.6 1802.6,300.3 1800.2,300.1C1797.7,300.0 1794.9,297.0 1792.3,296.4C1789.6,295.8 1786.3,295.6 1784.4,296.4C1782.4,297.2 1780.4,299.7 1780.6,301.3C1780.8,302.9 1785.1,304.2 1785.5,306.1C1785.9,308.0 1784.8,310.6 1783.3,312.8C1781.7,315.1 1778.6,318.2 1776.5,319.5C1774.4,320.8 1773.1,320.8 1770.8,320.6C1768.6,320.5 1765.6,318.9 1763.0,318.8C1760.3,318.7 1757.4,319.5 1755.1,319.9C1752.7,320.3 1749.6,319.8 1749.1,321.0C1748.6,322.3 1750.9,325.5 1752.1,327.3C1753.2,329.2 1756.8,330.4 1756.2,332.2C1755.6,334.0 1751.2,336.4 1748.3,338.2C1745.4,340.0 1741.8,342.9 1738.5,343.0C1735.3,343.1 1732.2,340.2 1728.8,338.9C1725.3,337.6 1721.0,337.1 1717.9,335.2C1714.7,333.2 1711.9,329.1 1710.0,327.3C1708.0,325.6 1708.2,326.5 1706.2,324.7C1704.3,323.0 1700.8,319.0 1698.3,316.9C1695.8,314.9 1693.2,313.8 1691.2,312.4C1689.1,311.1 1688.4,309.9 1685.9,308.7C1683.5,307.5 1679.5,306.8 1676.5,305.4C1673.5,303.9 1671.0,301.9 1667.9,300.1C1664.7,298.3 1661.0,296.0 1657.7,294.6C1654.5,293.1 1651.8,292.9 1648.3,291.6C1644.8,290.3 1639.9,288.3 1636.7,286.7C1633.4,285.2 1631.7,283.9 1628.8,282.3C1625.9,280.6 1621.9,278.9 1619.4,276.7C1616.9,274.4 1615.3,271.5 1613.8,268.9C1612.2,266.2 1611.1,263.3 1610.0,260.7C1608.9,258.0 1607.9,255.9 1607.4,252.8C1606.9,249.7 1606.8,245.4 1607.0,242.0C1607.2,238.7 1607.8,236.1 1608.5,232.7C1609.3,229.3 1610.4,224.4 1611.5,221.5C1612.6,218.7 1613.7,217.5 1615.3,215.6C1616.8,213.6 1618.9,211.8 1620.9,210.0C1622.9,208.2 1624.9,206.4 1627.3,204.8C1629.7,203.1 1633.1,201.6 1635.6,199.9C1638.0,198.2 1640.5,196.9 1641.9,194.7C1643.4,192.5 1643.5,189.4 1644.2,186.9C1645.0,184.4 1646.5,182.2 1646.5,179.8C1646.5,177.4 1645.0,175.3 1644.2,172.7C1643.5,170.1 1641.3,167.3 1641.9,164.2C1642.6,161.0 1646.4,157.3 1648.3,154.1C1650.3,150.9 1652.0,147.1 1653.6,144.8C1655.2,142.5 1655.8,142.4 1657.7,140.3C1659.7,138.3 1663.2,135.2 1665.2,132.5C1667.3,129.7 1668.7,126.4 1670.1,123.9C1671.6,121.4 1671.7,119.6 1673.9,117.6C1676.1,115.5 1680.4,113.0 1683.3,111.6C1686.2,110.2 1688.2,109.8 1691.2,109.0C1694.2,108.2 1697.8,107.4 1701.3,106.8C1704.8,106.1 1709.8,106.3 1712.2,105.3C1714.7,104.2 1715.5,102.5 1716.0,100.4Z" fill="#fff" filter="url(#sp12)"/>
<path d="M1755.1,122.4C1758.7,120.4 1774.2,126.1 1781.4,126.1C1788.6,126.1 1794.5,120.9 1798.3,122.4C1802.0,123.9 1801.4,129.7 1803.9,135.1C1806.5,140.4 1811.2,150.2 1813.7,154.5C1816.2,158.7 1819.3,154.6 1819.0,160.4C1818.6,166.3 1813.8,180.8 1811.4,189.5C1809.1,198.2 1804.9,207.0 1804.7,212.6C1804.4,218.2 1810.1,222.5 1809.9,223.0C1809.8,223.5 1807.4,223.0 1803.9,215.6C1800.4,208.1 1796.4,185.6 1788.9,178.3C1781.4,171.0 1765.2,172.5 1758.8,171.6C1752.4,170.7 1750.7,175.0 1750.6,172.7C1750.4,170.4 1756.2,163.6 1757.7,157.8C1759.2,152.0 1760.0,144.0 1759.6,138.1C1759.1,132.2 1751.4,124.4 1755.1,122.4Z" fill="#e45a79" filter="url(#bl4)"/>
<path d="M1755.1,122.4C1758.7,120.4 1774.2,126.1 1781.4,126.1C1788.6,126.1 1794.5,120.9 1798.3,122.4C1802.0,123.9 1801.4,129.7 1803.9,135.1C1806.5,140.4 1811.2,150.2 1813.7,154.5C1816.2,158.7 1819.3,154.6 1819.0,160.4C1818.6,166.3 1813.8,180.8 1811.4,189.5C1809.1,198.2 1804.9,207.0 1804.7,212.6C1804.4,218.2 1810.1,222.5 1809.9,223.0C1809.8,223.5 1807.4,223.0 1803.9,215.6C1800.4,208.1 1796.4,185.6 1788.9,178.3C1781.4,171.0 1765.2,172.5 1758.8,171.6C1752.4,170.7 1750.7,175.0 1750.6,172.7C1750.4,170.4 1756.2,163.6 1757.7,157.8C1759.2,152.0 1760.0,144.0 1759.6,138.1C1759.1,132.2 1751.4,124.4 1755.1,122.4Z" fill="#fff" filter="url(#sp13)"/>
<path d="M1755.1,122.4C1758.7,120.4 1774.2,126.1 1781.4,126.1C1788.6,126.1 1794.5,120.9 1798.3,122.4C1802.0,123.9 1801.4,129.7 1803.9,135.1C1806.5,140.4 1811.2,150.2 1813.7,154.5C1816.2,158.7 1819.3,154.6 1819.0,160.4C1818.6,166.3 1813.8,180.8 1811.4,189.5C1809.1,198.2 1804.9,207.0 1804.7,212.6C1804.4,218.2 1810.1,222.5 1809.9,223.0C1809.8,223.5 1807.4,223.0 1803.9,215.6C1800.4,208.1 1796.4,185.6 1788.9,178.3C1781.4,171.0 1765.2,172.5 1758.8,171.6C1752.4,170.7 1750.7,175.0 1750.6,172.7C1750.4,170.4 1756.2,163.6 1757.7,157.8C1759.2,152.0 1760.0,144.0 1759.6,138.1C1759.1,132.2 1751.4,124.4 1755.1,122.4Z" fill="#fff" filter="url(#sp14)"/>
<path d="M1809.9,223.0C1810.4,225.6 1813.3,226.6 1815.2,229.0C1817.1,231.3 1819.7,234.2 1821.6,237.2C1823.5,240.2 1825.3,244.1 1826.5,246.9C1827.6,249.6 1828.7,250.7 1828.3,253.6C1828.0,256.5 1824.7,260.7 1824.6,264.4C1824.5,268.1 1826.2,273.0 1827.6,275.9C1829.0,278.8 1830.7,281.3 1833.2,281.9C1835.8,282.5 1839.7,280.6 1843.0,279.7C1846.3,278.7 1848.7,276.9 1852.8,275.9C1856.8,274.9 1864.2,275.3 1867.4,273.7C1870.7,272.1 1870.1,269.1 1872.3,266.2C1874.6,263.4 1879.5,260.1 1881.0,256.6C1882.5,253.0 1881.0,249.4 1881.3,245.0C1881.6,240.7 1881.9,235.1 1882.8,230.5C1883.8,225.9 1886.8,222.1 1887.0,217.4C1887.1,212.8 1884.4,207.2 1883.6,202.5C1882.8,197.9 1883.0,193.5 1882.1,189.5C1881.2,185.5 1879.1,181.4 1878.3,178.3C1877.5,175.3 1879.0,173.6 1877.2,171.2C1875.4,168.9 1869.7,166.6 1867.8,164.2C1865.9,161.7 1866.4,159.2 1865.9,156.7C1865.4,154.2 1865.7,150.6 1864.8,148.9C1863.9,147.2 1862.7,146.4 1860.7,146.6C1858.7,146.9 1855.7,149.9 1852.8,150.4C1849.8,150.8 1845.0,148.3 1843.0,149.2C1841.0,150.2 1841.9,153.0 1840.7,156.0C1839.6,158.9 1837.6,163.4 1835.9,167.1C1834.1,170.9 1832.3,174.6 1830.2,178.3C1828.2,182.0 1825.6,185.5 1823.5,189.5C1821.3,193.5 1819.3,198.5 1817.4,202.5C1815.6,206.6 1813.4,210.3 1812.2,213.7C1810.9,217.1 1809.4,220.5 1809.9,223.0Z" fill="#6e9fd2"/>
<path d="M1809.9,223.0C1810.4,225.6 1813.3,226.6 1815.2,229.0C1817.1,231.3 1819.7,234.2 1821.6,237.2C1823.5,240.2 1825.3,244.1 1826.5,246.9C1827.6,249.6 1828.7,250.7 1828.3,253.6C1828.0,256.5 1824.7,260.7 1824.6,264.4C1824.5,268.1 1826.2,273.0 1827.6,275.9C1829.0,278.8 1830.7,281.3 1833.2,281.9C1835.8,282.5 1839.7,280.6 1843.0,279.7C1846.3,278.7 1848.7,276.9 1852.8,275.9C1856.8,274.9 1864.2,275.3 1867.4,273.7C1870.7,272.1 1870.1,269.1 1872.3,266.2C1874.6,263.4 1879.5,260.1 1881.0,256.6C1882.5,253.0 1881.0,249.4 1881.3,245.0C1881.6,240.7 1881.9,235.1 1882.8,230.5C1883.8,225.9 1886.8,222.1 1887.0,217.4C1887.1,212.8 1884.4,207.2 1883.6,202.5C1882.8,197.9 1883.0,193.5 1882.1,189.5C1881.2,185.5 1879.1,181.4 1878.3,178.3C1877.5,175.3 1879.0,173.6 1877.2,171.2C1875.4,168.9 1869.7,166.6 1867.8,164.2C1865.9,161.7 1866.4,159.2 1865.9,156.7C1865.4,154.2 1865.7,150.6 1864.8,148.9C1863.9,147.2 1862.7,146.4 1860.7,146.6C1858.7,146.9 1855.7,149.9 1852.8,150.4C1849.8,150.8 1845.0,148.3 1843.0,149.2C1841.0,150.2 1841.9,153.0 1840.7,156.0C1839.6,158.9 1837.6,163.4 1835.9,167.1C1834.1,170.9 1832.3,174.6 1830.2,178.3C1828.2,182.0 1825.6,185.5 1823.5,189.5C1821.3,193.5 1819.3,198.5 1817.4,202.5C1815.6,206.6 1813.4,210.3 1812.2,213.7C1810.9,217.1 1809.4,220.5 1809.9,223.0Z" fill="#fff" filter="url(#sp15)"/>
<path d="M1809.9,223.0C1810.4,225.6 1813.3,226.6 1815.2,229.0C1817.1,231.3 1819.7,234.2 1821.6,237.2C1823.5,240.2 1825.3,244.1 1826.5,246.9C1827.6,249.6 1828.7,250.7 1828.3,253.6C1828.0,256.5 1824.7,260.7 1824.6,264.4C1824.5,268.1 1826.2,273.0 1827.6,275.9C1829.0,278.8 1830.7,281.3 1833.2,281.9C1835.8,282.5 1839.7,280.6 1843.0,279.7C1846.3,278.7 1848.7,276.9 1852.8,275.9C1856.8,274.9 1864.2,275.3 1867.4,273.7C1870.7,272.1 1870.1,269.1 1872.3,266.2C1874.6,263.4 1879.5,260.1 1881.0,256.6C1882.5,253.0 1881.0,249.4 1881.3,245.0C1881.6,240.7 1881.9,235.1 1882.8,230.5C1883.8,225.9 1886.8,222.1 1887.0,217.4C1887.1,212.8 1884.4,207.2 1883.6,202.5C1882.8,197.9 1883.0,193.5 1882.1,189.5C1881.2,185.5 1879.1,181.4 1878.3,178.3C1877.5,175.3 1879.0,173.6 1877.2,171.2C1875.4,168.9 1869.7,166.6 1867.8,164.2C1865.9,161.7 1866.4,159.2 1865.9,156.7C1865.4,154.2 1865.7,150.6 1864.8,148.9C1863.9,147.2 1862.7,146.4 1860.7,146.6C1858.7,146.9 1855.7,149.9 1852.8,150.4C1849.8,150.8 1845.0,148.3 1843.0,149.2C1841.0,150.2 1841.9,153.0 1840.7,156.0C1839.6,158.9 1837.6,163.4 1835.9,167.1C1834.1,170.9 1832.3,174.6 1830.2,178.3C1828.2,182.0 1825.6,185.5 1823.5,189.5C1821.3,193.5 1819.3,198.5 1817.4,202.5C1815.6,206.6 1813.4,210.3 1812.2,213.7C1810.9,217.1 1809.4,220.5 1809.9,223.0Z" fill="#fff" filter="url(#sp16)"/>
<path d="M1798.7,122.4C1797.8,116.6 1798.2,106.6 1798.7,100.1C1799.1,93.5 1799.7,87.1 1801.3,83.3C1802.9,79.4 1806.2,78.9 1808.4,77.0C1810.7,75.0 1812.9,71.9 1814.8,71.4C1816.8,70.8 1818.5,72.4 1820.1,73.6C1821.7,74.9 1822.4,77.3 1824.6,78.8C1826.8,80.3 1830.2,81.2 1833.2,82.6C1836.3,83.9 1840.6,85.5 1843.0,87.0C1845.4,88.6 1846.9,89.7 1847.9,91.9C1848.9,94.0 1849.0,95.3 1849.0,100.1C1849.0,104.8 1847.9,115.0 1847.9,120.6C1847.9,126.1 1849.1,129.8 1849.0,133.6C1848.9,137.4 1848.1,140.7 1847.1,143.3C1846.1,145.9 1844.8,147.3 1843.0,149.2C1841.2,151.2 1838.7,153.0 1836.2,154.8C1833.8,156.7 1831.2,159.5 1828.3,160.4C1825.5,161.4 1821.4,161.4 1819.0,160.4C1816.5,159.4 1815.4,157.1 1813.7,154.5C1812.0,151.9 1810.4,148.0 1808.8,144.8C1807.2,141.5 1805.6,138.8 1803.9,135.1C1802.2,131.4 1799.5,128.3 1798.7,122.4Z" fill="#6e9fd2"/>
<path d="M1798.7,122.4C1797.8,116.6 1798.2,106.6 1798.7,100.1C1799.1,93.5 1799.7,87.1 1801.3,83.3C1802.9,79.4 1806.2,78.9 1808.4,77.0C1810.7,75.0 1812.9,71.9 1814.8,71.4C1816.8,70.8 1818.5,72.4 1820.1,73.6C1821.7,74.9 1822.4,77.3 1824.6,78.8C1826.8,80.3 1830.2,81.2 1833.2,82.6C1836.3,83.9 1840.6,85.5 1843.0,87.0C1845.4,88.6 1846.9,89.7 1847.9,91.9C1848.9,94.0 1849.0,95.3 1849.0,100.1C1849.0,104.8 1847.9,115.0 1847.9,120.6C1847.9,126.1 1849.1,129.8 1849.0,133.6C1848.9,137.4 1848.1,140.7 1847.1,143.3C1846.1,145.9 1844.8,147.3 1843.0,149.2C1841.2,151.2 1838.7,153.0 1836.2,154.8C1833.8,156.7 1831.2,159.5 1828.3,160.4C1825.5,161.4 1821.4,161.4 1819.0,160.4C1816.5,159.4 1815.4,157.1 1813.7,154.5C1812.0,151.9 1810.4,148.0 1808.8,144.8C1807.2,141.5 1805.6,138.8 1803.9,135.1C1802.2,131.4 1799.5,128.3 1798.7,122.4Z" fill="#fff" filter="url(#sp17)"/>
<path d="M1798.7,122.4C1797.8,116.6 1798.2,106.6 1798.7,100.1C1799.1,93.5 1799.7,87.1 1801.3,83.3C1802.9,79.4 1806.2,78.9 1808.4,77.0C1810.7,75.0 1812.9,71.9 1814.8,71.4C1816.8,70.8 1818.5,72.4 1820.1,73.6C1821.7,74.9 1822.4,77.3 1824.6,78.8C1826.8,80.3 1830.2,81.2 1833.2,82.6C1836.3,83.9 1840.6,85.5 1843.0,87.0C1845.4,88.6 1846.9,89.7 1847.9,91.9C1848.9,94.0 1849.0,95.3 1849.0,100.1C1849.0,104.8 1847.9,115.0 1847.9,120.6C1847.9,126.1 1849.1,129.8 1849.0,133.6C1848.9,137.4 1848.1,140.7 1847.1,143.3C1846.1,145.9 1844.8,147.3 1843.0,149.2C1841.2,151.2 1838.7,153.0 1836.2,154.8C1833.8,156.7 1831.2,159.5 1828.3,160.4C1825.5,161.4 1821.4,161.4 1819.0,160.4C1816.5,159.4 1815.4,157.1 1813.7,154.5C1812.0,151.9 1810.4,148.0 1808.8,144.8C1807.2,141.5 1805.6,138.8 1803.9,135.1C1802.2,131.4 1799.5,128.3 1798.7,122.4Z" fill="#fff" filter="url(#sp18)"/>
<path d="M1713.7,103.8C1712.7,100.8 1713.2,91.7 1715.2,88.9C1717.2,86.1 1721.9,87.0 1725.8,87.0C1729.6,87.1 1734.1,88.8 1738.5,89.3C1742.9,89.8 1747.7,89.0 1752.1,90.0C1756.4,91.0 1761.1,95.9 1764.8,95.2C1768.6,94.5 1771.7,87.8 1774.6,85.9C1777.6,84.0 1780.0,83.9 1782.5,83.7C1785.0,83.5 1787.9,78.9 1789.6,84.8C1791.3,90.6 1794.0,111.8 1792.6,118.7C1791.3,125.6 1787.0,125.5 1781.4,126.1C1775.7,126.8 1765.1,124.9 1758.8,122.4C1752.6,119.9 1750.1,113.8 1743.8,111.2C1737.5,108.6 1726.3,108.0 1721.2,106.8C1716.2,105.5 1714.7,106.8 1713.7,103.8Z" fill="#e45a79"/>
<path d="M1713.7,103.8C1712.7,100.8 1713.2,91.7 1715.2,88.9C1717.2,86.1 1721.9,87.0 1725.8,87.0C1729.6,87.1 1734.1,88.8 1738.5,89.3C1742.9,89.8 1747.7,89.0 1752.1,90.0C1756.4,91.0 1761.1,95.9 1764.8,95.2C1768.6,94.5 1771.7,87.8 1774.6,85.9C1777.6,84.0 1780.0,83.9 1782.5,83.7C1785.0,83.5 1787.9,78.9 1789.6,84.8C1791.3,90.6 1794.0,111.8 1792.6,118.7C1791.3,125.6 1787.0,125.5 1781.4,126.1C1775.7,126.8 1765.1,124.9 1758.8,122.4C1752.6,119.9 1750.1,113.8 1743.8,111.2C1737.5,108.6 1726.3,108.0 1721.2,106.8C1716.2,105.5 1714.7,106.8 1713.7,103.8Z" fill="#fff" filter="url(#sp19)"/>
<path d="M1713.7,103.8C1712.7,100.8 1713.2,91.7 1715.2,88.9C1717.2,86.1 1721.9,87.0 1725.8,87.0C1729.6,87.1 1734.1,88.8 1738.5,89.3C1742.9,89.8 1747.7,89.0 1752.1,90.0C1756.4,91.0 1761.1,95.9 1764.8,95.2C1768.6,94.5 1771.7,87.8 1774.6,85.9C1777.6,84.0 1780.0,83.9 1782.5,83.7C1785.0,83.5 1787.9,78.9 1789.6,84.8C1791.3,90.6 1794.0,111.8 1792.6,118.7C1791.3,125.6 1787.0,125.5 1781.4,126.1C1775.7,126.8 1765.1,124.9 1758.8,122.4C1752.6,119.9 1750.1,113.8 1743.8,111.2C1737.5,108.6 1726.3,108.0 1721.2,106.8C1716.2,105.5 1714.7,106.8 1713.7,103.8Z" fill="#fff" filter="url(#sp20)"/>
<path d="M1601.0,178.3C1613.5,154.1 1647.3,181.9 1668.6,182.0C1689.9,182.2 1717.2,172.2 1728.8,179.1C1740.3,185.9 1736.6,209.5 1738.2,223.0C1739.7,236.6 1740.3,251.0 1738.2,260.3C1736.0,269.6 1733.8,271.1 1725.0,278.9C1716.2,286.7 1694.9,298.8 1685.5,306.9C1676.1,314.9 1684.0,323.9 1668.6,327.3C1653.3,330.8 1604.7,352.2 1593.5,327.3C1582.2,302.5 1588.5,202.5 1601.0,178.3Z" fill="#e45a79" filter="url(#bl4)"/>
<path d="M1601.0,178.3C1613.5,154.1 1647.3,181.9 1668.6,182.0C1689.9,182.2 1717.2,172.2 1728.8,179.1C1740.3,185.9 1736.6,209.5 1738.2,223.0C1739.7,236.6 1740.3,251.0 1738.2,260.3C1736.0,269.6 1733.8,271.1 1725.0,278.9C1716.2,286.7 1694.9,298.8 1685.5,306.9C1676.1,314.9 1684.0,323.9 1668.6,327.3C1653.3,330.8 1604.7,352.2 1593.5,327.3C1582.2,302.5 1588.5,202.5 1601.0,178.3Z" fill="#fff" filter="url(#sp21)"/>
<path d="M1601.0,178.3C1613.5,154.1 1647.3,181.9 1668.6,182.0C1689.9,182.2 1717.2,172.2 1728.8,179.1C1740.3,185.9 1736.6,209.5 1738.2,223.0C1739.7,236.6 1740.3,251.0 1738.2,260.3C1736.0,269.6 1733.8,271.1 1725.0,278.9C1716.2,286.7 1694.9,298.8 1685.5,306.9C1676.1,314.9 1684.0,323.9 1668.6,327.3C1653.3,330.8 1604.7,352.2 1593.5,327.3C1582.2,302.5 1588.5,202.5 1601.0,178.3Z" fill="#fff" filter="url(#sp22)"/>
<path d="M1685.5,306.9C1689.9,298.2 1699.6,282.3 1706.2,275.2C1712.8,268.0 1715.6,265.9 1725.0,264.0C1734.4,262.1 1749.4,262.1 1762.6,264.0C1775.7,265.9 1794.5,270.2 1803.9,275.2C1813.3,280.2 1819.0,285.1 1819.0,293.8C1819.0,302.5 1816.4,318.0 1803.9,327.3C1791.4,336.7 1764.5,349.7 1743.8,349.7C1723.1,349.7 1689.6,334.5 1679.9,327.3C1670.2,320.2 1681.2,315.5 1685.5,306.9Z" fill="#e45a79" filter="url(#bl4)"/>
<path d="M1685.5,306.9C1689.9,298.2 1699.6,282.3 1706.2,275.2C1712.8,268.0 1715.6,265.9 1725.0,264.0C1734.4,262.1 1749.4,262.1 1762.6,264.0C1775.7,265.9 1794.5,270.2 1803.9,275.2C1813.3,280.2 1819.0,285.1 1819.0,293.8C1819.0,302.5 1816.4,318.0 1803.9,327.3C1791.4,336.7 1764.5,349.7 1743.8,349.7C1723.1,349.7 1689.6,334.5 1679.9,327.3C1670.2,320.2 1681.2,315.5 1685.5,306.9Z" fill="#fff" filter="url(#sp23)"/>
<path d="M1685.5,306.9C1689.9,298.2 1699.6,282.3 1706.2,275.2C1712.8,268.0 1715.6,265.9 1725.0,264.0C1734.4,262.1 1749.4,262.1 1762.6,264.0C1775.7,265.9 1794.5,270.2 1803.9,275.2C1813.3,280.2 1819.0,285.1 1819.0,293.8C1819.0,302.5 1816.4,318.0 1803.9,327.3C1791.4,336.7 1764.5,349.7 1743.8,349.7C1723.1,349.7 1689.6,334.5 1679.9,327.3C1670.2,320.2 1681.2,315.5 1685.5,306.9Z" fill="#fff" filter="url(#sp24)"/>
<path d="M1658.1,153.0C1658.4,146.1 1659.5,143.3 1661.9,137.3C1664.2,131.3 1667.5,122.4 1672.4,116.8C1677.3,111.2 1683.7,106.6 1691.2,103.8C1698.7,101.0 1709.2,99.8 1717.5,100.1C1725.8,100.4 1734.6,102.4 1740.8,105.7C1746.9,108.9 1751.2,114.0 1754.3,119.4C1757.4,124.8 1758.8,131.4 1759.6,138.1C1760.3,144.8 1759.4,153.1 1758.8,159.7C1758.2,166.3 1758.4,172.8 1755.8,177.6C1753.2,182.3 1748.8,185.6 1743.0,188.0C1737.3,190.4 1729.8,191.0 1721.2,191.7C1712.7,192.5 1700.4,192.8 1691.9,192.5C1683.5,192.1 1675.8,191.8 1670.5,189.5C1665.2,187.1 1662.4,184.4 1660.4,178.3C1658.3,172.2 1657.9,159.8 1658.1,153.0Z" fill="#6e9fd2" filter="url(#bl4)"/>
<path d="M1658.1,153.0C1658.4,146.1 1659.5,143.3 1661.9,137.3C1664.2,131.3 1667.5,122.4 1672.4,116.8C1677.3,111.2 1683.7,106.6 1691.2,103.8C1698.7,101.0 1709.2,99.8 1717.5,100.1C1725.8,100.4 1734.6,102.4 1740.8,105.7C1746.9,108.9 1751.2,114.0 1754.3,119.4C1757.4,124.8 1758.8,131.4 1759.6,138.1C1760.3,144.8 1759.4,153.1 1758.8,159.7C1758.2,166.3 1758.4,172.8 1755.8,177.6C1753.2,182.3 1748.8,185.6 1743.0,188.0C1737.3,190.4 1729.8,191.0 1721.2,191.7C1712.7,192.5 1700.4,192.8 1691.9,192.5C1683.5,192.1 1675.8,191.8 1670.5,189.5C1665.2,187.1 1662.4,184.4 1660.4,178.3C1658.3,172.2 1657.9,159.8 1658.1,153.0Z" fill="#fff" filter="url(#sp25)"/>
<path d="M1658.1,153.0C1658.4,146.1 1659.5,143.3 1661.9,137.3C1664.2,131.3 1667.5,122.4 1672.4,116.8C1677.3,111.2 1683.7,106.6 1691.2,103.8C1698.7,101.0 1709.2,99.8 1717.5,100.1C1725.8,100.4 1734.6,102.4 1740.8,105.7C1746.9,108.9 1751.2,114.0 1754.3,119.4C1757.4,124.8 1758.8,131.4 1759.6,138.1C1760.3,144.8 1759.4,153.1 1758.8,159.7C1758.2,166.3 1758.4,172.8 1755.8,177.6C1753.2,182.3 1748.8,185.6 1743.0,188.0C1737.3,190.4 1729.8,191.0 1721.2,191.7C1712.7,192.5 1700.4,192.8 1691.9,192.5C1683.5,192.1 1675.8,191.8 1670.5,189.5C1665.2,187.1 1662.4,184.4 1660.4,178.3C1658.3,172.2 1657.9,159.8 1658.1,153.0Z" fill="#fff" filter="url(#sp26)"/>
<path d="M1719.4,185.0C1726.1,178.2 1748.5,174.3 1758.8,174.6C1769.2,174.8 1773.9,180.9 1781.4,186.5C1788.9,192.1 1798.2,199.5 1803.9,208.1C1809.7,216.7 1814.2,228.0 1815.9,237.9C1817.7,247.9 1817.4,260.2 1814.4,267.7C1811.5,275.3 1805.7,281.0 1798.3,283.4C1790.9,285.7 1779.2,282.9 1770.1,281.9C1761.0,280.9 1751.2,278.8 1743.8,277.4C1736.4,276.1 1729.5,277.8 1725.8,273.7C1722.0,269.6 1722.5,262.5 1721.2,252.8C1720.0,243.1 1718.5,226.9 1718.2,215.6C1717.9,204.3 1712.6,191.8 1719.4,185.0Z" fill="#6e9fd2" filter="url(#bl4)"/>
<path d="M1719.4,185.0C1726.1,178.2 1748.5,174.3 1758.8,174.6C1769.2,174.8 1773.9,180.9 1781.4,186.5C1788.9,192.1 1798.2,199.5 1803.9,208.1C1809.7,216.7 1814.2,228.0 1815.9,237.9C1817.7,247.9 1817.4,260.2 1814.4,267.7C1811.5,275.3 1805.7,281.0 1798.3,283.4C1790.9,285.7 1779.2,282.9 1770.1,281.9C1761.0,280.9 1751.2,278.8 1743.8,277.4C1736.4,276.1 1729.5,277.8 1725.8,273.7C1722.0,269.6 1722.5,262.5 1721.2,252.8C1720.0,243.1 1718.5,226.9 1718.2,215.6C1717.9,204.3 1712.6,191.8 1719.4,185.0Z" fill="#fff" filter="url(#sp27)"/>
<path d="M1719.4,185.0C1726.1,178.2 1748.5,174.3 1758.8,174.6C1769.2,174.8 1773.9,180.9 1781.4,186.5C1788.9,192.1 1798.2,199.5 1803.9,208.1C1809.7,216.7 1814.2,228.0 1815.9,237.9C1817.7,247.9 1817.4,260.2 1814.4,267.7C1811.5,275.3 1805.7,281.0 1798.3,283.4C1790.9,285.7 1779.2,282.9 1770.1,281.9C1761.0,280.9 1751.2,278.8 1743.8,277.4C1736.4,276.1 1729.5,277.8 1725.8,273.7C1722.0,269.6 1722.5,262.5 1721.2,252.8C1720.0,243.1 1718.5,226.9 1718.2,215.6C1717.9,204.3 1712.6,191.8 1719.4,185.0Z" fill="#fff" filter="url(#sp28)"/>
<path d="M1809.9,223.0C1810.4,225.6 1813.3,226.6 1815.2,229.0C1817.1,231.3 1819.7,234.2 1821.6,237.2C1823.5,240.2 1825.3,244.1 1826.5,246.9C1827.6,249.6 1828.7,250.7 1828.3,253.6C1828.0,256.5 1824.7,260.7 1824.6,264.4C1824.5,268.1 1826.2,273.0 1827.6,275.9C1829.0,278.8 1830.7,281.3 1833.2,281.9C1835.8,282.5 1839.7,280.6 1843.0,279.7C1846.3,278.7 1848.7,276.9 1852.8,275.9C1856.8,274.9 1864.2,275.3 1867.4,273.7C1870.7,272.1 1870.1,269.1 1872.3,266.2C1874.6,263.4 1879.5,260.1 1881.0,256.6C1882.5,253.0 1881.0,249.4 1881.3,245.0C1881.6,240.7 1881.9,235.1 1882.8,230.5C1883.8,225.9 1886.8,222.1 1887.0,217.4C1887.1,212.8 1884.4,207.2 1883.6,202.5C1882.8,197.9 1883.0,193.5 1882.1,189.5C1881.2,185.5 1879.1,181.4 1878.3,178.3C1877.5,175.3 1879.0,173.6 1877.2,171.2C1875.4,168.9 1869.7,166.6 1867.8,164.2C1865.9,161.7 1866.4,159.2 1865.9,156.7C1865.4,154.2 1865.7,150.6 1864.8,148.9C1863.9,147.2 1862.7,146.4 1860.7,146.6C1858.7,146.9 1855.7,149.9 1852.8,150.4C1849.8,150.8 1845.0,148.3 1843.0,149.2C1841.0,150.2 1841.9,153.0 1840.7,156.0C1839.6,158.9 1837.6,163.4 1835.9,167.1C1834.1,170.9 1832.3,174.6 1830.2,178.3C1828.2,182.0 1825.6,185.5 1823.5,189.5C1821.3,193.5 1819.3,198.5 1817.4,202.5C1815.6,206.6 1813.4,210.3 1812.2,213.7C1810.9,217.1 1809.4,220.5 1809.9,223.0Z" fill="#fff" filter="url(#sp29)"/>
<path d="M1798.7,122.4C1797.8,116.6 1798.2,106.6 1798.7,100.1C1799.1,93.5 1799.7,87.1 1801.3,83.3C1802.9,79.4 1806.2,78.9 1808.4,77.0C1810.7,75.0 1812.9,71.9 1814.8,71.4C1816.8,70.8 1818.5,72.4 1820.1,73.6C1821.7,74.9 1822.4,77.3 1824.6,78.8C1826.8,80.3 1830.2,81.2 1833.2,82.6C1836.3,83.9 1840.6,85.5 1843.0,87.0C1845.4,88.6 1846.9,89.7 1847.9,91.9C1848.9,94.0 1849.0,95.3 1849.0,100.1C1849.0,104.8 1847.9,115.0 1847.9,120.6C1847.9,126.1 1849.1,129.8 1849.0,133.6C1848.9,137.4 1848.1,140.7 1847.1,143.3C1846.1,145.9 1844.8,147.3 1843.0,149.2C1841.2,151.2 1838.7,153.0 1836.2,154.8C1833.8,156.7 1831.2,159.5 1828.3,160.4C1825.5,161.4 1821.4,161.4 1819.0,160.4C1816.5,159.4 1815.4,157.1 1813.7,154.5C1812.0,151.9 1810.4,148.0 1808.8,144.8C1807.2,141.5 1805.6,138.8 1803.9,135.1C1802.2,131.4 1799.5,128.3 1798.7,122.4Z" fill="#fff" filter="url(#sp30)"/>
<path d="M1713.7,103.8C1712.7,100.8 1713.2,91.7 1715.2,88.9C1717.2,86.1 1721.9,87.0 1725.8,87.0C1729.6,87.1 1734.1,88.8 1738.5,89.3C1742.9,89.8 1747.7,89.0 1752.1,90.0C1756.4,91.0 1761.1,95.9 1764.8,95.2C1768.6,94.5 1771.7,87.8 1774.6,85.9C1777.6,84.0 1780.0,83.9 1782.5,83.7C1785.0,83.5 1787.9,78.9 1789.6,84.8C1791.3,90.6 1794.0,111.8 1792.6,118.7C1791.3,125.6 1787.0,125.5 1781.4,126.1C1775.7,126.8 1765.1,124.9 1758.8,122.4C1752.6,119.9 1750.1,113.8 1743.8,111.2C1737.5,108.6 1726.3,108.0 1721.2,106.8C1716.2,105.5 1714.7,106.8 1713.7,103.8Z" fill="#fff" filter="url(#sp31)"/>
</g>
<path d="M1716.0,100.4C1716.5,98.3 1715.0,94.7 1715.2,92.6C1715.5,90.5 1715.7,88.7 1717.5,87.8C1719.2,86.8 1723.4,87.0 1725.8,87.0C1728.1,87.1 1729.6,87.8 1731.8,88.1C1733.9,88.5 1736.1,89.1 1738.5,89.3C1741.0,89.4 1744.2,89.1 1746.4,89.3C1748.7,89.4 1750.3,89.3 1752.1,90.0C1753.8,90.7 1754.8,92.9 1756.9,93.7C1759.1,94.6 1762.6,95.5 1764.8,95.2C1767.0,94.9 1768.5,93.4 1770.1,91.9C1771.7,90.3 1772.5,87.3 1774.6,85.9C1776.7,84.5 1780.0,83.9 1782.5,83.7C1785.0,83.5 1788.1,83.3 1789.6,84.8C1791.1,86.3 1791.1,88.8 1791.5,92.6C1791.9,96.4 1791.7,102.9 1791.9,107.5C1792.1,112.2 1792.1,117.9 1792.6,120.6C1793.1,123.2 1794.0,123.6 1794.9,123.2C1795.8,122.7 1797.7,121.8 1798.3,117.9C1798.9,114.1 1798.2,105.8 1798.7,100.1C1799.2,94.3 1799.7,87.1 1801.3,83.3C1802.9,79.4 1806.2,78.9 1808.4,77.0C1810.7,75.0 1812.9,71.9 1814.8,71.4C1816.8,70.8 1818.5,72.4 1820.1,73.6C1821.7,74.9 1822.4,77.3 1824.6,78.8C1826.8,80.3 1830.2,81.2 1833.2,82.6C1836.3,83.9 1840.6,85.5 1843.0,87.0C1845.4,88.6 1846.9,89.7 1847.9,91.9C1848.9,94.0 1849.0,95.3 1849.0,100.1C1849.0,104.8 1847.9,115.0 1847.9,120.6C1847.9,126.1 1849.1,129.8 1849.0,133.6C1848.9,137.4 1848.1,140.7 1847.1,143.3C1846.1,145.9 1842.1,148.1 1843.0,149.2C1843.9,150.4 1849.8,150.8 1852.8,150.4C1855.7,149.9 1858.7,146.9 1860.7,146.6C1862.7,146.4 1863.9,147.2 1864.8,148.9C1865.7,150.6 1865.4,154.2 1865.9,156.7C1866.4,159.2 1865.9,161.7 1867.8,164.2C1869.7,166.6 1875.4,168.9 1877.2,171.2C1879.0,173.6 1877.5,175.3 1878.3,178.3C1879.1,181.4 1881.2,185.5 1882.1,189.5C1883.0,193.5 1882.8,197.9 1883.6,202.5C1884.4,207.2 1887.1,212.8 1887.0,217.4C1886.8,222.1 1883.8,225.9 1882.8,230.5C1881.9,235.1 1881.6,240.7 1881.3,245.0C1881.0,249.4 1882.5,253.0 1881.0,256.6C1879.5,260.1 1874.6,263.4 1872.3,266.2C1870.1,269.1 1870.7,272.1 1867.4,273.7C1864.2,275.3 1856.8,274.9 1852.8,275.9C1848.7,276.9 1846.3,278.7 1843.0,279.7C1839.7,280.6 1835.8,282.5 1833.2,281.9C1830.7,281.3 1829.0,278.8 1827.6,275.9C1826.2,273.0 1824.5,268.1 1824.6,264.4C1824.7,260.7 1828.0,256.5 1828.3,253.6C1828.7,250.7 1827.6,249.6 1826.5,246.9C1825.3,244.1 1823.5,240.2 1821.6,237.2C1819.7,234.2 1817.1,231.1 1815.2,229.0C1813.3,226.9 1810.9,224.8 1809.9,224.5C1808.9,224.3 1808.9,225.6 1809.2,227.5C1809.5,229.4 1811.3,232.8 1811.8,236.1C1812.3,239.3 1812.2,243.1 1812.2,246.9C1812.2,250.6 1812.4,254.9 1811.8,258.4C1811.2,262.0 1810.1,265.5 1808.8,268.1C1807.5,270.7 1806.0,272.0 1803.9,274.1C1801.8,276.2 1798.8,279.2 1796.0,280.8C1793.3,282.4 1789.3,282.9 1787.4,283.8C1785.4,284.6 1783.6,284.8 1784.4,285.6C1785.2,286.4 1789.0,288.0 1792.3,288.6C1795.5,289.2 1800.7,288.8 1803.9,289.3C1807.2,289.8 1811.3,290.3 1811.8,291.6C1812.3,292.9 1808.9,295.7 1806.9,297.2C1805.0,298.6 1802.6,300.3 1800.2,300.1C1797.7,300.0 1794.9,297.0 1792.3,296.4C1789.6,295.8 1786.3,295.6 1784.4,296.4C1782.4,297.2 1780.4,299.7 1780.6,301.3C1780.8,302.9 1785.1,304.2 1785.5,306.1C1785.9,308.0 1784.8,310.6 1783.3,312.8C1781.7,315.1 1778.6,318.2 1776.5,319.5C1774.4,320.8 1773.1,320.8 1770.8,320.6C1768.6,320.5 1765.6,318.9 1763.0,318.8C1760.3,318.7 1757.4,319.5 1755.1,319.9C1752.7,320.3 1749.6,319.8 1749.1,321.0C1748.6,322.3 1750.9,325.5 1752.1,327.3C1753.2,329.2 1756.8,330.4 1756.2,332.2C1755.6,334.0 1751.2,336.4 1748.3,338.2C1745.4,340.0 1741.8,342.9 1738.5,343.0C1735.3,343.1 1732.2,340.2 1728.8,338.9C1725.3,337.6 1721.0,337.1 1717.9,335.2C1714.7,333.2 1711.9,329.1 1710.0,327.3C1708.0,325.6 1708.2,326.5 1706.2,324.7C1704.3,323.0 1700.8,319.0 1698.3,316.9C1695.8,314.9 1693.2,313.8 1691.2,312.4C1689.1,311.1 1688.4,309.9 1685.9,308.7C1683.5,307.5 1679.5,306.8 1676.5,305.4C1673.5,303.9 1671.0,301.9 1667.9,300.1C1664.7,298.3 1661.0,296.0 1657.7,294.6C1654.5,293.1 1651.8,292.9 1648.3,291.6C1644.8,290.3 1639.9,288.3 1636.7,286.7C1633.4,285.2 1631.7,283.9 1628.8,282.3C1625.9,280.6 1621.9,278.9 1619.4,276.7C1616.9,274.4 1615.3,271.5 1613.8,268.9C1612.2,266.2 1611.1,263.3 1610.0,260.7C1608.9,258.0 1607.9,255.9 1607.4,252.8C1606.9,249.7 1606.8,245.4 1607.0,242.0C1607.2,238.7 1607.8,236.1 1608.5,232.7C1609.3,229.3 1610.4,224.4 1611.5,221.5C1612.6,218.7 1613.7,217.5 1615.3,215.6C1616.8,213.6 1618.9,211.8 1620.9,210.0C1622.9,208.2 1624.9,206.4 1627.3,204.8C1629.7,203.1 1633.1,201.6 1635.6,199.9C1638.0,198.2 1640.5,196.9 1641.9,194.7C1643.4,192.5 1643.5,189.4 1644.2,186.9C1645.0,184.4 1646.5,182.2 1646.5,179.8C1646.5,177.4 1645.0,175.3 1644.2,172.7C1643.5,170.1 1641.3,167.3 1641.9,164.2C1642.6,161.0 1646.4,157.3 1648.3,154.1C1650.3,150.9 1652.0,147.1 1653.6,144.8C1655.2,142.5 1655.8,142.4 1657.7,140.3C1659.7,138.3 1663.2,135.2 1665.2,132.5C1667.3,129.7 1668.7,126.4 1670.1,123.9C1671.6,121.4 1671.7,119.6 1673.9,117.6C1676.1,115.5 1680.4,113.0 1683.3,111.6C1686.2,110.2 1688.2,109.8 1691.2,109.0C1694.2,108.2 1697.8,107.4 1701.3,106.8C1704.8,106.1 1709.8,106.3 1712.2,105.3C1714.7,104.2 1715.5,102.5 1716.0,100.4Z" fill="none" stroke="#4a4a4a" stroke-width="1"/>
<circle cx="1917.6" cy="98.3" r="9.5" fill="#e45a79"/>
<text transform="translate(1941.0,111.3) scale(1,1.07)" font-size="30">2%</text>
<circle cx="1917.6" cy="140.7" r="9.5" fill="#bdbdbd"/>
<text transform="translate(1941.0,151.7) scale(1,1.07)" font-size="30">5%</text>
<circle cx="1917.6" cy="183.1" r="9.5" fill="#6e9fd2"/>
<text transform="translate(1941.0,194.8) scale(1,1.07)" font-size="30">21%</text>
<text transform="translate(1590.0,50.0)" font-size="68">c</text>
<defs>
<clipPath id="clipD"><path d="M960.3,496.3C960.7,494.2 959.3,490.6 959.5,488.5C959.8,486.4 960.0,484.6 961.7,483.7C963.4,482.8 967.5,482.9 969.8,483.0C972.1,483.0 973.6,483.7 975.6,484.1C977.7,484.4 979.9,485.0 982.2,485.2C984.6,485.4 987.7,485.1 989.9,485.2C992.1,485.3 993.7,485.2 995.4,485.9C997.1,486.7 998.1,488.8 1000.2,489.6C1002.3,490.5 1005.8,491.4 1007.9,491.1C1010.0,490.8 1011.4,489.3 1013.0,487.8C1014.6,486.2 1015.4,483.2 1017.4,481.8C1019.4,480.5 1022.7,479.8 1025.1,479.6C1027.6,479.4 1030.6,479.2 1032.1,480.7C1033.5,482.2 1033.5,484.7 1033.9,488.5C1034.3,492.3 1034.1,498.7 1034.3,503.4C1034.5,508.0 1034.5,513.7 1035.0,516.3C1035.5,518.9 1036.3,519.4 1037.2,518.9C1038.1,518.5 1039.9,517.6 1040.5,513.7C1041.1,509.9 1040.4,501.7 1040.9,495.9C1041.4,490.2 1041.8,483.1 1043.4,479.2C1045.0,475.4 1048.2,474.9 1050.4,472.9C1052.6,471.0 1054.7,467.9 1056.6,467.4C1058.5,466.8 1060.2,468.4 1061.7,469.6C1063.3,470.8 1064.0,473.3 1066.1,474.8C1068.3,476.3 1071.6,477.1 1074.6,478.5C1077.6,479.9 1081.7,481.4 1084.1,483.0C1086.5,484.5 1087.9,485.6 1088.9,487.8C1089.8,489.9 1090.0,491.2 1090.0,495.9C1090.0,500.7 1088.9,510.8 1088.9,516.3C1088.9,521.9 1090.1,525.6 1090.0,529.3C1089.8,533.1 1089.1,536.4 1088.1,539.0C1087.2,541.6 1083.2,543.7 1084.1,544.9C1085.0,546.1 1090.8,546.5 1093.6,546.0C1096.5,545.6 1099.4,542.6 1101.3,542.3C1103.3,542.1 1104.5,542.9 1105.4,544.5C1106.2,546.2 1106.0,549.8 1106.4,552.3C1106.9,554.9 1106.4,557.3 1108.3,559.8C1110.1,562.2 1115.7,564.4 1117.4,566.8C1119.2,569.1 1117.7,570.8 1118.5,573.8C1119.3,576.9 1121.3,581.0 1122.2,585.0C1123.1,589.0 1122.9,593.3 1123.7,598.0C1124.5,602.6 1127.1,608.2 1127.0,612.8C1126.8,617.4 1123.9,621.2 1122.9,625.8C1122.0,630.4 1121.8,635.9 1121.5,640.3C1121.2,644.6 1122.6,648.2 1121.1,651.8C1119.6,655.3 1114.9,658.6 1112.7,661.4C1110.5,664.2 1111.1,667.2 1107.9,668.8C1104.7,670.4 1097.6,670.1 1093.6,671.0C1089.7,672.0 1087.3,673.8 1084.1,674.8C1080.9,675.7 1077.1,677.6 1074.6,677.0C1072.1,676.4 1070.5,674.0 1069.1,671.0C1067.7,668.1 1066.0,663.3 1066.1,659.5C1066.3,655.8 1069.5,651.7 1069.8,648.8C1070.1,645.9 1069.1,644.8 1068.0,642.1C1066.9,639.4 1065.0,635.4 1063.2,632.5C1061.4,629.5 1058.9,626.4 1057.0,624.3C1055.1,622.2 1052.8,620.1 1051.9,619.9C1050.9,619.6 1050.8,620.9 1051.1,622.8C1051.4,624.7 1053.2,628.1 1053.7,631.4C1054.2,634.6 1054.1,638.4 1054.1,642.1C1054.1,645.8 1054.2,650.1 1053.7,653.6C1053.1,657.1 1052.0,660.7 1050.8,663.3C1049.5,665.9 1048.1,667.1 1046.0,669.2C1043.9,671.3 1041.0,674.3 1038.3,675.9C1035.6,677.5 1031.8,678.0 1029.9,678.8C1028.0,679.6 1026.1,679.9 1026.9,680.7C1027.7,681.5 1031.5,683.0 1034.6,683.7C1037.8,684.3 1042.8,683.9 1046.0,684.4C1049.2,684.9 1053.2,685.3 1053.7,686.6C1054.2,687.9 1050.8,690.8 1048.9,692.2C1047.0,693.6 1044.7,695.3 1042.3,695.2C1039.9,695.0 1037.2,692.1 1034.6,691.5C1032.1,690.8 1028.8,690.7 1026.9,691.5C1025.0,692.3 1023.1,694.7 1023.3,696.3C1023.5,697.9 1027.6,699.2 1028.0,701.1C1028.5,703.0 1027.3,705.6 1025.8,707.8C1024.4,710.0 1021.3,713.2 1019.2,714.5C1017.2,715.8 1015.9,715.7 1013.8,715.6C1011.6,715.4 1008.6,713.8 1006.1,713.7C1003.5,713.6 1000.6,714.5 998.4,714.8C996.1,715.2 993.0,714.7 992.5,715.9C992.0,717.2 994.3,720.4 995.4,722.2C996.6,724.1 1000.1,725.3 999.5,727.1C998.9,728.9 994.6,731.2 991.8,733.0C988.9,734.8 985.4,737.7 982.2,737.8C979.1,738.0 976.1,735.0 972.7,733.7C969.4,732.5 965.1,732.0 962.1,730.0C959.0,728.1 956.3,724.0 954.4,722.2C952.5,720.5 952.6,721.4 950.7,719.7C948.8,717.9 945.5,713.9 943.0,711.9C940.6,709.8 938.1,708.8 936.1,707.4C934.1,706.0 933.3,704.9 930.9,703.7C928.6,702.5 924.7,701.8 921.8,700.4C918.9,698.9 916.4,697.0 913.4,695.2C910.3,693.4 906.6,691.0 903.5,689.6C900.3,688.2 897.7,687.9 894.3,686.6C890.9,685.3 886.1,683.4 882.9,681.8C879.8,680.3 878.1,679.0 875.3,677.4C872.4,675.7 868.5,674.0 866.1,671.8C863.6,669.6 862.1,666.7 860.6,664.0C859.1,661.3 858.0,658.5 856.9,655.8C855.9,653.2 854.9,651.1 854.4,648.0C853.9,645.0 853.8,640.6 854.0,637.3C854.2,634.0 854.7,631.4 855.5,628.0C856.2,624.6 857.3,619.7 858.4,616.9C859.5,614.0 860.5,612.9 862.1,610.9C863.6,609.0 865.6,607.2 867.6,605.4C869.5,603.6 871.4,601.9 873.8,600.2C876.2,598.5 879.5,597.0 881.8,595.4C884.2,593.7 886.7,592.3 888.1,590.2C889.5,588.0 889.5,584.9 890.3,582.4C891.0,579.9 892.5,577.7 892.5,575.3C892.5,573.0 891.0,570.9 890.3,568.3C889.5,565.7 887.4,562.8 888.1,559.8C888.7,556.7 892.4,552.9 894.3,549.7C896.2,546.5 897.9,542.7 899.4,540.5C901.0,538.2 901.6,538.0 903.5,536.0C905.4,534.0 908.8,530.9 910.8,528.2C912.8,525.5 914.2,522.2 915.6,519.7C917.0,517.2 917.1,515.4 919.2,513.4C921.4,511.3 925.6,508.9 928.4,507.4C931.2,506.0 933.1,505.6 936.1,504.8C939.0,504.0 942.5,503.2 946.0,502.6C949.4,502.0 954.2,502.2 956.6,501.1C959.0,500.1 959.8,498.4 960.3,496.3Z"/></clipPath>
<linearGradient id="cbG" x1="0" y1="1" x2="0" y2="0"><stop offset="0" stop-color="#fbfdfb"/><stop offset="0.5" stop-color="#b4e0b0"/><stop offset="0.8" stop-color="#4aa85a"/><stop offset="1" stop-color="#1f6a30"/></linearGradient>
<linearGradient id="cbB" x1="0" y1="1" x2="0" y2="0"><stop offset="0" stop-color="#f7fbff"/><stop offset="0.5" stop-color="#a8cde6"/><stop offset="0.8" stop-color="#4f8fc6"/><stop offset="1" stop-color="#21457f"/></linearGradient>
<linearGradient id="cbR" x1="0" y1="1" x2="0" y2="0"><stop offset="0" stop-color="#f7efe8"/><stop offset="0.45" stop-color="#eea58c"/><stop offset="0.75" stop-color="#e05858"/><stop offset="1" stop-color="#93384c"/></linearGradient>
</defs>
<g clip-path="url(#clipD)">
<path d="M960.3,496.3C960.7,494.2 959.3,490.6 959.5,488.5C959.8,486.4 960.0,484.6 961.7,483.7C963.4,482.8 967.5,482.9 969.8,483.0C972.1,483.0 973.6,483.7 975.6,484.1C977.7,484.4 979.9,485.0 982.2,485.2C984.6,485.4 987.7,485.1 989.9,485.2C992.1,485.3 993.7,485.2 995.4,485.9C997.1,486.7 998.1,488.8 1000.2,489.6C1002.3,490.5 1005.8,491.4 1007.9,491.1C1010.0,490.8 1011.4,489.3 1013.0,487.8C1014.6,486.2 1015.4,483.2 1017.4,481.8C1019.4,480.5 1022.7,479.8 1025.1,479.6C1027.6,479.4 1030.6,479.2 1032.1,480.7C1033.5,482.2 1033.5,484.7 1033.9,488.5C1034.3,492.3 1034.1,498.7 1034.3,503.4C1034.5,508.0 1034.5,513.7 1035.0,516.3C1035.5,518.9 1036.3,519.4 1037.2,518.9C1038.1,518.5 1039.9,517.6 1040.5,513.7C1041.1,509.9 1040.4,501.7 1040.9,495.9C1041.4,490.2 1041.8,483.1 1043.4,479.2C1045.0,475.4 1048.2,474.9 1050.4,472.9C1052.6,471.0 1054.7,467.9 1056.6,467.4C1058.5,466.8 1060.2,468.4 1061.7,469.6C1063.3,470.8 1064.0,473.3 1066.1,474.8C1068.3,476.3 1071.6,477.1 1074.6,478.5C1077.6,479.9 1081.7,481.4 1084.1,483.0C1086.5,484.5 1087.9,485.6 1088.9,487.8C1089.8,489.9 1090.0,491.2 1090.0,495.9C1090.0,500.7 1088.9,510.8 1088.9,516.3C1088.9,521.9 1090.1,525.6 1090.0,529.3C1089.8,533.1 1089.1,536.4 1088.1,539.0C1087.2,541.6 1083.2,543.7 1084.1,544.9C1085.0,546.1 1090.8,546.5 1093.6,546.0C1096.5,545.6 1099.4,542.6 1101.3,542.3C1103.3,542.1 1104.5,542.9 1105.4,544.5C1106.2,546.2 1106.0,549.8 1106.4,552.3C1106.9,554.9 1106.4,557.3 1108.3,559.8C1110.1,562.2 1115.7,564.4 1117.4,566.8C1119.2,569.1 1117.7,570.8 1118.5,573.8C1119.3,576.9 1121.3,581.0 1122.2,585.0C1123.1,589.0 1122.9,593.3 1123.7,598.0C1124.5,602.6 1127.1,608.2 1127.0,612.8C1126.8,617.4 1123.9,621.2 1122.9,625.8C1122.0,630.4 1121.8,635.9 1121.5,640.3C1121.2,644.6 1122.6,648.2 1121.1,651.8C1119.6,655.3 1114.9,658.6 1112.7,661.4C1110.5,664.2 1111.1,667.2 1107.9,668.8C1104.7,670.4 1097.6,670.1 1093.6,671.0C1089.7,672.0 1087.3,673.8 1084.1,674.8C1080.9,675.7 1077.1,677.6 1074.6,677.0C1072.1,676.4 1070.5,674.0 1069.1,671.0C1067.7,668.1 1066.0,663.3 1066.1,659.5C1066.3,655.8 1069.5,651.7 1069.8,648.8C1070.1,645.9 1069.1,644.8 1068.0,642.1C1066.9,639.4 1065.0,635.4 1063.2,632.5C1061.4,629.5 1058.9,626.4 1057.0,624.3C1055.1,622.2 1052.8,620.1 1051.9,619.9C1050.9,619.6 1050.8,620.9 1051.1,622.8C1051.4,624.7 1053.2,628.1 1053.7,631.4C1054.2,634.6 1054.1,638.4 1054.1,642.1C1054.1,645.8 1054.2,650.1 1053.7,653.6C1053.1,657.1 1052.0,660.7 1050.8,663.3C1049.5,665.9 1048.1,667.1 1046.0,669.2C1043.9,671.3 1041.0,674.3 1038.3,675.9C1035.6,677.5 1031.8,678.0 1029.9,678.8C1028.0,679.6 1026.1,679.9 1026.9,680.7C1027.7,681.5 1031.5,683.0 1034.6,683.7C1037.8,684.3 1042.8,683.9 1046.0,684.4C1049.2,684.9 1053.2,685.3 1053.7,686.6C1054.2,687.9 1050.8,690.8 1048.9,692.2C1047.0,693.6 1044.7,695.3 1042.3,695.2C1039.9,695.0 1037.2,692.1 1034.6,691.5C1032.1,690.8 1028.8,690.7 1026.9,691.5C1025.0,692.3 1023.1,694.7 1023.3,696.3C1023.5,697.9 1027.6,699.2 1028.0,701.1C1028.5,703.0 1027.3,705.6 1025.8,707.8C1024.4,710.0 1021.3,713.2 1019.2,714.5C1017.2,715.8 1015.9,715.7 1013.8,715.6C1011.6,715.4 1008.6,713.8 1006.1,713.7C1003.5,713.6 1000.6,714.5 998.4,714.8C996.1,715.2 993.0,714.7 992.5,715.9C992.0,717.2 994.3,720.4 995.4,722.2C996.6,724.1 1000.1,725.3 999.5,727.1C998.9,728.9 994.6,731.2 991.8,733.0C988.9,734.8 985.4,737.7 982.2,737.8C979.1,738.0 976.1,735.0 972.7,733.7C969.4,732.5 965.1,732.0 962.1,730.0C959.0,728.1 956.3,724.0 954.4,722.2C952.5,720.5 952.6,721.4 950.7,719.7C948.8,717.9 945.5,713.9 943.0,711.9C940.6,709.8 938.1,708.8 936.1,707.4C934.1,706.0 933.3,704.9 930.9,703.7C928.6,702.5 924.7,701.8 921.8,700.4C918.9,698.9 916.4,697.0 913.4,695.2C910.3,693.4 906.6,691.0 903.5,689.6C900.3,688.2 897.7,687.9 894.3,686.6C890.9,685.3 886.1,683.4 882.9,681.8C879.8,680.3 878.1,679.0 875.3,677.4C872.4,675.7 868.5,674.0 866.1,671.8C863.6,669.6 862.1,666.7 860.6,664.0C859.1,661.3 858.0,658.5 856.9,655.8C855.9,653.2 854.9,651.1 854.4,648.0C853.9,645.0 853.8,640.6 854.0,637.3C854.2,634.0 854.7,631.4 855.5,628.0C856.2,624.6 857.3,619.7 858.4,616.9C859.5,614.0 860.5,612.9 862.1,610.9C863.6,609.0 865.6,607.2 867.6,605.4C869.5,603.6 871.4,601.9 873.8,600.2C876.2,598.5 879.5,597.0 881.8,595.4C884.2,593.7 886.7,592.3 888.1,590.2C889.5,588.0 889.5,584.9 890.3,582.4C891.0,579.9 892.5,577.7 892.5,575.3C892.5,573.0 891.0,570.9 890.3,568.3C889.5,565.7 887.4,562.8 888.1,559.8C888.7,556.7 892.4,552.9 894.3,549.7C896.2,546.5 897.9,542.7 899.4,540.5C901.0,538.2 901.6,538.0 903.5,536.0C905.4,534.0 908.8,530.9 910.8,528.2C912.8,525.5 914.2,522.2 915.6,519.7C917.0,517.2 917.1,515.4 919.2,513.4C921.4,511.3 925.6,508.9 928.4,507.4C931.2,506.0 933.1,505.6 936.1,504.8C939.0,504.0 942.5,503.2 946.0,502.6C949.4,502.0 954.2,502.2 956.6,501.1C959.0,500.1 959.8,498.4 960.3,496.3Z" fill="#f8f2f0"/>
<path d="M848.1,573.8C860.4,549.7 893.3,577.4 914.1,577.6C934.9,577.7 961.4,567.8 972.7,574.6C984.0,581.4 980.3,604.9 981.9,618.4C983.4,631.8 984.0,646.2 981.9,655.5C979.7,664.7 977.6,666.3 969.0,674.0C960.5,681.7 939.7,693.8 930.6,701.8C921.4,709.9 929.1,718.8 914.1,722.2C899.1,725.6 851.8,747.0 840.8,722.2C829.8,697.5 835.9,598.0 848.1,573.8Z" fill="#fff" filter="url(#sp32)"/>
<path d="M930.6,701.8C934.9,693.2 944.3,677.4 950.7,670.3C957.1,663.2 959.9,661.0 969.0,659.2C978.2,657.3 992.9,657.3 1005.7,659.2C1018.5,661.0 1036.8,665.4 1046.0,670.3C1055.2,675.3 1060.6,680.2 1060.6,688.9C1060.6,697.5 1058.2,713.0 1046.0,722.2C1033.8,731.5 1007.5,744.5 987.4,744.5C967.2,744.5 934.5,729.4 925.1,722.2C915.6,715.1 926.3,710.5 930.6,701.8Z" fill="#fff" filter="url(#sp33)"/>
<ellipse cx="951.0" cy="549.0" rx="52.0" ry="52.0" fill="#fff" filter="url(#sp34)"/>
<ellipse cx="953.0" cy="548.6" rx="41.6" ry="41.6" fill="#fff" filter="url(#sp35)"/>
<ellipse cx="955.0" cy="548.2" rx="31.2" ry="31.2" fill="#fff" filter="url(#sp36)"/>
<ellipse cx="957.0" cy="547.8" rx="20.8" ry="20.8" fill="#fff" filter="url(#sp37)"/>
<ellipse cx="1016.0" cy="536.0" rx="45.0" ry="58.0" fill="#fff" filter="url(#sp38)"/>
<ellipse cx="1016.0" cy="536.0" rx="36.0" ry="46.4" fill="#fff" filter="url(#sp39)"/>
<ellipse cx="1016.0" cy="536.0" rx="27.0" ry="34.8" fill="#fff" filter="url(#sp40)"/>
<ellipse cx="1016.0" cy="536.0" rx="18.0" ry="23.2" fill="#fff" filter="url(#sp41)"/>
<ellipse cx="936.0" cy="647.0" rx="32.0" ry="36.0" fill="#fff" filter="url(#sp42)"/>
<ellipse cx="936.0" cy="647.0" rx="25.6" ry="28.8" fill="#fff" filter="url(#sp43)"/>
<ellipse cx="936.0" cy="647.0" rx="19.2" ry="21.6" fill="#fff" filter="url(#sp44)"/>
<ellipse cx="936.0" cy="647.0" rx="12.8" ry="14.4" fill="#fff" filter="url(#sp45)"/>
<ellipse cx="1005.0" cy="625.0" rx="55.0" ry="55.0" fill="#fff" filter="url(#sp46)"/>
<ellipse cx="1003.0" cy="621.4" rx="44.0" ry="44.0" fill="#fff" filter="url(#sp47)"/>
<ellipse cx="1001.0" cy="617.8" rx="33.0" ry="33.0" fill="#fff" filter="url(#sp48)"/>
<ellipse cx="999.0" cy="614.2" rx="22.0" ry="22.0" fill="#fff" filter="url(#sp49)"/>
<ellipse cx="995" cy="604" rx="14" ry="14" fill="#9b2232" opacity="0.35" filter="url(#bl6)"/>
<path d="M1051.9,618.4C1052.3,620.9 1055.1,622.0 1057.0,624.3C1058.9,626.7 1061.4,629.5 1063.2,632.5C1065.0,635.4 1066.9,639.4 1068.0,642.1C1069.1,644.8 1070.1,645.9 1069.8,648.8C1069.5,651.7 1066.3,655.8 1066.1,659.5C1066.0,663.3 1067.7,668.1 1069.1,671.0C1070.5,674.0 1072.1,676.4 1074.6,677.0C1077.1,677.6 1080.9,675.7 1084.1,674.8C1087.3,673.8 1089.7,672.0 1093.6,671.0C1097.6,670.1 1104.7,670.4 1107.9,668.8C1111.1,667.2 1110.5,664.2 1112.7,661.4C1114.9,658.6 1119.6,655.3 1121.1,651.8C1122.6,648.2 1121.2,644.6 1121.5,640.3C1121.8,635.9 1122.0,630.4 1122.9,625.8C1123.9,621.2 1126.8,617.4 1127.0,612.8C1127.1,608.2 1124.5,602.6 1123.7,598.0C1122.9,593.3 1123.1,589.0 1122.2,585.0C1121.3,581.0 1119.3,576.9 1118.5,573.8C1117.7,570.8 1119.2,569.1 1117.4,566.8C1115.7,564.4 1110.1,562.2 1108.3,559.8C1106.4,557.3 1106.9,554.9 1106.4,552.3C1106.0,549.8 1106.2,546.2 1105.4,544.5C1104.5,542.9 1103.3,542.1 1101.3,542.3C1099.4,542.6 1096.5,545.6 1093.6,546.0C1090.8,546.5 1086.1,544.0 1084.1,544.9C1082.1,545.8 1083.1,548.6 1081.9,551.6C1080.7,554.6 1078.8,559.0 1077.1,562.7C1075.4,566.4 1073.7,570.1 1071.6,573.8C1069.6,577.6 1067.1,581.0 1065.0,585.0C1063.0,589.0 1061.0,593.9 1059.2,598.0C1057.4,602.0 1055.3,605.7 1054.1,609.1C1052.8,612.5 1051.4,615.8 1051.9,618.4Z" fill="#fff" filter="url(#sp50)"/>
<path d="M1040.9,518.2C1040.0,512.4 1040.4,502.4 1040.9,495.9C1041.3,489.4 1041.8,483.1 1043.4,479.2C1045.0,475.4 1048.2,474.9 1050.4,472.9C1052.6,471.0 1054.7,467.9 1056.6,467.4C1058.5,466.8 1060.2,468.4 1061.7,469.6C1063.3,470.8 1064.0,473.3 1066.1,474.8C1068.3,476.3 1071.6,477.1 1074.6,478.5C1077.6,479.9 1081.7,481.4 1084.1,483.0C1086.5,484.5 1087.9,485.6 1088.9,487.8C1089.8,489.9 1090.0,491.2 1090.0,495.9C1090.0,500.7 1088.9,510.8 1088.9,516.3C1088.9,521.9 1090.1,525.6 1090.0,529.3C1089.8,533.1 1089.1,536.4 1088.1,539.0C1087.2,541.6 1085.9,543.0 1084.1,544.9C1082.3,546.8 1079.9,548.6 1077.5,550.5C1075.1,552.3 1072.6,555.1 1069.8,556.0C1067.0,557.0 1063.0,557.0 1060.6,556.0C1058.3,555.1 1057.2,552.7 1055.5,550.1C1053.9,547.5 1052.3,543.7 1050.8,540.5C1049.2,537.2 1047.6,534.5 1046.0,530.8C1044.3,527.1 1041.7,524.0 1040.9,518.2Z" fill="#fff" filter="url(#sp51)"/>
<path d="M958.1,499.6C957.1,496.7 957.6,487.6 959.5,484.8C961.5,482.0 966.0,482.9 969.8,483.0C973.6,483.0 978.0,484.7 982.2,485.2C986.5,485.7 991.2,484.9 995.4,485.9C999.7,486.9 1004.2,491.8 1007.9,491.1C1011.6,490.4 1014.5,483.8 1017.4,481.8C1020.3,479.9 1022.7,479.8 1025.1,479.6C1027.6,479.4 1030.4,474.9 1032.1,480.7C1033.7,486.5 1036.3,507.6 1035.0,514.5C1033.7,521.4 1029.5,521.3 1024.0,521.9C1018.5,522.5 1008.1,520.7 1002.0,518.2C995.9,515.7 993.5,509.7 987.4,507.1C981.3,504.5 970.3,503.9 965.4,502.6C960.5,501.4 959.0,502.6 958.1,499.6Z" fill="#fff" filter="url(#sp52)"/>
</g>
<path d="M960.3,496.3C960.7,494.2 959.3,490.6 959.5,488.5C959.8,486.4 960.0,484.6 961.7,483.7C963.4,482.8 967.5,482.9 969.8,483.0C972.1,483.0 973.6,483.7 975.6,484.1C977.7,484.4 979.9,485.0 982.2,485.2C984.6,485.4 987.7,485.1 989.9,485.2C992.1,485.3 993.7,485.2 995.4,485.9C997.1,486.7 998.1,488.8 1000.2,489.6C1002.3,490.5 1005.8,491.4 1007.9,491.1C1010.0,490.8 1011.4,489.3 1013.0,487.8C1014.6,486.2 1015.4,483.2 1017.4,481.8C1019.4,480.5 1022.7,479.8 1025.1,479.6C1027.6,479.4 1030.6,479.2 1032.1,480.7C1033.5,482.2 1033.5,484.7 1033.9,488.5C1034.3,492.3 1034.1,498.7 1034.3,503.4C1034.5,508.0 1034.5,513.7 1035.0,516.3C1035.5,518.9 1036.3,519.4 1037.2,518.9C1038.1,518.5 1039.9,517.6 1040.5,513.7C1041.1,509.9 1040.4,501.7 1040.9,495.9C1041.4,490.2 1041.8,483.1 1043.4,479.2C1045.0,475.4 1048.2,474.9 1050.4,472.9C1052.6,471.0 1054.7,467.9 1056.6,467.4C1058.5,466.8 1060.2,468.4 1061.7,469.6C1063.3,470.8 1064.0,473.3 1066.1,474.8C1068.3,476.3 1071.6,477.1 1074.6,478.5C1077.6,479.9 1081.7,481.4 1084.1,483.0C1086.5,484.5 1087.9,485.6 1088.9,487.8C1089.8,489.9 1090.0,491.2 1090.0,495.9C1090.0,500.7 1088.9,510.8 1088.9,516.3C1088.9,521.9 1090.1,525.6 1090.0,529.3C1089.8,533.1 1089.1,536.4 1088.1,539.0C1087.2,541.6 1083.2,543.7 1084.1,544.9C1085.0,546.1 1090.8,546.5 1093.6,546.0C1096.5,545.6 1099.4,542.6 1101.3,542.3C1103.3,542.1 1104.5,542.9 1105.4,544.5C1106.2,546.2 1106.0,549.8 1106.4,552.3C1106.9,554.9 1106.4,557.3 1108.3,559.8C1110.1,562.2 1115.7,564.4 1117.4,566.8C1119.2,569.1 1117.7,570.8 1118.5,573.8C1119.3,576.9 1121.3,581.0 1122.2,585.0C1123.1,589.0 1122.9,593.3 1123.7,598.0C1124.5,602.6 1127.1,608.2 1127.0,612.8C1126.8,617.4 1123.9,621.2 1122.9,625.8C1122.0,630.4 1121.8,635.9 1121.5,640.3C1121.2,644.6 1122.6,648.2 1121.1,651.8C1119.6,655.3 1114.9,658.6 1112.7,661.4C1110.5,664.2 1111.1,667.2 1107.9,668.8C1104.7,670.4 1097.6,670.1 1093.6,671.0C1089.7,672.0 1087.3,673.8 1084.1,674.8C1080.9,675.7 1077.1,677.6 1074.6,677.0C1072.1,676.4 1070.5,674.0 1069.1,671.0C1067.7,668.1 1066.0,663.3 1066.1,659.5C1066.3,655.8 1069.5,651.7 1069.8,648.8C1070.1,645.9 1069.1,644.8 1068.0,642.1C1066.9,639.4 1065.0,635.4 1063.2,632.5C1061.4,629.5 1058.9,626.4 1057.0,624.3C1055.1,622.2 1052.8,620.1 1051.9,619.9C1050.9,619.6 1050.8,620.9 1051.1,622.8C1051.4,624.7 1053.2,628.1 1053.7,631.4C1054.2,634.6 1054.1,638.4 1054.1,642.1C1054.1,645.8 1054.2,650.1 1053.7,653.6C1053.1,657.1 1052.0,660.7 1050.8,663.3C1049.5,665.9 1048.1,667.1 1046.0,669.2C1043.9,671.3 1041.0,674.3 1038.3,675.9C1035.6,677.5 1031.8,678.0 1029.9,678.8C1028.0,679.6 1026.1,679.9 1026.9,680.7C1027.7,681.5 1031.5,683.0 1034.6,683.7C1037.8,684.3 1042.8,683.9 1046.0,684.4C1049.2,684.9 1053.2,685.3 1053.7,686.6C1054.2,687.9 1050.8,690.8 1048.9,692.2C1047.0,693.6 1044.7,695.3 1042.3,695.2C1039.9,695.0 1037.2,692.1 1034.6,691.5C1032.1,690.8 1028.8,690.7 1026.9,691.5C1025.0,692.3 1023.1,694.7 1023.3,696.3C1023.5,697.9 1027.6,699.2 1028.0,701.1C1028.5,703.0 1027.3,705.6 1025.8,707.8C1024.4,710.0 1021.3,713.2 1019.2,714.5C1017.2,715.8 1015.9,715.7 1013.8,715.6C1011.6,715.4 1008.6,713.8 1006.1,713.7C1003.5,713.6 1000.6,714.5 998.4,714.8C996.1,715.2 993.0,714.7 992.5,715.9C992.0,717.2 994.3,720.4 995.4,722.2C996.6,724.1 1000.1,725.3 999.5,727.1C998.9,728.9 994.6,731.2 991.8,733.0C988.9,734.8 985.4,737.7 982.2,737.8C979.1,738.0 976.1,735.0 972.7,733.7C969.4,732.5 965.1,732.0 962.1,730.0C959.0,728.1 956.3,724.0 954.4,722.2C952.5,720.5 952.6,721.4 950.7,719.7C948.8,717.9 945.5,713.9 943.0,711.9C940.6,709.8 938.1,708.8 936.1,707.4C934.1,706.0 933.3,704.9 930.9,703.7C928.6,702.5 924.7,701.8 921.8,700.4C918.9,698.9 916.4,697.0 913.4,695.2C910.3,693.4 906.6,691.0 903.5,689.6C900.3,688.2 897.7,687.9 894.3,686.6C890.9,685.3 886.1,683.4 882.9,681.8C879.8,680.3 878.1,679.0 875.3,677.4C872.4,675.7 868.5,674.0 866.1,671.8C863.6,669.6 862.1,666.7 860.6,664.0C859.1,661.3 858.0,658.5 856.9,655.8C855.9,653.2 854.9,651.1 854.4,648.0C853.9,645.0 853.8,640.6 854.0,637.3C854.2,634.0 854.7,631.4 855.5,628.0C856.2,624.6 857.3,619.7 858.4,616.9C859.5,614.0 860.5,612.9 862.1,610.9C863.6,609.0 865.6,607.2 867.6,605.4C869.5,603.6 871.4,601.9 873.8,600.2C876.2,598.5 879.5,597.0 881.8,595.4C884.2,593.7 886.7,592.3 888.1,590.2C889.5,588.0 889.5,584.9 890.3,582.4C891.0,579.9 892.5,577.7 892.5,575.3C892.5,573.0 891.0,570.9 890.3,568.3C889.5,565.7 887.4,562.8 888.1,559.8C888.7,556.7 892.4,552.9 894.3,549.7C896.2,546.5 897.9,542.7 899.4,540.5C901.0,538.2 901.6,538.0 903.5,536.0C905.4,534.0 908.8,530.9 910.8,528.2C912.8,525.5 914.2,522.2 915.6,519.7C917.0,517.2 917.1,515.4 919.2,513.4C921.4,511.3 925.6,508.9 928.4,507.4C931.2,506.0 933.1,505.6 936.1,504.8C939.0,504.0 942.5,503.2 946.0,502.6C949.4,502.0 954.2,502.2 956.6,501.1C959.0,500.1 959.8,498.4 960.3,496.3Z" fill="none" stroke="#555" stroke-width="1"/>
<text transform="translate(1150.0,511.6)" font-size="34.5">α EC β</text>
<rect x="1159.5" y="542.3" width="12" height="187" fill="url(#cbG)" stroke="#333" stroke-width="1"/>
<path d="M1171.5,542.8 h3 M1171.5,729 h3" stroke="#333" stroke-width="1"/>
<rect x="1192.5" y="542.3" width="12" height="187" fill="url(#cbB)" stroke="#333" stroke-width="1"/>
<path d="M1204.5,542.8 h3 M1204.5,729 h3" stroke="#333" stroke-width="1"/>
<rect x="1229.7" y="542.3" width="12" height="187" fill="url(#cbR)" stroke="#333" stroke-width="1"/>
<path d="M1241.7,542.8 h3 M1241.7,729 h3" stroke="#333" stroke-width="1"/>
<text transform="translate(1252.0,552.0)" font-size="22">1</text>
<text transform="translate(1254.0,734.0)" font-size="22">0</text>
<text transform="translate(857.5,448.0)" font-size="68">d</text>
<rect x="1391.3" y="701.4" width="32.6" height="8.33" fill="#8b6aa8"/>
<rect x="1391.3" y="564.8" width="32.6" height="136.59" fill="#df9bb5"/>
<rect x="1391.3" y="529.8" width="32.6" height="34.96" fill="#c1489b"/>
<rect x="1391.3" y="503.0" width="32.6" height="26.85" fill="#ebdbdb"/>
<rect x="1391.3" y="493.2" width="32.6" height="9.72" fill="#bdcff0"/>
<rect x="1391.3" y="483.5" width="32.6" height="9.72" fill="#e2cb63"/>
<rect x="1391.3" y="482.1" width="32.6" height="1.39" fill="#bcbfba"/>
<rect x="1391.3" y="478.2" width="32.6" height="3.94" fill="#e8763b"/>
<rect x="1457.8" y="674.5" width="32.6" height="35.19" fill="#8b6aa8"/>
<rect x="1457.8" y="583.1" width="32.6" height="91.44" fill="#df9bb5"/>
<rect x="1457.8" y="530.8" width="32.6" height="52.32" fill="#c1489b"/>
<rect x="1457.8" y="507.4" width="32.6" height="23.38" fill="#ebdbdb"/>
<rect x="1457.8" y="495.3" width="32.6" height="12.04" fill="#bdcff0"/>
<rect x="1457.8" y="484.2" width="32.6" height="11.11" fill="#e2cb63"/>
<rect x="1457.8" y="482.8" width="32.6" height="1.39" fill="#bcbfba"/>
<rect x="1457.8" y="478.2" width="32.6" height="4.63" fill="#e8763b"/>
<rect x="1524.5" y="594.0" width="32.6" height="115.75" fill="#8b6aa8"/>
<rect x="1524.5" y="584.2" width="32.6" height="9.72" fill="#df9bb5"/>
<rect x="1524.5" y="523.1" width="32.6" height="61.12" fill="#c1489b"/>
<rect x="1524.5" y="498.1" width="32.6" height="25.00" fill="#ebdbdb"/>
<rect x="1524.5" y="490.9" width="32.6" height="7.18" fill="#bdcff0"/>
<rect x="1524.5" y="483.5" width="32.6" height="7.41" fill="#e2cb63"/>
<rect x="1524.5" y="482.4" width="32.6" height="1.16" fill="#bcbfba"/>
<rect x="1524.5" y="478.2" width="32.6" height="4.17" fill="#e8763b"/>
<rect x="1373.7" y="465.4" width="200.4" height="244.3" fill="none" stroke="#111" stroke-width="1.6"/>
<line x1="1368.7" y1="709.7" x2="1373.7" y2="709.7" stroke="#111" stroke-width="1.4"/>
<text transform="translate(1362.2,717.7) scale(1,1.1)" font-size="21.5" text-anchor="end">0</text>
<line x1="1368.7" y1="663.4" x2="1373.7" y2="663.4" stroke="#111" stroke-width="1.4"/>
<text transform="translate(1362.2,671.4) scale(1,1.1)" font-size="21.5" text-anchor="end">0.2</text>
<line x1="1368.7" y1="617.1" x2="1373.7" y2="617.1" stroke="#111" stroke-width="1.4"/>
<text transform="translate(1362.2,625.1) scale(1,1.1)" font-size="21.5" text-anchor="end">0.4</text>
<line x1="1368.7" y1="570.8" x2="1373.7" y2="570.8" stroke="#111" stroke-width="1.4"/>
<text transform="translate(1362.2,578.8) scale(1,1.1)" font-size="21.5" text-anchor="end">0.6</text>
<line x1="1368.7" y1="524.5" x2="1373.7" y2="524.5" stroke="#111" stroke-width="1.4"/>
<text transform="translate(1362.2,532.5) scale(1,1.1)" font-size="21.5" text-anchor="end">0.8</text>
<line x1="1368.7" y1="478.2" x2="1373.7" y2="478.2" stroke="#111" stroke-width="1.4"/>
<text transform="translate(1362.2,486.2) scale(1,1.1)" font-size="21.5" text-anchor="end">1.0</text>
<line x1="1407.6" y1="709.7" x2="1407.6" y2="714.7" stroke="#111" stroke-width="1.4"/>
<text transform="translate(1407.6,743.7) scale(1,1.1)" font-size="21.5" text-anchor="middle">2</text>
<line x1="1474.1" y1="709.7" x2="1474.1" y2="714.7" stroke="#111" stroke-width="1.4"/>
<text transform="translate(1474.1,743.7) scale(1,1.1)" font-size="21.5" text-anchor="middle">5</text>
<line x1="1540.8" y1="709.7" x2="1540.8" y2="714.7" stroke="#111" stroke-width="1.4"/>
<text transform="translate(1540.8,743.7) scale(1,1.1)" font-size="21.5" text-anchor="middle">21</text>
<text transform="translate(1473.9,775.7)" font-size="21.5" text-anchor="middle">%Oxygen</text>
<text transform="translate(1474.1,443.7)" font-size="34.5" text-anchor="middle">2W</text>
<rect x="1659.5" y="705.2" width="32.6" height="5.29" fill="#8b6aa8"/>
<rect x="1659.5" y="593.0" width="32.6" height="112.24" fill="#df9bb5"/>
<rect x="1659.5" y="551.3" width="32.6" height="41.63" fill="#c1489b"/>
<rect x="1659.5" y="521.7" width="32.6" height="29.67" fill="#ebdbdb"/>
<rect x="1659.5" y="498.9" width="32.6" height="22.77" fill="#bdcff0"/>
<rect x="1659.5" y="488.1" width="32.6" height="10.81" fill="#e2cb63"/>
<rect x="1659.5" y="485.1" width="32.6" height="2.99" fill="#bcbfba"/>
<rect x="1659.5" y="480.5" width="32.6" height="4.60" fill="#e8763b"/>
<rect x="1725.7" y="646.8" width="32.6" height="63.71" fill="#8b6aa8"/>
<rect x="1725.7" y="603.3" width="32.6" height="43.47" fill="#df9bb5"/>
<rect x="1725.7" y="544.2" width="32.6" height="59.11" fill="#c1489b"/>
<rect x="1725.7" y="524.0" width="32.6" height="20.24" fill="#ebdbdb"/>
<rect x="1725.7" y="503.7" width="32.6" height="20.24" fill="#bdcff0"/>
<rect x="1725.7" y="490.2" width="32.6" height="13.57" fill="#e2cb63"/>
<rect x="1725.7" y="489.0" width="32.6" height="1.15" fill="#bcbfba"/>
<rect x="1725.7" y="480.5" width="32.6" height="8.51" fill="#e8763b"/>
<rect x="1791.8" y="590.7" width="32.6" height="119.83" fill="#8b6aa8"/>
<rect x="1791.8" y="587.9" width="32.6" height="2.76" fill="#df9bb5"/>
<rect x="1791.8" y="528.3" width="32.6" height="59.57" fill="#c1489b"/>
<rect x="1791.8" y="505.6" width="32.6" height="22.77" fill="#ebdbdb"/>
<rect x="1791.8" y="501.2" width="32.6" height="4.37" fill="#bdcff0"/>
<rect x="1791.8" y="491.1" width="32.6" height="10.12" fill="#e2cb63"/>
<rect x="1791.8" y="489.5" width="32.6" height="1.61" fill="#bcbfba"/>
<rect x="1791.8" y="480.5" width="32.6" height="8.97" fill="#e8763b"/>
<rect x="1642.7" y="468.8" width="198.2" height="241.7" fill="none" stroke="#111" stroke-width="1.6"/>
<line x1="1637.7" y1="710.5" x2="1642.7" y2="710.5" stroke="#111" stroke-width="1.4"/>
<text transform="translate(1631.2,718.5) scale(1,1.1)" font-size="21.5" text-anchor="end">0</text>
<line x1="1637.7" y1="664.5" x2="1642.7" y2="664.5" stroke="#111" stroke-width="1.4"/>
<text transform="translate(1631.2,672.5) scale(1,1.1)" font-size="21.5" text-anchor="end">0.2</text>
<line x1="1637.7" y1="618.5" x2="1642.7" y2="618.5" stroke="#111" stroke-width="1.4"/>
<text transform="translate(1631.2,626.5) scale(1,1.1)" font-size="21.5" text-anchor="end">0.4</text>
<line x1="1637.7" y1="572.5" x2="1642.7" y2="572.5" stroke="#111" stroke-width="1.4"/>
<text transform="translate(1631.2,580.5) scale(1,1.1)" font-size="21.5" text-anchor="end">0.6</text>
<line x1="1637.7" y1="526.5" x2="1642.7" y2="526.5" stroke="#111" stroke-width="1.4"/>
<text transform="translate(1631.2,534.5) scale(1,1.1)" font-size="21.5" text-anchor="end">0.8</text>
<line x1="1637.7" y1="480.5" x2="1642.7" y2="480.5" stroke="#111" stroke-width="1.4"/>
<text transform="translate(1631.2,488.5) scale(1,1.1)" font-size="21.5" text-anchor="end">1.0</text>
<line x1="1675.8" y1="710.5" x2="1675.8" y2="715.5" stroke="#111" stroke-width="1.4"/>
<text transform="translate(1675.8,744.5) scale(1,1.1)" font-size="21.5" text-anchor="middle">2</text>
<line x1="1742.0" y1="710.5" x2="1742.0" y2="715.5" stroke="#111" stroke-width="1.4"/>
<text transform="translate(1742.0,744.5) scale(1,1.1)" font-size="21.5" text-anchor="middle">5</text>
<line x1="1808.1" y1="710.5" x2="1808.1" y2="715.5" stroke="#111" stroke-width="1.4"/>
<text transform="translate(1808.1,744.5) scale(1,1.1)" font-size="21.5" text-anchor="middle">21</text>
<text transform="translate(1741.8,776.5)" font-size="21.5" text-anchor="middle">%Oxygen</text>
<text transform="translate(1736.0,443.7)" font-size="34.5" text-anchor="middle">4W</text>
<rect x="1872.7" y="485.4" width="10.5" height="11" fill="#8b6aa8"/>
<text transform="translate(1901.0,497.4)" font-size="17.5">SC-β INS<tspan font-size="11.5" dy="-7">high</tspan></text>
<rect x="1872.7" y="514.0" width="10.5" height="11" fill="#df9bb5"/>
<text transform="translate(1901.0,526.0)" font-size="17.5">SC-β INS<tspan font-size="11.5" dy="-7">low</tspan></text>
<rect x="1872.7" y="542.6" width="10.5" height="11" fill="#c1489b"/>
<text transform="translate(1901.0,554.6)" font-size="17.5">SC-α</text>
<rect x="1872.7" y="571.2" width="10.5" height="11" fill="#ebdbdb"/>
<text transform="translate(1901.0,583.2)" font-size="17.5">SC-EC</text>
<rect x="1872.7" y="599.8" width="10.5" height="11" fill="#bdcff0"/>
<text transform="translate(1901.0,611.8)" font-size="17.5">NKX6.1<tspan font-size="11.5" dy="-7">+</tspan></text>
<rect x="1872.7" y="628.4" width="10.5" height="11" fill="#e2cb63"/>
<text transform="translate(1901.0,640.4)" font-size="17.5">PDX1<tspan font-size="11.5" dy="-7">+</tspan></text>
<rect x="1872.7" y="657.0" width="10.5" height="11" fill="#bcbfba"/>
<text transform="translate(1901.0,669.0)" font-size="17.5">Other</text>
<rect x="1872.7" y="685.6" width="10.5" height="11" fill="#e8763b"/>
<text transform="translate(1901.0,697.6)" font-size="17.5">Proliferating</text>
<text transform="translate(1294.0,444.0)" font-size="68">e</text>
<rect x="223.4" y="926.5" width="34.6" height="33.6" fill="#98c8e0" stroke="#222" stroke-width="1.1"/>
<rect x="258.0" y="926.5" width="34.6" height="33.6" fill="#dbeaf2" stroke="#222" stroke-width="1.1"/>
<rect x="292.6" y="926.5" width="34.6" height="33.6" fill="#dbeaf2" stroke="#222" stroke-width="1.1"/>
<rect x="327.2" y="926.5" width="34.6" height="33.6" fill="#dfecf3" stroke="#222" stroke-width="1.1"/>
<rect x="361.8" y="926.5" width="34.6" height="33.6" fill="#f8f2ee" stroke="#222" stroke-width="1.1"/>
<rect x="396.4" y="926.5" width="34.6" height="33.6" fill="#dfecf3" stroke="#222" stroke-width="1.1"/>
<rect x="431.0" y="926.5" width="34.6" height="33.6" fill="#fddbc7" stroke="#222" stroke-width="1.1"/>
<rect x="465.6" y="926.5" width="34.6" height="33.6" fill="#67001f" stroke="#222" stroke-width="1.1"/>
<rect x="223.4" y="960.1" width="34.6" height="33.6" fill="#195798" stroke="#222" stroke-width="1.1"/>
<rect x="258.0" y="960.1" width="34.6" height="33.6" fill="#9dcbe1" stroke="#222" stroke-width="1.1"/>
<rect x="292.6" y="960.1" width="34.6" height="33.6" fill="#195798" stroke="#222" stroke-width="1.1"/>
<rect x="327.2" y="960.1" width="34.6" height="33.6" fill="#4393c3" stroke="#222" stroke-width="1.1"/>
<rect x="361.8" y="960.1" width="34.6" height="33.6" fill="#f4f5f6" stroke="#222" stroke-width="1.1"/>
<rect x="396.4" y="960.1" width="34.6" height="33.6" fill="#dfecf3" stroke="#222" stroke-width="1.1"/>
<rect x="431.0" y="960.1" width="34.6" height="33.6" fill="#67001f" stroke="#222" stroke-width="1.1"/>
<rect x="465.6" y="960.1" width="34.6" height="33.6" fill="#fddbc7" stroke="#222" stroke-width="1.1"/>
<rect x="223.4" y="993.7" width="34.6" height="33.6" fill="#67aacf" stroke="#222" stroke-width="1.1"/>
<rect x="258.0" y="993.7" width="34.6" height="33.6" fill="#faeae1" stroke="#222" stroke-width="1.1"/>
<rect x="292.6" y="993.7" width="34.6" height="33.6" fill="#92c5de" stroke="#222" stroke-width="1.1"/>
<rect x="327.2" y="993.7" width="34.6" height="33.6" fill="#d1e5f0" stroke="#222" stroke-width="1.1"/>
<rect x="361.8" y="993.7" width="34.6" height="33.6" fill="#fbe5d8" stroke="#222" stroke-width="1.1"/>
<rect x="396.4" y="993.7" width="34.6" height="33.6" fill="#67001f" stroke="#222" stroke-width="1.1"/>
<rect x="431.0" y="993.7" width="34.6" height="33.6" fill="#dfecf3" stroke="#222" stroke-width="1.1"/>
<rect x="465.6" y="993.7" width="34.6" height="33.6" fill="#dfecf3" stroke="#222" stroke-width="1.1"/>
<rect x="223.4" y="1027.3" width="34.6" height="33.6" fill="#d8e8f1" stroke="#222" stroke-width="1.1"/>
<rect x="258.0" y="1027.3" width="34.6" height="33.6" fill="#edf2f5" stroke="#222" stroke-width="1.1"/>
<rect x="292.6" y="1027.3" width="34.6" height="33.6" fill="#d8e8f1" stroke="#222" stroke-width="1.1"/>
<rect x="327.2" y="1027.3" width="34.6" height="33.6" fill="#f5aa88" stroke="#222" stroke-width="1.1"/>
<rect x="361.8" y="1027.3" width="34.6" height="33.6" fill="#67001f" stroke="#222" stroke-width="1.1"/>
<rect x="396.4" y="1027.3" width="34.6" height="33.6" fill="#fbe5d8" stroke="#222" stroke-width="1.1"/>
<rect x="431.0" y="1027.3" width="34.6" height="33.6" fill="#f4f5f6" stroke="#222" stroke-width="1.1"/>
<rect x="465.6" y="1027.3" width="34.6" height="33.6" fill="#f8f2ee" stroke="#222" stroke-width="1.1"/>
<rect x="223.4" y="1060.9" width="34.6" height="33.6" fill="#d8e8f1" stroke="#222" stroke-width="1.1"/>
<rect x="258.0" y="1060.9" width="34.6" height="33.6" fill="#519cc8" stroke="#222" stroke-width="1.1"/>
<rect x="292.6" y="1060.9" width="34.6" height="33.6" fill="#fae8dd" stroke="#222" stroke-width="1.1"/>
<rect x="327.2" y="1060.9" width="34.6" height="33.6" fill="#67001f" stroke="#222" stroke-width="1.1"/>
<rect x="361.8" y="1060.9" width="34.6" height="33.6" fill="#f5aa88" stroke="#222" stroke-width="1.1"/>
<rect x="396.4" y="1060.9" width="34.6" height="33.6" fill="#d1e5f0" stroke="#222" stroke-width="1.1"/>
<rect x="431.0" y="1060.9" width="34.6" height="33.6" fill="#4393c3" stroke="#222" stroke-width="1.1"/>
<rect x="465.6" y="1060.9" width="34.6" height="33.6" fill="#dfecf3" stroke="#222" stroke-width="1.1"/>
<rect x="223.4" y="1094.5" width="34.6" height="33.6" fill="#fae8dd" stroke="#222" stroke-width="1.1"/>
<rect x="258.0" y="1094.5" width="34.6" height="33.6" fill="#fcdecb" stroke="#222" stroke-width="1.1"/>
<rect x="292.6" y="1094.5" width="34.6" height="33.6" fill="#67001f" stroke="#222" stroke-width="1.1"/>
<rect x="327.2" y="1094.5" width="34.6" height="33.6" fill="#fae8dd" stroke="#222" stroke-width="1.1"/>
<rect x="361.8" y="1094.5" width="34.6" height="33.6" fill="#d8e8f1" stroke="#222" stroke-width="1.1"/>
<rect x="396.4" y="1094.5" width="34.6" height="33.6" fill="#92c5de" stroke="#222" stroke-width="1.1"/>
<rect x="431.0" y="1094.5" width="34.6" height="33.6" fill="#195798" stroke="#222" stroke-width="1.1"/>
<rect x="465.6" y="1094.5" width="34.6" height="33.6" fill="#dbeaf2" stroke="#222" stroke-width="1.1"/>
<rect x="223.4" y="1128.1" width="34.6" height="33.6" fill="#fcd6c1" stroke="#222" stroke-width="1.1"/>
<rect x="258.0" y="1128.1" width="34.6" height="33.6" fill="#67001f" stroke="#222" stroke-width="1.1"/>
<rect x="292.6" y="1128.1" width="34.6" height="33.6" fill="#fcdecb" stroke="#222" stroke-width="1.1"/>
<rect x="327.2" y="1128.1" width="34.6" height="33.6" fill="#519cc8" stroke="#222" stroke-width="1.1"/>
<rect x="361.8" y="1128.1" width="34.6" height="33.6" fill="#edf2f5" stroke="#222" stroke-width="1.1"/>
<rect x="396.4" y="1128.1" width="34.6" height="33.6" fill="#faeae1" stroke="#222" stroke-width="1.1"/>
<rect x="431.0" y="1128.1" width="34.6" height="33.6" fill="#9dcbe1" stroke="#222" stroke-width="1.1"/>
<rect x="465.6" y="1128.1" width="34.6" height="33.6" fill="#dbeaf2" stroke="#222" stroke-width="1.1"/>
<rect x="223.4" y="1161.7" width="34.6" height="33.6" fill="#67001f" stroke="#222" stroke-width="1.1"/>
<rect x="258.0" y="1161.7" width="34.6" height="33.6" fill="#fcd6c1" stroke="#222" stroke-width="1.1"/>
<rect x="292.6" y="1161.7" width="34.6" height="33.6" fill="#fae8dd" stroke="#222" stroke-width="1.1"/>
<rect x="327.2" y="1161.7" width="34.6" height="33.6" fill="#d8e8f1" stroke="#222" stroke-width="1.1"/>
<rect x="361.8" y="1161.7" width="34.6" height="33.6" fill="#d8e8f1" stroke="#222" stroke-width="1.1"/>
<rect x="396.4" y="1161.7" width="34.6" height="33.6" fill="#67aacf" stroke="#222" stroke-width="1.1"/>
<rect x="431.0" y="1161.7" width="34.6" height="33.6" fill="#195798" stroke="#222" stroke-width="1.1"/>
<rect x="465.6" y="1161.7" width="34.6" height="33.6" fill="#98c8e0" stroke="#222" stroke-width="1.1"/>
<rect x="223.4" y="926.5" width="276.8" height="268.8" fill="none" stroke="#222" stroke-width="1.4"/>
<line x1="500.2" y1="943.3" x2="504.2" y2="943.3" stroke="#222" stroke-width="1"/>
<text transform="translate(510.2,951.1)" font-size="21.7">Proliferating</text>
<line x1="500.2" y1="976.9" x2="504.2" y2="976.9" stroke="#222" stroke-width="1"/>
<text transform="translate(510.2,984.7)" font-size="21.7">PDX1<tspan font-size="13.5" dy="-7.811999999999999">+</tspan></text>
<line x1="500.2" y1="1010.5" x2="504.2" y2="1010.5" stroke="#222" stroke-width="1"/>
<text transform="translate(510.2,1018.3)" font-size="21.7">SC-EC</text>
<line x1="500.2" y1="1044.1" x2="504.2" y2="1044.1" stroke="#222" stroke-width="1"/>
<text transform="translate(510.2,1051.9)" font-size="21.7">Other</text>
<line x1="500.2" y1="1077.7" x2="504.2" y2="1077.7" stroke="#222" stroke-width="1"/>
<text transform="translate(510.2,1085.5)" font-size="21.7">SC-α</text>
<line x1="500.2" y1="1111.3" x2="504.2" y2="1111.3" stroke="#222" stroke-width="1"/>
<text transform="translate(510.2,1119.1)" font-size="21.7">SC-β INS<tspan font-size="13.5" dy="-7.811999999999999">high</tspan></text>
<line x1="500.2" y1="1144.9" x2="504.2" y2="1144.9" stroke="#222" stroke-width="1"/>
<text transform="translate(510.2,1152.7)" font-size="21.7">NKX6.1<tspan font-size="13.5" dy="-7.811999999999999">+</tspan></text>
<line x1="500.2" y1="1178.5" x2="504.2" y2="1178.5" stroke="#222" stroke-width="1"/>
<text transform="translate(510.2,1186.3)" font-size="21.7">SC-β INS<tspan font-size="13.5" dy="-7.811999999999999">low</tspan></text>
<text transform="translate(243.7,916.5) rotate(-45)" font-size="21.7">SC-β INS<tspan font-size="13.5" dy="-7.811999999999999">low</tspan></text>
<text transform="translate(278.3,916.5) rotate(-45)" font-size="21.7">NKX6.1<tspan font-size="13.5" dy="-7.811999999999999">+</tspan></text>
<text transform="translate(312.9,916.5) rotate(-45)" font-size="21.7">SC-β INS<tspan font-size="13.5" dy="-7.811999999999999">high</tspan></text>
<text transform="translate(347.5,916.5) rotate(-45)" font-size="21.7">SC-α</text>
<text transform="translate(382.1,916.5) rotate(-45)" font-size="21.7">Other</text>
<text transform="translate(416.7,916.5) rotate(-45)" font-size="21.7">SC-EC</text>
<text transform="translate(451.3,916.5) rotate(-45)" font-size="21.7">PDX1<tspan font-size="13.5" dy="-7.811999999999999">+</tspan></text>
<text transform="translate(485.9,916.5) rotate(-45)" font-size="21.7">Proliferating</text>
<path d="M215.3,943.0 H106.3 V976.6 H215.3 M215.3,1044.4 H119.0 V1078.3 H215.3 M215.3,1010.4 H94.5 V1061.3 H119.0 M106.3,959.8 H86.1 V1035.9 H94.5 M215.3,1145.4 H111.0 V1179.2 H215.3 M215.3,1111.8 H106.6 V1162.3 H111.0 M86.1,997.8 H77.4 V1137.1 H106.6" fill="none" stroke="#3a3a3a" stroke-width="1.5"/>
<defs><linearGradient id="cbF" x1="0" x2="1" y1="0" y2="0">
<stop offset="0.000" stop-color="#053061"/>
<stop offset="0.050" stop-color="#0e4178"/>
<stop offset="0.100" stop-color="#1b5b9d"/>
<stop offset="0.150" stop-color="#2b73b3"/>
<stop offset="0.200" stop-color="#3c89be"/>
<stop offset="0.250" stop-color="#59a1ca"/>
<stop offset="0.300" stop-color="#7fb9d8"/>
<stop offset="0.350" stop-color="#a2cde3"/>
<stop offset="0.400" stop-color="#c1ddeb"/>
<stop offset="0.450" stop-color="#dae9f2"/>
<stop offset="0.500" stop-color="#edf2f5"/>
<stop offset="0.550" stop-color="#f8f1ed"/>
<stop offset="0.600" stop-color="#fbe3d5"/>
<stop offset="0.650" stop-color="#fbd0b9"/>
<stop offset="0.700" stop-color="#f7b697"/>
<stop offset="0.750" stop-color="#ef9878"/>
<stop offset="0.800" stop-color="#e0775e"/>
<stop offset="0.850" stop-color="#d05447"/>
<stop offset="0.900" stop-color="#be3137"/>
<stop offset="0.950" stop-color="#a71529"/>
<stop offset="1.000" stop-color="#820923"/>
</linearGradient></defs>
<rect x="223.4" y="1203.3" width="276.8" height="15.8" fill="url(#cbF)" stroke="#222" stroke-width="1.2"/>
<text transform="translate(235.0,1240.5)" font-size="21.5" text-anchor="middle">-0.5</text>
<text transform="translate(302.5,1240.5)" font-size="21.5" text-anchor="middle">-0.25</text>
<text transform="translate(369.0,1240.5)" font-size="21.5" text-anchor="middle">0</text>
<text transform="translate(437.0,1240.5)" font-size="21.5" text-anchor="middle">0.25</text>
<text transform="translate(497.0,1240.5)" font-size="21.5" text-anchor="middle">0.5</text>
<text transform="translate(364.8,1269.5)" font-size="26.2" text-anchor="middle">Pearson correlation</text>
<text transform="translate(-2.0,879.0)" font-size="68">f</text>
<circle cx="962.5" cy="920.5" r="11" fill="#8a6aa8" stroke="#9a9a9a" stroke-width="0.8"/>
<circle cx="983.8" cy="920.5" r="9.9" fill="#8a6aa8" stroke="#9a9a9a" stroke-width="0.8"/>
<circle cx="1005.1" cy="920.5" r="8.7" fill="#8a6aa8" stroke="#9a9a9a" stroke-width="0.8"/>
<circle cx="1026.3" cy="920.5" r="8.2" fill="#8a6aa8" stroke="#9a9a9a" stroke-width="0.8"/>
<circle cx="1047.4" cy="920.5" r="7.8" fill="#c4b3d6" stroke="#9a9a9a" stroke-width="0.8"/>
<circle cx="1068.8" cy="920.5" r="9" fill="#8a6aa8" stroke="#9a9a9a" stroke-width="0.8"/>
<circle cx="1090" cy="920.5" r="9.7" fill="#8a6aa8" stroke="#9a9a9a" stroke-width="0.8"/>
<circle cx="1111" cy="920.5" r="9.4" fill="#8a6aa8" stroke="#9a9a9a" stroke-width="0.8"/>
<circle cx="1132.4" cy="920.5" r="11.7" fill="#8a6aa8" stroke="#9a9a9a" stroke-width="0.8"/>
<circle cx="962.5" cy="950.5" r="11.5" fill="#d7cae3" stroke="#9a9a9a" stroke-width="0.8"/>
<circle cx="983.8" cy="950.5" r="6.8" fill="#ffffff" stroke="#9a9a9a" stroke-width="0.8"/>
<circle cx="1005.1" cy="950.5" r="6.8" fill="#d3c5e2" stroke="#9a9a9a" stroke-width="0.8"/>
<circle cx="1026.3" cy="950.5" r="6.8" fill="#c2b0d6" stroke="#9a9a9a" stroke-width="0.8"/>
<circle cx="1047.4" cy="950.5" r="5.5" fill="#efeaf4" stroke="#9a9a9a" stroke-width="0.8"/>
<circle cx="1068.8" cy="950.5" r="5.7" fill="#e6dff0" stroke="#9a9a9a" stroke-width="0.8"/>
<circle cx="1090" cy="950.5" r="9.7" fill="#9a80b8" stroke="#9a9a9a" stroke-width="0.8"/>
<circle cx="1111" cy="950.5" r="9.3" fill="#9277b2" stroke="#9a9a9a" stroke-width="0.8"/>
<circle cx="1132.4" cy="950.5" r="11.7" fill="#9b82b8" stroke="#9a9a9a" stroke-width="0.8"/>
<circle cx="962.5" cy="980.5" r="11.5" fill="#e8e3f0" stroke="#9a9a9a" stroke-width="0.8"/>
<circle cx="983.8" cy="980.5" r="8.2" fill="#ffffff" stroke="#9a9a9a" stroke-width="0.8"/>
<circle cx="1005.1" cy="980.5" r="5.5" fill="#ffffff" stroke="#9a9a9a" stroke-width="0.8"/>
<circle cx="1026.3" cy="980.5" r="5.7" fill="#f2eff6" stroke="#9a9a9a" stroke-width="0.8"/>
<circle cx="1047.4" cy="980.5" r="5.5" fill="#ffffff" stroke="#9a9a9a" stroke-width="0.8"/>
<circle cx="1068.8" cy="980.5" r="5.5" fill="#ffffff" stroke="#9a9a9a" stroke-width="0.8"/>
<circle cx="1090" cy="980.5" r="10" fill="#8a6aa8" stroke="#9a9a9a" stroke-width="0.8"/>
<circle cx="1111" cy="980.5" r="10" fill="#8a6aa8" stroke="#9a9a9a" stroke-width="0.8"/>
<circle cx="1132.4" cy="980.5" r="11.5" fill="#9c83b9" stroke="#9a9a9a" stroke-width="0.8"/>
<circle cx="962.5" cy="1010.5" r="11.5" fill="#fdfcfe" stroke="#9a9a9a" stroke-width="0.8"/>
<circle cx="983.8" cy="1010.5" r="8.2" fill="#ffffff" stroke="#9a9a9a" stroke-width="0.8"/>
<circle cx="1005.1" cy="1010.5" r="8.2" fill="#a68fc3" stroke="#9a9a9a" stroke-width="0.8"/>
<circle cx="1026.3" cy="1010.5" r="6" fill="#ede8f3" stroke="#9a9a9a" stroke-width="0.8"/>
<circle cx="1047.4" cy="1010.5" r="6.8" fill="#e4ddee" stroke="#9a9a9a" stroke-width="0.8"/>
<circle cx="1068.8" cy="1010.5" r="6.8" fill="#e0d8ec" stroke="#9a9a9a" stroke-width="0.8"/>
<circle cx="1090" cy="1010.5" r="6.8" fill="#f2eff6" stroke="#9a9a9a" stroke-width="0.8"/>
<circle cx="1111" cy="1010.5" r="7.5" fill="#e0d8eb" stroke="#9a9a9a" stroke-width="0.8"/>
<circle cx="1132.4" cy="1010.5" r="11.7" fill="#a18abd" stroke="#9a9a9a" stroke-width="0.8"/>
<circle cx="962.5" cy="1040.5" r="11.5" fill="#ffffff" stroke="#9a9a9a" stroke-width="0.8"/>
<circle cx="983.8" cy="1040.5" r="10" fill="#a38bbf" stroke="#9a9a9a" stroke-width="0.8"/>
<circle cx="1005.1" cy="1040.5" r="9" fill="#9880b8" stroke="#9a9a9a" stroke-width="0.8"/>
<circle cx="1026.3" cy="1040.5" r="6.8" fill="#c8b8db" stroke="#9a9a9a" stroke-width="0.8"/>
<circle cx="1047.4" cy="1040.5" r="10.8" fill="#8a6aa8" stroke="#9a9a9a" stroke-width="0.8"/>
<circle cx="1068.8" cy="1040.5" r="9" fill="#9b82b8" stroke="#9a9a9a" stroke-width="0.8"/>
<circle cx="1090" cy="1040.5" r="10.5" fill="#8a6aa8" stroke="#9a9a9a" stroke-width="0.8"/>
<circle cx="1111" cy="1040.5" r="10.5" fill="#8a6aa8" stroke="#9a9a9a" stroke-width="0.8"/>
<circle cx="1132.4" cy="1040.5" r="11.5" fill="#dcd2e7" stroke="#9a9a9a" stroke-width="0.8"/>
<circle cx="962.5" cy="1070.5" r="11.7" fill="#ffffff" stroke="#9a9a9a" stroke-width="0.8"/>
<circle cx="983.8" cy="1070.5" r="8.5" fill="#ffffff" stroke="#9a9a9a" stroke-width="0.8"/>
<circle cx="1005.1" cy="1070.5" r="4.8" fill="#ffffff" stroke="#9a9a9a" stroke-width="0.8"/>
<circle cx="1026.3" cy="1070.5" r="5.5" fill="#ffffff" stroke="#9a9a9a" stroke-width="0.8"/>
<circle cx="1047.4" cy="1070.5" r="4.5" fill="#ffffff" stroke="#9a9a9a" stroke-width="0.8"/>
<circle cx="1068.8" cy="1070.5" r="5" fill="#ffffff" stroke="#9a9a9a" stroke-width="0.8"/>
<circle cx="1090" cy="1070.5" r="5.5" fill="#ffffff" stroke="#9a9a9a" stroke-width="0.8"/>
<circle cx="1111" cy="1070.5" r="5.5" fill="#ffffff" stroke="#9a9a9a" stroke-width="0.8"/>
<circle cx="1132.4" cy="1070.5" r="11.7" fill="#ffffff" stroke="#9a9a9a" stroke-width="0.8"/>
<circle cx="962.5" cy="1100.5" r="11.5" fill="#ffffff" stroke="#9a9a9a" stroke-width="0.8"/>
<circle cx="983.8" cy="1100.5" r="8.2" fill="#ffffff" stroke="#9a9a9a" stroke-width="0.8"/>
<circle cx="1005.1" cy="1100.5" r="10.8" fill="#8a6aa8" stroke="#9a9a9a" stroke-width="0.8"/>
<circle cx="1026.3" cy="1100.5" r="8.2" fill="#c8b8db" stroke="#9a9a9a" stroke-width="0.8"/>
<circle cx="1047.4" cy="1100.5" r="6.8" fill="#f2eff6" stroke="#9a9a9a" stroke-width="0.8"/>
<circle cx="1068.8" cy="1100.5" r="6.8" fill="#ebe6f2" stroke="#9a9a9a" stroke-width="0.8"/>
<circle cx="1090" cy="1100.5" r="10.8" fill="#967bb6" stroke="#9a9a9a" stroke-width="0.8"/>
<circle cx="1111" cy="1100.5" r="6.3" fill="#f6f4f9" stroke="#9a9a9a" stroke-width="0.8"/>
<circle cx="1132.4" cy="1100.5" r="11.7" fill="#dcd2e7" stroke="#9a9a9a" stroke-width="0.8"/>
<circle cx="962.5" cy="1130.5" r="11.5" fill="#ded7ea" stroke="#9a9a9a" stroke-width="0.8"/>
<circle cx="983.8" cy="1130.5" r="9" fill="#efecf4" stroke="#9a9a9a" stroke-width="0.8"/>
<circle cx="1005.1" cy="1130.5" r="8.5" fill="#a891c3" stroke="#9a9a9a" stroke-width="0.8"/>
<circle cx="1026.3" cy="1130.5" r="8.5" fill="#9278b4" stroke="#9a9a9a" stroke-width="0.8"/>
<circle cx="1047.4" cy="1130.5" r="6.3" fill="#f2eff6" stroke="#9a9a9a" stroke-width="0.8"/>
<circle cx="1068.8" cy="1130.5" r="7.8" fill="#c8b8da" stroke="#9a9a9a" stroke-width="0.8"/>
<circle cx="1090" cy="1130.5" r="9.7" fill="#a891c3" stroke="#9a9a9a" stroke-width="0.8"/>
<circle cx="1111" cy="1130.5" r="9.4" fill="#9b82b8" stroke="#9a9a9a" stroke-width="0.8"/>
<circle cx="1132.4" cy="1130.5" r="11.7" fill="#b5a2cc" stroke="#9a9a9a" stroke-width="0.8"/>
<rect x="945.6" y="890.6" width="203.6" height="270.2" fill="none" stroke="#222" stroke-width="1.5"/>
<path d="M956.5,890.6 V880.9 H1136.8 V890.6" fill="none" stroke="#111" stroke-width="2.4"/>
<text transform="translate(1046.7,871.5)" font-size="21.5" text-anchor="middle">SC-β</text>
<path d="M962.5,1160.8 v5.5 M983.8,1160.8 v5.5 M1005.1,1160.8 v5.5 M1026.3,1160.8 v5.5 M1047.4,1160.8 v5.5 M1068.8,1160.8 v5.5 M1090,1160.8 v5.5 M1111,1160.8 v5.5 M1132.4,1160.8 v5.5" stroke="#222" stroke-width="1.3"/>
<text transform="translate(970.2,1173.4) rotate(-90)" font-size="21.5" text-anchor="end">INS</text>
<text transform="translate(991.5,1173.4) rotate(-90)" font-size="21.5" text-anchor="end">IAPP</text>
<text transform="translate(1012.8,1173.4) rotate(-90)" font-size="21.5" text-anchor="end">PCSK1</text>
<text transform="translate(1034.0,1173.4) rotate(-90)" font-size="21.5" text-anchor="end">ITGA1</text>
<text transform="translate(1055.1,1173.4) rotate(-90)" font-size="21.5" text-anchor="end">NEFM</text>
<text transform="translate(1076.5,1173.4) rotate(-90)" font-size="21.5" text-anchor="end">HOPX</text>
<text transform="translate(1097.7,1173.4) rotate(-90)" font-size="21.5" text-anchor="end">ISL1</text>
<text transform="translate(1118.7,1173.4) rotate(-90)" font-size="21.5" text-anchor="end">PAX6</text>
<text transform="translate(1140.1,1173.4) rotate(-90)" font-size="21.5" text-anchor="end">CHGA</text>
<circle cx="1212" cy="920.5" r="11.7" fill="#cc72b0" stroke="#9a9a9a" stroke-width="0.8"/>
<circle cx="1235.3" cy="920.5" r="2.7" fill="#ffffff" stroke="#9a9a9a" stroke-width="0.8"/>
<circle cx="1258.3" cy="920.5" r="6.3" fill="#f0d6ea" stroke="#9a9a9a" stroke-width="0.8"/>
<circle cx="1281.5" cy="920.5" r="7" fill="#eac4de" stroke="#9a9a9a" stroke-width="0.8"/>
<circle cx="1304.7" cy="920.5" r="8.3" fill="#e2acd0" stroke="#9a9a9a" stroke-width="0.8"/>
<circle cx="1212" cy="950.5" r="11.7" fill="#da9ec8" stroke="#9a9a9a" stroke-width="0.8"/>
<circle cx="1235.3" cy="950.5" r="3" fill="#ffffff" stroke="#9a9a9a" stroke-width="0.8"/>
<circle cx="1258.3" cy="950.5" r="5.3" fill="#f4e0ee" stroke="#9a9a9a" stroke-width="0.8"/>
<circle cx="1281.5" cy="950.5" r="3.8" fill="#ffffff" stroke="#9a9a9a" stroke-width="0.8"/>
<circle cx="1304.7" cy="950.5" r="10.5" fill="#c24c98" stroke="#9a9a9a" stroke-width="0.8"/>
<circle cx="1212" cy="980.5" r="11.6" fill="#c24c98" stroke="#9a9a9a" stroke-width="0.8"/>
<circle cx="1235.3" cy="980.5" r="9.8" fill="#c24c98" stroke="#9a9a9a" stroke-width="0.8"/>
<circle cx="1258.3" cy="980.5" r="9.8" fill="#c24c98" stroke="#9a9a9a" stroke-width="0.8"/>
<circle cx="1281.5" cy="980.5" r="10.5" fill="#c24c98" stroke="#9a9a9a" stroke-width="0.8"/>
<circle cx="1304.7" cy="980.5" r="10.8" fill="#c24c98" stroke="#9a9a9a" stroke-width="0.8"/>
<circle cx="1212" cy="1010.5" r="11.7" fill="#fbf2f8" stroke="#9a9a9a" stroke-width="0.8"/>
<circle cx="1235.3" cy="1010.5" r="4.8" fill="#f9e9f3" stroke="#9a9a9a" stroke-width="0.8"/>
<circle cx="1258.3" cy="1010.5" r="6.3" fill="#f2dcec" stroke="#9a9a9a" stroke-width="0.8"/>
<circle cx="1281.5" cy="1010.5" r="6.3" fill="#fbf0f6" stroke="#9a9a9a" stroke-width="0.8"/>
<circle cx="1304.7" cy="1010.5" r="8" fill="#ebc2de" stroke="#9a9a9a" stroke-width="0.8"/>
<circle cx="1212" cy="1040.5" r="11.7" fill="#ffffff" stroke="#9a9a9a" stroke-width="0.8"/>
<circle cx="1235.3" cy="1040.5" r="2.3" fill="#ffffff" stroke="#9a9a9a" stroke-width="0.8"/>
<circle cx="1258.3" cy="1040.5" r="5.3" fill="#f8ecf4" stroke="#9a9a9a" stroke-width="0.8"/>
<circle cx="1281.5" cy="1040.5" r="4.5" fill="#ffffff" stroke="#9a9a9a" stroke-width="0.8"/>
<circle cx="1304.7" cy="1040.5" r="9" fill="#d996c4" stroke="#9a9a9a" stroke-width="0.8"/>
<circle cx="1212" cy="1070.5" r="12" fill="#ffffff" stroke="#9a9a9a" stroke-width="0.8"/>
<circle cx="1235.3" cy="1070.5" r="3.5" fill="#ffffff" stroke="#9a9a9a" stroke-width="0.8"/>
<circle cx="1258.3" cy="1070.5" r="4" fill="#ffffff" stroke="#9a9a9a" stroke-width="0.8"/>
<circle cx="1281.5" cy="1070.5" r="5" fill="#ffffff" stroke="#9a9a9a" stroke-width="0.8"/>
<circle cx="1304.7" cy="1070.5" r="5.6" fill="#ffffff" stroke="#9a9a9a" stroke-width="0.8"/>
<circle cx="1212" cy="1100.5" r="11.7" fill="#ffffff" stroke="#9a9a9a" stroke-width="0.8"/>
<circle cx="1235.3" cy="1100.5" r="10.5" fill="#c24c98" stroke="#9a9a9a" stroke-width="0.8"/>
<circle cx="1258.3" cy="1100.5" r="5.3" fill="#fbf2f8" stroke="#9a9a9a" stroke-width="0.8"/>
<circle cx="1281.5" cy="1100.5" r="10.8" fill="#c24c98" stroke="#9a9a9a" stroke-width="0.8"/>
<circle cx="1304.7" cy="1100.5" r="9.5" fill="#d996c4" stroke="#9a9a9a" stroke-width="0.8"/>
<circle cx="1212" cy="1130.5" r="11.7" fill="#e8b8d8" stroke="#9a9a9a" stroke-width="0.8"/>
<circle cx="1235.3" cy="1130.5" r="6.5" fill="#f0cde5" stroke="#9a9a9a" stroke-width="0.8"/>
<circle cx="1258.3" cy="1130.5" r="7.8" fill="#e3acd1" stroke="#9a9a9a" stroke-width="0.8"/>
<circle cx="1281.5" cy="1130.5" r="8.5" fill="#dea3cc" stroke="#9a9a9a" stroke-width="0.8"/>
<circle cx="1304.7" cy="1130.5" r="10" fill="#cf7ab5" stroke="#9a9a9a" stroke-width="0.8"/>
<rect x="1193.4" y="890.6" width="130.0" height="270.2" fill="none" stroke="#222" stroke-width="1.5"/>
<path d="M1205,890.6 V880.9 H1311.5 V890.6" fill="none" stroke="#111" stroke-width="2.4"/>
<text transform="translate(1258.2,871.5)" font-size="21.5" text-anchor="middle">SC-α</text>
<path d="M1212,1160.8 v5.5 M1235.3,1160.8 v5.5 M1258.3,1160.8 v5.5 M1281.5,1160.8 v5.5 M1304.7,1160.8 v5.5" stroke="#222" stroke-width="1.3"/>
<text transform="translate(1219.7,1173.4) rotate(-90)" font-size="21.5" text-anchor="end">GCG</text>
<text transform="translate(1243.0,1173.4) rotate(-90)" font-size="21.5" text-anchor="end">ARX</text>
<text transform="translate(1266.0,1173.4) rotate(-90)" font-size="21.5" text-anchor="end">DPP4</text>
<text transform="translate(1289.2,1173.4) rotate(-90)" font-size="21.5" text-anchor="end">ETV1</text>
<text transform="translate(1312.4,1173.4) rotate(-90)" font-size="21.5" text-anchor="end">IRX2</text>
<circle cx="1372" cy="920.5" r="6.5" fill="#f8f2f2" stroke="#9a9a9a" stroke-width="0.8"/>
<circle cx="1397.8" cy="920.5" r="3" fill="#ffffff" stroke="#9a9a9a" stroke-width="0.8"/>
<circle cx="1423.4" cy="920.5" r="3.8" fill="#ffffff" stroke="#9a9a9a" stroke-width="0.8"/>
<circle cx="1372" cy="950.5" r="5.6" fill="#fcf9f9" stroke="#9a9a9a" stroke-width="0.8"/>
<circle cx="1397.8" cy="950.5" r="6.8" fill="#f0e4e4" stroke="#9a9a9a" stroke-width="0.8"/>
<circle cx="1423.4" cy="950.5" r="3.5" fill="#ffffff" stroke="#9a9a9a" stroke-width="0.8"/>
<circle cx="1372" cy="980.5" r="4.2" fill="#ffffff" stroke="#9a9a9a" stroke-width="0.8"/>
<circle cx="1397.8" cy="980.5" r="2.3" fill="#ffffff" stroke="#9a9a9a" stroke-width="0.8"/>
<circle cx="1423.4" cy="980.5" r="1.5" fill="#999" stroke="#9a9a9a" stroke-width="0.8"/>
<circle cx="1372" cy="1010.5" r="10.8" fill="#e9d6d7" stroke="#9a9a9a" stroke-width="0.8"/>
<circle cx="1397.8" cy="1010.5" r="8.7" fill="#ead8d9" stroke="#9a9a9a" stroke-width="0.8"/>
<circle cx="1423.4" cy="1010.5" r="8.3" fill="#ead8d9" stroke="#9a9a9a" stroke-width="0.8"/>
<circle cx="1372" cy="1040.5" r="7" fill="#f8f0f0" stroke="#9a9a9a" stroke-width="0.8"/>
<circle cx="1397.8" cy="1040.5" r="4.5" fill="#ffffff" stroke="#9a9a9a" stroke-width="0.8"/>
<circle cx="1423.4" cy="1040.5" r="5.3" fill="#f6eded" stroke="#9a9a9a" stroke-width="0.8"/>
<circle cx="1372" cy="1070.5" r="8.3" fill="#f6eded" stroke="#9a9a9a" stroke-width="0.8"/>
<circle cx="1397.8" cy="1070.5" r="2.3" fill="#ffffff" stroke="#9a9a9a" stroke-width="0.8"/>
<circle cx="1423.4" cy="1070.5" r="2.3" fill="#ffffff" stroke="#9a9a9a" stroke-width="0.8"/>
<circle cx="1372" cy="1100.5" r="4.5" fill="#ffffff" stroke="#9a9a9a" stroke-width="0.8"/>
<circle cx="1397.8" cy="1100.5" r="3.8" fill="#ffffff" stroke="#9a9a9a" stroke-width="0.8"/>
<circle cx="1423.4" cy="1100.5" r="1.8" fill="#ffffff" stroke="#9a9a9a" stroke-width="0.8"/>
<circle cx="1372" cy="1130.5" r="6.3" fill="#fdfafa" stroke="#9a9a9a" stroke-width="0.8"/>
<circle cx="1397.8" cy="1130.5" r="4.8" fill="#fcf8f8" stroke="#9a9a9a" stroke-width="0.8"/>
<circle cx="1423.4" cy="1130.5" r="3.8" fill="#ffffff" stroke="#9a9a9a" stroke-width="0.8"/>
<rect x="1351.4" y="890.6" width="92.9" height="270.2" fill="none" stroke="#222" stroke-width="1.5"/>
<path d="M1364,890.6 V880.9 H1429 V890.6" fill="none" stroke="#111" stroke-width="2.4"/>
<text transform="translate(1396.5,871.5)" font-size="21.5" text-anchor="middle">SC-EC</text>
<path d="M1372,1160.8 v5.5 M1397.8,1160.8 v5.5 M1423.4,1160.8 v5.5" stroke="#222" stroke-width="1.3"/>
<text transform="translate(1379.7,1173.4) rotate(-90)" font-size="21.5" text-anchor="end">TPH1</text>
<text transform="translate(1405.5,1173.4) rotate(-90)" font-size="21.5" text-anchor="end">SLC18A1</text>
<text transform="translate(1431.1,1173.4) rotate(-90)" font-size="21.5" text-anchor="end">LMX1A</text>
<circle cx="1484.6" cy="920.5" r="9.6" fill="#e5d27e" stroke="#9a9a9a" stroke-width="0.8"/>
<circle cx="1510.4" cy="920.5" r="9.2" fill="#e2cc6a" stroke="#9a9a9a" stroke-width="0.8"/>
<circle cx="1535.9" cy="920.5" r="1.3" fill="#888"/>
<circle cx="1484.6" cy="950.5" r="10.2" fill="#e2cb65" stroke="#9a9a9a" stroke-width="0.8"/>
<circle cx="1510.4" cy="950.5" r="5.5" fill="#f7f4d9" stroke="#9a9a9a" stroke-width="0.8"/>
<circle cx="1535.9" cy="950.5" r="2.8" fill="#ffffff" stroke="#9a9a9a" stroke-width="0.8"/>
<circle cx="1484.6" cy="980.5" r="4.6" fill="#ffffff" stroke="#9a9a9a" stroke-width="0.8"/>
<circle cx="1510.4" cy="980.5" r="3.3" fill="#ffffff" stroke="#9a9a9a" stroke-width="0.8"/>
<circle cx="1535.9" cy="980.5" r="2.2" fill="#ffffff" stroke="#9a9a9a" stroke-width="0.8"/>
<circle cx="1484.6" cy="1010.5" r="8.7" fill="#efe6b0" stroke="#9a9a9a" stroke-width="0.8"/>
<circle cx="1510.4" cy="1010.5" r="5.5" fill="#fbf9ea" stroke="#9a9a9a" stroke-width="0.8"/>
<circle cx="1535.9" cy="1010.5" r="4" fill="#ffffff" stroke="#9a9a9a" stroke-width="0.8"/>
<circle cx="1484.6" cy="1040.5" r="11" fill="#e2cb65" stroke="#9a9a9a" stroke-width="0.8"/>
<circle cx="1510.4" cy="1040.5" r="8.9" fill="#e9d990" stroke="#9a9a9a" stroke-width="0.8"/>
<circle cx="1535.9" cy="1040.5" r="1.3" fill="#999" stroke="#9a9a9a" stroke-width="0.8"/>
<circle cx="1484.6" cy="1070.5" r="8.7" fill="#f5efcc" stroke="#9a9a9a" stroke-width="0.8"/>
<circle cx="1510.4" cy="1070.5" r="11.5" fill="#e2cb65" stroke="#9a9a9a" stroke-width="0.8"/>
<circle cx="1535.9" cy="1070.5" r="9.6" fill="#e2cb65" stroke="#9a9a9a" stroke-width="0.8"/>
<circle cx="1484.6" cy="1100.5" r="5.5" fill="#ffffff" stroke="#9a9a9a" stroke-width="0.8"/>
<circle cx="1510.4" cy="1100.5" r="6.5" fill="#fbfaea" stroke="#9a9a9a" stroke-width="0.8"/>
<circle cx="1535.9" cy="1100.5" r="7.8" fill="#f7f4d9" stroke="#9a9a9a" stroke-width="0.8"/>
<circle cx="1484.6" cy="1130.5" r="8.9" fill="#f0e9b6" stroke="#9a9a9a" stroke-width="0.8"/>
<circle cx="1510.4" cy="1130.5" r="7" fill="#f6f2d4" stroke="#9a9a9a" stroke-width="0.8"/>
<circle cx="1535.9" cy="1130.5" r="3.1" fill="#ffffff" stroke="#9a9a9a" stroke-width="0.8"/>
<rect x="1463.9" y="890.6" width="92.8" height="270.2" fill="none" stroke="#222" stroke-width="1.5"/>
<path d="M1476.4,890.6 V880.9 H1541.2 V890.6" fill="none" stroke="#111" stroke-width="2.4"/>
<text transform="translate(1508.8,871.5)" font-size="21.5" text-anchor="middle">PP</text>
<path d="M1484.6,1160.8 v5.5 M1510.4,1160.8 v5.5 M1535.9,1160.8 v5.5" stroke="#222" stroke-width="1.3"/>
<text transform="translate(1492.3,1173.4) rotate(-90)" font-size="21.5" text-anchor="end">NKX6.1</text>
<text transform="translate(1518.1,1173.4) rotate(-90)" font-size="21.5" text-anchor="end">PDX1</text>
<text transform="translate(1543.6,1173.4) rotate(-90)" font-size="21.5" text-anchor="end">SOX9</text>
<circle cx="1597.2" cy="920.5" r="2.8" fill="#ffffff" stroke="#9a9a9a" stroke-width="0.8"/>
<circle cx="1622.9" cy="920.5" r="2.2" fill="#ffffff" stroke="#9a9a9a" stroke-width="0.8"/>
<circle cx="1648.6" cy="920.5" r="4.6" fill="#ffffff" stroke="#9a9a9a" stroke-width="0.8"/>
<circle cx="1597.2" cy="950.5" r="2.2" fill="#ffffff" stroke="#9a9a9a" stroke-width="0.8"/>
<circle cx="1622.9" cy="950.5" r="2.8" fill="#ffffff" stroke="#9a9a9a" stroke-width="0.8"/>
<circle cx="1648.6" cy="950.5" r="4.6" fill="#ffffff" stroke="#9a9a9a" stroke-width="0.8"/>
<circle cx="1597.2" cy="980.5" r="4.2" fill="#ffffff" stroke="#9a9a9a" stroke-width="0.8"/>
<circle cx="1622.9" cy="980.5" r="3.3" fill="#ffffff" stroke="#9a9a9a" stroke-width="0.8"/>
<circle cx="1648.6" cy="980.5" r="4.2" fill="#ffffff" stroke="#9a9a9a" stroke-width="0.8"/>
<circle cx="1597.2" cy="1010.5" r="5" fill="#ffffff" stroke="#9a9a9a" stroke-width="0.8"/>
<circle cx="1622.9" cy="1010.5" r="3.1" fill="#ffffff" stroke="#9a9a9a" stroke-width="0.8"/>
<circle cx="1648.6" cy="1010.5" r="5" fill="#ffffff" stroke="#9a9a9a" stroke-width="0.8"/>
<circle cx="1597.2" cy="1040.5" r="3.1" fill="#ffffff" stroke="#9a9a9a" stroke-width="0.8"/>
<circle cx="1622.9" cy="1040.5" r="2.8" fill="#ffffff" stroke="#9a9a9a" stroke-width="0.8"/>
<circle cx="1648.6" cy="1040.5" r="6.5" fill="#fafafa" stroke="#9a9a9a" stroke-width="0.8"/>
<circle cx="1597.2" cy="1070.5" r="3.7" fill="#ffffff" stroke="#9a9a9a" stroke-width="0.8"/>
<circle cx="1622.9" cy="1070.5" r="3.1" fill="#ffffff" stroke="#9a9a9a" stroke-width="0.8"/>
<circle cx="1648.6" cy="1070.5" r="5" fill="#ffffff" stroke="#9a9a9a" stroke-width="0.8"/>
<circle cx="1597.2" cy="1100.5" r="11.6" fill="#b8bbb5" stroke="#9a9a9a" stroke-width="0.8"/>
<circle cx="1622.9" cy="1100.5" r="11.5" fill="#b8bbb5" stroke="#9a9a9a" stroke-width="0.8"/>
<circle cx="1648.6" cy="1100.5" r="11.6" fill="#b8bbb5" stroke="#9a9a9a" stroke-width="0.8"/>
<circle cx="1597.2" cy="1130.5" r="4" fill="#ffffff" stroke="#9a9a9a" stroke-width="0.8"/>
<circle cx="1622.9" cy="1130.5" r="3.3" fill="#ffffff" stroke="#9a9a9a" stroke-width="0.8"/>
<circle cx="1648.6" cy="1130.5" r="5.9" fill="#ffffff" stroke="#9a9a9a" stroke-width="0.8"/>
<rect x="1576.5" y="890.6" width="93.1" height="270.2" fill="none" stroke="#222" stroke-width="1.5"/>
<path d="M1589,890.6 V880.9 H1654 V890.6" fill="none" stroke="#111" stroke-width="2.4"/>
<text transform="translate(1621.5,871.5)" font-size="21.5" text-anchor="middle">GHRL</text>
<path d="M1597.2,1160.8 v5.5 M1622.9,1160.8 v5.5 M1648.6,1160.8 v5.5" stroke="#222" stroke-width="1.3"/>
<text transform="translate(1604.9,1173.4) rotate(-90)" font-size="21.5" text-anchor="end">ACSL1</text>
<text transform="translate(1630.6,1173.4) rotate(-90)" font-size="21.5" text-anchor="end">GHRL</text>
<text transform="translate(1656.3,1173.4) rotate(-90)" font-size="21.5" text-anchor="end">THSD4</text>
<circle cx="1709" cy="920.5" r="1.2" fill="#999"/>
<circle cx="1732.6" cy="920.5" r="0.9" fill="#aaa"/>
<circle cx="1757" cy="920.5" r="1.1" fill="#999"/>
<circle cx="1781.2" cy="920.5" r="8.9" fill="#ffffff" stroke="#9a9a9a" stroke-width="0.8"/>
<circle cx="1709" cy="950.5" r="1.2" fill="#999"/>
<circle cx="1732.6" cy="950.5" r="0.9" fill="#aaa"/>
<circle cx="1757" cy="950.5" r="1.1" fill="#999"/>
<circle cx="1781.2" cy="950.5" r="8.9" fill="#f3cdb6" stroke="#9a9a9a" stroke-width="0.8"/>
<circle cx="1709" cy="980.5" r="1.2" fill="#999"/>
<circle cx="1732.6" cy="980.5" r="0.9" fill="#aaa"/>
<circle cx="1757" cy="980.5" r="1.1" fill="#999"/>
<circle cx="1781.2" cy="980.5" r="9.6" fill="#f8e8e0" stroke="#9a9a9a" stroke-width="0.8"/>
<circle cx="1709" cy="1010.5" r="1.2" fill="#999"/>
<circle cx="1732.6" cy="1010.5" r="0.9" fill="#aaa"/>
<circle cx="1757" cy="1010.5" r="1.1" fill="#999"/>
<circle cx="1781.2" cy="1010.5" r="9.6" fill="#fbf1ec" stroke="#9a9a9a" stroke-width="0.8"/>
<circle cx="1709" cy="1040.5" r="1.2" fill="#999"/>
<circle cx="1732.6" cy="1040.5" r="0.9" fill="#aaa"/>
<circle cx="1757" cy="1040.5" r="1.1" fill="#999"/>
<circle cx="1781.2" cy="1040.5" r="9.6" fill="#fbf1ec" stroke="#9a9a9a" stroke-width="0.8"/>
<circle cx="1709" cy="1070.5" r="3.7" fill="#f2c6b0" stroke="#9a9a9a" stroke-width="0.8"/>
<circle cx="1732.6" cy="1070.5" r="2.4" fill="#f2c6b0" stroke="#9a9a9a" stroke-width="0.8"/>
<circle cx="1757" cy="1070.5" r="3.1" fill="#f2c6b0" stroke="#9a9a9a" stroke-width="0.8"/>
<circle cx="1781.2" cy="1070.5" r="9.8" fill="#f8e5da" stroke="#9a9a9a" stroke-width="0.8"/>
<circle cx="1709" cy="1100.5" r="1.4" fill="#999" stroke="#9a9a9a" stroke-width="0.8"/>
<circle cx="1732.6" cy="1100.5" r="0.9" fill="#aaa"/>
<circle cx="1757" cy="1100.5" r="1.3" fill="#999"/>
<circle cx="1781.2" cy="1100.5" r="9.6" fill="#fbf3ef" stroke="#9a9a9a" stroke-width="0.8"/>
<circle cx="1709" cy="1130.5" r="9.2" fill="#e8763a" stroke="#9a9a9a" stroke-width="0.8"/>
<circle cx="1732.6" cy="1130.5" r="7.8" fill="#e8763a" stroke="#9a9a9a" stroke-width="0.8"/>
<circle cx="1757" cy="1130.5" r="8.9" fill="#e8763a" stroke="#9a9a9a" stroke-width="0.8"/>
<circle cx="1781.2" cy="1130.5" r="11.1" fill="#e8763a" stroke="#9a9a9a" stroke-width="0.8"/>
<rect x="1689.6" y="890.6" width="110.8" height="270.2" fill="none" stroke="#222" stroke-width="1.5"/>
<path d="M1700.9,890.6 V880.9 H1786.6 V890.6" fill="none" stroke="#111" stroke-width="2.4"/>
<text transform="translate(1743.8,871.5)" font-size="21.5" text-anchor="middle">Proliferating</text>
<path d="M1709,1160.8 v5.5 M1732.6,1160.8 v5.5 M1757,1160.8 v5.5 M1781.2,1160.8 v5.5" stroke="#222" stroke-width="1.3"/>
<text transform="translate(1716.7,1173.4) rotate(-90)" font-size="21.5" text-anchor="end">CENPK</text>
<text transform="translate(1740.3,1173.4) rotate(-90)" font-size="21.5" text-anchor="end">MKI67</text>
<text transform="translate(1764.7,1173.4) rotate(-90)" font-size="21.5" text-anchor="end">TPX2</text>
<text transform="translate(1788.9,1173.4) rotate(-90)" font-size="21.5" text-anchor="end">TUBA1B</text>
<line x1="940" y1="920.5" x2="945.6" y2="920.5" stroke="#222" stroke-width="1.3"/>
<text transform="translate(933.0,928.1)" font-size="21.5" text-anchor="end">SC-β INS<tspan font-size="14" dy="-8.5">high</tspan></text>
<line x1="940" y1="950.5" x2="945.6" y2="950.5" stroke="#222" stroke-width="1.3"/>
<text transform="translate(933.0,958.1)" font-size="21.5" text-anchor="end">SC-β INS<tspan font-size="14" dy="-8.5">low</tspan></text>
<line x1="940" y1="980.5" x2="945.6" y2="980.5" stroke="#222" stroke-width="1.3"/>
<text transform="translate(933.0,988.1)" font-size="21.5" text-anchor="end">SC-α</text>
<line x1="940" y1="1010.5" x2="945.6" y2="1010.5" stroke="#222" stroke-width="1.3"/>
<text transform="translate(933.0,1018.1)" font-size="21.5" text-anchor="end">SC-EC</text>
<line x1="940" y1="1040.5" x2="945.6" y2="1040.5" stroke="#222" stroke-width="1.3"/>
<text transform="translate(933.0,1048.1)" font-size="21.5" text-anchor="end">NKX6.1<tspan font-size="15" dy="-8.5">+</tspan></text>
<line x1="940" y1="1070.5" x2="945.6" y2="1070.5" stroke="#222" stroke-width="1.3"/>
<text transform="translate(933.0,1078.1)" font-size="21.5" text-anchor="end">PDX1<tspan font-size="15" dy="-8.5">+</tspan></text>
<line x1="940" y1="1100.5" x2="945.6" y2="1100.5" stroke="#222" stroke-width="1.3"/>
<text transform="translate(933.0,1108.1)" font-size="21.5" text-anchor="end">Other</text>
<line x1="940" y1="1130.5" x2="945.6" y2="1130.5" stroke="#222" stroke-width="1.3"/>
<text transform="translate(933.0,1138.1)" font-size="21.5" text-anchor="end">Proliferating</text>
<text transform="translate(1930.3,956.3)" font-size="16.4" text-anchor="middle">Fraction of cells</text>
<text transform="translate(1930.3,974.0)" font-size="16.4" text-anchor="middle">in group (%)</text>
<circle cx="1880" cy="991.7" r="3.5" fill="#777" stroke="#666" stroke-width="0.6"/>
<line x1="1880" y1="1005.6" x2="1880" y2="1010.5" stroke="#222" stroke-width="1.2"/>
<circle cx="1903.3" cy="991.7" r="5.2" fill="#777" stroke="#666" stroke-width="0.6"/>
<line x1="1903.3" y1="1005.6" x2="1903.3" y2="1010.5" stroke="#222" stroke-width="1.2"/>
<circle cx="1926.7" cy="991.7" r="7" fill="#777" stroke="#666" stroke-width="0.6"/>
<line x1="1926.7" y1="1005.6" x2="1926.7" y2="1010.5" stroke="#222" stroke-width="1.2"/>
<circle cx="1950" cy="991.7" r="8.7" fill="#777" stroke="#666" stroke-width="0.6"/>
<line x1="1950" y1="1005.6" x2="1950" y2="1010.5" stroke="#222" stroke-width="1.2"/>
<circle cx="1973.8" cy="991.7" r="10.1" fill="#777" stroke="#666" stroke-width="0.6"/>
<line x1="1973.8" y1="1005.6" x2="1973.8" y2="1010.5" stroke="#222" stroke-width="1.2"/>
<text transform="translate(1880.0,1028.0)" font-size="16.4" text-anchor="middle">20</text>
<text transform="translate(1903.3,1028.0)" font-size="16.4" text-anchor="middle">40</text>
<text transform="translate(1926.7,1028.0)" font-size="16.4" text-anchor="middle">60</text>
<text transform="translate(1962.0,1028.0)" font-size="16.4" text-anchor="middle">80100</text>
<text transform="translate(1930.3,1049.3)" font-size="16.4" text-anchor="middle">Mean expression</text>
<text transform="translate(1931.0,1066.0)" font-size="16.4" text-anchor="middle">in group</text>
<defs><linearGradient id="cbG2" x1="0" x2="1"><stop offset="0" stop-color="#fbfafd"/><stop offset="0.5" stop-color="#cbbde0"/><stop offset="1" stop-color="#7a57a0"/></linearGradient></defs>
<rect x="1871.3" y="1074.7" width="118.5" height="13.9" fill="url(#cbG2)" stroke="#222" stroke-width="1.2"/>
<line x1="1887" y1="1088.6" x2="1887" y2="1092.5" stroke="#222" stroke-width="1"/>
<line x1="1923.4" y1="1088.6" x2="1923.4" y2="1092.5" stroke="#222" stroke-width="1"/>
<line x1="1961" y1="1088.6" x2="1961" y2="1092.5" stroke="#222" stroke-width="1"/>
<text transform="translate(1877.5,1112.0)" font-size="16.4" text-anchor="middle">0.25</text>
<text transform="translate(1924.8,1112.0)" font-size="16.4" text-anchor="middle">0.5</text>
<text transform="translate(1970.0,1112.0)" font-size="16.4" text-anchor="middle">0.75</text>
<text transform="translate(757.0,878.0)" font-size="68">g</text>
<rect x="347.6" y="1439.4" width="200.6" height="421.2" fill="#fff"/>
<line x1="350.6" y1="1460.2" x2="545.2" y2="1460.2" stroke="#ececec" stroke-width="1"/>
<line x1="347.6" y1="1460.2" x2="351.6" y2="1460.2" stroke="#555" stroke-width="1"/>
<line x1="544.2" y1="1460.2" x2="548.2" y2="1460.2" stroke="#555" stroke-width="1"/>
<line x1="350.6" y1="1502.6" x2="545.2" y2="1502.6" stroke="#ececec" stroke-width="1"/>
<line x1="347.6" y1="1502.6" x2="351.6" y2="1502.6" stroke="#555" stroke-width="1"/>
<line x1="544.2" y1="1502.6" x2="548.2" y2="1502.6" stroke="#555" stroke-width="1"/>
<line x1="350.6" y1="1545.0" x2="545.2" y2="1545.0" stroke="#ececec" stroke-width="1"/>
<line x1="347.6" y1="1545.0" x2="351.6" y2="1545.0" stroke="#555" stroke-width="1"/>
<line x1="544.2" y1="1545.0" x2="548.2" y2="1545.0" stroke="#555" stroke-width="1"/>
<line x1="350.6" y1="1587.3" x2="545.2" y2="1587.3" stroke="#ececec" stroke-width="1"/>
<line x1="347.6" y1="1587.3" x2="351.6" y2="1587.3" stroke="#555" stroke-width="1"/>
<line x1="544.2" y1="1587.3" x2="548.2" y2="1587.3" stroke="#555" stroke-width="1"/>
<line x1="350.6" y1="1629.6" x2="545.2" y2="1629.6" stroke="#ececec" stroke-width="1"/>
<line x1="347.6" y1="1629.6" x2="351.6" y2="1629.6" stroke="#555" stroke-width="1"/>
<line x1="544.2" y1="1629.6" x2="548.2" y2="1629.6" stroke="#555" stroke-width="1"/>
<line x1="350.6" y1="1671.5" x2="545.2" y2="1671.5" stroke="#ececec" stroke-width="1"/>
<line x1="347.6" y1="1671.5" x2="351.6" y2="1671.5" stroke="#555" stroke-width="1"/>
<line x1="544.2" y1="1671.5" x2="548.2" y2="1671.5" stroke="#555" stroke-width="1"/>
<line x1="350.6" y1="1713.3" x2="545.2" y2="1713.3" stroke="#ececec" stroke-width="1"/>
<line x1="347.6" y1="1713.3" x2="351.6" y2="1713.3" stroke="#555" stroke-width="1"/>
<line x1="544.2" y1="1713.3" x2="548.2" y2="1713.3" stroke="#555" stroke-width="1"/>
<line x1="350.6" y1="1755.5" x2="545.2" y2="1755.5" stroke="#ececec" stroke-width="1"/>
<line x1="347.6" y1="1755.5" x2="351.6" y2="1755.5" stroke="#555" stroke-width="1"/>
<line x1="544.2" y1="1755.5" x2="548.2" y2="1755.5" stroke="#555" stroke-width="1"/>
<line x1="350.6" y1="1797.6" x2="545.2" y2="1797.6" stroke="#ececec" stroke-width="1"/>
<line x1="347.6" y1="1797.6" x2="351.6" y2="1797.6" stroke="#555" stroke-width="1"/>
<line x1="544.2" y1="1797.6" x2="548.2" y2="1797.6" stroke="#555" stroke-width="1"/>
<line x1="350.6" y1="1839.6" x2="545.2" y2="1839.6" stroke="#ececec" stroke-width="1"/>
<line x1="347.6" y1="1839.6" x2="351.6" y2="1839.6" stroke="#555" stroke-width="1"/>
<line x1="544.2" y1="1839.6" x2="548.2" y2="1839.6" stroke="#555" stroke-width="1"/>
<rect x="564.0" y="1439.4" width="216.4" height="421.2" fill="#fff"/>
<line x1="567.0" y1="1460.2" x2="777.4" y2="1460.2" stroke="#ececec" stroke-width="1"/>
<line x1="564.0" y1="1460.2" x2="568.0" y2="1460.2" stroke="#555" stroke-width="1"/>
<line x1="776.4" y1="1460.2" x2="780.4" y2="1460.2" stroke="#555" stroke-width="1"/>
<line x1="567.0" y1="1502.6" x2="777.4" y2="1502.6" stroke="#ececec" stroke-width="1"/>
<line x1="564.0" y1="1502.6" x2="568.0" y2="1502.6" stroke="#555" stroke-width="1"/>
<line x1="776.4" y1="1502.6" x2="780.4" y2="1502.6" stroke="#555" stroke-width="1"/>
<line x1="567.0" y1="1545.0" x2="777.4" y2="1545.0" stroke="#ececec" stroke-width="1"/>
<line x1="564.0" y1="1545.0" x2="568.0" y2="1545.0" stroke="#555" stroke-width="1"/>
<line x1="776.4" y1="1545.0" x2="780.4" y2="1545.0" stroke="#555" stroke-width="1"/>
<line x1="567.0" y1="1587.3" x2="777.4" y2="1587.3" stroke="#ececec" stroke-width="1"/>
<line x1="564.0" y1="1587.3" x2="568.0" y2="1587.3" stroke="#555" stroke-width="1"/>
<line x1="776.4" y1="1587.3" x2="780.4" y2="1587.3" stroke="#555" stroke-width="1"/>
<line x1="567.0" y1="1629.6" x2="777.4" y2="1629.6" stroke="#ececec" stroke-width="1"/>
<line x1="564.0" y1="1629.6" x2="568.0" y2="1629.6" stroke="#555" stroke-width="1"/>
<line x1="776.4" y1="1629.6" x2="780.4" y2="1629.6" stroke="#555" stroke-width="1"/>
<line x1="567.0" y1="1671.5" x2="777.4" y2="1671.5" stroke="#ececec" stroke-width="1"/>
<line x1="564.0" y1="1671.5" x2="568.0" y2="1671.5" stroke="#555" stroke-width="1"/>
<line x1="776.4" y1="1671.5" x2="780.4" y2="1671.5" stroke="#555" stroke-width="1"/>
<line x1="567.0" y1="1713.3" x2="777.4" y2="1713.3" stroke="#ececec" stroke-width="1"/>
<line x1="564.0" y1="1713.3" x2="568.0" y2="1713.3" stroke="#555" stroke-width="1"/>
<line x1="776.4" y1="1713.3" x2="780.4" y2="1713.3" stroke="#555" stroke-width="1"/>
<line x1="567.0" y1="1755.5" x2="777.4" y2="1755.5" stroke="#ececec" stroke-width="1"/>
<line x1="564.0" y1="1755.5" x2="568.0" y2="1755.5" stroke="#555" stroke-width="1"/>
<line x1="776.4" y1="1755.5" x2="780.4" y2="1755.5" stroke="#555" stroke-width="1"/>
<line x1="567.0" y1="1797.6" x2="777.4" y2="1797.6" stroke="#ececec" stroke-width="1"/>
<line x1="564.0" y1="1797.6" x2="568.0" y2="1797.6" stroke="#555" stroke-width="1"/>
<line x1="776.4" y1="1797.6" x2="780.4" y2="1797.6" stroke="#555" stroke-width="1"/>
<line x1="567.0" y1="1839.6" x2="777.4" y2="1839.6" stroke="#ececec" stroke-width="1"/>
<line x1="564.0" y1="1839.6" x2="568.0" y2="1839.6" stroke="#555" stroke-width="1"/>
<line x1="776.4" y1="1839.6" x2="780.4" y2="1839.6" stroke="#555" stroke-width="1"/>
<circle cx="514.9" cy="1460.2" r="13.7" fill="#1b3566"/>
<circle cx="440" cy="1502.6" r="10.4" fill="#94c6df"/>
<circle cx="418.7" cy="1545.0" r="12" fill="#4a8fc3"/>
<circle cx="404.6" cy="1587.3" r="10.4" fill="#d3e6f0"/>
<circle cx="367.1" cy="1629.6" r="8.7" fill="#d5e7f1"/>
<circle cx="710.9" cy="1671.5" r="10.4" fill="#d6604d"/>
<circle cx="698" cy="1713.3" r="11.7" fill="#d35a49"/>
<circle cx="675.5" cy="1755.5" r="9.2" fill="#e99a7a"/>
<circle cx="631.8" cy="1797.6" r="12.9" fill="#d45a4a"/>
<circle cx="631.8" cy="1839.6" r="10.8" fill="#e99a7a"/>
<rect x="347.6" y="1439.4" width="200.6" height="421.2" fill="none" stroke="#555" stroke-width="1.3"/>
<rect x="564.0" y="1439.4" width="216.4" height="421.2" fill="none" stroke="#555" stroke-width="1.3"/>
<path d="M428.5,1439.4 v4 M428.5,1860.6 v-4 M428.5,1860.6 v3" stroke="#555" stroke-width="1"/>
<path d="M537.0,1439.4 v4 M537.0,1860.6 v-4 M537.0,1860.6 v3" stroke="#555" stroke-width="1"/>
<path d="M581.6,1439.4 v4 M581.6,1860.6 v-4 M581.6,1860.6 v3" stroke="#555" stroke-width="1"/>
<path d="M671.6,1439.4 v4 M671.6,1860.6 v-4 M671.6,1860.6 v3" stroke="#555" stroke-width="1"/>
<path d="M762.7,1439.4 v4 M762.7,1860.6 v-4 M762.7,1860.6 v3" stroke="#555" stroke-width="1"/>
<text transform="translate(428.7,1883.5)" font-size="21.5" text-anchor="middle">2</text>
<text transform="translate(537.0,1883.5)" font-size="21.5" text-anchor="middle">4</text>
<text transform="translate(581.5,1883.5)" font-size="21.5" text-anchor="middle">1</text>
<text transform="translate(671.4,1883.5)" font-size="21.5" text-anchor="middle">2</text>
<text transform="translate(763.0,1883.5)" font-size="21.5" text-anchor="middle">3</text>
<text transform="translate(446.4,1913.5)" font-size="21.5" text-anchor="middle">-log<tspan font-size="14" dy="5">10</tspan><tspan dy="-5"> (adjusted p-val)</tspan></text>
<text transform="translate(673.3,1913.5)" font-size="21.5" text-anchor="middle">-log<tspan font-size="14" dy="5">10</tspan><tspan dy="-5"> (adjusted p-val)</tspan></text>
<text transform="translate(334.2,1467.9)" font-size="21.5" text-anchor="end">Fructose and mannose metabolism</text>
<text transform="translate(334.2,1510.3)" font-size="21.5" text-anchor="end">Glycolysis</text>
<text transform="translate(334.2,1552.7)" font-size="21.5" text-anchor="end">Galactose metabolism</text>
<text transform="translate(334.2,1595.0)" font-size="21.5" text-anchor="end">Carbon metabolism</text>
<text transform="translate(334.2,1637.3)" font-size="21.5" text-anchor="end">HIF-1 signaling</text>
<text transform="translate(334.2,1679.2)" font-size="21.5" text-anchor="end">Insulin secretion</text>
<text transform="translate(334.2,1721.0)" font-size="21.5" text-anchor="end">Type II diabetes mellitus</text>
<text transform="translate(334.2,1763.2)" font-size="21.5" text-anchor="end">Insulin resistance</text>
<text transform="translate(334.2,1805.3)" font-size="21.5" text-anchor="end">Terpenoid backbone biosynthesis</text>
<text transform="translate(334.2,1847.3)" font-size="21.5" text-anchor="end">cAMP signaling</text>
<text transform="translate(400.5,1337.0)" font-size="21.4" text-anchor="middle">15%</text>
<text transform="translate(482.0,1337.0)" font-size="21.4" text-anchor="middle">37%</text>
<circle cx="401.4" cy="1359" r="8.2" fill="#858585"/>
<circle cx="440" cy="1359" r="11" fill="#858585"/>
<circle cx="478.7" cy="1359" r="12.9" fill="#858585"/>
<text transform="translate(441.5,1417.0)" font-size="21.5" text-anchor="middle">Upregulated</text>
<text transform="translate(675.4,1330.8)" font-size="21.6" text-anchor="middle">score</text>
<rect x="597.4" y="1340.3" width="24.4" height="29.9" fill="#6a0a22"/>
<rect x="621.5" y="1340.3" width="16.2" height="29.9" fill="#d6604d"/>
<rect x="637.4" y="1340.3" width="16.5" height="29.9" fill="#e99b7c"/>
<rect x="653.6" y="1340.3" width="16.2" height="29.9" fill="#f6d8c6"/>
<rect x="669.5" y="1340.3" width="16.2" height="29.9" fill="#d5e8f1"/>
<rect x="685.4" y="1340.3" width="16.2" height="29.9" fill="#99cbe1"/>
<rect x="701.3" y="1340.3" width="16.5" height="29.9" fill="#5a9dca"/>
<rect x="717.5" y="1340.3" width="16.0" height="29.9" fill="#3c6eb0"/>
<rect x="733.2" y="1340.3" width="24.6" height="29.9" fill="#1d3866"/>
<text transform="translate(594.5,1389.0)" font-size="21.5" text-anchor="middle">-1</text>
<text transform="translate(675.6,1389.0)" font-size="21.5" text-anchor="middle">0</text>
<text transform="translate(751.8,1389.0)" font-size="21.5" text-anchor="middle">1</text>
<text transform="translate(673.6,1417.0)" font-size="21.5" text-anchor="middle">Downregulated</text>
<text transform="translate(-2.0,1361.0)" font-size="68">h</text>
<rect x="923.0" y="1387.4" width="50.7" height="48.7" fill="#f9e9e0" stroke="#c8c8c8" stroke-opacity="0.5" stroke-width="0.8"/>
<rect x="973.5" y="1387.4" width="50.7" height="48.7" fill="#f3b99e" stroke="#c8c8c8" stroke-opacity="0.5" stroke-width="0.8"/>
<rect x="1024.1" y="1387.4" width="50.7" height="48.7" fill="#fad7c2" stroke="#c8c8c8" stroke-opacity="0.5" stroke-width="0.8"/>
<rect x="1074.6" y="1387.4" width="50.7" height="48.7" fill="#fadfce" stroke="#c8c8c8" stroke-opacity="0.5" stroke-width="0.8"/>
<rect x="1125.2" y="1387.4" width="50.7" height="48.7" fill="#fbddcb" stroke="#c8c8c8" stroke-opacity="0.5" stroke-width="0.8"/>
<rect x="1175.7" y="1387.4" width="50.7" height="48.7" fill="#fae3d7" stroke="#c8c8c8" stroke-opacity="0.5" stroke-width="0.8"/>
<rect x="1226.3" y="1387.4" width="50.7" height="48.7" fill="#d26a56" stroke="#c8c8c8" stroke-opacity="0.5" stroke-width="0.8"/>
<rect x="1276.8" y="1387.4" width="50.7" height="48.7" fill="#fae2d5" stroke="#c8c8c8" stroke-opacity="0.5" stroke-width="0.8"/>
<rect x="1327.3" y="1387.4" width="50.7" height="48.7" fill="#f7c9b2" stroke="#c8c8c8" stroke-opacity="0.5" stroke-width="0.8"/>
<rect x="1377.9" y="1387.4" width="50.7" height="48.7" fill="#f8cfb9" stroke="#c8c8c8" stroke-opacity="0.5" stroke-width="0.8"/>
<rect x="1428.4" y="1387.4" width="50.7" height="48.7" fill="#fae5d9" stroke="#c8c8c8" stroke-opacity="0.5" stroke-width="0.8"/>
<rect x="1479.0" y="1387.4" width="50.7" height="48.7" fill="#fae2d5" stroke="#c8c8c8" stroke-opacity="0.5" stroke-width="0.8"/>
<rect x="1529.5" y="1387.4" width="50.7" height="48.7" fill="#fae6db" stroke="#c8c8c8" stroke-opacity="0.5" stroke-width="0.8"/>
<rect x="1580.1" y="1387.4" width="50.7" height="48.7" fill="#df846c" stroke="#c8c8c8" stroke-opacity="0.5" stroke-width="0.8"/>
<rect x="1630.6" y="1387.4" width="50.7" height="48.7" fill="#fae5d9" stroke="#c8c8c8" stroke-opacity="0.5" stroke-width="0.8"/>
<rect x="1681.1" y="1387.4" width="50.7" height="48.7" fill="#f9e8de" stroke="#c8c8c8" stroke-opacity="0.5" stroke-width="0.8"/>
<rect x="1731.7" y="1387.4" width="50.7" height="48.7" fill="#f2b194" stroke="#c8c8c8" stroke-opacity="0.5" stroke-width="0.8"/>
<rect x="1782.2" y="1387.4" width="50.7" height="48.7" fill="#f9e8de" stroke="#c8c8c8" stroke-opacity="0.5" stroke-width="0.8"/>
<rect x="1832.8" y="1387.4" width="50.7" height="48.7" fill="#f3b69b" stroke="#c8c8c8" stroke-opacity="0.5" stroke-width="0.8"/>
<rect x="1883.3" y="1387.4" width="50.7" height="48.7" fill="#f4bca2" stroke="#c8c8c8" stroke-opacity="0.5" stroke-width="0.8"/>
<rect x="1933.9" y="1387.4" width="50.7" height="48.7" fill="#f7c9b2" stroke="#c8c8c8" stroke-opacity="0.5" stroke-width="0.8"/>
<rect x="923.0" y="1435.9" width="50.7" height="48.7" fill="#f8f4f2" stroke="#c8c8c8" stroke-opacity="0.5" stroke-width="0.8"/>
<rect x="973.5" y="1435.9" width="50.7" height="48.7" fill="#f8f3f0" stroke="#c8c8c8" stroke-opacity="0.5" stroke-width="0.8"/>
<rect x="1024.1" y="1435.9" width="50.7" height="48.7" fill="#f1f4f6" stroke="#c8c8c8" stroke-opacity="0.5" stroke-width="0.8"/>
<rect x="1074.6" y="1435.9" width="50.7" height="48.7" fill="#f1f4f6" stroke="#c8c8c8" stroke-opacity="0.5" stroke-width="0.8"/>
<rect x="1125.2" y="1435.9" width="50.7" height="48.7" fill="#f1f4f6" stroke="#c8c8c8" stroke-opacity="0.5" stroke-width="0.8"/>
<rect x="1175.7" y="1435.9" width="50.7" height="48.7" fill="#fbddcb" stroke="#c8c8c8" stroke-opacity="0.5" stroke-width="0.8"/>
<rect x="1226.3" y="1435.9" width="50.7" height="48.7" fill="#f9e9e0" stroke="#c8c8c8" stroke-opacity="0.5" stroke-width="0.8"/>
<rect x="1276.8" y="1435.9" width="50.7" height="48.7" fill="#f8ece5" stroke="#c8c8c8" stroke-opacity="0.5" stroke-width="0.8"/>
<rect x="1327.3" y="1435.9" width="50.7" height="48.7" fill="#ddeaf1" stroke="#c8c8c8" stroke-opacity="0.5" stroke-width="0.8"/>
<rect x="1377.9" y="1435.9" width="50.7" height="48.7" fill="#e8f0f4" stroke="#c8c8c8" stroke-opacity="0.5" stroke-width="0.8"/>
<rect x="1428.4" y="1435.9" width="50.7" height="48.7" fill="#f5f6f7" stroke="#c8c8c8" stroke-opacity="0.5" stroke-width="0.8"/>
<rect x="1479.0" y="1435.9" width="50.7" height="48.7" fill="#f8f1ed" stroke="#c8c8c8" stroke-opacity="0.5" stroke-width="0.8"/>
<rect x="1529.5" y="1435.9" width="50.7" height="48.7" fill="#f8f1ed" stroke="#c8c8c8" stroke-opacity="0.5" stroke-width="0.8"/>
<rect x="1580.1" y="1435.9" width="50.7" height="48.7" fill="#f9e9e0" stroke="#c8c8c8" stroke-opacity="0.5" stroke-width="0.8"/>
<rect x="1630.6" y="1435.9" width="50.7" height="48.7" fill="#f8f3f0" stroke="#c8c8c8" stroke-opacity="0.5" stroke-width="0.8"/>
<rect x="1681.1" y="1435.9" width="50.7" height="48.7" fill="#f5f6f7" stroke="#c8c8c8" stroke-opacity="0.5" stroke-width="0.8"/>
<rect x="1731.7" y="1435.9" width="50.7" height="48.7" fill="#f8f3f0" stroke="#c8c8c8" stroke-opacity="0.5" stroke-width="0.8"/>
<rect x="1782.2" y="1435.9" width="50.7" height="48.7" fill="#f5f6f7" stroke="#c8c8c8" stroke-opacity="0.5" stroke-width="0.8"/>
<rect x="1832.8" y="1435.9" width="50.7" height="48.7" fill="#dfebf1" stroke="#c8c8c8" stroke-opacity="0.5" stroke-width="0.8"/>
<rect x="1883.3" y="1435.9" width="50.7" height="48.7" fill="#f8f0ec" stroke="#c8c8c8" stroke-opacity="0.5" stroke-width="0.8"/>
<rect x="1933.9" y="1435.9" width="50.7" height="48.7" fill="#eaf1f5" stroke="#c8c8c8" stroke-opacity="0.5" stroke-width="0.8"/>
<rect x="923.0" y="1484.4" width="50.7" height="48.7" fill="#e1ecf2" stroke="#c8c8c8" stroke-opacity="0.5" stroke-width="0.8"/>
<rect x="973.5" y="1484.4" width="50.7" height="48.7" fill="#9bc7dd" stroke="#c8c8c8" stroke-opacity="0.5" stroke-width="0.8"/>
<rect x="1024.1" y="1484.4" width="50.7" height="48.7" fill="#cce2ed" stroke="#c8c8c8" stroke-opacity="0.5" stroke-width="0.8"/>
<rect x="1074.6" y="1484.4" width="50.7" height="48.7" fill="#d8e8f0" stroke="#c8c8c8" stroke-opacity="0.5" stroke-width="0.8"/>
<rect x="1125.2" y="1484.4" width="50.7" height="48.7" fill="#d4e6ef" stroke="#c8c8c8" stroke-opacity="0.5" stroke-width="0.8"/>
<rect x="1175.7" y="1484.4" width="50.7" height="48.7" fill="#95c4db" stroke="#c8c8c8" stroke-opacity="0.5" stroke-width="0.8"/>
<rect x="1226.3" y="1484.4" width="50.7" height="48.7" fill="#2f70ac" stroke="#c8c8c8" stroke-opacity="0.5" stroke-width="0.8"/>
<rect x="1276.8" y="1484.4" width="50.7" height="48.7" fill="#b4d4e5" stroke="#c8c8c8" stroke-opacity="0.5" stroke-width="0.8"/>
<rect x="1327.3" y="1484.4" width="50.7" height="48.7" fill="#d8e8f0" stroke="#c8c8c8" stroke-opacity="0.5" stroke-width="0.8"/>
<rect x="1377.9" y="1484.4" width="50.7" height="48.7" fill="#d4e6ef" stroke="#c8c8c8" stroke-opacity="0.5" stroke-width="0.8"/>
<rect x="1428.4" y="1484.4" width="50.7" height="48.7" fill="#dae9f0" stroke="#c8c8c8" stroke-opacity="0.5" stroke-width="0.8"/>
<rect x="1479.0" y="1484.4" width="50.7" height="48.7" fill="#cce2ed" stroke="#c8c8c8" stroke-opacity="0.5" stroke-width="0.8"/>
<rect x="1529.5" y="1484.4" width="50.7" height="48.7" fill="#d8e8f0" stroke="#c8c8c8" stroke-opacity="0.5" stroke-width="0.8"/>
<rect x="1580.1" y="1484.4" width="50.7" height="48.7" fill="#377cb2" stroke="#c8c8c8" stroke-opacity="0.5" stroke-width="0.8"/>
<rect x="1630.6" y="1484.4" width="50.7" height="48.7" fill="#d8e8f0" stroke="#c8c8c8" stroke-opacity="0.5" stroke-width="0.8"/>
<rect x="1681.1" y="1484.4" width="50.7" height="48.7" fill="#dbeaf1" stroke="#c8c8c8" stroke-opacity="0.5" stroke-width="0.8"/>
<rect x="1731.7" y="1484.4" width="50.7" height="48.7" fill="#9bc7dd" stroke="#c8c8c8" stroke-opacity="0.5" stroke-width="0.8"/>
<rect x="1782.2" y="1484.4" width="50.7" height="48.7" fill="#d8e8f0" stroke="#c8c8c8" stroke-opacity="0.5" stroke-width="0.8"/>
<rect x="1832.8" y="1484.4" width="50.7" height="48.7" fill="#c6deea" stroke="#c8c8c8" stroke-opacity="0.5" stroke-width="0.8"/>
<rect x="1883.3" y="1484.4" width="50.7" height="48.7" fill="#9bc7dd" stroke="#c8c8c8" stroke-opacity="0.5" stroke-width="0.8"/>
<rect x="1933.9" y="1484.4" width="50.7" height="48.7" fill="#cce2ed" stroke="#c8c8c8" stroke-opacity="0.5" stroke-width="0.8"/>
<rect x="923.0" y="1387.4" width="1061.4" height="145.5" fill="none" stroke="#111" stroke-width="3.4"/>
<line x1="914.5" y1="1411.7" x2="923.0" y2="1411.7" stroke="#111" stroke-width="2"/>
<text transform="translate(911,1421.2) scale(0.92,1.08)" font-size="26" text-anchor="end">2</text>
<line x1="914.5" y1="1460.2" x2="923.0" y2="1460.2" stroke="#111" stroke-width="2"/>
<text transform="translate(911,1469.8) scale(0.92,1.08)" font-size="26" text-anchor="end">5</text>
<line x1="914.5" y1="1508.7" x2="923.0" y2="1508.7" stroke="#111" stroke-width="2"/>
<text transform="translate(911,1518.2) scale(0.92,1.08)" font-size="26" text-anchor="end">21</text>
<line x1="948.3" y1="1532.9" x2="948.3" y2="1541.4" stroke="#111" stroke-width="2"/>
<text transform="translate(959.5,1551.9) rotate(-90)" font-size="26" text-anchor="end">GPI</text>
<line x1="998.8" y1="1532.9" x2="998.8" y2="1541.4" stroke="#111" stroke-width="2"/>
<text transform="translate(1010.0,1551.9) rotate(-90)" font-size="26" text-anchor="end">TPI1</text>
<line x1="1049.4" y1="1532.9" x2="1049.4" y2="1541.4" stroke="#111" stroke-width="2"/>
<text transform="translate(1060.6,1551.9) rotate(-90)" font-size="26" text-anchor="end">PGAM1</text>
<line x1="1099.9" y1="1532.9" x2="1099.9" y2="1541.4" stroke="#111" stroke-width="2"/>
<text transform="translate(1111.1,1551.9) rotate(-90)" font-size="26" text-anchor="end">ENO1</text>
<line x1="1150.4" y1="1532.9" x2="1150.4" y2="1541.4" stroke="#111" stroke-width="2"/>
<text transform="translate(1161.6,1551.9) rotate(-90)" font-size="26" text-anchor="end">ENO2</text>
<line x1="1201.0" y1="1532.9" x2="1201.0" y2="1541.4" stroke="#111" stroke-width="2"/>
<text transform="translate(1212.2,1551.9) rotate(-90)" font-size="26" text-anchor="end">GCK</text>
<line x1="1251.5" y1="1532.9" x2="1251.5" y2="1541.4" stroke="#111" stroke-width="2"/>
<text transform="translate(1262.7,1551.9) rotate(-90)" font-size="26" text-anchor="end">LDHA</text>
<line x1="1302.1" y1="1532.9" x2="1302.1" y2="1541.4" stroke="#111" stroke-width="2"/>
<text transform="translate(1313.3,1551.9) rotate(-90)" font-size="26" text-anchor="end">PKM</text>
<line x1="1352.6" y1="1532.9" x2="1352.6" y2="1541.4" stroke="#111" stroke-width="2"/>
<text transform="translate(1363.8,1551.9) rotate(-90)" font-size="26" text-anchor="end">EDN1</text>
<line x1="1403.2" y1="1532.9" x2="1403.2" y2="1541.4" stroke="#111" stroke-width="2"/>
<text transform="translate(1414.4,1551.9) rotate(-90)" font-size="26" text-anchor="end">EGLN3</text>
<line x1="1453.7" y1="1532.9" x2="1453.7" y2="1541.4" stroke="#111" stroke-width="2"/>
<text transform="translate(1464.9,1551.9) rotate(-90)" font-size="26" text-anchor="end">PFKFB3</text>
<line x1="1504.2" y1="1532.9" x2="1504.2" y2="1541.4" stroke="#111" stroke-width="2"/>
<text transform="translate(1515.4,1551.9) rotate(-90)" font-size="26" text-anchor="end">ANGPT2</text>
<line x1="1554.8" y1="1532.9" x2="1554.8" y2="1541.4" stroke="#111" stroke-width="2"/>
<text transform="translate(1566.0,1551.9) rotate(-90)" font-size="26" text-anchor="end">STAT3</text>
<line x1="1605.3" y1="1532.9" x2="1605.3" y2="1541.4" stroke="#111" stroke-width="2"/>
<text transform="translate(1616.5,1551.9) rotate(-90)" font-size="26" text-anchor="end">SLC2A1</text>
<line x1="1655.9" y1="1532.9" x2="1655.9" y2="1541.4" stroke="#111" stroke-width="2"/>
<text transform="translate(1667.1,1551.9) rotate(-90)" font-size="26" text-anchor="end">PFKFB4</text>
<line x1="1706.4" y1="1532.9" x2="1706.4" y2="1541.4" stroke="#111" stroke-width="2"/>
<text transform="translate(1717.6,1551.9) rotate(-90)" font-size="26" text-anchor="end">PFKFB3</text>
<line x1="1757.0" y1="1532.9" x2="1757.0" y2="1541.4" stroke="#111" stroke-width="2"/>
<text transform="translate(1768.2,1551.9) rotate(-90)" font-size="26" text-anchor="end">TPI1</text>
<line x1="1807.5" y1="1532.9" x2="1807.5" y2="1541.4" stroke="#111" stroke-width="2"/>
<text transform="translate(1818.7,1551.9) rotate(-90)" font-size="26" text-anchor="end">ALDOA</text>
<line x1="1858.0" y1="1532.9" x2="1858.0" y2="1541.4" stroke="#111" stroke-width="2"/>
<text transform="translate(1869.2,1551.9) rotate(-90)" font-size="26" text-anchor="end">HK2</text>
<line x1="1908.6" y1="1532.9" x2="1908.6" y2="1541.4" stroke="#111" stroke-width="2"/>
<text transform="translate(1919.8,1551.9) rotate(-90)" font-size="26" text-anchor="end">PFKP</text>
<line x1="1959.1" y1="1532.9" x2="1959.1" y2="1541.4" stroke="#111" stroke-width="2"/>
<text transform="translate(1970.3,1551.9) rotate(-90)" font-size="26" text-anchor="end">HK1</text>
<path d="M933,1387.4 V1373.7 H1312 V1387.4" fill="none" stroke="#111" stroke-width="3"/>
<text transform="translate(1127.0,1355.0)" font-size="30.2" text-anchor="middle">Glycolysis</text>
<path d="M1337,1387.4 V1373.7 H1614.8 V1387.4" fill="none" stroke="#111" stroke-width="3"/>
<text transform="translate(1474.3,1354.0)" font-size="30.2" text-anchor="middle">HIF-1 signaling</text>
<path d="M1641,1387.4 V1373.7 H1968.8 V1387.4" fill="none" stroke="#111" stroke-width="3"/>
<text transform="translate(1803.5,1355.0)" font-size="30.2" text-anchor="middle">Carbon metabolism</text>
<rect x="931.1" y="1729.3" width="47.8" height="46.8" fill="#8dbfd8" stroke="#c8c8c8" stroke-opacity="0.5" stroke-width="0.8"/>
<rect x="978.7" y="1729.3" width="47.8" height="46.8" fill="#c9e0ec" stroke="#c8c8c8" stroke-opacity="0.5" stroke-width="0.8"/>
<rect x="1026.3" y="1729.3" width="47.8" height="46.8" fill="#ddeaf1" stroke="#c8c8c8" stroke-opacity="0.5" stroke-width="0.8"/>
<rect x="1073.9" y="1729.3" width="47.8" height="46.8" fill="#dfebf1" stroke="#c8c8c8" stroke-opacity="0.5" stroke-width="0.8"/>
<rect x="1121.4" y="1729.3" width="47.8" height="46.8" fill="#c9e0ec" stroke="#c8c8c8" stroke-opacity="0.5" stroke-width="0.8"/>
<rect x="1169.0" y="1729.3" width="47.8" height="46.8" fill="#bad7e7" stroke="#c8c8c8" stroke-opacity="0.5" stroke-width="0.8"/>
<rect x="1216.6" y="1729.3" width="47.8" height="46.8" fill="#d2e5ef" stroke="#c8c8c8" stroke-opacity="0.5" stroke-width="0.8"/>
<rect x="1264.2" y="1729.3" width="47.8" height="46.8" fill="#a5ccdf" stroke="#c8c8c8" stroke-opacity="0.5" stroke-width="0.8"/>
<rect x="1311.8" y="1729.3" width="47.8" height="46.8" fill="#dae9f0" stroke="#c8c8c8" stroke-opacity="0.5" stroke-width="0.8"/>
<rect x="1359.4" y="1729.3" width="47.8" height="46.8" fill="#cfe3ee" stroke="#c8c8c8" stroke-opacity="0.5" stroke-width="0.8"/>
<rect x="1407.0" y="1729.3" width="47.8" height="46.8" fill="#ddeaf1" stroke="#c8c8c8" stroke-opacity="0.5" stroke-width="0.8"/>
<rect x="1454.5" y="1729.3" width="47.8" height="46.8" fill="#dae9f0" stroke="#c8c8c8" stroke-opacity="0.5" stroke-width="0.8"/>
<rect x="1502.1" y="1729.3" width="47.8" height="46.8" fill="#c3dcea" stroke="#c8c8c8" stroke-opacity="0.5" stroke-width="0.8"/>
<rect x="1549.7" y="1729.3" width="47.8" height="46.8" fill="#b7d6e6" stroke="#c8c8c8" stroke-opacity="0.5" stroke-width="0.8"/>
<rect x="931.1" y="1775.9" width="47.8" height="46.8" fill="#f9e9e0" stroke="#c8c8c8" stroke-opacity="0.5" stroke-width="0.8"/>
<rect x="978.7" y="1775.9" width="47.8" height="46.8" fill="#e5eef3" stroke="#c8c8c8" stroke-opacity="0.5" stroke-width="0.8"/>
<rect x="1026.3" y="1775.9" width="47.8" height="46.8" fill="#f7f7f7" stroke="#c8c8c8" stroke-opacity="0.5" stroke-width="0.8"/>
<rect x="1073.9" y="1775.9" width="47.8" height="46.8" fill="#e7eff3" stroke="#c8c8c8" stroke-opacity="0.5" stroke-width="0.8"/>
<rect x="1121.4" y="1775.9" width="47.8" height="46.8" fill="#dfebf1" stroke="#c8c8c8" stroke-opacity="0.5" stroke-width="0.8"/>
<rect x="1169.0" y="1775.9" width="47.8" height="46.8" fill="#f9eae2" stroke="#c8c8c8" stroke-opacity="0.5" stroke-width="0.8"/>
<rect x="1216.6" y="1775.9" width="47.8" height="46.8" fill="#f7f7f7" stroke="#c8c8c8" stroke-opacity="0.5" stroke-width="0.8"/>
<rect x="1264.2" y="1775.9" width="47.8" height="46.8" fill="#e8f0f4" stroke="#c8c8c8" stroke-opacity="0.5" stroke-width="0.8"/>
<rect x="1311.8" y="1775.9" width="47.8" height="46.8" fill="#f5f6f7" stroke="#c8c8c8" stroke-opacity="0.5" stroke-width="0.8"/>
<rect x="1359.4" y="1775.9" width="47.8" height="46.8" fill="#f8f1ed" stroke="#c8c8c8" stroke-opacity="0.5" stroke-width="0.8"/>
<rect x="1407.0" y="1775.9" width="47.8" height="46.8" fill="#eaf1f5" stroke="#c8c8c8" stroke-opacity="0.5" stroke-width="0.8"/>
<rect x="1454.5" y="1775.9" width="47.8" height="46.8" fill="#f1f4f6" stroke="#c8c8c8" stroke-opacity="0.5" stroke-width="0.8"/>
<rect x="1502.1" y="1775.9" width="47.8" height="46.8" fill="#f8f3f0" stroke="#c8c8c8" stroke-opacity="0.5" stroke-width="0.8"/>
<rect x="1549.7" y="1775.9" width="47.8" height="46.8" fill="#f8ece5" stroke="#c8c8c8" stroke-opacity="0.5" stroke-width="0.8"/>
<rect x="931.1" y="1822.5" width="47.8" height="46.8" fill="#efa786" stroke="#c8c8c8" stroke-opacity="0.5" stroke-width="0.8"/>
<rect x="978.7" y="1822.5" width="47.8" height="46.8" fill="#e69276" stroke="#c8c8c8" stroke-opacity="0.5" stroke-width="0.8"/>
<rect x="1026.3" y="1822.5" width="47.8" height="46.8" fill="#fae3d7" stroke="#c8c8c8" stroke-opacity="0.5" stroke-width="0.8"/>
<rect x="1073.9" y="1822.5" width="47.8" height="46.8" fill="#f8d1bc" stroke="#c8c8c8" stroke-opacity="0.5" stroke-width="0.8"/>
<rect x="1121.4" y="1822.5" width="47.8" height="46.8" fill="#da7a64" stroke="#c8c8c8" stroke-opacity="0.5" stroke-width="0.8"/>
<rect x="1169.0" y="1822.5" width="47.8" height="46.8" fill="#f7c9b2" stroke="#c8c8c8" stroke-opacity="0.5" stroke-width="0.8"/>
<rect x="1216.6" y="1822.5" width="47.8" height="46.8" fill="#f6c6ae" stroke="#c8c8c8" stroke-opacity="0.5" stroke-width="0.8"/>
<rect x="1264.2" y="1822.5" width="47.8" height="46.8" fill="#d8735e" stroke="#c8c8c8" stroke-opacity="0.5" stroke-width="0.8"/>
<rect x="1311.8" y="1822.5" width="47.8" height="46.8" fill="#fae2d5" stroke="#c8c8c8" stroke-opacity="0.5" stroke-width="0.8"/>
<rect x="1359.4" y="1822.5" width="47.8" height="46.8" fill="#fbddcb" stroke="#c8c8c8" stroke-opacity="0.5" stroke-width="0.8"/>
<rect x="1407.0" y="1822.5" width="47.8" height="46.8" fill="#fad4c0" stroke="#c8c8c8" stroke-opacity="0.5" stroke-width="0.8"/>
<rect x="1454.5" y="1822.5" width="47.8" height="46.8" fill="#fae0d0" stroke="#c8c8c8" stroke-opacity="0.5" stroke-width="0.8"/>
<rect x="1502.1" y="1822.5" width="47.8" height="46.8" fill="#f7c9b2" stroke="#c8c8c8" stroke-opacity="0.5" stroke-width="0.8"/>
<rect x="1549.7" y="1822.5" width="47.8" height="46.8" fill="#f7ccb5" stroke="#c8c8c8" stroke-opacity="0.5" stroke-width="0.8"/>
<rect x="931.1" y="1729.3" width="666.2" height="139.8" fill="none" stroke="#111" stroke-width="3.4"/>
<line x1="922.6" y1="1752.6" x2="931.1" y2="1752.6" stroke="#111" stroke-width="2"/>
<text transform="translate(918.5,1762.2) scale(0.92,1.08)" font-size="26" text-anchor="end">2</text>
<line x1="922.6" y1="1799.2" x2="931.1" y2="1799.2" stroke="#111" stroke-width="2"/>
<text transform="translate(918.5,1808.8) scale(0.92,1.08)" font-size="26" text-anchor="end">5</text>
<line x1="922.6" y1="1845.8" x2="931.1" y2="1845.8" stroke="#111" stroke-width="2"/>
<text transform="translate(918.5,1855.4) scale(0.92,1.08)" font-size="26" text-anchor="end">21</text>
<line x1="954.9" y1="1869.1" x2="954.9" y2="1877.6" stroke="#111" stroke-width="2"/>
<text transform="translate(966.1,1886.6) rotate(-90)" font-size="26" text-anchor="end">INS</text>
<line x1="1002.5" y1="1869.1" x2="1002.5" y2="1877.6" stroke="#111" stroke-width="2"/>
<text transform="translate(1013.7,1886.6) rotate(-90)" font-size="26" text-anchor="end">PDX1</text>
<line x1="1050.1" y1="1869.1" x2="1050.1" y2="1877.6" stroke="#111" stroke-width="2"/>
<text transform="translate(1061.3,1886.6) rotate(-90)" font-size="26" text-anchor="end">RYR2</text>
<line x1="1097.7" y1="1869.1" x2="1097.7" y2="1877.6" stroke="#111" stroke-width="2"/>
<text transform="translate(1108.9,1886.6) rotate(-90)" font-size="26" text-anchor="end">SLC2A2</text>
<line x1="1145.2" y1="1869.1" x2="1145.2" y2="1877.6" stroke="#111" stroke-width="2"/>
<text transform="translate(1156.4,1886.6) rotate(-90)" font-size="26" text-anchor="end">PRKCA</text>
<line x1="1192.8" y1="1869.1" x2="1192.8" y2="1877.6" stroke="#111" stroke-width="2"/>
<text transform="translate(1204.0,1886.6) rotate(-90)" font-size="26" text-anchor="end">CACNA1D</text>
<line x1="1240.4" y1="1869.1" x2="1240.4" y2="1877.6" stroke="#111" stroke-width="2"/>
<text transform="translate(1251.6,1886.6) rotate(-90)" font-size="26" text-anchor="end">ADCY1</text>
<line x1="1288.0" y1="1869.1" x2="1288.0" y2="1877.6" stroke="#111" stroke-width="2"/>
<text transform="translate(1299.2,1886.6) rotate(-90)" font-size="26" text-anchor="end">VAV3</text>
<line x1="1335.6" y1="1869.1" x2="1335.6" y2="1877.6" stroke="#111" stroke-width="2"/>
<text transform="translate(1346.8,1886.6) rotate(-90)" font-size="26" text-anchor="end">RYR2</text>
<line x1="1383.2" y1="1869.1" x2="1383.2" y2="1877.6" stroke="#111" stroke-width="2"/>
<text transform="translate(1394.4,1886.6) rotate(-90)" font-size="26" text-anchor="end">GIPR</text>
<line x1="1430.8" y1="1869.1" x2="1430.8" y2="1877.6" stroke="#111" stroke-width="2"/>
<text transform="translate(1442.0,1886.6) rotate(-90)" font-size="26" text-anchor="end">PTGER2</text>
<line x1="1478.3" y1="1869.1" x2="1478.3" y2="1877.6" stroke="#111" stroke-width="2"/>
<text transform="translate(1489.5,1886.6) rotate(-90)" font-size="26" text-anchor="end">PTGER3</text>
<line x1="1525.9" y1="1869.1" x2="1525.9" y2="1877.6" stroke="#111" stroke-width="2"/>
<text transform="translate(1537.1,1886.6) rotate(-90)" font-size="26" text-anchor="end">PIK3R3</text>
<line x1="1573.5" y1="1869.1" x2="1573.5" y2="1877.6" stroke="#111" stroke-width="2"/>
<text transform="translate(1584.7,1886.6) rotate(-90)" font-size="26" text-anchor="end">CACNA1D</text>
<path d="M940.5,1729.3 V1716.8 H1249.5 V1729.3" fill="none" stroke="#111" stroke-width="3"/>
<text transform="translate(1104.3,1696.0)" font-size="30.2" text-anchor="middle">Insulin secretion</text>
<path d="M1272.6,1729.3 V1716.8 H1582.3 V1729.3" fill="none" stroke="#111" stroke-width="3"/>
<text transform="translate(1425.6,1696.0)" font-size="30.2" text-anchor="middle">cAMP signaling</text>
<defs><linearGradient id="cbI" x1="0" x2="1" y1="0" y2="0">
<stop offset="0.000" stop-color="#053061"/>
<stop offset="0.050" stop-color="#134b86"/>
<stop offset="0.100" stop-color="#2166ac"/>
<stop offset="0.150" stop-color="#327db8"/>
<stop offset="0.200" stop-color="#4393c3"/>
<stop offset="0.250" stop-color="#6aacd0"/>
<stop offset="0.300" stop-color="#92c5de"/>
<stop offset="0.350" stop-color="#b2d5e7"/>
<stop offset="0.400" stop-color="#d1e5f0"/>
<stop offset="0.450" stop-color="#e4eef4"/>
<stop offset="0.500" stop-color="#f7f7f7"/>
<stop offset="0.550" stop-color="#fae9df"/>
<stop offset="0.600" stop-color="#fddbc7"/>
<stop offset="0.650" stop-color="#f8c0a4"/>
<stop offset="0.700" stop-color="#f4a582"/>
<stop offset="0.750" stop-color="#e58268"/>
<stop offset="0.800" stop-color="#d6604d"/>
<stop offset="0.850" stop-color="#c43c3c"/>
<stop offset="0.900" stop-color="#b2182b"/>
<stop offset="0.950" stop-color="#8c0c25"/>
<stop offset="1.000" stop-color="#67001f"/>
</linearGradient></defs>
<rect x="1641.6" y="1844" width="193.5" height="25.1" fill="url(#cbI)" stroke="#111" stroke-width="2"/>
<line x1="1641.6" y1="1869.1" x2="1641.6" y2="1877" stroke="#111" stroke-width="2"/>
<line x1="1738.4" y1="1869.1" x2="1738.4" y2="1877" stroke="#111" stroke-width="2"/>
<line x1="1835.1" y1="1869.1" x2="1835.1" y2="1877" stroke="#111" stroke-width="2"/>
<text transform="translate(1645.5,1901.7) scale(0.92,1.12)" font-size="26" text-anchor="end">-1</text>
<text transform="translate(1739.8,1901.7) scale(0.92,1.12)" font-size="26" text-anchor="middle">0</text>
<text transform="translate(1833.5,1901.7) scale(0.92,1.12)" font-size="26" text-anchor="middle">1</text>
<line x1="1738.4" y1="1844" x2="1738.4" y2="1869" stroke="#999" stroke-width="1"/>
<text transform="translate(1740.5,1783.6)" font-size="26.2" text-anchor="middle">Mean expression</text>
<text transform="translate(1740.8,1814.4)" font-size="26.2" text-anchor="middle">in group</text>
<text transform="translate(810.0,1360.0)" font-size="68">i</text>
</svg></body></html>
